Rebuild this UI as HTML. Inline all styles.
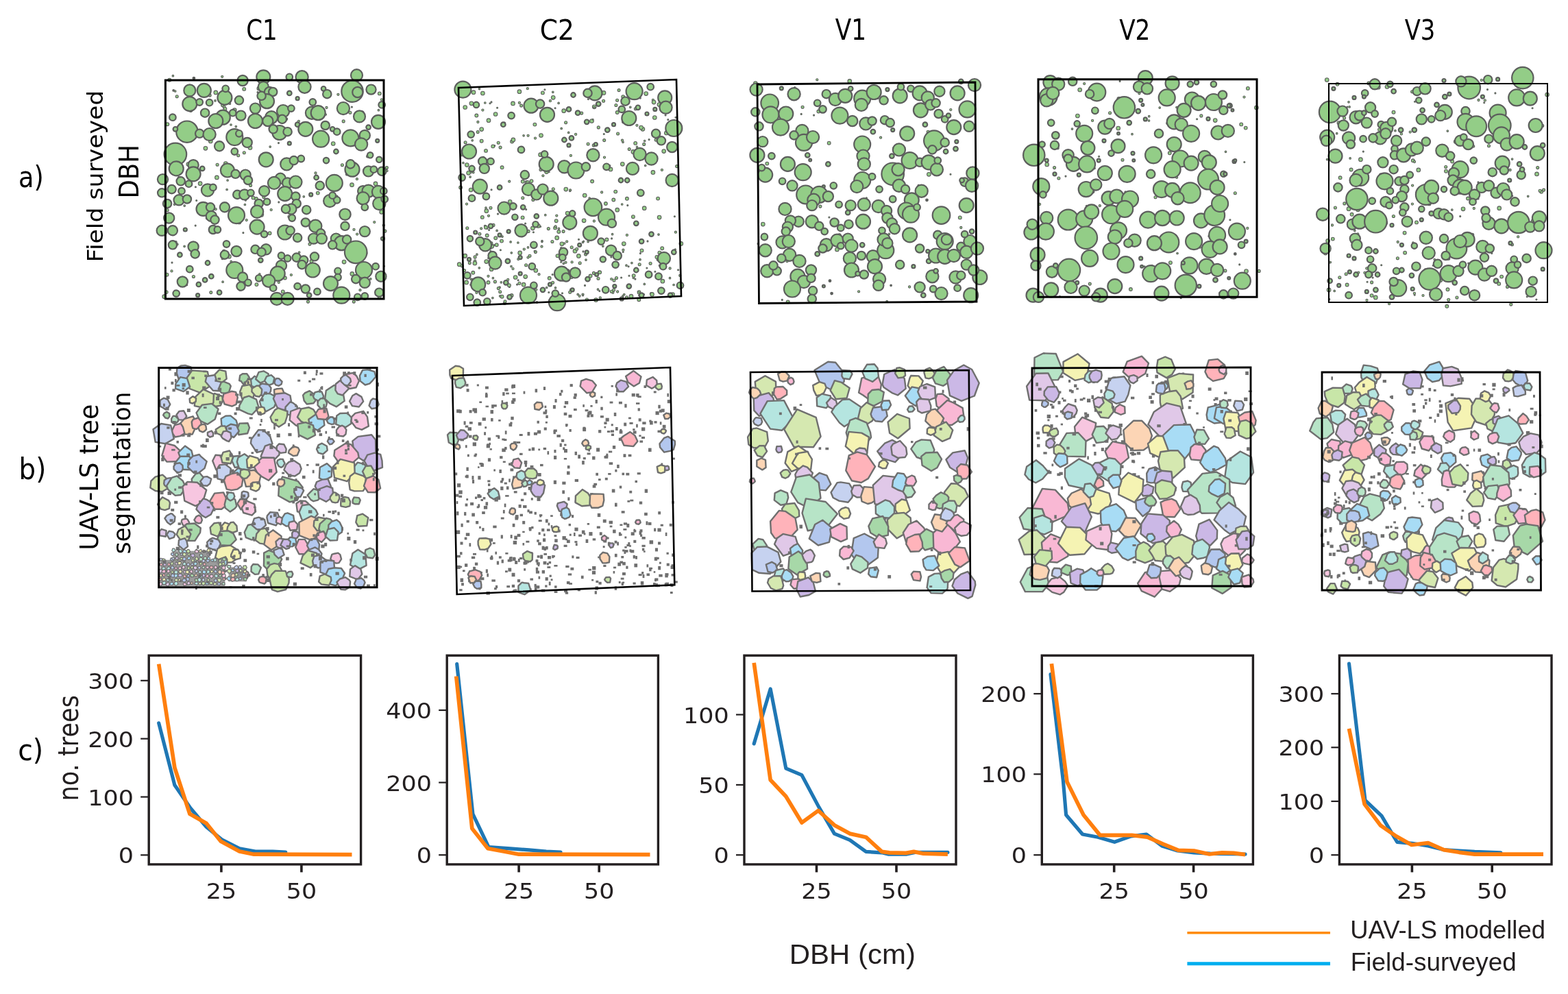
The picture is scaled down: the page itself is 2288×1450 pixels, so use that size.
<!DOCTYPE html>
<html><head><meta charset="utf-8"><title>Figure</title>
<style>html,body{margin:0;padding:0;background:#fff;} svg{display:block;}</style></head>
<body><svg width="2288" height="1450" viewBox="0 0 2288 1450">
<rect width="2288" height="1450" fill="#fff"/>
<g fill="#93cd87" stroke="#5c5e5c" stroke-width="2.2">
<circle cx="342.3" cy="160.7" r="2.8" stroke-width="1.1"/>
<circle cx="251.0" cy="383.1" r="1.0" stroke-width="1.1"/>
<circle cx="356.2" cy="129.9" r="2.4" stroke-width="1.1"/>
<circle cx="306.2" cy="139.1" r="2.0" stroke-width="1.1"/>
<circle cx="258.2" cy="140.7" r="2.0" stroke-width="1.1"/>
<circle cx="254.6" cy="298.2" r="1.3" stroke-width="1.1"/>
<circle cx="444.0" cy="304.0" r="1.0" stroke-width="1.1"/>
<circle cx="426.2" cy="242.2" r="1.3" stroke-width="1.1"/>
<circle cx="250.5" cy="395.4" r="1.6" stroke-width="1.1"/>
<circle cx="373.9" cy="290.0" r="2.4" stroke-width="1.1"/>
<circle cx="337.2" cy="381.4" r="1.3" stroke-width="1.1"/>
<circle cx="269.2" cy="300.1" r="1.3" stroke-width="1.1"/>
<circle cx="358.4" cy="292.3" r="1.0" stroke-width="1.1"/>
<circle cx="422.0" cy="316.0" r="2.0" stroke-width="1.1"/>
<circle cx="460.5" cy="252.5" r="1.6" stroke-width="1.1"/>
<circle cx="389.3" cy="417.0" r="1.6" stroke-width="1.1"/>
<circle cx="334.4" cy="374.2" r="2.8" stroke-width="1.1"/>
<circle cx="493.4" cy="137.8" r="1.6" stroke-width="1.1"/>
<circle cx="409.0" cy="401.0" r="2.8" stroke-width="1.1"/>
<circle cx="383.7" cy="312.6" r="1.0" stroke-width="1.1"/>
<circle cx="274.1" cy="249.3" r="1.6" stroke-width="1.1"/>
<circle cx="285.4" cy="272.8" r="1.0" stroke-width="1.1"/>
<circle cx="553.8" cy="136.4" r="2.4" stroke-width="1.1"/>
<circle cx="424.9" cy="401.1" r="1.6" stroke-width="1.1"/>
<circle cx="347.7" cy="226.8" r="2.0" stroke-width="1.1"/>
<circle cx="427.2" cy="262.0" r="1.0" stroke-width="1.1"/>
<circle cx="548.0" cy="267.9" r="2.8" stroke-width="1.1"/>
<circle cx="256.6" cy="353.2" r="1.6" stroke-width="1.1"/>
<circle cx="449.5" cy="440.1" r="2.0" stroke-width="1.1"/>
<circle cx="329.3" cy="238.6" r="2.8" stroke-width="1.1"/>
<circle cx="350.0" cy="422.7" r="1.6" stroke-width="1.1"/>
<circle cx="290.7" cy="149.5" r="1.0" stroke-width="1.1"/>
<circle cx="307.3" cy="206.0" r="2.8" stroke-width="1.1"/>
<circle cx="317.1" cy="240.3" r="2.0" stroke-width="1.1"/>
<circle cx="261.7" cy="259.6" r="2.4" stroke-width="1.1"/>
<circle cx="327.1" cy="156.0" r="2.0" stroke-width="1.1"/>
<circle cx="521.3" cy="203.0" r="2.0" stroke-width="1.1"/>
<circle cx="561.9" cy="337.1" r="2.0" stroke-width="1.1"/>
<circle cx="552.4" cy="160.7" r="1.3" stroke-width="1.1"/>
<circle cx="285.2" cy="329.1" r="1.0" stroke-width="1.1"/>
<circle cx="395.7" cy="306.1" r="1.6" stroke-width="1.1"/>
<circle cx="328.4" cy="158.9" r="2.4" stroke-width="1.1"/>
<circle cx="357.4" cy="298.5" r="1.3" stroke-width="1.1"/>
<circle cx="463.8" cy="281.6" r="2.4" stroke-width="1.1"/>
<circle cx="452.0" cy="356.1" r="2.0" stroke-width="1.1"/>
<circle cx="533.1" cy="369.4" r="2.8" stroke-width="1.1"/>
<circle cx="499.4" cy="240.8" r="2.0" stroke-width="1.1"/>
<circle cx="365.6" cy="270.4" r="2.0" stroke-width="1.1"/>
<circle cx="255.7" cy="133.0" r="1.3" stroke-width="1.1"/>
<circle cx="381.0" cy="147.1" r="2.4" stroke-width="1.1"/>
<circle cx="252.4" cy="110.7" r="1.3" stroke-width="1.1"/>
<circle cx="412.8" cy="425.4" r="2.4" stroke-width="1.1"/>
<circle cx="243.5" cy="400.7" r="2.4" stroke-width="1.1"/>
<circle cx="359.7" cy="321.1" r="1.6" stroke-width="1.1"/>
<circle cx="434.6" cy="267.9" r="1.0" stroke-width="1.1"/>
<circle cx="516.3" cy="440.1" r="2.0" stroke-width="1.1"/>
<circle cx="394.2" cy="214.1" r="1.3" stroke-width="1.1"/>
<circle cx="268.9" cy="224.3" r="1.6" stroke-width="1.1"/>
<circle cx="393.6" cy="340.2" r="2.4" stroke-width="1.1"/>
<circle cx="242.7" cy="426.1" r="2.4" stroke-width="1.1"/>
<circle cx="354.9" cy="339.6" r="1.0" stroke-width="1.1"/>
<circle cx="486.2" cy="209.5" r="2.8" stroke-width="1.1"/>
<circle cx="521.1" cy="341.6" r="1.6" stroke-width="1.1"/>
<circle cx="406.8" cy="411.9" r="1.6" stroke-width="1.1"/>
<circle cx="490.8" cy="287.3" r="2.4" stroke-width="1.1"/>
<circle cx="344.3" cy="184.6" r="1.3" stroke-width="1.1"/>
<circle cx="502.1" cy="382.1" r="2.8" stroke-width="1.1"/>
<circle cx="501.2" cy="176.9" r="2.0" stroke-width="1.1"/>
<circle cx="352.8" cy="120.2" r="1.0" stroke-width="1.1"/>
<circle cx="496.8" cy="267.3" r="1.3" stroke-width="1.1"/>
<circle cx="464.5" cy="428.0" r="2.0" stroke-width="1.1"/>
<circle cx="502.9" cy="350.5" r="1.6" stroke-width="1.1"/>
<circle cx="551.5" cy="231.6" r="1.3" stroke-width="1.1"/>
<circle cx="268.9" cy="266.6" r="1.6" stroke-width="1.1"/>
<circle cx="302.7" cy="317.7" r="2.4" stroke-width="1.1"/>
<circle cx="513.5" cy="269.7" r="2.8" stroke-width="1.1"/>
<circle cx="349.0" cy="324.0" r="2.8" stroke-width="1.1"/>
<circle cx="274.8" cy="239.5" r="2.8" stroke-width="1.1"/>
<circle cx="483.6" cy="269.2" r="1.3" stroke-width="1.1"/>
<circle cx="378.8" cy="321.6" r="1.0" stroke-width="1.1"/>
<circle cx="500.4" cy="433.0" r="2.0" stroke-width="1.1"/>
<circle cx="388.5" cy="357.2" r="1.0" stroke-width="1.1"/>
<circle cx="475.2" cy="167.0" r="1.3" stroke-width="1.1"/>
<circle cx="244.2" cy="306.6" r="2.0" stroke-width="1.1"/>
<circle cx="502.3" cy="159.1" r="2.4" stroke-width="1.1"/>
<circle cx="559.8" cy="328.7" r="1.6" stroke-width="1.1"/>
<circle cx="286.7" cy="292.5" r="1.0" stroke-width="1.1"/>
<circle cx="239.7" cy="432.7" r="2.8" stroke-width="1.1"/>
<circle cx="269.1" cy="359.3" r="1.3" stroke-width="1.1"/>
<circle cx="378.8" cy="399.8" r="1.3" stroke-width="1.1"/>
<circle cx="244.3" cy="181.2" r="2.4" stroke-width="1.1"/>
<circle cx="314.7" cy="305.2" r="1.6" stroke-width="1.1"/>
<circle cx="415.4" cy="387.4" r="1.0" stroke-width="1.1"/>
<circle cx="536.6" cy="228.0" r="2.0" stroke-width="1.1"/>
<circle cx="454.5" cy="381.0" r="2.4" stroke-width="1.1"/>
<circle cx="374.4" cy="415.1" r="2.4" stroke-width="1.1"/>
<circle cx="278.4" cy="161.0" r="2.4" stroke-width="1.1"/>
<circle cx="241.2" cy="256.6" r="1.3" stroke-width="1.1"/>
<circle cx="436.7" cy="368.1" r="1.3" stroke-width="1.1"/>
<circle cx="292.1" cy="267.7" r="2.8" stroke-width="1.1"/>
<circle cx="274.9" cy="131.1" r="2.8" stroke-width="1.1"/>
<circle cx="406.8" cy="294.9" r="1.0" stroke-width="1.1"/>
<circle cx="527.7" cy="129.5" r="1.3" stroke-width="1.1"/>
<circle cx="326.8" cy="366.8" r="2.4" stroke-width="1.1"/>
<circle cx="384.9" cy="119.9" r="1.0" stroke-width="1.1"/>
<circle cx="381.9" cy="313.8" r="2.4" stroke-width="1.1"/>
<circle cx="435.9" cy="176.8" r="1.6" stroke-width="1.1"/>
<circle cx="384.9" cy="287.5" r="2.0" stroke-width="1.1"/>
<circle cx="403.3" cy="192.8" r="2.4" stroke-width="1.1"/>
<circle cx="525.5" cy="423.2" r="1.6" stroke-width="1.1"/>
<circle cx="540.8" cy="406.8" r="1.3" stroke-width="1.1"/>
<circle cx="513.4" cy="156.1" r="1.0" stroke-width="1.1"/>
<circle cx="365.0" cy="215.4" r="2.8" stroke-width="1.1"/>
<circle cx="314.8" cy="134.9" r="2.8" stroke-width="1.1"/>
<circle cx="335.4" cy="151.2" r="1.3" stroke-width="1.1"/>
<circle cx="546.3" cy="324.1" r="1.6" stroke-width="1.1"/>
<circle cx="282.4" cy="403.5" r="2.0" stroke-width="1.1"/>
<circle cx="307.8" cy="426.6" r="2.0" stroke-width="1.1"/>
<circle cx="528.2" cy="164.6" r="2.8" stroke-width="1.1"/>
<circle cx="510.9" cy="164.2" r="2.0" stroke-width="1.1"/>
<circle cx="564.4" cy="244.6" r="2.0" stroke-width="1.1"/>
<circle cx="299.9" cy="216.3" r="2.8" stroke-width="1.1"/>
<circle cx="356.3" cy="222.7" r="2.0" stroke-width="1.1"/>
<circle cx="381.0" cy="116.6" r="1.6" stroke-width="1.1"/>
<circle cx="406.5" cy="208.6" r="1.0" stroke-width="1.1"/>
<circle cx="272.4" cy="415.4" r="1.3" stroke-width="1.1"/>
<circle cx="557.0" cy="145.4" r="1.6" stroke-width="1.1"/>
<circle cx="325.1" cy="411.2" r="1.3" stroke-width="1.1"/>
<circle cx="324.6" cy="153.6" r="2.0" stroke-width="1.1"/>
<circle cx="516.5" cy="334.9" r="1.6" stroke-width="1.1"/>
<circle cx="369.5" cy="288.6" r="2.4" stroke-width="1.1"/>
<circle cx="424.1" cy="343.0" r="1.0" stroke-width="1.1"/>
<circle cx="327.5" cy="375.9" r="1.3" stroke-width="1.1"/>
<circle cx="376.0" cy="134.6" r="1.0" stroke-width="1.1"/>
<circle cx="445.2" cy="376.6" r="1.0" stroke-width="1.1"/>
<circle cx="436.5" cy="184.4" r="1.6" stroke-width="1.1"/>
<circle cx="520.9" cy="261.2" r="1.6" stroke-width="1.1"/>
<circle cx="564.5" cy="249.2" r="1.6" stroke-width="1.1"/>
<circle cx="441.0" cy="125.0" r="2.8" stroke-width="1.1"/>
<circle cx="314.0" cy="146.9" r="1.3" stroke-width="1.1"/>
<circle cx="321.8" cy="170.7" r="1.6" stroke-width="1.1"/>
<circle cx="443.3" cy="286.8" r="1.3" stroke-width="1.1"/>
<circle cx="331.1" cy="276.5" r="1.3" stroke-width="1.1"/>
<circle cx="324.7" cy="377.2" r="1.6" stroke-width="1.1"/>
<circle cx="247.3" cy="116.7" r="2.4" stroke-width="1.1"/>
<circle cx="417.6" cy="173.5" r="2.0" stroke-width="1.1"/>
<circle cx="316.4" cy="258.9" r="2.8" stroke-width="1.1"/>
<circle cx="506.4" cy="254.0" r="2.0" stroke-width="1.1"/>
<circle cx="415.9" cy="405.5" r="2.4" stroke-width="1.1"/>
<circle cx="337.0" cy="182.0" r="1.3" stroke-width="1.1"/>
<circle cx="348.6" cy="386.7" r="2.8" stroke-width="1.1"/>
<circle cx="476.5" cy="157.0" r="1.6" stroke-width="1.1"/>
<circle cx="560.4" cy="388.3" r="1.0" stroke-width="1.1"/>
<circle cx="258.5" cy="356.4" r="1.6" stroke-width="1.1"/>
<circle cx="377.8" cy="129.0" r="2.8" stroke-width="1.1"/>
<circle cx="513.8" cy="399.4" r="2.8" stroke-width="1.1"/>
<circle cx="556.7" cy="309.3" r="2.8" stroke-width="1.1"/>
<circle cx="332.1" cy="263.0" r="1.3" stroke-width="1.1"/>
<circle cx="324.2" cy="111.8" r="1.6" stroke-width="1.1"/>
<circle cx="553.7" cy="433.3" r="2.4" stroke-width="1.1"/>
<circle cx="282.9" cy="114.1" r="1.3"/>
<circle cx="354.1" cy="117.5" r="7.6"/>
<circle cx="384.3" cy="112.3" r="10.0"/>
<circle cx="422.3" cy="112.3" r="4.8"/>
<circle cx="440.6" cy="112.3" r="9.1"/>
<circle cx="444.5" cy="126.7" r="9.1"/>
<circle cx="520.5" cy="109.7" r="8.5"/>
<circle cx="276.8" cy="131.9" r="8.5"/>
<circle cx="297.8" cy="131.9" r="10.0"/>
<circle cx="327.9" cy="142.4" r="10.5"/>
<circle cx="329.2" cy="129.3" r="4.8"/>
<circle cx="348.9" cy="146.3" r="6.2"/>
<circle cx="384.3" cy="126.7" r="7.6"/>
<circle cx="393.4" cy="134.5" r="7.6"/>
<circle cx="398.2" cy="134.0" r="6.2"/>
<circle cx="422.3" cy="135.9" r="3.3"/>
<circle cx="434.1" cy="143.7" r="2.5"/>
<circle cx="472.1" cy="129.3" r="3.3"/>
<circle cx="477.3" cy="137.2" r="6.2"/>
<circle cx="514.0" cy="133.2" r="15.7"/>
<circle cx="521.8" cy="134.5" r="7.6"/>
<circle cx="541.5" cy="130.6" r="7.1"/>
<circle cx="253.2" cy="131.9" r="0.8"/>
<circle cx="276.8" cy="151.6" r="10.5"/>
<circle cx="291.2" cy="149.0" r="4.8"/>
<circle cx="305.6" cy="149.7" r="4.8"/>
<circle cx="389.5" cy="147.7" r="10.5"/>
<circle cx="381.6" cy="139.8" r="6.2"/>
<circle cx="372.5" cy="158.1" r="7.6"/>
<circle cx="372.5" cy="176.5" r="10.5"/>
<circle cx="351.5" cy="168.6" r="7.1"/>
<circle cx="339.7" cy="164.7" r="4.8"/>
<circle cx="325.3" cy="171.2" r="10.5"/>
<circle cx="314.8" cy="176.5" r="10.5"/>
<circle cx="299.1" cy="164.7" r="6.2"/>
<circle cx="251.9" cy="171.2" r="4.8"/>
<circle cx="396.1" cy="171.2" r="9.1"/>
<circle cx="390.8" cy="176.5" r="7.6"/>
<circle cx="413.1" cy="162.1" r="9.1"/>
<circle cx="424.9" cy="158.1" r="4.8"/>
<circle cx="411.8" cy="173.9" r="6.2"/>
<circle cx="456.3" cy="149.0" r="4.8"/>
<circle cx="455.0" cy="164.7" r="9.1"/>
<circle cx="464.2" cy="164.7" r="10.5"/>
<circle cx="500.9" cy="158.1" r="9.1"/>
<circle cx="524.5" cy="169.9" r="8.5"/>
<circle cx="552.0" cy="177.8" r="10.0"/>
<circle cx="557.2" cy="152.9" r="4.8"/>
<circle cx="434.1" cy="181.7" r="3.3"/>
<circle cx="445.8" cy="188.3" r="10.5"/>
<circle cx="474.7" cy="183.0" r="6.2"/>
<circle cx="485.2" cy="188.3" r="3.3"/>
<circle cx="537.6" cy="185.6" r="3.3"/>
<circle cx="407.9" cy="193.5" r="10.5"/>
<circle cx="419.6" cy="192.2" r="6.2"/>
<circle cx="398.7" cy="188.3" r="6.2"/>
<circle cx="272.9" cy="192.2" r="15.7"/>
<circle cx="255.9" cy="188.3" r="3.3"/>
<circle cx="291.2" cy="194.8" r="6.2"/>
<circle cx="305.6" cy="196.1" r="9.1"/>
<circle cx="342.3" cy="200.1" r="12.0"/>
<circle cx="348.9" cy="194.8" r="4.8"/>
<circle cx="360.7" cy="207.9" r="7.1"/>
<circle cx="320.1" cy="213.2" r="7.1"/>
<circle cx="342.3" cy="221.0" r="4.8"/>
<circle cx="468.1" cy="202.7" r="12.0"/>
<circle cx="491.7" cy="192.2" r="4.8"/>
<circle cx="511.4" cy="201.4" r="12.0"/>
<circle cx="532.3" cy="197.4" r="7.6"/>
<circle cx="527.1" cy="210.5" r="9.1"/>
<circle cx="550.7" cy="205.3" r="2.5"/>
<circle cx="422.3" cy="209.2" r="2.5"/>
<circle cx="255.9" cy="225.0" r="16.3"/>
<circle cx="388.2" cy="232.8" r="10.5"/>
<circle cx="418.3" cy="239.4" r="9.1"/>
<circle cx="428.8" cy="234.1" r="6.2"/>
<circle cx="439.3" cy="231.5" r="4.8"/>
<circle cx="476.0" cy="234.1" r="4.2"/>
<circle cx="490.4" cy="221.0" r="3.3"/>
<circle cx="540.2" cy="226.3" r="4.2"/>
<circle cx="553.3" cy="232.8" r="4.2"/>
<circle cx="514.0" cy="247.2" r="10.5"/>
<circle cx="511.4" cy="239.4" r="6.2"/>
<circle cx="537.6" cy="249.9" r="7.6"/>
<circle cx="545.4" cy="247.2" r="4.8"/>
<circle cx="557.2" cy="249.9" r="6.2"/>
<circle cx="257.2" cy="245.9" r="10.5"/>
<circle cx="282.1" cy="240.7" r="7.6"/>
<circle cx="282.1" cy="253.8" r="10.5"/>
<circle cx="295.2" cy="245.9" r="3.3"/>
<circle cx="331.9" cy="248.5" r="10.0"/>
<circle cx="343.6" cy="253.8" r="6.2"/>
<circle cx="358.1" cy="255.1" r="7.6"/>
<circle cx="362.0" cy="263.0" r="6.2"/>
<circle cx="461.6" cy="259.0" r="3.3"/>
<circle cx="487.8" cy="266.9" r="12.0"/>
<circle cx="466.8" cy="270.8" r="6.2"/>
<circle cx="237.5" cy="261.6" r="7.6"/>
<circle cx="263.7" cy="264.3" r="6.2"/>
<circle cx="275.5" cy="268.2" r="4.8"/>
<circle cx="409.2" cy="260.3" r="7.6"/>
<circle cx="419.6" cy="266.9" r="7.6"/>
<circle cx="431.4" cy="265.6" r="9.1"/>
<circle cx="400.0" cy="266.9" r="9.1"/>
<circle cx="385.6" cy="278.7" r="7.6"/>
<circle cx="415.7" cy="282.6" r="10.5"/>
<circle cx="431.4" cy="286.5" r="6.2"/>
<circle cx="303.0" cy="277.4" r="9.1"/>
<circle cx="310.9" cy="273.4" r="4.8"/>
<circle cx="250.6" cy="276.1" r="6.2"/>
<circle cx="236.2" cy="281.3" r="6.2"/>
<circle cx="265.0" cy="278.7" r="4.8"/>
<circle cx="261.1" cy="291.8" r="7.6"/>
<circle cx="272.9" cy="290.5" r="6.2"/>
<circle cx="244.1" cy="297.0" r="6.2"/>
<circle cx="346.3" cy="283.9" r="6.2"/>
<circle cx="356.8" cy="283.9" r="7.6"/>
<circle cx="365.9" cy="281.3" r="4.8"/>
<circle cx="529.7" cy="278.7" r="7.6"/>
<circle cx="537.6" cy="278.7" r="9.1"/>
<circle cx="552.0" cy="280.0" r="9.1"/>
<circle cx="559.8" cy="278.7" r="4.8"/>
<circle cx="529.7" cy="289.2" r="9.1"/>
<circle cx="553.3" cy="297.0" r="9.1"/>
<circle cx="561.2" cy="290.5" r="4.8"/>
<circle cx="481.2" cy="293.1" r="9.1"/>
<circle cx="491.7" cy="291.8" r="4.8"/>
<circle cx="485.2" cy="285.2" r="4.8"/>
<circle cx="453.7" cy="283.9" r="2.5"/>
<circle cx="377.7" cy="297.0" r="6.2"/>
<circle cx="389.5" cy="294.4" r="4.8"/>
<circle cx="432.7" cy="297.0" r="6.2"/>
<circle cx="424.9" cy="304.9" r="7.6"/>
<circle cx="417.0" cy="304.9" r="6.2"/>
<circle cx="447.2" cy="306.2" r="6.2"/>
<circle cx="532.3" cy="302.3" r="4.8"/>
<circle cx="296.5" cy="304.9" r="10.0"/>
<circle cx="307.0" cy="302.3" r="6.2"/>
<circle cx="327.9" cy="302.3" r="7.1"/>
<circle cx="345.0" cy="314.1" r="12.0"/>
<circle cx="308.3" cy="315.4" r="7.6"/>
<circle cx="313.5" cy="320.6" r="6.2"/>
<circle cx="375.1" cy="308.8" r="9.1"/>
<circle cx="426.2" cy="318.0" r="4.8"/>
<circle cx="246.7" cy="318.0" r="7.6"/>
<circle cx="503.5" cy="312.7" r="8.2"/>
<circle cx="375.1" cy="331.1" r="10.5"/>
<circle cx="310.9" cy="335.0" r="6.2"/>
<circle cx="317.4" cy="335.0" r="4.8"/>
<circle cx="236.2" cy="336.3" r="7.6"/>
<circle cx="251.9" cy="336.3" r="7.1"/>
<circle cx="270.3" cy="335.0" r="2.5"/>
<circle cx="385.6" cy="341.6" r="4.8"/>
<circle cx="415.7" cy="339.0" r="10.5"/>
<circle cx="423.6" cy="336.3" r="6.2"/>
<circle cx="434.1" cy="346.8" r="6.2"/>
<circle cx="445.8" cy="324.5" r="6.2"/>
<circle cx="460.3" cy="329.8" r="9.1"/>
<circle cx="468.1" cy="340.3" r="6.2"/>
<circle cx="457.6" cy="348.1" r="7.6"/>
<circle cx="469.4" cy="348.1" r="7.6"/>
<circle cx="490.4" cy="348.1" r="7.6"/>
<circle cx="498.3" cy="354.7" r="10.5"/>
<circle cx="485.2" cy="357.3" r="6.2"/>
<circle cx="506.1" cy="349.4" r="6.2"/>
<circle cx="532.3" cy="337.6" r="7.6"/>
<circle cx="503.5" cy="329.8" r="6.2"/>
<circle cx="519.2" cy="367.8" r="16.3"/>
<circle cx="558.5" cy="348.1" r="2.5"/>
<circle cx="251.9" cy="357.3" r="6.2"/>
<circle cx="282.1" cy="359.9" r="7.6"/>
<circle cx="284.7" cy="370.4" r="6.2"/>
<circle cx="262.4" cy="371.7" r="3.3"/>
<circle cx="330.5" cy="356.0" r="4.8"/>
<circle cx="345.0" cy="366.5" r="7.6"/>
<circle cx="327.9" cy="371.7" r="6.2"/>
<circle cx="372.5" cy="363.8" r="6.2"/>
<circle cx="388.2" cy="363.8" r="7.6"/>
<circle cx="381.6" cy="367.8" r="6.2"/>
<circle cx="380.3" cy="379.6" r="3.3"/>
<circle cx="303.0" cy="383.5" r="3.3"/>
<circle cx="410.5" cy="373.0" r="4.8"/>
<circle cx="419.6" cy="376.9" r="4.8"/>
<circle cx="432.7" cy="375.6" r="6.2"/>
<circle cx="443.2" cy="379.6" r="6.2"/>
<circle cx="459.0" cy="374.3" r="6.2"/>
<circle cx="440.6" cy="386.1" r="6.2"/>
<circle cx="410.5" cy="387.4" r="7.6"/>
<circle cx="456.3" cy="394.0" r="10.5"/>
<circle cx="342.3" cy="394.0" r="12.0"/>
<circle cx="354.1" cy="404.5" r="7.1"/>
<circle cx="276.8" cy="392.7" r="4.8"/>
<circle cx="531.0" cy="394.0" r="12.0"/>
<circle cx="548.1" cy="388.7" r="4.8"/>
<circle cx="555.9" cy="403.2" r="7.6"/>
<circle cx="519.2" cy="407.1" r="6.2"/>
<circle cx="532.3" cy="412.3" r="7.6"/>
<circle cx="493.0" cy="395.3" r="4.8"/>
<circle cx="493.0" cy="404.5" r="4.8"/>
<circle cx="405.2" cy="399.2" r="10.5"/>
<circle cx="392.1" cy="409.7" r="9.1"/>
<circle cx="377.7" cy="405.8" r="4.8"/>
<circle cx="266.3" cy="411.0" r="7.6"/>
<circle cx="299.1" cy="408.4" r="3.3"/>
<circle cx="289.9" cy="414.9" r="3.3"/>
<circle cx="308.3" cy="403.2" r="3.3"/>
<circle cx="351.5" cy="417.6" r="6.2"/>
<circle cx="362.0" cy="412.3" r="4.8"/>
<circle cx="398.7" cy="420.2" r="4.8"/>
<circle cx="434.1" cy="417.6" r="4.8"/>
<circle cx="445.8" cy="421.5" r="6.2"/>
<circle cx="462.9" cy="425.4" r="4.8"/>
<circle cx="482.5" cy="413.6" r="10.5"/>
<circle cx="498.3" cy="430.7" r="12.0"/>
<circle cx="521.8" cy="433.3" r="4.8"/>
<circle cx="532.3" cy="432.0" r="4.8"/>
<circle cx="553.3" cy="426.7" r="6.2"/>
<circle cx="403.9" cy="435.9" r="9.1"/>
<circle cx="419.6" cy="435.9" r="9.1"/>
<circle cx="257.2" cy="428.1" r="4.8"/>
<circle cx="288.6" cy="430.7" r="2.5"/>
<circle cx="320.1" cy="426.7" r="3.3"/>
<circle cx="451.1" cy="430.7" r="3.3"/>
<circle cx="769.8" cy="129.2" r="1.6" stroke-width="1.1"/>
<circle cx="736.0" cy="179.6" r="1.6" stroke-width="1.1"/>
<circle cx="792.5" cy="273.7" r="2.4" stroke-width="1.1"/>
<circle cx="881.3" cy="195.5" r="1.0" stroke-width="1.1"/>
<circle cx="699.3" cy="390.8" r="1.3" stroke-width="1.1"/>
<circle cx="794.9" cy="130.7" r="1.0" stroke-width="1.1"/>
<circle cx="766.6" cy="326.0" r="1.0" stroke-width="1.1"/>
<circle cx="860.2" cy="289.0" r="1.3" stroke-width="1.1"/>
<circle cx="885.4" cy="349.5" r="2.4" stroke-width="1.1"/>
<circle cx="793.9" cy="224.6" r="2.0" stroke-width="1.1"/>
<circle cx="717.8" cy="359.3" r="2.8" stroke-width="1.1"/>
<circle cx="717.1" cy="392.7" r="2.8" stroke-width="1.1"/>
<circle cx="962.1" cy="317.1" r="2.8" stroke-width="1.1"/>
<circle cx="898.2" cy="279.6" r="2.4" stroke-width="1.1"/>
<circle cx="915.8" cy="299.6" r="1.0" stroke-width="1.1"/>
<circle cx="940.2" cy="303.7" r="2.8" stroke-width="1.1"/>
<circle cx="893.6" cy="341.7" r="1.3" stroke-width="1.1"/>
<circle cx="691.0" cy="134.7" r="2.8" stroke-width="1.1"/>
<circle cx="782.6" cy="152.0" r="2.0" stroke-width="1.1"/>
<circle cx="852.1" cy="321.8" r="2.8" stroke-width="1.1"/>
<circle cx="840.1" cy="195.9" r="1.6" stroke-width="1.1"/>
<circle cx="670.2" cy="385.7" r="2.8" stroke-width="1.1"/>
<circle cx="977.5" cy="405.4" r="1.0" stroke-width="1.1"/>
<circle cx="881.0" cy="135.4" r="2.8" stroke-width="1.1"/>
<circle cx="825.5" cy="382.8" r="1.6" stroke-width="1.1"/>
<circle cx="746.3" cy="368.8" r="1.3" stroke-width="1.1"/>
<circle cx="914.5" cy="433.9" r="2.0" stroke-width="1.1"/>
<circle cx="942.7" cy="136.6" r="2.8" stroke-width="1.1"/>
<circle cx="757.9" cy="133.7" r="2.8" stroke-width="1.1"/>
<circle cx="875.7" cy="139.4" r="1.3" stroke-width="1.1"/>
<circle cx="777.4" cy="332.8" r="2.8" stroke-width="1.1"/>
<circle cx="767.7" cy="305.5" r="1.0" stroke-width="1.1"/>
<circle cx="825.8" cy="276.1" r="2.8" stroke-width="1.1"/>
<circle cx="697.2" cy="192.6" r="2.0" stroke-width="1.1"/>
<circle cx="762.8" cy="288.8" r="2.0" stroke-width="1.1"/>
<circle cx="822.6" cy="369.1" r="2.4" stroke-width="1.1"/>
<circle cx="736.3" cy="442.5" r="2.0" stroke-width="1.1"/>
<circle cx="672.1" cy="273.5" r="2.4" stroke-width="1.1"/>
<circle cx="986.0" cy="257.6" r="1.6" stroke-width="1.1"/>
<circle cx="797.7" cy="419.5" r="1.3" stroke-width="1.1"/>
<circle cx="687.9" cy="150.8" r="2.8" stroke-width="1.1"/>
<circle cx="843.2" cy="429.4" r="1.3" stroke-width="1.1"/>
<circle cx="866.9" cy="322.5" r="1.6" stroke-width="1.1"/>
<circle cx="961.0" cy="342.1" r="1.3" stroke-width="1.1"/>
<circle cx="834.0" cy="404.5" r="2.0" stroke-width="1.1"/>
<circle cx="670.7" cy="122.8" r="2.0" stroke-width="1.1"/>
<circle cx="891.0" cy="246.9" r="2.8" stroke-width="1.1"/>
<circle cx="711.8" cy="233.8" r="1.6" stroke-width="1.1"/>
<circle cx="705.2" cy="229.9" r="1.6" stroke-width="1.1"/>
<circle cx="917.1" cy="388.7" r="1.0" stroke-width="1.1"/>
<circle cx="974.8" cy="174.5" r="1.0" stroke-width="1.1"/>
<circle cx="962.8" cy="206.0" r="1.6" stroke-width="1.1"/>
<circle cx="687.2" cy="250.1" r="2.4" stroke-width="1.1"/>
<circle cx="695.4" cy="426.9" r="1.6" stroke-width="1.1"/>
<circle cx="947.1" cy="203.6" r="1.0" stroke-width="1.1"/>
<circle cx="940.7" cy="205.5" r="1.3" stroke-width="1.1"/>
<circle cx="747.1" cy="206.5" r="2.4" stroke-width="1.1"/>
<circle cx="773.0" cy="373.2" r="2.0" stroke-width="1.1"/>
<circle cx="960.9" cy="377.9" r="2.8" stroke-width="1.1"/>
<circle cx="801.7" cy="405.8" r="2.4" stroke-width="1.1"/>
<circle cx="756.1" cy="408.8" r="1.0" stroke-width="1.1"/>
<circle cx="813.5" cy="373.2" r="2.4" stroke-width="1.1"/>
<circle cx="786.5" cy="400.2" r="1.6" stroke-width="1.1"/>
<circle cx="746.6" cy="431.0" r="2.4" stroke-width="1.1"/>
<circle cx="693.1" cy="380.3" r="1.6" stroke-width="1.1"/>
<circle cx="716.2" cy="355.3" r="2.8" stroke-width="1.1"/>
<circle cx="819.9" cy="355.8" r="2.8" stroke-width="1.1"/>
<circle cx="709.7" cy="381.6" r="2.8" stroke-width="1.1"/>
<circle cx="733.0" cy="345.1" r="1.3" stroke-width="1.1"/>
<circle cx="685.3" cy="383.6" r="2.0" stroke-width="1.1"/>
<circle cx="756.3" cy="378.1" r="1.6" stroke-width="1.1"/>
<circle cx="822.9" cy="377.7" r="1.3" stroke-width="1.1"/>
<circle cx="755.9" cy="354.0" r="1.3" stroke-width="1.1"/>
<circle cx="725.1" cy="336.4" r="1.3" stroke-width="1.1"/>
<circle cx="729.1" cy="419.2" r="1.3" stroke-width="1.1"/>
<circle cx="806.6" cy="412.3" r="2.0" stroke-width="1.1"/>
<circle cx="731.3" cy="411.8" r="1.3" stroke-width="1.1"/>
<circle cx="730.4" cy="364.8" r="1.0" stroke-width="1.1"/>
<circle cx="748.5" cy="392.1" r="1.6" stroke-width="1.1"/>
<circle cx="692.9" cy="383.9" r="2.8" stroke-width="1.1"/>
<circle cx="792.1" cy="423.7" r="1.0" stroke-width="1.1"/>
<circle cx="714.5" cy="354.5" r="2.0" stroke-width="1.1"/>
<circle cx="770.5" cy="375.6" r="1.6" stroke-width="1.1"/>
<circle cx="800.8" cy="426.5" r="1.0" stroke-width="1.1"/>
<circle cx="693.1" cy="374.9" r="2.0" stroke-width="1.1"/>
<circle cx="818.7" cy="382.3" r="1.0" stroke-width="1.1"/>
<circle cx="732.5" cy="432.7" r="2.4" stroke-width="1.1"/>
<circle cx="801.8" cy="438.0" r="1.3" stroke-width="1.1"/>
<circle cx="791.0" cy="351.7" r="1.3" stroke-width="1.1"/>
<circle cx="752.1" cy="404.5" r="2.8" stroke-width="1.1"/>
<circle cx="778.8" cy="423.5" r="2.0" stroke-width="1.1"/>
<circle cx="686.8" cy="415.4" r="1.0" stroke-width="1.1"/>
<circle cx="790.9" cy="352.7" r="1.0" stroke-width="1.1"/>
<circle cx="770.5" cy="360.9" r="1.3" stroke-width="1.1"/>
<circle cx="767.6" cy="386.8" r="2.0" stroke-width="1.1"/>
<circle cx="778.4" cy="338.8" r="1.0" stroke-width="1.1"/>
<circle cx="718.9" cy="434.6" r="1.3" stroke-width="1.1"/>
<circle cx="732.0" cy="351.6" r="2.4" stroke-width="1.1"/>
<circle cx="674.2" cy="387.8" r="2.0" stroke-width="1.1"/>
<circle cx="715.7" cy="362.3" r="1.3" stroke-width="1.1"/>
<circle cx="745.1" cy="352.9" r="1.3" stroke-width="1.1"/>
<circle cx="678.4" cy="373.3" r="2.8" stroke-width="1.1"/>
<circle cx="720.0" cy="328.4" r="2.0" stroke-width="1.1"/>
<circle cx="806.2" cy="400.5" r="1.0" stroke-width="1.1"/>
<circle cx="712.5" cy="402.8" r="1.6" stroke-width="1.1"/>
<circle cx="707.9" cy="329.8" r="1.6" stroke-width="1.1"/>
<circle cx="781.4" cy="367.6" r="2.0" stroke-width="1.1"/>
<circle cx="703.7" cy="417.8" r="2.8" stroke-width="1.1"/>
<circle cx="800.3" cy="333.6" r="2.0" stroke-width="1.1"/>
<circle cx="818.9" cy="361.8" r="1.3" stroke-width="1.1"/>
<circle cx="708.5" cy="351.4" r="1.6" stroke-width="1.1"/>
<circle cx="690.3" cy="397.8" r="2.4" stroke-width="1.1"/>
<circle cx="702.0" cy="351.6" r="2.0" stroke-width="1.1"/>
<circle cx="810.1" cy="332.4" r="2.4" stroke-width="1.1"/>
<circle cx="695.9" cy="371.2" r="1.3" stroke-width="1.1"/>
<circle cx="677.6" cy="394.6" r="2.0" stroke-width="1.1"/>
<circle cx="681.8" cy="332.8" r="2.0" stroke-width="1.1"/>
<circle cx="741.2" cy="407.9" r="1.6" stroke-width="1.1"/>
<circle cx="783.5" cy="440.9" r="1.3" stroke-width="1.1"/>
<circle cx="723.2" cy="347.2" r="2.4" stroke-width="1.1"/>
<circle cx="785.5" cy="329.5" r="2.8" stroke-width="1.1"/>
<circle cx="782.4" cy="422.6" r="1.6" stroke-width="1.1"/>
<circle cx="740.2" cy="338.4" r="1.0" stroke-width="1.1"/>
<circle cx="715.9" cy="366.4" r="1.0" stroke-width="1.1"/>
<circle cx="757.9" cy="413.3" r="2.0" stroke-width="1.1"/>
<circle cx="727.3" cy="420.6" r="2.0" stroke-width="1.1"/>
<circle cx="687.2" cy="407.2" r="1.3" stroke-width="1.1"/>
<circle cx="729.7" cy="431.9" r="1.3" stroke-width="1.1"/>
<circle cx="722.4" cy="410.9" r="2.0" stroke-width="1.1"/>
<circle cx="678.6" cy="373.2" r="2.8" stroke-width="1.1"/>
<circle cx="788.6" cy="330.5" r="1.0" stroke-width="1.1"/>
<circle cx="743.4" cy="418.5" r="1.0" stroke-width="1.1"/>
<circle cx="712.5" cy="412.0" r="2.4" stroke-width="1.1"/>
<circle cx="724.7" cy="357.2" r="2.4" stroke-width="1.1"/>
<circle cx="680.6" cy="411.9" r="2.8" stroke-width="1.1"/>
<circle cx="721.3" cy="357.6" r="1.0" stroke-width="1.1"/>
<circle cx="781.8" cy="394.5" r="2.8" stroke-width="1.1"/>
<circle cx="815.4" cy="333.4" r="1.3" stroke-width="1.1"/>
<circle cx="690.1" cy="408.4" r="2.0" stroke-width="1.1"/>
<circle cx="816.6" cy="370.4" r="1.6" stroke-width="1.1"/>
<circle cx="810.5" cy="419.8" r="1.3" stroke-width="1.1"/>
<circle cx="812.7" cy="346.9" r="2.8" stroke-width="1.1"/>
<circle cx="719.4" cy="405.7" r="1.3" stroke-width="1.1"/>
<circle cx="764.8" cy="363.6" r="1.6" stroke-width="1.1"/>
<circle cx="742.9" cy="416.2" r="2.4" stroke-width="1.1"/>
<circle cx="685.9" cy="348.6" r="1.3" stroke-width="1.1"/>
<circle cx="711.0" cy="333.3" r="1.0" stroke-width="1.1"/>
<circle cx="746.0" cy="388.6" r="1.3" stroke-width="1.1"/>
<circle cx="820.5" cy="427.7" r="1.0" stroke-width="1.1"/>
<circle cx="713.6" cy="335.5" r="1.0" stroke-width="1.1"/>
<circle cx="737.0" cy="439.8" r="2.0" stroke-width="1.1"/>
<circle cx="699.9" cy="341.2" r="2.0" stroke-width="1.1"/>
<circle cx="766.7" cy="403.6" r="2.8" stroke-width="1.1"/>
<circle cx="754.5" cy="415.1" r="1.0" stroke-width="1.1"/>
<circle cx="790.5" cy="359.7" r="1.6" stroke-width="1.1"/>
<circle cx="758.7" cy="368.9" r="2.8" stroke-width="1.1"/>
<circle cx="713.0" cy="376.5" r="1.3" stroke-width="1.1"/>
<circle cx="710.7" cy="343.5" r="2.4" stroke-width="1.1"/>
<circle cx="702.2" cy="333.3" r="1.6" stroke-width="1.1"/>
<circle cx="822.3" cy="384.3" r="1.3" stroke-width="1.1"/>
<circle cx="771.1" cy="337.4" r="2.0" stroke-width="1.1"/>
<circle cx="822.1" cy="337.6" r="2.0" stroke-width="1.1"/>
<circle cx="805.9" cy="352.5" r="2.0" stroke-width="1.1"/>
<circle cx="810.6" cy="330.5" r="1.6" stroke-width="1.1"/>
<circle cx="708.9" cy="331.7" r="2.4" stroke-width="1.1"/>
<circle cx="819.4" cy="393.1" r="1.0" stroke-width="1.1"/>
<circle cx="729.7" cy="425.7" r="2.0" stroke-width="1.1"/>
<circle cx="764.1" cy="415.2" r="2.8" stroke-width="1.1"/>
<circle cx="815.3" cy="338.0" r="2.4" stroke-width="1.1"/>
<circle cx="780.1" cy="366.2" r="1.0" stroke-width="1.1"/>
<circle cx="886.2" cy="364.3" r="1.3" stroke-width="1.1"/>
<circle cx="993.8" cy="355.4" r="2.8" stroke-width="1.1"/>
<circle cx="934.4" cy="369.6" r="1.0" stroke-width="1.1"/>
<circle cx="962.9" cy="387.4" r="1.6" stroke-width="1.1"/>
<circle cx="855.0" cy="379.1" r="1.3" stroke-width="1.1"/>
<circle cx="828.8" cy="394.9" r="2.0" stroke-width="1.1"/>
<circle cx="834.2" cy="360.8" r="2.0" stroke-width="1.1"/>
<circle cx="936.5" cy="365.4" r="2.4" stroke-width="1.1"/>
<circle cx="839.0" cy="366.2" r="2.8" stroke-width="1.1"/>
<circle cx="869.6" cy="437.5" r="2.8" stroke-width="1.1"/>
<circle cx="875.8" cy="434.5" r="1.6" stroke-width="1.1"/>
<circle cx="950.4" cy="428.5" r="2.0" stroke-width="1.1"/>
<circle cx="894.4" cy="426.8" r="1.6" stroke-width="1.1"/>
<circle cx="933.2" cy="385.8" r="2.0" stroke-width="1.1"/>
<circle cx="858.1" cy="352.6" r="1.3" stroke-width="1.1"/>
<circle cx="895.6" cy="423.0" r="2.0" stroke-width="1.1"/>
<circle cx="921.9" cy="383.6" r="1.3" stroke-width="1.1"/>
<circle cx="845.6" cy="356.5" r="1.3" stroke-width="1.1"/>
<circle cx="932.6" cy="430.7" r="1.0" stroke-width="1.1"/>
<circle cx="921.0" cy="432.2" r="2.8" stroke-width="1.1"/>
<circle cx="909.4" cy="364.7" r="1.6" stroke-width="1.1"/>
<circle cx="851.0" cy="366.9" r="1.0" stroke-width="1.1"/>
<circle cx="842.0" cy="394.5" r="1.3" stroke-width="1.1"/>
<circle cx="874.8" cy="424.5" r="1.0" stroke-width="1.1"/>
<circle cx="989.6" cy="393.8" r="1.0" stroke-width="1.1"/>
<circle cx="926.9" cy="407.1" r="1.0" stroke-width="1.1"/>
<circle cx="977.5" cy="405.7" r="1.3" stroke-width="1.1"/>
<circle cx="932.5" cy="426.1" r="2.4" stroke-width="1.1"/>
<circle cx="892.3" cy="425.2" r="2.0" stroke-width="1.1"/>
<circle cx="854.6" cy="370.9" r="2.0" stroke-width="1.1"/>
<circle cx="983.3" cy="365.6" r="1.6" stroke-width="1.1"/>
<circle cx="844.4" cy="373.4" r="2.8" stroke-width="1.1"/>
<circle cx="962.4" cy="368.7" r="2.4" stroke-width="1.1"/>
<circle cx="966.9" cy="410.2" r="2.8" stroke-width="1.1"/>
<circle cx="966.2" cy="362.2" r="2.4" stroke-width="1.1"/>
<circle cx="901.1" cy="425.5" r="1.6" stroke-width="1.1"/>
<circle cx="934.0" cy="378.7" r="1.3" stroke-width="1.1"/>
<circle cx="896.0" cy="409.0" r="2.0" stroke-width="1.1"/>
<circle cx="909.2" cy="367.5" r="1.0" stroke-width="1.1"/>
<circle cx="928.9" cy="394.4" r="1.3" stroke-width="1.1"/>
<circle cx="899.5" cy="405.5" r="2.0" stroke-width="1.1"/>
<circle cx="965.9" cy="422.1" r="2.0" stroke-width="1.1"/>
<circle cx="841.7" cy="363.2" r="2.0" stroke-width="1.1"/>
<circle cx="885.7" cy="421.4" r="2.4" stroke-width="1.1"/>
<circle cx="910.3" cy="355.6" r="2.8" stroke-width="1.1"/>
<circle cx="845.6" cy="431.8" r="1.6" stroke-width="1.1"/>
<circle cx="955.9" cy="396.3" r="1.0" stroke-width="1.1"/>
<circle cx="951.5" cy="429.4" r="2.8" stroke-width="1.1"/>
<circle cx="985.4" cy="363.8" r="1.0" stroke-width="1.1"/>
<circle cx="993.1" cy="415.4" r="1.0" stroke-width="1.1"/>
<circle cx="856.4" cy="437.0" r="2.0" stroke-width="1.1"/>
<circle cx="872.5" cy="422.2" r="1.3" stroke-width="1.1"/>
<circle cx="940.3" cy="414.4" r="1.3" stroke-width="1.1"/>
<circle cx="834.6" cy="382.4" r="1.6" stroke-width="1.1"/>
<circle cx="850.5" cy="429.6" r="1.6" stroke-width="1.1"/>
<circle cx="977.6" cy="391.5" r="1.6" stroke-width="1.1"/>
<circle cx="909.0" cy="431.6" r="1.3" stroke-width="1.1"/>
<circle cx="924.3" cy="405.3" r="1.3" stroke-width="1.1"/>
<circle cx="877.8" cy="355.2" r="1.3" stroke-width="1.1"/>
<circle cx="892.2" cy="407.1" r="1.6" stroke-width="1.1"/>
<circle cx="939.2" cy="429.5" r="1.3" stroke-width="1.1"/>
<circle cx="958.4" cy="374.9" r="2.4" stroke-width="1.1"/>
<circle cx="831.7" cy="426.3" r="2.0" stroke-width="1.1"/>
<circle cx="918.0" cy="402.2" r="1.0" stroke-width="1.1"/>
<circle cx="866.4" cy="398.4" r="2.0" stroke-width="1.1"/>
<circle cx="949.1" cy="384.2" r="2.0" stroke-width="1.1"/>
<circle cx="992.2" cy="402.0" r="1.6" stroke-width="1.1"/>
<circle cx="879.8" cy="359.1" r="1.3" stroke-width="1.1"/>
<circle cx="853.5" cy="416.4" r="1.0" stroke-width="1.1"/>
<circle cx="873.9" cy="396.7" r="1.6" stroke-width="1.1"/>
<circle cx="932.3" cy="437.2" r="2.4" stroke-width="1.1"/>
<circle cx="981.6" cy="429.5" r="2.8" stroke-width="1.1"/>
<circle cx="823.7" cy="355.0" r="1.3" stroke-width="1.1"/>
<circle cx="873.0" cy="406.2" r="2.0" stroke-width="1.1"/>
<circle cx="910.8" cy="429.5" r="1.3" stroke-width="1.1"/>
<circle cx="906.6" cy="405.0" r="1.0" stroke-width="1.1"/>
<circle cx="827.2" cy="352.3" r="1.6" stroke-width="1.1"/>
<circle cx="875.2" cy="397.3" r="2.4" stroke-width="1.1"/>
<circle cx="861.6" cy="402.5" r="2.4" stroke-width="1.1"/>
<circle cx="846.2" cy="383.7" r="2.0" stroke-width="1.1"/>
<circle cx="850.5" cy="353.3" r="1.3" stroke-width="1.1"/>
<circle cx="943.9" cy="391.0" r="1.0" stroke-width="1.1"/>
<circle cx="932.1" cy="427.4" r="1.6" stroke-width="1.1"/>
<circle cx="891.9" cy="374.9" r="1.0" stroke-width="1.1"/>
<circle cx="833.0" cy="423.0" r="1.6" stroke-width="1.1"/>
<circle cx="924.7" cy="402.1" r="2.4" stroke-width="1.1"/>
<circle cx="983.1" cy="415.5" r="1.3" stroke-width="1.1"/>
<circle cx="851.6" cy="352.1" r="1.0" stroke-width="1.1"/>
<circle cx="914.0" cy="387.2" r="1.3" stroke-width="1.1"/>
<circle cx="850.6" cy="430.9" r="1.0" stroke-width="1.1"/>
<circle cx="675.9" cy="237.6" r="1.3" stroke-width="1.1"/>
<circle cx="695.3" cy="168.5" r="2.4" stroke-width="1.1"/>
<circle cx="770.1" cy="256.6" r="2.0" stroke-width="1.1"/>
<circle cx="795.6" cy="163.6" r="1.6" stroke-width="1.1"/>
<circle cx="683.6" cy="252.3" r="2.8" stroke-width="1.1"/>
<circle cx="791.0" cy="269.9" r="1.0" stroke-width="1.1"/>
<circle cx="730.1" cy="215.1" r="2.0" stroke-width="1.1"/>
<circle cx="686.1" cy="258.1" r="1.3" stroke-width="1.1"/>
<circle cx="707.8" cy="150.0" r="1.3" stroke-width="1.1"/>
<circle cx="770.3" cy="153.5" r="2.8" stroke-width="1.1"/>
<circle cx="812.3" cy="314.6" r="1.6" stroke-width="1.1"/>
<circle cx="780.4" cy="181.6" r="2.4" stroke-width="1.1"/>
<circle cx="775.5" cy="264.1" r="2.4" stroke-width="1.1"/>
<circle cx="819.2" cy="187.4" r="1.3" stroke-width="1.1"/>
<circle cx="686.8" cy="229.0" r="1.3" stroke-width="1.1"/>
<circle cx="713.0" cy="175.7" r="2.8" stroke-width="1.1"/>
<circle cx="704.4" cy="160.6" r="1.6" stroke-width="1.1"/>
<circle cx="702.7" cy="205.7" r="2.4" stroke-width="1.1"/>
<circle cx="709.8" cy="307.7" r="2.8" stroke-width="1.1"/>
<circle cx="811.7" cy="322.2" r="2.4" stroke-width="1.1"/>
<circle cx="744.2" cy="294.3" r="2.8" stroke-width="1.1"/>
<circle cx="675.0" cy="134.5" r="2.8" stroke-width="1.1"/>
<circle cx="709.0" cy="303.2" r="1.3" stroke-width="1.1"/>
<circle cx="732.6" cy="244.3" r="2.4" stroke-width="1.1"/>
<circle cx="810.1" cy="157.7" r="1.0" stroke-width="1.1"/>
<circle cx="690.8" cy="251.6" r="1.3" stroke-width="1.1"/>
<circle cx="725.6" cy="157.2" r="1.0" stroke-width="1.1"/>
<circle cx="678.7" cy="156.5" r="2.8" stroke-width="1.1"/>
<circle cx="768.8" cy="266.3" r="2.8" stroke-width="1.1"/>
<circle cx="681.0" cy="297.6" r="1.6" stroke-width="1.1"/>
<circle cx="703.8" cy="316.9" r="2.4" stroke-width="1.1"/>
<circle cx="807.2" cy="142.3" r="2.8" stroke-width="1.1"/>
<circle cx="815.1" cy="150.4" r="1.3" stroke-width="1.1"/>
<circle cx="704.4" cy="136.0" r="2.8" stroke-width="1.1"/>
<circle cx="687.1" cy="277.0" r="2.8" stroke-width="1.1"/>
<circle cx="717.0" cy="148.9" r="1.0" stroke-width="1.1"/>
<circle cx="792.4" cy="256.3" r="1.6" stroke-width="1.1"/>
<circle cx="721.7" cy="212.6" r="1.0" stroke-width="1.1"/>
<circle cx="726.5" cy="312.1" r="1.0" stroke-width="1.1"/>
<circle cx="781.0" cy="201.6" r="1.6" stroke-width="1.1"/>
<circle cx="789.0" cy="247.6" r="2.0" stroke-width="1.1"/>
<circle cx="801.2" cy="250.8" r="1.0" stroke-width="1.1"/>
<circle cx="791.9" cy="135.4" r="2.4" stroke-width="1.1"/>
<circle cx="789.5" cy="197.5" r="2.8" stroke-width="1.1"/>
<circle cx="681.3" cy="240.6" r="2.8" stroke-width="1.1"/>
<circle cx="802.9" cy="147.2" r="1.6" stroke-width="1.1"/>
<circle cx="699.5" cy="129.6" r="1.3" stroke-width="1.1"/>
<circle cx="717.1" cy="276.8" r="1.0" stroke-width="1.1"/>
<circle cx="674.7" cy="225.8" r="2.0" stroke-width="1.1"/>
<circle cx="777.9" cy="291.5" r="2.0" stroke-width="1.1"/>
<circle cx="762.6" cy="317.4" r="2.4" stroke-width="1.1"/>
<circle cx="713.0" cy="314.8" r="1.6" stroke-width="1.1"/>
<circle cx="795.8" cy="313.7" r="1.3" stroke-width="1.1"/>
<circle cx="748.5" cy="150.9" r="2.8" stroke-width="1.1"/>
<circle cx="788.6" cy="225.7" r="2.8" stroke-width="1.1"/>
<circle cx="757.9" cy="149.9" r="1.6" stroke-width="1.1"/>
<circle cx="727.2" cy="208.2" r="2.0" stroke-width="1.1"/>
<circle cx="807.3" cy="275.8" r="2.0" stroke-width="1.1"/>
<circle cx="806.8" cy="134.3" r="1.3" stroke-width="1.1"/>
<circle cx="719.3" cy="213.4" r="2.4" stroke-width="1.1"/>
<circle cx="748.9" cy="203.9" r="2.8" stroke-width="1.1"/>
<circle cx="709.0" cy="219.9" r="2.4" stroke-width="1.1"/>
<circle cx="762.8" cy="264.8" r="2.4" stroke-width="1.1"/>
<circle cx="770.6" cy="197.8" r="1.6" stroke-width="1.1"/>
<circle cx="752.0" cy="299.9" r="2.0" stroke-width="1.1"/>
<circle cx="773.0" cy="275.1" r="1.3" stroke-width="1.1"/>
<circle cx="743.2" cy="264.7" r="1.6" stroke-width="1.1"/>
<circle cx="760.6" cy="154.1" r="2.0" stroke-width="1.1"/>
<circle cx="770.1" cy="266.2" r="2.4" stroke-width="1.1"/>
<circle cx="702.7" cy="188.6" r="2.8" stroke-width="1.1"/>
<circle cx="797.5" cy="250.6" r="2.8" stroke-width="1.1"/>
<circle cx="697.4" cy="178.0" r="1.6" stroke-width="1.1"/>
<circle cx="764.1" cy="197.8" r="1.3" stroke-width="1.1"/>
<circle cx="723.1" cy="166.5" r="2.8" stroke-width="1.1"/>
<circle cx="822.7" cy="161.7" r="2.8" stroke-width="1.1"/>
<circle cx="689.2" cy="204.8" r="1.3" stroke-width="1.1"/>
<circle cx="792.8" cy="273.4" r="2.0" stroke-width="1.1"/>
<circle cx="715.0" cy="150.8" r="1.0" stroke-width="1.1"/>
<circle cx="716.0" cy="303.3" r="2.0" stroke-width="1.1"/>
<circle cx="679.1" cy="207.7" r="2.0" stroke-width="1.1"/>
<circle cx="937.9" cy="188.3" r="2.8" stroke-width="1.1"/>
<circle cx="872.3" cy="131.9" r="1.6" stroke-width="1.1"/>
<circle cx="923.1" cy="177.0" r="2.8" stroke-width="1.1"/>
<circle cx="863.4" cy="229.9" r="2.8" stroke-width="1.1"/>
<circle cx="918.2" cy="217.6" r="2.0" stroke-width="1.1"/>
<circle cx="963.1" cy="208.1" r="2.8" stroke-width="1.1"/>
<circle cx="968.7" cy="220.6" r="2.8" stroke-width="1.1"/>
<circle cx="919.8" cy="156.3" r="1.3" stroke-width="1.1"/>
<circle cx="929.4" cy="182.8" r="1.6" stroke-width="1.1"/>
<circle cx="866.3" cy="211.9" r="2.0" stroke-width="1.1"/>
<circle cx="863.5" cy="176.5" r="2.8" stroke-width="1.1"/>
<circle cx="927.4" cy="158.8" r="2.0" stroke-width="1.1"/>
<circle cx="903.1" cy="131.6" r="2.0" stroke-width="1.1"/>
<circle cx="909.0" cy="207.3" r="1.3" stroke-width="1.1"/>
<circle cx="971.1" cy="168.0" r="1.0" stroke-width="1.1"/>
<circle cx="887.6" cy="187.1" r="1.0" stroke-width="1.1"/>
<circle cx="829.7" cy="193.4" r="1.3" stroke-width="1.1"/>
<circle cx="941.7" cy="241.5" r="1.3" stroke-width="1.1"/>
<circle cx="909.2" cy="141.2" r="2.4" stroke-width="1.1"/>
<circle cx="898.9" cy="153.5" r="2.0" stroke-width="1.1"/>
<circle cx="908.0" cy="204.7" r="1.6" stroke-width="1.1"/>
<circle cx="909.6" cy="177.7" r="2.0" stroke-width="1.1"/>
<circle cx="858.1" cy="210.0" r="2.0" stroke-width="1.1"/>
<circle cx="908.3" cy="239.3" r="2.8" stroke-width="1.1"/>
<circle cx="986.0" cy="171.2" r="1.0" stroke-width="1.1"/>
<circle cx="865.1" cy="174.3" r="1.0" stroke-width="1.1"/>
<circle cx="825.6" cy="178.7" r="2.0" stroke-width="1.1"/>
<circle cx="927.2" cy="208.9" r="2.4" stroke-width="1.1"/>
<circle cx="867.2" cy="155.8" r="2.8" stroke-width="1.1"/>
<circle cx="889.6" cy="241.8" r="1.3" stroke-width="1.1"/>
<circle cx="987.6" cy="242.6" r="2.0" stroke-width="1.1"/>
<circle cx="858.4" cy="144.6" r="1.0" stroke-width="1.1"/>
<circle cx="957.1" cy="204.1" r="2.0" stroke-width="1.1"/>
<circle cx="929.5" cy="214.3" r="1.3" stroke-width="1.1"/>
<circle cx="881.7" cy="204.6" r="2.0" stroke-width="1.1"/>
<circle cx="900.7" cy="164.0" r="2.4" stroke-width="1.1"/>
<circle cx="930.7" cy="221.3" r="2.0" stroke-width="1.1"/>
<circle cx="882.0" cy="229.6" r="1.6" stroke-width="1.1"/>
<circle cx="939.7" cy="210.4" r="2.0" stroke-width="1.1"/>
<circle cx="935.5" cy="186.1" r="2.8" stroke-width="1.1"/>
<circle cx="955.3" cy="171.5" r="2.8" stroke-width="1.1"/>
<circle cx="873.3" cy="185.9" r="2.0" stroke-width="1.1"/>
<circle cx="926.4" cy="139.4" r="1.6" stroke-width="1.1"/>
<circle cx="848.7" cy="165.1" r="2.0" stroke-width="1.1"/>
<circle cx="832.9" cy="226.9" r="1.6" stroke-width="1.1"/>
<circle cx="952.9" cy="145.9" r="1.6" stroke-width="1.1"/>
<circle cx="928.0" cy="131.1" r="1.0" stroke-width="1.1"/>
<circle cx="858.1" cy="137.8" r="1.6" stroke-width="1.1"/>
<circle cx="864.7" cy="141.3" r="1.3" stroke-width="1.1"/>
<circle cx="964.5" cy="151.2" r="2.0" stroke-width="1.1"/>
<circle cx="880.6" cy="147.3" r="2.0" stroke-width="1.1"/>
<circle cx="954.1" cy="149.1" r="2.8" stroke-width="1.1"/>
<circle cx="923.9" cy="221.4" r="2.8" stroke-width="1.1"/>
<circle cx="972.3" cy="194.0" r="2.8" stroke-width="1.1"/>
<circle cx="961.9" cy="152.6" r="2.8" stroke-width="1.1"/>
<circle cx="858.6" cy="138.6" r="2.0" stroke-width="1.1"/>
<circle cx="934.3" cy="143.1" r="1.0" stroke-width="1.1"/>
<circle cx="867.1" cy="156.9" r="1.3" stroke-width="1.1"/>
<circle cx="901.6" cy="195.0" r="2.0" stroke-width="1.1"/>
<circle cx="900.6" cy="146.3" r="2.0" stroke-width="1.1"/>
<circle cx="864.1" cy="264.5" r="2.4" stroke-width="1.1"/>
<circle cx="965.9" cy="247.9" r="1.6" stroke-width="1.1"/>
<circle cx="900.7" cy="306.2" r="2.8" stroke-width="1.1"/>
<circle cx="872.4" cy="296.1" r="2.0" stroke-width="1.1"/>
<circle cx="892.6" cy="347.9" r="1.0" stroke-width="1.1"/>
<circle cx="853.2" cy="285.0" r="2.8" stroke-width="1.1"/>
<circle cx="828.1" cy="311.1" r="2.8" stroke-width="1.1"/>
<circle cx="945.0" cy="351.9" r="1.0" stroke-width="1.1"/>
<circle cx="907.7" cy="298.0" r="1.3" stroke-width="1.1"/>
<circle cx="829.0" cy="322.5" r="2.8" stroke-width="1.1"/>
<circle cx="844.4" cy="257.1" r="2.8" stroke-width="1.1"/>
<circle cx="883.9" cy="297.0" r="2.4" stroke-width="1.1"/>
<circle cx="914.9" cy="342.9" r="1.6" stroke-width="1.1"/>
<circle cx="895.3" cy="291.5" r="2.4" stroke-width="1.1"/>
<circle cx="832.1" cy="277.5" r="1.6" stroke-width="1.1"/>
<circle cx="960.1" cy="289.6" r="2.4" stroke-width="1.1"/>
<circle cx="985.9" cy="338.7" r="1.6" stroke-width="1.1"/>
<circle cx="984.4" cy="315.8" r="1.0" stroke-width="1.1"/>
<circle cx="878.1" cy="280.5" r="1.6" stroke-width="1.1"/>
<circle cx="844.5" cy="349.2" r="1.0" stroke-width="1.1"/>
<circle cx="952.9" cy="251.4" r="2.8" stroke-width="1.1"/>
<circle cx="914.9" cy="289.8" r="2.4" stroke-width="1.1"/>
<circle cx="831.6" cy="278.7" r="1.0" stroke-width="1.1"/>
<circle cx="831.1" cy="333.4" r="2.0" stroke-width="1.1"/>
<circle cx="923.9" cy="316.2" r="2.4" stroke-width="1.1"/>
<circle cx="675.4" cy="130.6" r="12.0"/>
<circle cx="684.5" cy="221.0" r="10.5"/>
<circle cx="700.3" cy="272.1" r="10.5"/>
<circle cx="775.0" cy="154.2" r="10.5"/>
<circle cx="788.1" cy="151.6" r="6.2"/>
<circle cx="798.5" cy="167.3" r="10.5"/>
<circle cx="836.5" cy="138.5" r="3.3"/>
<circle cx="868.0" cy="135.9" r="10.5"/>
<circle cx="857.5" cy="135.9" r="6.2"/>
<circle cx="925.6" cy="133.2" r="12.0"/>
<circle cx="949.2" cy="126.7" r="4.8"/>
<circle cx="970.2" cy="142.4" r="10.0"/>
<circle cx="971.5" cy="156.8" r="9.1"/>
<circle cx="983.3" cy="187.0" r="12.0"/>
<circle cx="912.5" cy="147.7" r="6.2"/>
<circle cx="907.3" cy="159.4" r="4.8"/>
<circle cx="917.8" cy="172.5" r="10.5"/>
<circle cx="957.1" cy="194.8" r="6.2"/>
<circle cx="964.9" cy="205.3" r="6.2"/>
<circle cx="980.7" cy="214.5" r="7.6"/>
<circle cx="933.5" cy="225.0" r="9.1"/>
<circle cx="950.5" cy="231.5" r="9.1"/>
<circle cx="923.0" cy="245.9" r="9.1"/>
<circle cx="980.7" cy="263.0" r="9.1"/>
<circle cx="934.8" cy="281.3" r="4.8"/>
<circle cx="865.4" cy="226.3" r="9.1"/>
<circle cx="823.4" cy="243.3" r="9.1"/>
<circle cx="840.5" cy="248.5" r="12.0"/>
<circle cx="854.9" cy="243.3" r="6.2"/>
<circle cx="797.2" cy="239.4" r="10.5"/>
<circle cx="794.6" cy="225.0" r="4.8"/>
<circle cx="760.5" cy="218.4" r="4.8"/>
<circle cx="765.8" cy="255.1" r="6.2"/>
<circle cx="771.0" cy="276.1" r="9.1"/>
<circle cx="782.8" cy="283.9" r="7.6"/>
<circle cx="792.0" cy="276.1" r="7.6"/>
<circle cx="803.8" cy="289.2" r="10.5"/>
<circle cx="735.6" cy="303.6" r="9.1"/>
<circle cx="748.8" cy="301.0" r="4.8"/>
<circle cx="751.4" cy="316.7" r="4.2"/>
<circle cx="760.5" cy="336.3" r="9.1"/>
<circle cx="831.3" cy="324.5" r="10.0"/>
<circle cx="835.2" cy="311.4" r="4.2"/>
<circle cx="865.4" cy="302.3" r="12.8"/>
<circle cx="885.0" cy="316.7" r="12.0"/>
<circle cx="892.9" cy="325.8" r="6.2"/>
<circle cx="861.4" cy="340.3" r="10.5"/>
<circle cx="877.2" cy="352.1" r="4.8"/>
<circle cx="891.6" cy="365.2" r="7.6"/>
<circle cx="900.7" cy="373.0" r="6.2"/>
<circle cx="898.1" cy="386.1" r="4.8"/>
<circle cx="879.8" cy="378.3" r="4.2"/>
<circle cx="968.9" cy="376.9" r="9.1"/>
<circle cx="967.6" cy="388.7" r="4.8"/>
<circle cx="992.5" cy="416.3" r="4.8"/>
<circle cx="819.5" cy="399.2" r="10.5"/>
<circle cx="839.2" cy="397.9" r="7.6"/>
<circle cx="826.1" cy="404.5" r="6.2"/>
<circle cx="771.0" cy="430.7" r="12.0"/>
<circle cx="813.0" cy="441.2" r="12.0"/>
<circle cx="810.3" cy="428.1" r="4.8"/>
<circle cx="778.9" cy="416.3" r="4.8"/>
<circle cx="792.0" cy="422.8" r="3.3"/>
<circle cx="697.7" cy="414.9" r="10.5"/>
<circle cx="704.2" cy="426.7" r="4.8"/>
<circle cx="681.9" cy="401.8" r="4.8"/>
<circle cx="685.9" cy="433.3" r="4.8"/>
<circle cx="696.3" cy="441.2" r="4.8"/>
<circle cx="710.8" cy="439.8" r="4.8"/>
<circle cx="708.1" cy="357.3" r="9.1"/>
<circle cx="718.6" cy="373.0" r="6.2"/>
<circle cx="722.5" cy="383.5" r="9.1"/>
<circle cx="700.3" cy="352.1" r="6.2"/>
<circle cx="704.2" cy="235.4" r="6.2"/>
<circle cx="716.0" cy="235.4" r="4.8"/>
<circle cx="706.8" cy="245.9" r="7.1"/>
<circle cx="688.5" cy="245.9" r="4.2"/>
<circle cx="687.2" cy="196.1" r="4.8"/>
<circle cx="695.0" cy="152.9" r="4.2"/>
<circle cx="746.1" cy="168.6" r="4.8"/>
<circle cx="734.3" cy="181.7" r="3.3"/>
<circle cx="688.5" cy="289.2" r="4.8"/>
<circle cx="709.4" cy="286.5" r="4.8"/>
<circle cx="685.9" cy="348.1" r="4.2"/>
<circle cx="674.1" cy="259.0" r="4.8"/>
<circle cx="883.7" cy="422.8" r="4.8"/>
<circle cx="946.6" cy="400.5" r="4.8"/>
<circle cx="961.0" cy="403.2" r="4.8"/>
<circle cx="917.8" cy="417.6" r="3.3"/>
<circle cx="928.3" cy="394.0" r="3.3"/>
<circle cx="950.5" cy="341.6" r="3.3"/>
<circle cx="928.3" cy="325.8" r="3.3"/>
<circle cx="936.1" cy="352.1" r="3.3"/>
<circle cx="822.1" cy="367.8" r="6.2"/>
<circle cx="820.8" cy="375.6" r="4.8"/>
<circle cx="778.9" cy="357.3" r="4.8"/>
<circle cx="776.3" cy="388.7" r="4.8"/>
<circle cx="781.5" cy="327.2" r="4.2"/>
<circle cx="782.8" cy="315.4" r="3.3"/>
<circle cx="763.2" cy="302.3" r="3.3"/>
<circle cx="740.9" cy="380.9" r="3.3"/>
<circle cx="729.1" cy="273.4" r="3.3"/>
<circle cx="886.3" cy="189.6" r="3.3"/>
<circle cx="895.5" cy="181.7" r="2.5"/>
<circle cx="906.0" cy="263.0" r="3.3"/>
<circle cx="915.2" cy="263.0" r="3.3"/>
<circle cx="930.9" cy="156.8" r="3.3"/>
<circle cx="944.0" cy="166.0" r="2.5"/>
<circle cx="955.8" cy="159.4" r="2.5"/>
<circle cx="830.0" cy="159.4" r="3.3"/>
<circle cx="843.1" cy="164.7" r="3.3"/>
<circle cx="856.2" cy="177.8" r="3.3"/>
<circle cx="823.4" cy="204.0" r="3.3"/>
<circle cx="833.9" cy="201.4" r="3.3"/>
<circle cx="830.0" cy="211.9" r="2.5"/>
<circle cx="873.2" cy="151.6" r="3.3"/>
<circle cx="869.3" cy="210.5" r="2.5"/>
<circle cx="885.0" cy="243.3" r="4.8"/>
<circle cx="964.9" cy="424.1" r="4.8"/>
<circle cx="978.1" cy="430.7" r="3.3"/>
<circle cx="983.3" cy="367.8" r="3.3"/>
<circle cx="936.1" cy="430.7" r="3.3"/>
<circle cx="907.3" cy="435.9" r="2.5"/>
<circle cx="896.8" cy="417.6" r="2.5"/>
<circle cx="856.2" cy="367.8" r="2.5"/>
<circle cx="845.7" cy="357.3" r="2.5"/>
<circle cx="738.3" cy="412.3" r="3.3"/>
<circle cx="743.5" cy="433.3" r="3.3"/>
<circle cx="729.1" cy="342.9" r="2.5"/>
<circle cx="742.2" cy="337.6" r="2.5"/>
<circle cx="716.0" cy="329.8" r="3.3"/>
<circle cx="693.7" cy="339.0" r="2.5"/>
<circle cx="684.5" cy="378.3" r="2.5"/>
<circle cx="759.2" cy="399.2" r="2.5"/>
<circle cx="759.2" cy="375.6" r="2.5"/>
<circle cx="802.5" cy="414.9" r="2.5"/>
<circle cx="835.2" cy="422.8" r="2.5"/>
<circle cx="857.5" cy="407.1" r="3.3"/>
<circle cx="870.6" cy="400.5" r="2.5"/>
<circle cx="1400.8" cy="317.4" r="2.4" stroke-width="1.1"/>
<circle cx="1148.9" cy="340.1" r="2.8" stroke-width="1.1"/>
<circle cx="1297.4" cy="341.3" r="1.3" stroke-width="1.1"/>
<circle cx="1113.3" cy="327.1" r="2.8" stroke-width="1.1"/>
<circle cx="1351.1" cy="148.0" r="1.3" stroke-width="1.1"/>
<circle cx="1387.0" cy="254.2" r="1.0" stroke-width="1.1"/>
<circle cx="1402.3" cy="332.0" r="1.6" stroke-width="1.1"/>
<circle cx="1387.3" cy="160.1" r="1.6" stroke-width="1.1"/>
<circle cx="1285.1" cy="200.7" r="1.6" stroke-width="1.1"/>
<circle cx="1159.8" cy="127.5" r="1.0" stroke-width="1.1"/>
<circle cx="1242.6" cy="328.7" r="1.0" stroke-width="1.1"/>
<circle cx="1264.4" cy="288.7" r="1.0" stroke-width="1.1"/>
<circle cx="1355.4" cy="254.3" r="2.8" stroke-width="1.1"/>
<circle cx="1403.4" cy="262.4" r="1.0" stroke-width="1.1"/>
<circle cx="1324.8" cy="312.1" r="2.8" stroke-width="1.1"/>
<circle cx="1424.0" cy="271.8" r="2.0" stroke-width="1.1"/>
<circle cx="1280.3" cy="142.5" r="2.0" stroke-width="1.1"/>
<circle cx="1169.2" cy="166.4" r="1.0" stroke-width="1.1"/>
<circle cx="1239.8" cy="118.4" r="2.8" stroke-width="1.1"/>
<circle cx="1141.3" cy="437.4" r="1.0" stroke-width="1.1"/>
<circle cx="1171.1" cy="156.3" r="2.0" stroke-width="1.1"/>
<circle cx="1106.3" cy="355.6" r="1.3" stroke-width="1.1"/>
<circle cx="1249.4" cy="362.7" r="1.0" stroke-width="1.1"/>
<circle cx="1221.4" cy="364.0" r="2.8" stroke-width="1.1"/>
<circle cx="1383.1" cy="356.8" r="1.0" stroke-width="1.1"/>
<circle cx="1196.9" cy="301.1" r="2.0" stroke-width="1.1"/>
<circle cx="1253.1" cy="425.3" r="1.6" stroke-width="1.1"/>
<circle cx="1400.8" cy="131.3" r="1.0" stroke-width="1.1"/>
<circle cx="1102.4" cy="121.5" r="2.8" stroke-width="1.1"/>
<circle cx="1327.1" cy="320.2" r="2.0" stroke-width="1.1"/>
<circle cx="1203.2" cy="358.2" r="1.3" stroke-width="1.1"/>
<circle cx="1417.1" cy="391.5" r="2.4" stroke-width="1.1"/>
<circle cx="1119.3" cy="238.6" r="2.4" stroke-width="1.1"/>
<circle cx="1340.3" cy="270.7" r="1.3" stroke-width="1.1"/>
<circle cx="1148.5" cy="381.2" r="1.6" stroke-width="1.1"/>
<circle cx="1414.4" cy="168.3" r="2.0" stroke-width="1.1"/>
<circle cx="1258.2" cy="373.9" r="2.0" stroke-width="1.1"/>
<circle cx="1412.8" cy="374.8" r="2.4" stroke-width="1.1"/>
<circle cx="1209.7" cy="208.7" r="2.4" stroke-width="1.1"/>
<circle cx="1422.2" cy="347.7" r="2.4" stroke-width="1.1"/>
<circle cx="1209.9" cy="317.0" r="1.0" stroke-width="1.1"/>
<circle cx="1374.8" cy="314.1" r="1.6" stroke-width="1.1"/>
<circle cx="1294.2" cy="439.6" r="1.3" stroke-width="1.1"/>
<circle cx="1224.8" cy="343.2" r="2.4" stroke-width="1.1"/>
<circle cx="1354.2" cy="192.2" r="2.0" stroke-width="1.1"/>
<circle cx="1192.3" cy="116.3" r="1.6" stroke-width="1.1"/>
<circle cx="1187.6" cy="168.1" r="1.0" stroke-width="1.1"/>
<circle cx="1194.4" cy="162.5" r="2.4" stroke-width="1.1"/>
<circle cx="1149.7" cy="440.4" r="2.4" stroke-width="1.1"/>
<circle cx="1327.1" cy="418.5" r="1.6" stroke-width="1.1"/>
<circle cx="1103.6" cy="130.6" r="9.1"/>
<circle cx="1140.3" cy="128.8" r="2.5"/>
<circle cx="1158.6" cy="137.2" r="9.1"/>
<circle cx="1123.2" cy="150.3" r="12.8"/>
<circle cx="1124.5" cy="167.3" r="12.0"/>
<circle cx="1146.8" cy="166.0" r="10.5"/>
<circle cx="1139.0" cy="185.6" r="12.0"/>
<circle cx="1102.3" cy="163.4" r="6.2"/>
<circle cx="1107.5" cy="184.3" r="6.2"/>
<circle cx="1112.8" cy="206.6" r="7.6"/>
<circle cx="1104.9" cy="226.3" r="10.5"/>
<circle cx="1116.7" cy="255.1" r="10.5"/>
<circle cx="1111.4" cy="244.6" r="4.8"/>
<circle cx="1125.9" cy="227.6" r="4.8"/>
<circle cx="1149.4" cy="239.4" r="10.5"/>
<circle cx="1171.7" cy="251.2" r="12.0"/>
<circle cx="1141.6" cy="264.3" r="4.8"/>
<circle cx="1156.0" cy="270.8" r="7.6"/>
<circle cx="1170.4" cy="190.9" r="9.1"/>
<circle cx="1173.0" cy="207.9" r="12.0"/>
<circle cx="1186.1" cy="200.1" r="9.1"/>
<circle cx="1158.6" cy="197.4" r="6.2"/>
<circle cx="1178.3" cy="226.3" r="3.3"/>
<circle cx="1182.2" cy="233.6" r="1.9"/>
<circle cx="1192.7" cy="150.3" r="4.8"/>
<circle cx="1200.5" cy="159.4" r="5.3"/>
<circle cx="1205.8" cy="137.2" r="6.2"/>
<circle cx="1218.9" cy="145.0" r="9.1"/>
<circle cx="1233.3" cy="139.8" r="10.0"/>
<circle cx="1225.4" cy="168.6" r="12.0"/>
<circle cx="1243.8" cy="176.5" r="7.6"/>
<circle cx="1241.2" cy="129.3" r="3.3"/>
<circle cx="1258.2" cy="143.7" r="12.0"/>
<circle cx="1256.9" cy="152.9" r="9.1"/>
<circle cx="1275.2" cy="134.5" r="10.5"/>
<circle cx="1263.4" cy="180.4" r="9.1"/>
<circle cx="1272.6" cy="176.5" r="6.2"/>
<circle cx="1289.6" cy="146.3" r="6.2"/>
<circle cx="1294.9" cy="130.6" r="2.5"/>
<circle cx="1291.0" cy="175.2" r="6.2"/>
<circle cx="1298.8" cy="179.1" r="6.2"/>
<circle cx="1302.7" cy="189.6" r="2.5"/>
<circle cx="1273.9" cy="192.2" r="3.3"/>
<circle cx="1258.2" cy="210.5" r="12.0"/>
<circle cx="1259.5" cy="227.6" r="9.1"/>
<circle cx="1260.8" cy="239.4" r="9.1"/>
<circle cx="1258.2" cy="263.0" r="12.0"/>
<circle cx="1250.3" cy="272.1" r="9.1"/>
<circle cx="1272.6" cy="257.7" r="4.8"/>
<circle cx="1208.4" cy="239.4" r="3.3"/>
<circle cx="1216.3" cy="270.8" r="4.8"/>
<circle cx="1201.9" cy="272.1" r="1.9"/>
<circle cx="1313.2" cy="139.8" r="10.5"/>
<circle cx="1323.7" cy="194.8" r="10.5"/>
<circle cx="1329.0" cy="129.3" r="4.8"/>
<circle cx="1314.5" cy="126.7" r="4.8"/>
<circle cx="1342.1" cy="135.9" r="10.5"/>
<circle cx="1353.8" cy="142.4" r="9.1"/>
<circle cx="1343.4" cy="160.8" r="10.5"/>
<circle cx="1357.8" cy="152.9" r="7.6"/>
<circle cx="1365.6" cy="150.3" r="6.2"/>
<circle cx="1370.9" cy="133.2" r="7.6"/>
<circle cx="1369.6" cy="166.0" r="6.2"/>
<circle cx="1397.1" cy="135.9" r="10.5"/>
<circle cx="1411.5" cy="159.4" r="12.0"/>
<circle cx="1422.0" cy="124.1" r="9.1"/>
<circle cx="1402.3" cy="118.8" r="3.3"/>
<circle cx="1414.1" cy="184.3" r="7.6"/>
<circle cx="1391.8" cy="185.6" r="10.5"/>
<circle cx="1378.7" cy="173.9" r="4.8"/>
<circle cx="1384.0" cy="168.6" r="3.3"/>
<circle cx="1395.8" cy="206.6" r="2.5"/>
<circle cx="1394.5" cy="217.1" r="3.3"/>
<circle cx="1363.0" cy="205.3" r="14.9"/>
<circle cx="1378.7" cy="207.9" r="6.2"/>
<circle cx="1349.9" cy="181.7" r="3.3"/>
<circle cx="1360.4" cy="218.4" r="6.2"/>
<circle cx="1380.1" cy="221.0" r="3.3"/>
<circle cx="1311.9" cy="218.4" r="9.1"/>
<circle cx="1301.4" cy="227.6" r="3.3"/>
<circle cx="1327.6" cy="234.1" r="12.0"/>
<circle cx="1342.1" cy="236.8" r="6.2"/>
<circle cx="1355.2" cy="236.8" r="10.5"/>
<circle cx="1366.9" cy="247.2" r="9.1"/>
<circle cx="1368.3" cy="234.1" r="4.8"/>
<circle cx="1302.7" cy="253.8" r="16.3"/>
<circle cx="1310.6" cy="247.2" r="9.1"/>
<circle cx="1311.9" cy="270.8" r="9.1"/>
<circle cx="1321.1" cy="276.1" r="6.2"/>
<circle cx="1344.7" cy="278.7" r="9.1"/>
<circle cx="1330.3" cy="291.8" r="10.5"/>
<circle cx="1322.4" cy="307.5" r="12.0"/>
<circle cx="1329.0" cy="312.7" r="12.0"/>
<circle cx="1338.1" cy="302.3" r="4.8"/>
<circle cx="1302.7" cy="290.5" r="4.8"/>
<circle cx="1283.1" cy="276.1" r="4.8"/>
<circle cx="1352.5" cy="291.8" r="1.3"/>
<circle cx="1373.5" cy="314.1" r="12.8"/>
<circle cx="1410.2" cy="299.6" r="10.5"/>
<circle cx="1419.4" cy="252.5" r="9.1"/>
<circle cx="1407.6" cy="265.6" r="6.2"/>
<circle cx="1418.1" cy="270.8" r="9.1"/>
<circle cx="1403.6" cy="263.0" r="3.3"/>
<circle cx="1175.6" cy="283.9" r="13.4"/>
<circle cx="1195.3" cy="283.9" r="12.0"/>
<circle cx="1187.4" cy="291.8" r="9.1"/>
<circle cx="1208.4" cy="286.5" r="7.6"/>
<circle cx="1184.8" cy="299.6" r="7.6"/>
<circle cx="1145.5" cy="304.9" r="9.1"/>
<circle cx="1224.1" cy="298.3" r="4.8"/>
<circle cx="1241.2" cy="299.6" r="7.6"/>
<circle cx="1260.8" cy="298.3" r="9.1"/>
<circle cx="1281.8" cy="301.0" r="9.1"/>
<circle cx="1293.6" cy="307.5" r="7.6"/>
<circle cx="1294.9" cy="318.0" r="7.6"/>
<circle cx="1301.4" cy="325.8" r="7.6"/>
<circle cx="1305.4" cy="333.7" r="7.6"/>
<circle cx="1287.0" cy="336.3" r="4.8"/>
<circle cx="1237.2" cy="310.1" r="3.3"/>
<circle cx="1259.5" cy="323.2" r="10.5"/>
<circle cx="1238.5" cy="327.2" r="6.2"/>
<circle cx="1217.6" cy="324.5" r="6.2"/>
<circle cx="1226.8" cy="332.4" r="4.8"/>
<circle cx="1184.8" cy="323.2" r="9.1"/>
<circle cx="1195.3" cy="329.8" r="6.2"/>
<circle cx="1203.2" cy="337.6" r="4.8"/>
<circle cx="1165.2" cy="323.2" r="7.6"/>
<circle cx="1153.4" cy="321.9" r="7.6"/>
<circle cx="1149.4" cy="331.1" r="7.6"/>
<circle cx="1146.8" cy="337.6" r="6.2"/>
<circle cx="1115.4" cy="345.5" r="4.8"/>
<circle cx="1116.7" cy="365.2" r="9.1"/>
<circle cx="1141.6" cy="353.4" r="9.1"/>
<circle cx="1150.8" cy="352.1" r="9.1"/>
<circle cx="1152.1" cy="371.7" r="9.1"/>
<circle cx="1140.3" cy="376.9" r="6.2"/>
<circle cx="1205.8" cy="357.3" r="9.1"/>
<circle cx="1200.5" cy="362.5" r="6.2"/>
<circle cx="1221.5" cy="350.7" r="9.1"/>
<circle cx="1237.2" cy="348.1" r="7.6"/>
<circle cx="1242.5" cy="358.6" r="9.1"/>
<circle cx="1226.8" cy="358.6" r="4.8"/>
<circle cx="1258.2" cy="357.3" r="3.3"/>
<circle cx="1192.7" cy="370.4" r="3.3"/>
<circle cx="1239.9" cy="376.9" r="9.1"/>
<circle cx="1256.9" cy="373.0" r="6.2"/>
<circle cx="1273.9" cy="374.3" r="9.1"/>
<circle cx="1292.3" cy="365.2" r="12.0"/>
<circle cx="1289.6" cy="349.4" r="9.1"/>
<circle cx="1294.9" cy="354.7" r="7.6"/>
<circle cx="1276.5" cy="388.7" r="10.5"/>
<circle cx="1242.5" cy="394.0" r="10.5"/>
<circle cx="1260.8" cy="400.5" r="6.2"/>
<circle cx="1251.6" cy="399.2" r="3.3"/>
<circle cx="1283.1" cy="407.1" r="9.1"/>
<circle cx="1281.8" cy="416.3" r="7.6"/>
<circle cx="1313.2" cy="386.1" r="6.2"/>
<circle cx="1332.9" cy="388.7" r="2.5"/>
<circle cx="1327.6" cy="342.9" r="10.5"/>
<circle cx="1342.1" cy="362.5" r="6.2"/>
<circle cx="1355.2" cy="380.9" r="3.3"/>
<circle cx="1353.8" cy="366.5" r="2.5"/>
<circle cx="1368.3" cy="342.9" r="6.2"/>
<circle cx="1378.7" cy="352.1" r="12.0"/>
<circle cx="1381.4" cy="349.4" r="7.6"/>
<circle cx="1365.6" cy="373.0" r="10.5"/>
<circle cx="1378.7" cy="374.3" r="10.5"/>
<circle cx="1391.8" cy="373.0" r="9.1"/>
<circle cx="1402.3" cy="359.9" r="6.2"/>
<circle cx="1415.4" cy="352.1" r="9.1"/>
<circle cx="1410.2" cy="367.8" r="9.1"/>
<circle cx="1425.9" cy="362.5" r="9.1"/>
<circle cx="1407.6" cy="341.6" r="4.8"/>
<circle cx="1418.1" cy="337.6" r="3.3"/>
<circle cx="1410.2" cy="386.1" r="7.6"/>
<circle cx="1394.5" cy="404.5" r="9.1"/>
<circle cx="1402.3" cy="401.8" r="6.2"/>
<circle cx="1429.8" cy="404.5" r="10.5"/>
<circle cx="1420.7" cy="394.0" r="7.6"/>
<circle cx="1360.4" cy="403.2" r="9.1"/>
<circle cx="1342.1" cy="418.9" r="7.6"/>
<circle cx="1373.5" cy="428.1" r="9.1"/>
<circle cx="1361.7" cy="421.5" r="4.8"/>
<circle cx="1397.1" cy="420.2" r="4.8"/>
<circle cx="1416.7" cy="430.7" r="10.5"/>
<circle cx="1347.3" cy="430.7" r="3.3"/>
<circle cx="1365.6" cy="395.3" r="3.3"/>
<circle cx="1119.3" cy="395.3" r="9.1"/>
<circle cx="1133.7" cy="395.3" r="6.2"/>
<circle cx="1128.5" cy="387.4" r="6.2"/>
<circle cx="1166.5" cy="380.9" r="9.1"/>
<circle cx="1163.9" cy="403.2" r="10.5"/>
<circle cx="1173.0" cy="411.0" r="9.1"/>
<circle cx="1183.5" cy="394.0" r="7.6"/>
<circle cx="1183.5" cy="405.8" r="6.2"/>
<circle cx="1156.0" cy="421.5" r="12.0"/>
<circle cx="1186.1" cy="424.1" r="6.2"/>
<circle cx="1184.8" cy="435.9" r="6.2"/>
<circle cx="1201.9" cy="417.6" r="1.9"/>
<circle cx="1211.0" cy="409.7" r="1.3"/>
<circle cx="1213.6" cy="428.1" r="1.3"/>
<circle cx="1300.1" cy="416.3" r="0.8"/>
<circle cx="1686.0" cy="287.7" r="2.0" stroke-width="1.1"/>
<circle cx="1773.2" cy="175.6" r="2.8" stroke-width="1.1"/>
<circle cx="1817.7" cy="186.6" r="2.4" stroke-width="1.1"/>
<circle cx="1527.7" cy="240.0" r="2.8" stroke-width="1.1"/>
<circle cx="1577.2" cy="193.5" r="1.0" stroke-width="1.1"/>
<circle cx="1771.3" cy="261.2" r="1.0" stroke-width="1.1"/>
<circle cx="1686.5" cy="226.6" r="1.0" stroke-width="1.1"/>
<circle cx="1585.9" cy="300.8" r="1.6" stroke-width="1.1"/>
<circle cx="1802.3" cy="281.7" r="2.0" stroke-width="1.1"/>
<circle cx="1676.5" cy="176.0" r="1.3" stroke-width="1.1"/>
<circle cx="1572.4" cy="169.0" r="2.8" stroke-width="1.1"/>
<circle cx="1604.8" cy="300.2" r="1.6" stroke-width="1.1"/>
<circle cx="1642.2" cy="280.2" r="1.3" stroke-width="1.1"/>
<circle cx="1590.3" cy="414.1" r="2.0" stroke-width="1.1"/>
<circle cx="1632.7" cy="144.4" r="2.8" stroke-width="1.1"/>
<circle cx="1662.4" cy="136.3" r="1.6" stroke-width="1.1"/>
<circle cx="1706.8" cy="223.3" r="2.4" stroke-width="1.1"/>
<circle cx="1710.0" cy="140.4" r="1.3" stroke-width="1.1"/>
<circle cx="1837.2" cy="395.4" r="2.0" stroke-width="1.1"/>
<circle cx="1703.3" cy="179.9" r="1.6" stroke-width="1.1"/>
<circle cx="1649.9" cy="422.0" r="2.4" stroke-width="1.1"/>
<circle cx="1780.3" cy="427.6" r="1.6" stroke-width="1.1"/>
<circle cx="1788.5" cy="221.3" r="1.3" stroke-width="1.1"/>
<circle cx="1634.1" cy="118.4" r="1.0" stroke-width="1.1"/>
<circle cx="1693.5" cy="396.9" r="2.0" stroke-width="1.1"/>
<circle cx="1670.1" cy="388.7" r="1.0" stroke-width="1.1"/>
<circle cx="1794.9" cy="320.7" r="1.0" stroke-width="1.1"/>
<circle cx="1743.0" cy="139.1" r="1.6" stroke-width="1.1"/>
<circle cx="1695.9" cy="321.0" r="2.8" stroke-width="1.1"/>
<circle cx="1676.7" cy="169.7" r="1.3" stroke-width="1.1"/>
<circle cx="1631.7" cy="187.0" r="2.8" stroke-width="1.1"/>
<circle cx="1582.2" cy="122.1" r="1.6" stroke-width="1.1"/>
<circle cx="1820.9" cy="128.9" r="2.4" stroke-width="1.1"/>
<circle cx="1808.7" cy="385.9" r="1.0" stroke-width="1.1"/>
<circle cx="1594.2" cy="278.9" r="2.8" stroke-width="1.1"/>
<circle cx="1723.2" cy="434.8" r="1.0" stroke-width="1.1"/>
<circle cx="1542.1" cy="214.3" r="1.0" stroke-width="1.1"/>
<circle cx="1820.3" cy="332.9" r="1.6" stroke-width="1.1"/>
<circle cx="1704.3" cy="255.1" r="2.8" stroke-width="1.1"/>
<circle cx="1543.6" cy="216.3" r="1.6" stroke-width="1.1"/>
<circle cx="1638.0" cy="233.2" r="2.0" stroke-width="1.1"/>
<circle cx="1564.5" cy="188.1" r="1.3" stroke-width="1.1"/>
<circle cx="1811.9" cy="404.0" r="2.0" stroke-width="1.1"/>
<circle cx="1746.6" cy="173.8" r="1.0" stroke-width="1.1"/>
<circle cx="1560.7" cy="384.4" r="1.0" stroke-width="1.1"/>
<circle cx="1818.5" cy="395.6" r="2.8" stroke-width="1.1"/>
<circle cx="1555.0" cy="257.1" r="1.0" stroke-width="1.1"/>
<circle cx="1815.8" cy="236.5" r="1.0" stroke-width="1.1"/>
<circle cx="1717.1" cy="258.8" r="1.6" stroke-width="1.1"/>
<circle cx="1615.6" cy="186.6" r="1.0" stroke-width="1.1"/>
<circle cx="1717.0" cy="156.5" r="1.3" stroke-width="1.1"/>
<circle cx="1752.8" cy="168.9" r="2.0" stroke-width="1.1"/>
<circle cx="1692.2" cy="157.1" r="1.3" stroke-width="1.1"/>
<circle cx="1597.0" cy="245.4" r="1.3" stroke-width="1.1"/>
<circle cx="1517.1" cy="297.9" r="1.6" stroke-width="1.1"/>
<circle cx="1619.6" cy="164.8" r="2.0" stroke-width="1.1"/>
<circle cx="1544.9" cy="260.0" r="2.0" stroke-width="1.1"/>
<circle cx="1546.5" cy="432.6" r="1.0" stroke-width="1.1"/>
<circle cx="1718.0" cy="369.5" r="1.3" stroke-width="1.1"/>
<circle cx="1694.4" cy="385.2" r="1.0" stroke-width="1.1"/>
<circle cx="1594.1" cy="175.9" r="1.6" stroke-width="1.1"/>
<circle cx="1652.0" cy="195.7" r="1.3" stroke-width="1.1"/>
<circle cx="1815.5" cy="141.6" r="1.6" stroke-width="1.1"/>
<circle cx="1646.5" cy="162.9" r="2.8" stroke-width="1.1"/>
<circle cx="1833.3" cy="157.0" r="2.8" stroke-width="1.1"/>
<circle cx="1513.9" cy="375.9" r="1.6" stroke-width="1.1"/>
<circle cx="1678.1" cy="255.7" r="2.4" stroke-width="1.1"/>
<circle cx="1603.6" cy="228.3" r="1.0" stroke-width="1.1"/>
<circle cx="1811.2" cy="181.4" r="2.4" stroke-width="1.1"/>
<circle cx="1568.6" cy="387.9" r="2.4" stroke-width="1.1"/>
<circle cx="1764.2" cy="344.4" r="1.3" stroke-width="1.1"/>
<circle cx="1707.9" cy="383.2" r="2.4" stroke-width="1.1"/>
<circle cx="1751.1" cy="360.8" r="1.3" stroke-width="1.1"/>
<circle cx="1577.0" cy="311.6" r="2.8" stroke-width="1.1"/>
<circle cx="1717.1" cy="172.8" r="1.6" stroke-width="1.1"/>
<circle cx="1575.7" cy="131.0" r="2.8" stroke-width="1.1"/>
<circle cx="1681.0" cy="387.2" r="1.0" stroke-width="1.1"/>
<circle cx="1680.6" cy="224.2" r="1.6" stroke-width="1.1"/>
<circle cx="1787.9" cy="394.9" r="2.0" stroke-width="1.1"/>
<circle cx="1538.6" cy="244.6" r="2.0" stroke-width="1.1"/>
<circle cx="1532.4" cy="120.1" r="10.0"/>
<circle cx="1544.2" cy="122.8" r="9.1"/>
<circle cx="1529.8" cy="141.1" r="12.8"/>
<circle cx="1527.2" cy="146.3" r="9.1"/>
<circle cx="1536.3" cy="135.9" r="9.1"/>
<circle cx="1565.2" cy="118.8" r="6.2"/>
<circle cx="1600.5" cy="134.5" r="12.8"/>
<circle cx="1590.1" cy="137.2" r="6.2"/>
<circle cx="1640.4" cy="156.8" r="15.7"/>
<circle cx="1597.9" cy="161.3" r="4.8"/>
<circle cx="1671.3" cy="113.6" r="10.5"/>
<circle cx="1662.1" cy="126.7" r="8.2"/>
<circle cx="1673.9" cy="129.3" r="8.2"/>
<circle cx="1702.7" cy="142.4" r="12.0"/>
<circle cx="1710.6" cy="121.4" r="10.0"/>
<circle cx="1736.8" cy="122.8" r="4.2"/>
<circle cx="1746.0" cy="120.1" r="3.3"/>
<circle cx="1770.9" cy="122.8" r="4.2"/>
<circle cx="1770.9" cy="149.0" r="12.0"/>
<circle cx="1784.0" cy="138.5" r="6.2"/>
<circle cx="1785.3" cy="160.8" r="6.2"/>
<circle cx="1794.5" cy="154.2" r="3.3"/>
<circle cx="1739.4" cy="145.0" r="10.5"/>
<circle cx="1748.6" cy="150.3" r="10.5"/>
<circle cx="1727.6" cy="160.8" r="10.0"/>
<circle cx="1713.2" cy="177.8" r="10.5"/>
<circle cx="1723.7" cy="181.7" r="9.1"/>
<circle cx="1738.1" cy="194.8" r="12.0"/>
<circle cx="1777.4" cy="193.5" r="10.0"/>
<circle cx="1791.8" cy="190.9" r="9.1"/>
<circle cx="1763.0" cy="173.3" r="2.5"/>
<circle cx="1533.7" cy="179.1" r="4.8"/>
<circle cx="1571.7" cy="180.4" r="4.2"/>
<circle cx="1582.2" cy="194.8" r="12.0"/>
<circle cx="1587.4" cy="215.8" r="10.0"/>
<circle cx="1612.3" cy="185.6" r="10.0"/>
<circle cx="1618.9" cy="180.4" r="7.6"/>
<circle cx="1540.3" cy="197.4" r="5.3"/>
<circle cx="1539.0" cy="211.9" r="6.2"/>
<circle cx="1508.8" cy="226.3" r="15.7"/>
<circle cx="1520.6" cy="210.5" r="4.2"/>
<circle cx="1558.6" cy="226.3" r="8.2"/>
<circle cx="1566.5" cy="239.4" r="10.5"/>
<circle cx="1558.6" cy="231.5" r="6.2"/>
<circle cx="1586.1" cy="239.4" r="12.0"/>
<circle cx="1631.5" cy="213.2" r="10.0"/>
<circle cx="1621.5" cy="223.6" r="4.2"/>
<circle cx="1612.3" cy="252.5" r="10.5"/>
<circle cx="1644.6" cy="253.8" r="12.0"/>
<circle cx="1679.2" cy="253.8" r="6.2"/>
<circle cx="1683.1" cy="226.3" r="12.0"/>
<circle cx="1691.0" cy="194.8" r="6.2"/>
<circle cx="1713.2" cy="210.5" r="10.5"/>
<circle cx="1722.4" cy="231.5" r="12.0"/>
<circle cx="1710.6" cy="247.2" r="12.0"/>
<circle cx="1738.1" cy="238.1" r="10.5"/>
<circle cx="1757.8" cy="228.9" r="9.1"/>
<circle cx="1764.3" cy="236.8" r="10.5"/>
<circle cx="1763.0" cy="261.6" r="14.9"/>
<circle cx="1776.1" cy="273.4" r="10.5"/>
<circle cx="1736.8" cy="281.3" r="14.9"/>
<circle cx="1694.9" cy="276.1" r="12.0"/>
<circle cx="1710.6" cy="277.4" r="10.5"/>
<circle cx="1718.5" cy="289.2" r="9.1"/>
<circle cx="1785.3" cy="253.8" r="4.2"/>
<circle cx="1801.0" cy="235.4" r="2.5"/>
<circle cx="1519.3" cy="272.1" r="12.0"/>
<circle cx="1521.9" cy="283.9" r="4.8"/>
<circle cx="1584.8" cy="276.1" r="11.1"/>
<circle cx="1599.2" cy="269.5" r="8.2"/>
<circle cx="1617.6" cy="289.2" r="10.0"/>
<circle cx="1629.4" cy="286.5" r="10.0"/>
<circle cx="1649.0" cy="290.5" r="12.0"/>
<circle cx="1621.5" cy="312.7" r="13.4"/>
<circle cx="1641.2" cy="304.9" r="12.0"/>
<circle cx="1632.0" cy="336.3" r="12.0"/>
<circle cx="1626.8" cy="345.5" r="10.0"/>
<circle cx="1655.6" cy="350.7" r="9.1"/>
<circle cx="1646.4" cy="354.7" r="6.2"/>
<circle cx="1675.2" cy="320.6" r="12.0"/>
<circle cx="1696.2" cy="318.0" r="11.1"/>
<circle cx="1717.2" cy="318.0" r="10.5"/>
<circle cx="1752.5" cy="321.9" r="10.5"/>
<circle cx="1772.2" cy="314.1" r="14.9"/>
<circle cx="1780.1" cy="297.0" r="12.0"/>
<circle cx="1804.9" cy="337.6" r="12.0"/>
<circle cx="1776.1" cy="342.9" r="12.0"/>
<circle cx="1765.6" cy="363.8" r="12.0"/>
<circle cx="1780.1" cy="359.9" r="10.5"/>
<circle cx="1742.1" cy="352.1" r="12.0"/>
<circle cx="1705.4" cy="353.4" r="14.9"/>
<circle cx="1684.4" cy="354.7" r="10.5"/>
<circle cx="1527.2" cy="318.0" r="9.1"/>
<circle cx="1525.9" cy="337.6" r="12.0"/>
<circle cx="1504.9" cy="339.0" r="10.5"/>
<circle cx="1506.2" cy="327.2" r="7.6"/>
<circle cx="1558.6" cy="320.6" r="14.9"/>
<circle cx="1582.2" cy="319.3" r="12.0"/>
<circle cx="1592.7" cy="308.8" r="10.5"/>
<circle cx="1584.8" cy="346.8" r="16.3"/>
<circle cx="1590.1" cy="376.9" r="12.0"/>
<circle cx="1621.5" cy="366.5" r="12.0"/>
<circle cx="1642.5" cy="386.1" r="12.0"/>
<circle cx="1811.5" cy="357.3" r="4.8"/>
<circle cx="1514.1" cy="371.7" r="10.5"/>
<circle cx="1511.4" cy="387.4" r="7.1"/>
<circle cx="1535.0" cy="396.6" r="8.2"/>
<circle cx="1559.9" cy="394.0" r="16.3"/>
<circle cx="1562.5" cy="418.9" r="9.1"/>
<circle cx="1533.7" cy="422.8" r="10.5"/>
<circle cx="1507.5" cy="430.7" r="10.0"/>
<circle cx="1515.4" cy="433.3" r="7.6"/>
<circle cx="1582.2" cy="424.1" r="7.6"/>
<circle cx="1605.8" cy="430.7" r="10.0"/>
<circle cx="1599.2" cy="433.3" r="6.2"/>
<circle cx="1626.8" cy="417.6" r="10.5"/>
<circle cx="1679.2" cy="399.2" r="12.0"/>
<circle cx="1696.2" cy="395.3" r="12.0"/>
<circle cx="1694.9" cy="428.1" r="10.5"/>
<circle cx="1730.3" cy="416.3" r="15.7"/>
<circle cx="1735.5" cy="387.4" r="12.0"/>
<circle cx="1760.4" cy="388.7" r="11.1"/>
<circle cx="1776.1" cy="394.0" r="9.1"/>
<circle cx="1812.8" cy="409.7" r="12.0"/>
<circle cx="1785.3" cy="429.4" r="6.2"/>
<circle cx="1799.7" cy="428.1" r="7.6"/>
<circle cx="1773.5" cy="408.4" r="3.3"/>
<circle cx="1540.3" cy="387.4" r="3.3"/>
<circle cx="1571.7" cy="412.3" r="2.5"/>
<circle cx="1647.7" cy="179.1" r="3.3"/>
<circle cx="1664.7" cy="146.3" r="2.5"/>
<circle cx="1667.4" cy="152.9" r="1.9"/>
<circle cx="1660.8" cy="162.1" r="3.3"/>
<circle cx="1671.3" cy="173.9" r="2.5"/>
<circle cx="1611.0" cy="205.3" r="2.5"/>
<circle cx="1632.0" cy="194.8" r="1.9"/>
<circle cx="1653.0" cy="223.6" r="2.5"/>
<circle cx="1654.3" cy="234.1" r="1.9"/>
<circle cx="1527.2" cy="234.1" r="2.5"/>
<circle cx="1539.0" cy="253.8" r="2.5"/>
<circle cx="1574.3" cy="255.1" r="2.5"/>
<circle cx="1603.2" cy="234.1" r="2.5"/>
<circle cx="1793.2" cy="154.2" r="2.5"/>
<circle cx="1798.4" cy="160.8" r="1.9"/>
<circle cx="1802.3" cy="234.1" r="1.9"/>
<circle cx="1787.9" cy="253.8" r="2.5"/>
<circle cx="1818.1" cy="352.1" r="2.5"/>
<circle cx="1802.3" cy="370.4" r="1.3"/>
<circle cx="1664.7" cy="376.9" r="2.5"/>
<circle cx="1666.1" cy="388.7" r="1.9"/>
<circle cx="1793.2" cy="405.8" r="1.9"/>
<circle cx="1726.3" cy="383.5" r="2.5"/>
<circle cx="1749.9" cy="417.6" r="2.5"/>
<circle cx="1976.8" cy="336.4" r="1.3" stroke-width="1.1"/>
<circle cx="1994.3" cy="391.5" r="1.6" stroke-width="1.1"/>
<circle cx="1944.8" cy="348.6" r="2.4" stroke-width="1.1"/>
<circle cx="2130.0" cy="117.2" r="2.4" stroke-width="1.1"/>
<circle cx="2241.9" cy="437.0" r="1.0" stroke-width="1.1"/>
<circle cx="1972.7" cy="352.7" r="1.6" stroke-width="1.1"/>
<circle cx="2191.1" cy="403.6" r="2.4" stroke-width="1.1"/>
<circle cx="2181.9" cy="135.9" r="1.0" stroke-width="1.1"/>
<circle cx="2249.1" cy="279.8" r="2.4" stroke-width="1.1"/>
<circle cx="1941.1" cy="382.5" r="1.3" stroke-width="1.1"/>
<circle cx="1939.5" cy="436.6" r="1.3" stroke-width="1.1"/>
<circle cx="2138.0" cy="171.3" r="1.6" stroke-width="1.1"/>
<circle cx="2015.7" cy="386.7" r="1.0" stroke-width="1.1"/>
<circle cx="1939.1" cy="422.9" r="2.8" stroke-width="1.1"/>
<circle cx="1997.3" cy="121.5" r="2.4" stroke-width="1.1"/>
<circle cx="2143.9" cy="269.5" r="1.3" stroke-width="1.1"/>
<circle cx="2165.7" cy="149.7" r="1.0" stroke-width="1.1"/>
<circle cx="2170.5" cy="130.6" r="1.0" stroke-width="1.1"/>
<circle cx="2086.8" cy="310.0" r="1.6" stroke-width="1.1"/>
<circle cx="1969.1" cy="155.9" r="1.3" stroke-width="1.1"/>
<circle cx="2112.3" cy="191.1" r="1.3" stroke-width="1.1"/>
<circle cx="1981.5" cy="305.7" r="2.8" stroke-width="1.1"/>
<circle cx="2064.2" cy="430.2" r="1.0" stroke-width="1.1"/>
<circle cx="2243.7" cy="244.6" r="2.0" stroke-width="1.1"/>
<circle cx="2130.7" cy="315.6" r="1.0" stroke-width="1.1"/>
<circle cx="2063.9" cy="427.9" r="1.6" stroke-width="1.1"/>
<circle cx="2044.9" cy="195.4" r="1.6" stroke-width="1.1"/>
<circle cx="2170.0" cy="395.3" r="2.4" stroke-width="1.1"/>
<circle cx="2199.5" cy="418.4" r="2.0" stroke-width="1.1"/>
<circle cx="2213.8" cy="133.4" r="2.4" stroke-width="1.1"/>
<circle cx="1981.3" cy="341.3" r="1.6" stroke-width="1.1"/>
<circle cx="2015.3" cy="255.7" r="2.8" stroke-width="1.1"/>
<circle cx="1936.5" cy="151.8" r="1.3" stroke-width="1.1"/>
<circle cx="1955.6" cy="259.3" r="2.4" stroke-width="1.1"/>
<circle cx="2154.6" cy="190.4" r="2.0" stroke-width="1.1"/>
<circle cx="2254.3" cy="373.3" r="2.0" stroke-width="1.1"/>
<circle cx="2142.7" cy="384.1" r="1.0" stroke-width="1.1"/>
<circle cx="1944.0" cy="328.5" r="1.6" stroke-width="1.1"/>
<circle cx="2237.2" cy="322.5" r="2.8" stroke-width="1.1"/>
<circle cx="2112.5" cy="422.3" r="2.4" stroke-width="1.1"/>
<circle cx="1966.0" cy="156.0" r="1.0" stroke-width="1.1"/>
<circle cx="2076.5" cy="431.1" r="1.6" stroke-width="1.1"/>
<circle cx="1970.1" cy="230.9" r="1.3" stroke-width="1.1"/>
<circle cx="1972.6" cy="312.8" r="2.4" stroke-width="1.1"/>
<circle cx="2231.7" cy="143.6" r="2.4" stroke-width="1.1"/>
<circle cx="2109.7" cy="164.9" r="1.0" stroke-width="1.1"/>
<circle cx="2102.4" cy="409.3" r="2.0" stroke-width="1.1"/>
<circle cx="2124.2" cy="206.6" r="2.8" stroke-width="1.1"/>
<circle cx="1961.8" cy="296.9" r="2.0" stroke-width="1.1"/>
<circle cx="2135.0" cy="304.8" r="2.8" stroke-width="1.1"/>
<circle cx="2060.9" cy="297.6" r="1.6" stroke-width="1.1"/>
<circle cx="2085.5" cy="297.4" r="2.4" stroke-width="1.1"/>
<circle cx="2091.2" cy="387.3" r="1.0" stroke-width="1.1"/>
<circle cx="2013.0" cy="189.1" r="2.4" stroke-width="1.1"/>
<circle cx="2113.7" cy="437.3" r="2.0" stroke-width="1.1"/>
<circle cx="1936.6" cy="232.6" r="1.3" stroke-width="1.1"/>
<circle cx="2040.1" cy="223.6" r="1.6" stroke-width="1.1"/>
<circle cx="2027.1" cy="443.2" r="1.6" stroke-width="1.1"/>
<circle cx="1951.5" cy="122.8" r="2.4" stroke-width="1.1"/>
<circle cx="1954.8" cy="404.7" r="2.0" stroke-width="1.1"/>
<circle cx="2150.8" cy="287.1" r="2.0" stroke-width="1.1"/>
<circle cx="2050.1" cy="368.7" r="2.4" stroke-width="1.1"/>
<circle cx="2007.3" cy="433.9" r="2.8" stroke-width="1.1"/>
<circle cx="2242.5" cy="253.9" r="2.8" stroke-width="1.1"/>
<circle cx="2049.6" cy="339.7" r="2.4" stroke-width="1.1"/>
<circle cx="2135.2" cy="207.4" r="2.4" stroke-width="1.1"/>
<circle cx="1964.2" cy="399.7" r="2.0" stroke-width="1.1"/>
<circle cx="2021.8" cy="324.9" r="2.8" stroke-width="1.1"/>
<circle cx="2236.1" cy="157.8" r="1.0" stroke-width="1.1"/>
<circle cx="1934.1" cy="369.6" r="2.4" stroke-width="1.1"/>
<circle cx="1971.6" cy="247.5" r="2.4" stroke-width="1.1"/>
<circle cx="1982.3" cy="397.6" r="1.6" stroke-width="1.1"/>
<circle cx="2222.2" cy="317.1" r="2.0" stroke-width="1.1"/>
<circle cx="2215.2" cy="345.4" r="1.6" stroke-width="1.1"/>
<circle cx="2172.5" cy="212.8" r="2.0" stroke-width="1.1"/>
<circle cx="2107.2" cy="313.2" r="2.8" stroke-width="1.1"/>
<circle cx="2039.4" cy="376.7" r="2.0" stroke-width="1.1"/>
<circle cx="2058.9" cy="215.2" r="2.4" stroke-width="1.1"/>
<circle cx="2033.5" cy="163.7" r="2.4" stroke-width="1.1"/>
<circle cx="2057.7" cy="192.6" r="1.6" stroke-width="1.1"/>
<circle cx="2040.1" cy="395.4" r="1.3" stroke-width="1.1"/>
<circle cx="2250.7" cy="183.4" r="2.0" stroke-width="1.1"/>
<circle cx="2228.3" cy="432.8" r="1.0" stroke-width="1.1"/>
<circle cx="1948.4" cy="303.0" r="2.0" stroke-width="1.1"/>
<circle cx="2032.1" cy="293.6" r="1.6" stroke-width="1.1"/>
<circle cx="2111.3" cy="446.8" r="2.4" stroke-width="1.1"/>
<circle cx="2206.5" cy="356.8" r="2.0" stroke-width="1.1"/>
<circle cx="2061.8" cy="234.3" r="2.4" stroke-width="1.1"/>
<circle cx="2157.0" cy="265.9" r="1.0" stroke-width="1.1"/>
<circle cx="2157.0" cy="289.9" r="1.0" stroke-width="1.1"/>
<circle cx="2068.5" cy="281.8" r="2.8" stroke-width="1.1"/>
<circle cx="2118.8" cy="306.1" r="1.3" stroke-width="1.1"/>
<circle cx="2252.6" cy="277.1" r="2.0" stroke-width="1.1"/>
<circle cx="2187.2" cy="413.9" r="2.4" stroke-width="1.1"/>
<circle cx="2046.5" cy="291.5" r="1.0" stroke-width="1.1"/>
<circle cx="1989.3" cy="221.1" r="1.0" stroke-width="1.1"/>
<circle cx="2206.7" cy="285.7" r="1.0" stroke-width="1.1"/>
<circle cx="2150.2" cy="213.5" r="1.6" stroke-width="1.1"/>
<circle cx="2204.8" cy="444.1" r="2.0" stroke-width="1.1"/>
<circle cx="2142.0" cy="289.5" r="2.4" stroke-width="1.1"/>
<circle cx="2001.6" cy="411.9" r="2.0" stroke-width="1.1"/>
<circle cx="1993.1" cy="324.7" r="2.4" stroke-width="1.1"/>
<circle cx="1968.0" cy="304.7" r="2.8" stroke-width="1.1"/>
<circle cx="2143.8" cy="129.7" r="2.0" stroke-width="1.1"/>
<circle cx="1936.2" cy="116.5" r="2.8" stroke-width="1.1"/>
<circle cx="2161.8" cy="116.9" r="1.6" stroke-width="1.1"/>
<circle cx="2064.5" cy="148.3" r="1.0" stroke-width="1.1"/>
<circle cx="2154.3" cy="180.9" r="2.0" stroke-width="1.1"/>
<circle cx="2187.7" cy="303.7" r="2.8" stroke-width="1.1"/>
<circle cx="2229.7" cy="286.3" r="1.3" stroke-width="1.1"/>
<circle cx="2123.2" cy="252.0" r="1.0" stroke-width="1.1"/>
<circle cx="1980.8" cy="287.6" r="2.4" stroke-width="1.1"/>
<circle cx="1968.0" cy="148.8" r="1.3" stroke-width="1.1"/>
<circle cx="2247.1" cy="278.3" r="2.0" stroke-width="1.1"/>
<circle cx="2136.0" cy="383.2" r="1.0" stroke-width="1.1"/>
<circle cx="2148.3" cy="342.7" r="2.4" stroke-width="1.1"/>
<circle cx="2039.7" cy="353.0" r="1.6" stroke-width="1.1"/>
<circle cx="2024.0" cy="126.5" r="2.8" stroke-width="1.1"/>
<circle cx="1965.6" cy="415.5" r="2.4" stroke-width="1.1"/>
<circle cx="1953.5" cy="179.2" r="2.4" stroke-width="1.1"/>
<circle cx="2060.6" cy="133.8" r="2.0" stroke-width="1.1"/>
<circle cx="2125.9" cy="434.0" r="2.0" stroke-width="1.1"/>
<circle cx="1950.7" cy="194.7" r="1.3" stroke-width="1.1"/>
<circle cx="1947.2" cy="424.4" r="1.3" stroke-width="1.1"/>
<circle cx="2037.1" cy="413.8" r="2.0" stroke-width="1.1"/>
<circle cx="2033.4" cy="315.5" r="2.0" stroke-width="1.1"/>
<circle cx="2257.6" cy="138.0" r="2.8" stroke-width="1.1"/>
<circle cx="2061.9" cy="354.0" r="1.3" stroke-width="1.1"/>
<circle cx="2069.8" cy="247.9" r="2.8" stroke-width="1.1"/>
<circle cx="2093.3" cy="378.6" r="1.3" stroke-width="1.1"/>
<circle cx="1961.6" cy="172.0" r="2.0" stroke-width="1.1"/>
<circle cx="1994.5" cy="437.9" r="1.6" stroke-width="1.1"/>
<circle cx="2064.0" cy="236.0" r="1.6" stroke-width="1.1"/>
<circle cx="2109.7" cy="243.5" r="2.0" stroke-width="1.1"/>
<circle cx="2148.7" cy="434.5" r="2.0" stroke-width="1.1"/>
<circle cx="2206.6" cy="232.1" r="1.3" stroke-width="1.1"/>
<circle cx="2061.1" cy="270.6" r="1.6" stroke-width="1.1"/>
<circle cx="2011.3" cy="127.2" r="2.8" stroke-width="1.1"/>
<circle cx="1941.0" cy="382.6" r="1.3" stroke-width="1.1"/>
<circle cx="2166.8" cy="146.4" r="1.6" stroke-width="1.1"/>
<circle cx="2113.4" cy="376.9" r="2.4" stroke-width="1.1"/>
<circle cx="2079.7" cy="393.1" r="1.3" stroke-width="1.1"/>
<circle cx="1985.4" cy="232.7" r="2.8" stroke-width="1.1"/>
<circle cx="2067.0" cy="324.4" r="2.4" stroke-width="1.1"/>
<circle cx="2001.6" cy="431.1" r="2.4" stroke-width="1.1"/>
<circle cx="2000.4" cy="400.4" r="2.8" stroke-width="1.1"/>
<circle cx="1976.1" cy="350.0" r="1.6" stroke-width="1.1"/>
<circle cx="2130.3" cy="261.7" r="1.6" stroke-width="1.1"/>
<circle cx="2110.0" cy="249.7" r="2.4" stroke-width="1.1"/>
<circle cx="2003.1" cy="405.0" r="1.0" stroke-width="1.1"/>
<circle cx="2157.5" cy="146.0" r="1.6" stroke-width="1.1"/>
<circle cx="2176.8" cy="369.4" r="1.0" stroke-width="1.1"/>
<circle cx="2150.8" cy="304.0" r="1.6" stroke-width="1.1"/>
<circle cx="1937.6" cy="351.4" r="2.8" stroke-width="1.1"/>
<circle cx="1991.4" cy="397.9" r="1.6" stroke-width="1.1"/>
<circle cx="1995.1" cy="411.3" r="1.0" stroke-width="1.1"/>
<circle cx="2119.1" cy="235.5" r="2.4" stroke-width="1.1"/>
<circle cx="2184.2" cy="179.6" r="2.8" stroke-width="1.1"/>
<circle cx="2035.9" cy="190.7" r="1.3" stroke-width="1.1"/>
<circle cx="2203.6" cy="248.0" r="1.6" stroke-width="1.1"/>
<circle cx="2221.8" cy="113.6" r="15.7"/>
<circle cx="2143.7" cy="128.0" r="16.3"/>
<circle cx="2131.9" cy="118.8" r="7.6"/>
<circle cx="2171.2" cy="116.2" r="6.2"/>
<circle cx="2185.6" cy="115.7" r="2.5"/>
<circle cx="2107.0" cy="117.5" r="2.5"/>
<circle cx="2006.1" cy="122.8" r="7.6"/>
<circle cx="2028.4" cy="122.8" r="4.2"/>
<circle cx="2033.6" cy="133.2" r="3.3"/>
<circle cx="2067.7" cy="133.2" r="6.2"/>
<circle cx="2079.5" cy="129.3" r="8.2"/>
<circle cx="2070.3" cy="146.3" r="4.2"/>
<circle cx="1991.7" cy="135.9" r="4.8"/>
<circle cx="1999.6" cy="156.8" r="7.6"/>
<circle cx="2006.1" cy="166.0" r="4.8"/>
<circle cx="1990.4" cy="141.1" r="2.5"/>
<circle cx="1945.9" cy="129.3" r="2.5"/>
<circle cx="1976.0" cy="142.4" r="2.5"/>
<circle cx="1940.6" cy="163.4" r="15.7"/>
<circle cx="1959.0" cy="162.1" r="7.6"/>
<circle cx="1960.3" cy="183.0" r="7.6"/>
<circle cx="1936.7" cy="200.1" r="10.5"/>
<circle cx="1935.4" cy="205.3" r="7.6"/>
<circle cx="1948.5" cy="227.6" r="10.0"/>
<circle cx="1968.1" cy="201.4" r="9.1"/>
<circle cx="1970.8" cy="210.5" r="6.2"/>
<circle cx="1978.6" cy="171.2" r="9.1"/>
<circle cx="1983.9" cy="168.6" r="7.1"/>
<circle cx="1994.3" cy="179.1" r="7.6"/>
<circle cx="1990.4" cy="164.7" r="3.3"/>
<circle cx="2015.3" cy="181.7" r="4.8"/>
<circle cx="2023.2" cy="187.0" r="9.1"/>
<circle cx="2031.0" cy="177.8" r="6.2"/>
<circle cx="2014.0" cy="201.4" r="9.1"/>
<circle cx="2003.5" cy="201.4" r="6.2"/>
<circle cx="1989.1" cy="202.7" r="4.8"/>
<circle cx="2021.9" cy="194.8" r="7.6"/>
<circle cx="2037.6" cy="205.3" r="7.6"/>
<circle cx="2044.1" cy="189.6" r="3.3"/>
<circle cx="2035.0" cy="217.1" r="4.8"/>
<circle cx="2035.0" cy="226.3" r="6.2"/>
<circle cx="2048.1" cy="226.3" r="10.0"/>
<circle cx="2059.9" cy="218.4" r="9.1"/>
<circle cx="2067.7" cy="215.8" r="9.1"/>
<circle cx="2080.8" cy="206.6" r="6.2"/>
<circle cx="2063.8" cy="189.6" r="3.3"/>
<circle cx="2074.3" cy="173.9" r="7.6"/>
<circle cx="2088.7" cy="173.9" r="4.8"/>
<circle cx="2075.6" cy="160.8" r="3.3"/>
<circle cx="2108.3" cy="163.4" r="10.5"/>
<circle cx="2101.8" cy="168.6" r="7.6"/>
<circle cx="2096.5" cy="152.9" r="3.3"/>
<circle cx="2108.3" cy="141.1" r="3.3"/>
<circle cx="2114.9" cy="137.2" r="2.5"/>
<circle cx="2138.5" cy="162.1" r="6.2"/>
<circle cx="2138.5" cy="177.8" r="12.0"/>
<circle cx="2154.2" cy="184.3" r="14.9"/>
<circle cx="2163.4" cy="141.1" r="2.5"/>
<circle cx="2185.6" cy="164.7" r="12.0"/>
<circle cx="2188.3" cy="183.0" r="16.3"/>
<circle cx="2190.9" cy="197.4" r="12.0"/>
<circle cx="2172.5" cy="202.7" r="6.2"/>
<circle cx="2198.7" cy="210.5" r="9.1"/>
<circle cx="2213.2" cy="206.6" r="10.5"/>
<circle cx="2224.9" cy="214.5" r="3.3"/>
<circle cx="2240.7" cy="183.0" r="10.0"/>
<circle cx="2213.2" cy="142.4" r="12.0"/>
<circle cx="2232.8" cy="143.7" r="10.0"/>
<circle cx="2243.3" cy="223.6" r="10.5"/>
<circle cx="2251.2" cy="211.9" r="3.3"/>
<circle cx="2130.6" cy="205.3" r="7.6"/>
<circle cx="2142.4" cy="210.5" r="7.6"/>
<circle cx="2135.8" cy="200.1" r="4.8"/>
<circle cx="2104.4" cy="219.7" r="9.1"/>
<circle cx="2116.2" cy="227.6" r="6.2"/>
<circle cx="2150.3" cy="234.1" r="4.8"/>
<circle cx="2192.2" cy="238.1" r="10.5"/>
<circle cx="2194.8" cy="248.5" r="6.2"/>
<circle cx="2177.8" cy="251.2" r="6.2"/>
<circle cx="2217.1" cy="239.4" r="3.3"/>
<circle cx="2219.7" cy="255.1" r="6.2"/>
<circle cx="2221.0" cy="247.2" r="3.3"/>
<circle cx="2202.7" cy="263.0" r="2.5"/>
<circle cx="2130.6" cy="247.2" r="12.0"/>
<circle cx="2121.4" cy="252.5" r="7.6"/>
<circle cx="2120.1" cy="263.0" r="7.6"/>
<circle cx="2130.6" cy="272.1" r="10.5"/>
<circle cx="2137.2" cy="273.4" r="10.5"/>
<circle cx="2122.7" cy="278.7" r="6.2"/>
<circle cx="2151.6" cy="283.9" r="7.6"/>
<circle cx="2162.1" cy="273.4" r="7.6"/>
<circle cx="2172.5" cy="270.8" r="7.6"/>
<circle cx="2183.0" cy="281.3" r="7.6"/>
<circle cx="2193.5" cy="276.1" r="9.1"/>
<circle cx="2198.7" cy="283.9" r="7.6"/>
<circle cx="2210.5" cy="294.4" r="6.2"/>
<circle cx="2149.0" cy="294.4" r="4.8"/>
<circle cx="2080.8" cy="283.9" r="14.9"/>
<circle cx="2088.7" cy="273.4" r="10.5"/>
<circle cx="2091.3" cy="289.2" r="7.6"/>
<circle cx="2107.0" cy="276.1" r="4.2"/>
<circle cx="2017.9" cy="236.8" r="7.6"/>
<circle cx="2033.6" cy="247.2" r="6.2"/>
<circle cx="2057.2" cy="255.1" r="4.8"/>
<circle cx="2020.5" cy="264.3" r="12.0"/>
<circle cx="2041.5" cy="264.3" r="6.2"/>
<circle cx="2049.4" cy="263.0" r="6.2"/>
<circle cx="2049.4" cy="276.1" r="6.2"/>
<circle cx="2045.4" cy="286.5" r="7.6"/>
<circle cx="2036.3" cy="291.8" r="4.8"/>
<circle cx="2028.4" cy="278.7" r="4.8"/>
<circle cx="1985.2" cy="259.0" r="12.0"/>
<circle cx="1978.6" cy="263.0" r="9.1"/>
<circle cx="1994.3" cy="247.2" r="6.2"/>
<circle cx="1952.4" cy="273.4" r="6.2"/>
<circle cx="1979.9" cy="290.5" r="15.7"/>
<circle cx="2002.2" cy="293.1" r="4.8"/>
<circle cx="2021.9" cy="294.4" r="7.6"/>
<circle cx="2027.1" cy="299.6" r="4.8"/>
<circle cx="2049.4" cy="302.3" r="6.2"/>
<circle cx="2046.8" cy="310.1" r="4.8"/>
<circle cx="2074.3" cy="304.9" r="4.2"/>
<circle cx="2099.2" cy="311.4" r="7.6"/>
<circle cx="2107.0" cy="312.7" r="7.6"/>
<circle cx="2113.6" cy="316.7" r="6.2"/>
<circle cx="2088.7" cy="311.4" r="3.3"/>
<circle cx="1930.1" cy="312.7" r="9.1"/>
<circle cx="1956.3" cy="319.3" r="6.2"/>
<circle cx="1973.4" cy="327.2" r="7.6"/>
<circle cx="1983.9" cy="323.2" r="10.5"/>
<circle cx="2007.4" cy="323.2" r="16.3"/>
<circle cx="2031.0" cy="328.5" r="2.5"/>
<circle cx="2053.3" cy="323.2" r="7.6"/>
<circle cx="2074.3" cy="320.6" r="2.5"/>
<circle cx="2167.3" cy="307.5" r="6.2"/>
<circle cx="2172.5" cy="325.8" r="9.1"/>
<circle cx="2168.6" cy="318.0" r="6.2"/>
<circle cx="2190.9" cy="329.8" r="10.5"/>
<circle cx="2215.8" cy="324.5" r="15.7"/>
<circle cx="2232.8" cy="331.1" r="7.6"/>
<circle cx="2245.9" cy="318.0" r="10.0"/>
<circle cx="2245.9" cy="329.8" r="7.6"/>
<circle cx="2080.8" cy="346.8" r="9.1"/>
<circle cx="2107.0" cy="348.1" r="6.2"/>
<circle cx="2125.4" cy="362.5" r="14.9"/>
<circle cx="2141.1" cy="349.4" r="10.5"/>
<circle cx="2130.6" cy="352.1" r="9.1"/>
<circle cx="2163.4" cy="359.9" r="9.1"/>
<circle cx="2173.8" cy="362.5" r="6.2"/>
<circle cx="2166.0" cy="375.6" r="6.2"/>
<circle cx="2252.5" cy="365.2" r="12.0"/>
<circle cx="2204.0" cy="354.7" r="2.5"/>
<circle cx="2227.6" cy="376.9" r="6.2"/>
<circle cx="2209.2" cy="378.3" r="4.8"/>
<circle cx="2206.6" cy="391.4" r="9.1"/>
<circle cx="2209.2" cy="408.4" r="12.0"/>
<circle cx="2214.5" cy="386.1" r="4.8"/>
<circle cx="2236.7" cy="409.7" r="6.2"/>
<circle cx="2234.1" cy="425.4" r="7.6"/>
<circle cx="2251.2" cy="392.7" r="2.5"/>
<circle cx="2084.7" cy="369.1" r="9.1"/>
<circle cx="2109.6" cy="373.0" r="6.2"/>
<circle cx="2097.9" cy="384.8" r="6.2"/>
<circle cx="2066.4" cy="388.7" r="6.2"/>
<circle cx="2063.8" cy="358.6" r="4.2"/>
<circle cx="2045.4" cy="357.3" r="2.5"/>
<circle cx="1977.3" cy="348.1" r="7.6"/>
<circle cx="1979.9" cy="357.3" r="7.6"/>
<circle cx="1997.0" cy="365.2" r="4.8"/>
<circle cx="2007.4" cy="366.5" r="3.3"/>
<circle cx="1934.1" cy="362.5" r="7.6"/>
<circle cx="1968.1" cy="373.0" r="2.5"/>
<circle cx="1976.0" cy="376.9" r="2.5"/>
<circle cx="1999.6" cy="378.3" r="4.8"/>
<circle cx="2002.2" cy="391.4" r="6.2"/>
<circle cx="1997.0" cy="400.5" r="4.8"/>
<circle cx="2010.1" cy="400.5" r="3.3"/>
<circle cx="1969.4" cy="396.6" r="2.5"/>
<circle cx="1978.6" cy="400.5" r="3.3"/>
<circle cx="1940.6" cy="409.7" r="3.3"/>
<circle cx="1953.7" cy="416.3" r="2.5"/>
<circle cx="1968.1" cy="430.7" r="4.8"/>
<circle cx="1994.3" cy="425.4" r="2.5"/>
<circle cx="2007.4" cy="422.8" r="3.3"/>
<circle cx="2040.2" cy="420.2" r="12.0"/>
<circle cx="2033.6" cy="411.0" r="6.2"/>
<circle cx="2031.0" cy="433.3" r="3.3"/>
<circle cx="2037.6" cy="395.3" r="4.8"/>
<circle cx="2045.4" cy="394.0" r="3.3"/>
<circle cx="2059.9" cy="401.8" r="3.3"/>
<circle cx="2061.2" cy="421.5" r="2.5"/>
<circle cx="2086.1" cy="407.1" r="15.7"/>
<circle cx="2095.2" cy="429.4" r="9.1"/>
<circle cx="2113.6" cy="399.2" r="12.0"/>
<circle cx="2128.0" cy="395.3" r="7.6"/>
<circle cx="2134.5" cy="386.1" r="4.8"/>
<circle cx="2152.9" cy="390.1" r="10.5"/>
<circle cx="2166.0" cy="400.5" r="9.1"/>
<circle cx="2176.5" cy="395.3" r="7.6"/>
<circle cx="2183.0" cy="409.7" r="3.3"/>
<circle cx="2137.2" cy="424.1" r="6.2"/>
<circle cx="2151.6" cy="430.7" r="7.6"/>
<circle cx="2122.7" cy="412.3" r="3.3"/>
</g>
<g stroke="#6f6f6f" stroke-width="2.4" stroke-linejoin="round">
<polygon points="257.8,544.3 258.4,537.1 263.9,533.5 270.1,532.9 278.5,535.4 279.9,544.3 276.9,550.2 268.2,555.0 260.7,553.2" fill="#b3c7ee"/>
<polygon points="307.2,562.7 292.0,572.8 276.7,567.0 271.2,553.2 280.3,540.4 302.8,542.1" fill="#c8e6a8"/>
<polygon points="263.1,550.1 273.1,552.2 277.1,564.3 267.8,571.1 256.1,566.8 256.3,559.9" fill="#a8dcf5"/>
<polygon points="299.7,556.7 301.5,549.0 318.4,546.3 324.5,552.5 319.4,570.2 310.9,569.7" fill="#c6d2f0"/>
<polygon points="330.7,552.6 324.3,557.6 316.2,555.8 313.4,546.3 320.1,539.4 329.3,541.7" fill="#c8e6a8"/>
<polygon points="336.8,563.1 333.6,573.7 328.2,573.6 323.1,573.1 318.8,567.8 322.9,557.8 326.4,556.7 334.5,559.8" fill="#a7d8a8"/>
<polygon points="326.4,574.5 337.8,570.8 344.1,571.9 346.8,579.8 344.6,590.0 338.5,592.7 327.6,589.5 324.8,581.8" fill="#ffb3ba"/>
<polygon points="324.9,584.6 321.9,591.5 314.7,593.0 307.1,588.6 304.5,584.1 309.9,577.0 313.0,573.9 319.5,576.4 324.5,578.0" fill="#c8e6a8"/>
<polygon points="311.4,587.7 302.7,596.0 283.8,592.1 284.9,579.2 296.6,567.8 311.9,575.0" fill="#d5e8b0"/>
<polygon points="286.1,581.0 285.7,585.9 280.8,588.6 277.1,587.1 276.6,581.7 281.3,578.1" fill="#f5f3b3"/>
<polygon points="309.0,588.9 318.6,596.7 313.8,611.4 302.7,618.9 291.3,613.5 286.5,602.1 294.9,590.7" fill="#b7e4c7"/>
<polygon points="272.3,607.1 269.0,612.6 260.4,612.4 257.5,605.0 261.4,599.9 268.1,599.3" fill="#e0c8e8"/>
<polygon points="260.9,619.7 268.9,611.2 281.6,607.3 287.9,618.3 280.7,633.6 269.1,633.6" fill="#fcd5b5"/>
<polygon points="281.8,611.8 289.2,609.5 292.9,614.0 293.7,617.9 293.2,621.4 286.6,626.1 281.4,624.7 280.3,620.8 279.7,615.4" fill="#ffb3ba"/>
<polygon points="291.1,628.3 289.3,623.8 291.6,620.6 295.4,618.9 298.8,619.0 300.5,621.6 301.1,626.4 298.3,629.2 295.8,630.4" fill="#fcd5b5"/>
<polygon points="263.8,617.8 266.9,622.8 269.4,632.3 263.0,636.1 255.4,637.5 250.2,629.8 254.9,620.1" fill="#f9b8d4"/>
<polygon points="255.1,618.3 250.3,615.7 250.1,610.8 252.5,606.9 255.9,606.9 260.5,611.5 259.6,615.0" fill="#b7e4c7"/>
<polygon points="226.7,644.9 223.5,626.3 235.1,618.0 249.2,620.4 253.8,640.1 241.3,647.3" fill="#c6d2f0"/>
<polygon points="248.3,589.8 246.1,593.7 241.4,597.3 238.5,595.2 233.8,592.6 233.5,586.2 234.2,583.5 239.2,580.6 244.7,582.8" fill="#c6d2f0"/>
<polygon points="238.1,605.6 239.6,602.7 243.3,600.8 247.3,603.2 247.4,607.6 245.1,610.6 241.2,609.5" fill="#a7d8a8"/>
<polygon points="329.6,629.7 323.3,619.7 322.6,610.7 329.2,606.8 336.4,606.4 344.6,613.1 346.6,619.7 337.9,628.0" fill="#a8dcf5"/>
<polygon points="346.3,625.2 349.6,617.6 361.5,617.3 364.0,623.9 361.1,632.3 348.3,634.2" fill="#a7d8a8"/>
<polygon points="345.5,633.1 341.1,638.1 332.3,633.2 331.0,630.4 330.3,622.6 336.7,618.8 345.1,620.5 348.8,628.9" fill="#b3c7ee"/>
<polygon points="322.4,621.6 328.3,621.5 330.9,628.0 327.4,634.7 323.1,635.2 316.3,632.0 314.7,626.6" fill="#d5e8b0"/>
<polygon points="336.6,631.3 337.5,638.7 334.1,644.0 331.1,643.1 324.8,639.4 322.6,636.3 326.0,629.4 330.9,628.6" fill="#e0c8e8"/>
<polygon points="311.0,636.0 306.4,637.7 302.9,635.0 302.9,630.8 308.7,628.5 311.0,631.7" fill="#e0c8e8"/>
<polygon points="362.3,557.0 355.3,560.7 351.7,556.0 349.1,555.1 350.2,547.8 354.4,545.1 360.2,545.3 363.2,549.5 365.2,554.9" fill="#a7d8a8"/>
<polygon points="355.9,562.9 356.7,559.2 361.5,554.0 369.5,551.9 374.2,555.9 374.3,562.5 371.7,568.3 363.8,571.7 360.3,571.0" fill="#f5f3b3"/>
<polygon points="364.4,561.1 372.0,572.2 368.8,581.7 361.0,585.4 353.3,581.9 350.1,571.5 353.5,563.0" fill="#d5e8b0"/>
<polygon points="372.1,565.4 366.9,562.7 366.0,554.1 371.5,548.7 379.8,553.1 380.5,561.9" fill="#b5e5e0"/>
<polygon points="377.5,542.9 384.7,541.3 391.7,545.3 391.1,554.0 379.6,558.5 373.1,553.0" fill="#b7e4c7"/>
<polygon points="389.1,549.1 395.8,547.2 400.5,551.4 398.4,559.7 391.3,562.3 386.0,555.6" fill="#b5e5e0"/>
<polygon points="384.6,578.1 378.4,574.9 375.3,570.0 379.1,561.7 382.3,559.5 391.8,561.0 395.5,565.7 395.0,570.7 391.0,577.7" fill="#b3c7ee"/>
<polygon points="381.5,575.1 378.4,578.8 373.0,577.8 367.4,571.4 367.7,566.7 374.3,562.7 377.7,562.8 382.2,568.1" fill="#d5e8b0"/>
<polygon points="349.3,591.6 355.8,580.0 363.3,577.7 374.0,582.7 377.6,594.4 367.8,604.8 361.9,603.4 349.1,597.3" fill="#b7e4c7"/>
<polygon points="388.3,600.2 380.8,592.4 378.9,585.7 386.0,573.9 394.1,574.3 403.3,579.1 403.7,585.1 400.1,593.7" fill="#b5e5e0"/>
<polygon points="414.8,575.1 409.4,580.7 404.1,580.2 400.5,576.5 400.0,568.5 403.5,567.3 411.6,566.6 413.9,571.8" fill="#fcd5b5"/>
<polygon points="404.4,594.1 398.9,581.3 401.9,574.8 415.4,573.2 423.5,577.0 425.0,585.9 420.4,595.3 410.4,599.5" fill="#cbb8e6"/>
<polygon points="406.9,552.1 411.6,556.7 410.6,560.5 406.8,562.8 402.5,561.6 400.4,558.7 401.4,554.0 403.7,551.9" fill="#b3c7ee"/>
<polygon points="416.6,598.9 416.5,593.9 423.5,586.2 427.8,587.9 433.6,592.7 434.1,599.8 430.4,605.1 420.3,605.0" fill="#c6d2f0"/>
<polygon points="440.7,623.9 432.1,620.7 422.6,612.9 424.1,600.0 436.8,595.2 444.3,599.1 446.9,613.9" fill="#f7c6e0"/>
<polygon points="450.3,594.2 457.3,597.3 463.0,606.5 459.3,612.6 448.3,619.4 439.3,614.6 433.9,608.4 439.5,596.4" fill="#c8e6a8"/>
<polygon points="461.4,603.9 471.9,608.0 473.4,620.4 463.3,627.8 451.9,621.4 450.3,611.8" fill="#a8dcf5"/>
<polygon points="436.0,634.3 434.3,618.6 446.0,616.1 456.9,620.3 460.1,634.8 448.7,640.6" fill="#a7d8a8"/>
<polygon points="401.2,597.9 406.0,595.3 419.5,600.0 418.9,607.5 415.8,617.1 406.9,622.8 396.8,615.4 394.5,608.7" fill="#c8e6a8"/>
<polygon points="377.7,594.4 381.9,593.7 385.3,594.6 387.0,599.9 386.1,602.9 381.0,604.6 377.2,604.5 374.8,597.8" fill="#f5f3b3"/>
<polygon points="451.7,570.2 461.6,577.3 460.1,585.0 457.4,588.3 447.7,589.5 443.7,584.4 442.1,576.5 444.7,573.4" fill="#a7d8a8"/>
<polygon points="456.9,578.0 459.4,572.4 466.8,570.5 469.4,571.5 472.3,578.3 468.5,584.2 465.6,585.3 458.6,581.8" fill="#b5e5e0"/>
<polygon points="463.5,590.9 463.9,585.3 467.8,581.4 473.4,581.2 477.1,587.7 475.8,593.0 468.8,596.9" fill="#b7e4c7"/>
<polygon points="464.7,596.9 476.4,595.8 479.5,607.5 475.4,612.0 463.8,611.0 460.6,603.1" fill="#ffb3ba"/>
<polygon points="499.4,565.7 502.7,584.9 491.0,593.3 481.4,588.7 474.2,581.8 475.8,569.7 487.4,561.9" fill="#b7e4c7"/>
<polygon points="489.4,569.2 489.8,560.2 496.0,555.2 501.7,555.8 510.2,561.1 508.4,567.7 499.8,576.5 492.7,574.4" fill="#e0c8e8"/>
<polygon points="520.3,548.5 524.0,555.6 519.6,565.2 510.3,567.0 503.9,562.2 501.2,554.4 504.0,546.2 507.7,545.2 515.4,544.0" fill="#f7c6e0"/>
<polygon points="539.3,559.6 532.8,561.5 525.7,555.9 524.9,548.1 529.1,539.9 536.5,539.1 546.4,542.2 548.4,549.5 543.5,555.3" fill="#a8dcf5"/>
<polygon points="519.6,574.1 527.5,578.9 530.2,585.6 523.8,593.5 514.0,592.1 510.1,585.4 514.3,577.3" fill="#e0c8e8"/>
<polygon points="507.2,562.7 502.7,561.5 497.7,556.7 497.1,552.2 501.2,548.0 504.8,546.9 511.1,552.2 512.1,556.6" fill="#c6d2f0"/>
<polygon points="542.4,596.3 538.6,591.7 541.0,584.4 544.1,581.5 550.3,582.9 552.7,590.0 549.5,595.0" fill="#c6d2f0"/>
<polygon points="512.3,618.1 504.7,623.1 498.0,622.0 490.2,618.9 491.3,606.4 496.2,603.0 507.1,602.6 513.2,609.5" fill="#b5e5e0"/>
<polygon points="537.9,621.6 527.9,626.9 519.2,623.8 512.4,615.1 513.1,608.1 518.3,602.9 530.2,599.8 536.0,608.1 537.1,616.4" fill="#f7c6e0"/>
<polygon points="505.4,626.9 504.5,633.4 501.0,636.5 494.2,635.7 490.9,631.5 491.0,627.3 494.5,622.7 499.3,620.7 502.0,622.3" fill="#f7c6e0"/>
<polygon points="487.6,618.4 483.8,619.0 478.7,617.1 476.6,613.0 482.0,608.3 485.8,608.5 487.7,612.1" fill="#a8dcf5"/>
<polygon points="374.7,660.1 365.9,646.7 366.7,640.8 377.2,627.1 384.4,627.4 394.2,636.7 397.5,647.3 383.2,657.7" fill="#c6d2f0"/>
<polygon points="397.3,673.7 390.5,675.8 380.6,665.8 386.8,650.7 393.8,648.1 407.5,657.4 407.5,663.4" fill="#e0c8e8"/>
<polygon points="382.6,667.5 399.9,667.7 403.8,688.7 391.9,700.8 376.8,692.4 369.5,678.5" fill="#f9b8d4"/>
<polygon points="409.4,660.9 403.7,656.3 403.8,651.3 407.1,647.5 414.4,648.2 417.7,655.0 417.1,659.9" fill="#e0c8e8"/>
<polygon points="427.9,665.1 420.9,660.8 421.8,657.0 428.3,651.0 435.0,653.2 436.9,656.7 433.7,664.2" fill="#fcd5b5"/>
<polygon points="429.1,671.9 437.4,677.5 439.7,683.8 437.2,689.9 430.3,694.5 422.0,693.5 414.4,685.4 417.5,677.9 421.6,673.9" fill="#e0c8e8"/>
<polygon points="410.2,681.9 406.7,680.2 404.2,674.9 404.9,671.7 408.9,669.6 412.9,669.9 413.6,672.1 415.6,675.8 413.0,680.4" fill="#b5e5e0"/>
<polygon points="477.7,656.8 471.3,662.5 464.6,660.7 462.0,655.3 464.7,649.1 469.8,646.7 476.9,650.7" fill="#b5e5e0"/>
<polygon points="481.1,648.4 477.8,643.9 479.4,640.5 484.9,640.2 487.7,643.9 484.5,647.5" fill="#b3c7ee"/>
<polygon points="548.5,661.2 530.2,672.1 517.0,663.3 514.3,643.4 522.5,636.9 542.2,634.3 548.0,641.5" fill="#cbb8e6"/>
<polygon points="522.3,660.3 523.6,667.1 508.3,680.6 497.6,679.4 487.4,665.0 488.3,656.8 504.7,646.5 512.3,648.4" fill="#f9b8d4"/>
<polygon points="544.1,687.2 537.0,682.2 531.5,672.4 536.1,663.6 546.4,660.6 555.2,662.8 557.5,672.0 558.0,681.9" fill="#cbb8e6"/>
<polygon points="515.0,683.1 521.9,674.6 531.1,676.9 538.5,684.6 529.0,695.7 520.0,696.9" fill="#b5e5e0"/>
<polygon points="547.4,689.9 541.3,697.1 534.0,698.3 529.0,687.8 533.6,680.0 541.4,679.4" fill="#c8e6a8"/>
<polygon points="506.5,702.2 488.0,696.8 485.7,681.2 496.7,669.9 517.1,675.2 517.7,690.5" fill="#f5f3b3"/>
<polygon points="509.2,703.8 510.8,694.8 517.4,689.8 530.2,694.4 533.8,697.4 532.8,711.8 529.8,716.1 517.1,716.4 510.7,714.4" fill="#f5f3b3"/>
<polygon points="544.4,694.3 552.4,699.8 555.1,712.2 547.4,718.3 536.9,718.0 531.0,708.8 534.8,697.9" fill="#ffb3ba"/>
<polygon points="477.1,676.1 484.1,682.6 483.8,695.1 473.1,701.1 465.8,697.3 466.8,681.7" fill="#a8dcf5"/>
<polygon points="478.5,698.7 482.6,708.7 483.2,711.6 477.7,718.9 467.3,721.1 463.0,715.1 459.7,709.3 462.1,703.0 470.2,699.6" fill="#cbb8e6"/>
<polygon points="452.1,718.6 457.7,713.2 465.9,715.8 469.4,720.6 468.7,724.8 463.6,729.6 457.3,731.2 453.4,728.9 448.6,722.3" fill="#b7e4c7"/>
<polygon points="476.0,731.9 465.1,726.3 464.0,714.0 477.0,709.1 485.2,712.0 486.6,724.2" fill="#cbb8e6"/>
<polygon points="486.9,718.1 489.3,718.6 494.8,722.2 495.4,726.9 492.8,732.7 489.5,733.4 484.6,732.3 481.6,727.9 481.8,724.7" fill="#d5e8b0"/>
<polygon points="510.4,738.2 504.6,739.9 497.4,738.3 497.2,735.1 497.7,727.5 502.9,724.9 508.5,726.2 511.2,731.8" fill="#c8e6a8"/>
<polygon points="523.7,726.1 525.8,729.6 523.8,735.2 518.3,735.3 514.7,733.8 514.6,729.2 516.6,725.4" fill="#a7d8a8"/>
<polygon points="422.8,732.4 406.3,723.2 407.1,707.5 412.1,695.4 434.6,701.8 441.8,711.1 433.8,729.7" fill="#a7d8a8"/>
<polygon points="440.3,712.0 443.2,715.6 438.5,724.8 432.8,724.9 429.0,717.6 432.1,710.1" fill="#c6d2f0"/>
<polygon points="410.4,699.0 414.7,700.1 415.3,705.2 413.0,708.5 409.2,710.0 404.9,707.8 404.5,703.1 407.1,699.3" fill="#fcd5b5"/>
<polygon points="262.4,673.0 243.3,673.6 236.3,664.6 241.8,646.6 254.7,650.0 265.2,659.6" fill="#f9b8d4"/>
<polygon points="272.8,674.7 264.0,670.2 260.3,660.1 270.0,650.5 279.4,657.2 282.3,668.3" fill="#a8dcf5"/>
<polygon points="263.1,665.7 276.1,665.7 284.4,675.8 277.7,685.3 261.3,684.8 254.4,676.5" fill="#a8dcf5"/>
<polygon points="282.6,689.7 274.2,681.7 275.5,671.4 281.4,665.3 290.8,663.0 293.2,665.9 301.7,673.1 298.5,683.1 289.0,690.5" fill="#b3c7ee"/>
<polygon points="258.9,689.8 253.6,684.3 253.5,680.2 256.3,676.3 262.3,675.2 266.4,678.8 266.9,684.1 264.7,687.9" fill="#b3c7ee"/>
<polygon points="296.3,708.0 290.3,708.4 287.0,708.3 280.1,704.1 279.7,698.7 285.3,691.4 291.3,689.8 295.8,695.2 299.7,698.5" fill="#b7e4c7"/>
<polygon points="302.1,695.1 308.3,698.5 306.4,705.3 302.5,708.7 296.3,708.3 292.2,702.3 297.6,695.6" fill="#c6d2f0"/>
<polygon points="219.3,711.5 220.4,701.7 226.6,695.6 237.2,692.7 241.7,696.7 244.0,702.3 244.3,712.7 236.6,717.3 226.6,716.0" fill="#d5e8b0"/>
<polygon points="252.8,708.6 248.2,710.6 245.9,712.8 240.1,707.9 239.2,705.6 239.8,700.4 243.6,697.9 249.0,697.1 252.2,701.1" fill="#b3c7ee"/>
<polygon points="263.7,722.0 255.7,722.9 245.2,714.2 243.1,708.6 250.6,696.8 258.2,694.4 266.8,701.5 269.2,706.7 269.9,713.2" fill="#b7e4c7"/>
<polygon points="287.7,703.8 301.2,714.8 295.9,732.6 285.2,738.1 269.3,730.7 266.3,709.9 273.5,702.9" fill="#f7c6e0"/>
<polygon points="312.3,741.1 307.8,750.4 300.0,755.0 294.3,751.6 286.4,742.9 288.1,737.8 296.7,727.3 302.0,728.9 312.9,735.9" fill="#cbb8e6"/>
<polygon points="246.1,730.1 248.0,733.5 246.9,741.9 240.5,744.1 234.8,742.7 230.0,735.8 233.1,729.8 237.0,725.2" fill="#d5e8b0"/>
<polygon points="314.5,663.8 326.8,664.7 331.8,676.6 327.6,684.1 315.4,685.4 310.2,672.2" fill="#f7c6e0"/>
<polygon points="325.6,659.9 334.9,657.5 340.4,666.6 336.7,676.3 324.4,674.8 322.6,667.0" fill="#d5e8b0"/>
<polygon points="335.6,693.6 325.9,700.5 317.5,698.3 316.4,685.2 320.3,678.4 328.7,677.4 336.8,683.4" fill="#c6d2f0"/>
<polygon points="357.7,673.3 354.0,680.3 342.7,682.0 338.4,672.2 340.6,665.8 350.3,664.7" fill="#b5e5e0"/>
<polygon points="345.8,673.6 347.5,667.5 356.7,662.3 368.9,670.9 366.9,682.5 357.3,686.8 348.8,682.8" fill="#b5e5e0"/>
<polygon points="361.0,682.1 360.0,670.5 364.5,664.8 376.4,668.4 378.7,674.4 369.8,682.1" fill="#f5f3b3"/>
<polygon points="361.2,686.8 371.1,685.7 380.5,694.0 377.1,707.7 370.8,709.1 359.0,709.9 354.8,693.9" fill="#fcd5b5"/>
<polygon points="365.6,713.7 366.5,705.5 369.0,703.7 378.2,703.1 379.8,709.2 377.7,714.0 373.7,716.6" fill="#f5f3b3"/>
<polygon points="343.2,699.9 340.0,690.0 347.1,683.2 356.7,685.5 357.3,696.9 348.6,704.5" fill="#a8dcf5"/>
<polygon points="351.1,686.1 355.7,684.5 362.3,685.7 364.4,689.7 364.3,692.8 360.0,697.4 355.7,698.2 350.0,694.5 350.7,689.8" fill="#c8e6a8"/>
<polygon points="354.4,698.9 352.8,709.1 346.5,713.6 337.6,715.1 330.7,713.6 326.9,700.8 329.5,694.8 337.3,691.4 346.8,689.4" fill="#ffb3ba"/>
<polygon points="326.1,718.4 333.8,734.8 323.2,742.7 313.2,742.7 306.2,731.2 313.1,719.6" fill="#ffb3ba"/>
<polygon points="342.7,741.8 335.8,746.6 328.8,741.1 327.7,736.1 329.6,727.9 338.4,725.7 343.2,728.8 345.3,738.6" fill="#b7e4c7"/>
<polygon points="359.8,741.8 351.5,743.3 346.3,734.6 350.4,728.1 359.9,729.0 361.7,737.5" fill="#ffb3ba"/>
<polygon points="359.7,730.7 371.3,735.3 373.1,746.2 367.6,751.7 355.2,748.0 352.7,740.9" fill="#f7c6e0"/>
<polygon points="362.3,719.1 362.7,723.9 359.8,727.7 356.8,728.3 352.1,726.1 352.4,723.4 352.9,718.3 355.2,716.6 360.1,717.6" fill="#c6d2f0"/>
<polygon points="332.5,728.1 330.8,723.6 331.9,720.8 333.4,718.4 338.2,718.8 340.8,719.5 342.4,724.4 340.3,728.2 336.2,730.4" fill="#b5e5e0"/>
<polygon points="244.2,762.0 240.4,756.2 243.2,752.2 248.9,749.2 251.0,749.4 255.5,753.9 254.7,760.5 252.7,762.3 248.6,765.3" fill="#c6d2f0"/>
<polygon points="274.5,766.4 269.6,768.2 266.6,765.4 264.7,760.6 265.7,757.9 271.2,756.5 273.7,757.8 276.1,761.8" fill="#f7c6e0"/>
<polygon points="290.0,763.5 285.7,762.0 283.4,758.4 286.3,753.6 290.3,751.6 293.5,754.1 294.9,758.7 293.2,762.9" fill="#f9b8d4"/>
<polygon points="274.1,788.7 265.9,779.6 265.3,770.1 272.6,764.2 283.8,763.5 292.8,770.2 292.1,776.8 284.4,788.9" fill="#a7d8a8"/>
<polygon points="267.1,793.1 257.7,779.8 260.4,772.4 270.1,767.3 278.4,779.0 275.2,787.6" fill="#d5e8b0"/>
<polygon points="260.4,795.3 261.0,787.9 269.7,785.2 272.5,789.4 274.0,797.1 267.8,801.9" fill="#c6d2f0"/>
<polygon points="253.8,783.9 247.1,786.1 243.3,779.9 246.7,774.6 252.3,775.9 255.6,779.0" fill="#c6d2f0"/>
<polygon points="242.7,774.1 242.1,780.3 241.7,782.8 235.2,781.6 233.0,781.4 232.8,775.0 235.7,771.8 240.4,773.3" fill="#e0c8e8"/>
<polygon points="324.6,772.4 322.5,777.9 317.1,782.5 307.9,778.8 306.6,769.5 312.6,763.2 319.3,762.4" fill="#c8e6a8"/>
<polygon points="337.5,779.3 327.4,780.7 322.4,777.4 322.0,768.8 327.9,762.1 335.7,764.8 340.1,771.8" fill="#f5f3b3"/>
<polygon points="336.4,762.3 340.6,761.6 345.4,767.1 346.1,774.7 339.6,777.0 331.2,773.9 332.1,768.7" fill="#d5e8b0"/>
<polygon points="321.4,795.3 316.3,788.5 321.4,775.0 332.7,774.3 340.6,778.4 344.7,787.1 335.8,796.0" fill="#a7d8a8"/>
<polygon points="321.8,793.0 319.4,798.6 316.1,803.6 311.6,801.8 303.4,798.5 302.1,791.0 306.1,786.8 310.4,784.6 318.9,787.7" fill="#c6d2f0"/>
<polygon points="322.2,797.4 336.1,795.6 346.1,801.7 347.0,813.8 338.4,820.3 325.9,821.1 314.1,813.3 317.2,800.7" fill="#f5f3b3"/>
<polygon points="350.8,808.0 350.8,814.3 343.7,816.3 337.1,812.1 337.3,809.0 340.6,801.7 347.4,801.8" fill="#f5f3b3"/>
<polygon points="326.0,826.9 317.2,820.9 319.2,816.0 329.1,812.3 331.4,816.1 331.3,823.6" fill="#a8dcf5"/>
<polygon points="366.3,787.2 358.8,784.2 356.7,776.5 361.8,766.0 368.0,764.6 375.8,768.9 377.9,779.1 373.8,787.4" fill="#b7e4c7"/>
<polygon points="367.6,766.2 370.9,756.4 377.5,754.7 386.0,757.9 388.0,766.1 381.1,772.1 374.4,772.0" fill="#c6d2f0"/>
<polygon points="379.9,772.2 387.1,770.6 392.0,777.6 395.4,783.1 391.9,788.6 386.8,793.9 379.1,792.6 372.8,788.0 374.3,778.7" fill="#d5e8b0"/>
<polygon points="385.4,794.4 388.0,780.7 398.5,773.3 410.6,782.3 410.3,793.2 395.9,802.3" fill="#fcd5b5"/>
<polygon points="407.6,785.4 414.7,786.6 417.5,790.4 415.4,797.4 408.0,799.6 403.7,797.5 402.4,790.1" fill="#e0c8e8"/>
<polygon points="407.0,753.7 407.1,759.5 402.9,766.5 399.1,765.3 391.1,763.0 389.4,754.9 389.9,752.3 394.3,747.1 404.9,747.9" fill="#c6d2f0"/>
<polygon points="403.6,755.5 407.8,753.7 412.2,756.1 414.4,760.8 409.7,765.1 402.9,762.0" fill="#f7c6e0"/>
<polygon points="417.5,767.5 410.7,763.0 412.0,755.1 415.7,749.4 419.7,748.3 428.1,751.8 429.2,759.4 428.7,763.6 422.5,767.1" fill="#a8dcf5"/>
<polygon points="420.9,767.4 422.1,761.8 429.6,760.0 434.2,764.6 433.3,772.6 423.6,773.7" fill="#f7c6e0"/>
<polygon points="426.3,783.9 426.2,777.5 428.3,774.6 434.2,775.6 437.1,779.7 433.7,784.5 429.9,786.7" fill="#cbb8e6"/>
<polygon points="427.0,797.1 421.7,797.5 417.2,790.4 423.4,783.6 431.1,785.1 432.7,792.5" fill="#a8dcf5"/>
<polygon points="423.9,790.1 422.1,799.6 417.7,800.9 409.3,795.3 413.3,786.8 420.0,786.6" fill="#cbb8e6"/>
<polygon points="438.1,730.5 445.7,731.0 449.7,734.3 448.6,741.9 441.4,747.7 433.9,746.4 432.4,734.4" fill="#f7c6e0"/>
<polygon points="460.7,743.8 463.7,749.9 453.7,761.6 442.6,762.2 439.5,755.4 436.5,747.2 440.9,737.2 451.2,735.7" fill="#b5e5e0"/>
<polygon points="436.8,781.1 436.3,762.0 454.2,752.8 467.3,758.5 465.6,782.1 453.1,787.7" fill="#fcd5b5"/>
<polygon points="463.0,774.4 457.7,767.5 458.4,759.8 464.3,754.5 474.8,756.5 477.5,764.3 474.3,770.6" fill="#d5e8b0"/>
<polygon points="476.6,778.9 469.2,778.4 465.3,771.8 466.8,764.2 476.2,755.8 481.9,757.3 489.4,764.0 488.8,772.5 486.2,777.2" fill="#a7d8a8"/>
<polygon points="479.4,765.9 483.5,761.2 491.1,758.3 495.7,761.9 499.7,770.3 498.9,776.3 488.8,783.0 484.0,782.8 479.0,775.6" fill="#a8dcf5"/>
<polygon points="475.0,782.7 478.3,772.1 487.7,770.0 493.7,776.1 492.0,788.1 481.7,788.5" fill="#b5e5e0"/>
<polygon points="464.4,787.8 460.6,783.2 463.2,777.9 472.1,774.9 474.5,779.1 475.1,784.5 469.2,791.0" fill="#f9b8d4"/>
<polygon points="431.2,798.2 435.8,786.9 444.8,786.9 452.0,798.8 445.2,808.2 436.4,808.3" fill="#f9b8d4"/>
<polygon points="451.5,788.8 454.5,786.2 462.2,786.4 466.1,794.2 465.2,802.3 455.7,805.9 452.2,803.8 448.0,795.8" fill="#b3c7ee"/>
<polygon points="464.9,801.6 469.5,807.4 468.1,814.2 461.9,819.2 452.5,815.9 451.3,810.8 451.0,802.0 459.8,798.4" fill="#c6d2f0"/>
<polygon points="438.4,821.1 441.7,810.7 449.2,802.9 462.3,807.0 462.2,821.2 452.9,828.2" fill="#c8e6a8"/>
<polygon points="464.0,828.6 457.1,823.7 456.1,818.2 458.4,811.6 466.2,809.9 474.9,816.5 473.1,823.7 467.8,827.8" fill="#c6d2f0"/>
<polygon points="486.7,820.5 482.2,815.4 484.3,808.9 487.7,807.7 493.3,806.6 496.4,809.1 498.1,815.6 494.5,821.1 491.0,821.6" fill="#f7c6e0"/>
<polygon points="467.3,834.7 467.5,819.5 478.2,817.3 487.2,818.2 488.3,832.1 480.5,839.8" fill="#b3c7ee"/>
<polygon points="503.1,836.3 498.9,846.0 489.9,854.3 481.3,852.2 475.3,838.3 479.2,830.0 488.0,828.3 498.0,829.0" fill="#a8dcf5"/>
<polygon points="503.6,860.4 497.5,859.9 493.5,853.5 491.5,849.2 496.0,844.5 503.8,842.1 509.9,846.2 511.1,848.6 510.3,856.3" fill="#e0c8e8"/>
<polygon points="473.8,837.5 482.8,841.8 483.4,846.7 480.2,853.7 469.1,852.4 465.1,848.7 466.7,840.3" fill="#d5e8b0"/>
<polygon points="533.3,808.7 534.6,824.9 522.4,831.1 511.0,824.0 514.4,807.3 522.4,801.8" fill="#b5e5e0"/>
<polygon points="528.3,837.4 522.0,845.5 510.3,840.8 511.0,830.4 518.0,825.1 526.4,830.2" fill="#e0c8e8"/>
<polygon points="530.4,855.0 526.3,858.7 520.6,856.9 517.0,851.4 518.7,847.7 519.8,844.8 527.4,843.3 531.0,846.3 532.6,849.7" fill="#b3c7ee"/>
<polygon points="543.9,814.2 536.2,813.3 532.5,806.6 533.4,802.2 539.9,799.5 545.1,801.5 547.2,809.8" fill="#b7e4c7"/>
<polygon points="535.3,767.0 522.8,767.8 519.3,761.8 521.3,752.1 528.9,749.6 537.3,755.2" fill="#c8e6a8"/>
<polygon points="384.9,825.3 385.1,817.7 385.1,806.6 392.5,802.8 406.6,808.4 411.3,815.8 408.2,821.5 400.2,828.4 390.0,830.3" fill="#a7d8a8"/>
<polygon points="412.0,801.2 414.7,809.3 406.3,814.5 400.5,808.8 399.3,802.9 407.6,799.6" fill="#c6d2f0"/>
<polygon points="406.4,823.2 412.0,833.7 409.8,839.7 400.0,845.2 393.4,844.3 390.4,839.5 389.2,830.2 394.1,823.9 400.2,821.9" fill="#c8e6a8"/>
<polygon points="385.9,851.5 380.5,850.2 378.5,849.2 377.1,845.7 379.0,841.9 383.0,840.8 385.5,841.2 388.6,844.2 387.8,849.8" fill="#ffb3ba"/>
<polygon points="401.8,832.6 416.5,832.9 421.8,844.4 421.5,850.2 417.1,860.0 405.1,863.1 396.8,860.1 393.3,844.3 396.6,837.9" fill="#c8e6a8"/>
<polygon points="419.0,841.0 418.0,836.9 420.9,834.3 421.9,833.9 425.8,833.8 427.4,837.3 426.2,840.6 425.3,841.9 422.3,842.0" fill="#b7e4c7"/>
<polygon points="376.3,823.4 380.9,828.1 377.2,837.4 371.9,837.9 366.5,833.8 366.7,826.6 369.4,823.0" fill="#b7e4c7"/>
<polygon points="352.2,840.3 351.8,836.2 356.2,832.2 360.3,833.7 362.4,835.2 362.4,839.8 360.7,843.4 354.6,842.1" fill="#ffb3ba"/>
<polygon points="348.6,834.2 351.5,837.6 352.2,841.3 349.0,844.9 347.1,845.5 343.1,844.1 341.5,842.4 341.5,837.1 344.7,835.4" fill="#b5e5e0"/>
<rect x="234.1" y="816.8" width="94.3" height="38.0" fill="#8a8a8a" stroke="none" opacity="0.85"/>
<polygon points="236.1,817.7 233.6,818.3 233.0,815.1 234.8,814.2 237.2,815.4" fill="#c6d2f0" stroke-width="1.2"/>
<polygon points="241.3,818.4 237.9,820.0 236.6,816.8 237.7,814.9 240.9,815.9" fill="#c8e6a8" stroke-width="1.2"/>
<polygon points="249.0,814.0 253.6,813.2 254.7,815.6 252.8,818.9 248.4,816.9" fill="#b3c7ee" stroke-width="1.2"/>
<polygon points="257.4,818.9 254.7,816.6 256.0,814.9 258.6,814.9 259.4,817.0" fill="#d5e8b0" stroke-width="1.2"/>
<polygon points="264.8,816.0 263.7,818.3 261.1,817.8 260.8,815.0 263.7,814.2" fill="#fcd5b5" stroke-width="1.2"/>
<polygon points="268.4,819.2 266.0,817.8 266.7,815.0 269.8,815.0 270.9,817.3" fill="#e0c8e8" stroke-width="1.2"/>
<polygon points="282.8,819.6 280.1,819.4 278.7,816.1 281.4,814.4 283.4,816.1" fill="#d5e8b0" stroke-width="1.2"/>
<polygon points="286.5,819.4 283.7,817.7 283.8,814.9 287.2,813.8 288.6,816.2" fill="#b7e4c7" stroke-width="1.2"/>
<polygon points="294.1,816.2 292.1,819.4 289.8,819.2 288.8,816.2 291.2,814.6" fill="#f9b8d4" stroke-width="1.2"/>
<polygon points="296.6,820.6 294.4,818.5 295.7,815.7 299.2,816.0 298.9,819.9" fill="#c6d2f0" stroke-width="1.2"/>
<polygon points="305.8,818.5 303.2,820.8 300.6,817.9 302.4,814.8 305.7,815.3" fill="#b3c7ee" stroke-width="1.2"/>
<polygon points="308.1,818.5 307.7,816.6 310.3,815.3 311.7,816.9 310.5,819.4" fill="#a8dcf5" stroke-width="1.2"/>
<polygon points="314.7,819.4 311.9,819.2 312.0,814.9 314.2,813.9 316.2,817.3" fill="#b5e5e0" stroke-width="1.2"/>
<polygon points="319.5,819.8 319.3,817.4 321.9,815.2 323.2,816.9 322.0,820.0" fill="#c8e6a8" stroke-width="1.2"/>
<polygon points="324.2,816.4 325.4,813.5 328.5,813.6 330.0,816.7 327.8,818.4" fill="#a7d8a8" stroke-width="1.2"/>
<polygon points="235.8,825.5 233.3,824.8 233.6,821.8 235.6,821.4 237.3,823.6" fill="#ffb3ba" stroke-width="1.2"/>
<polygon points="239.2,825.7 238.2,823.5 239.8,821.3 242.5,822.7 242.2,825.5" fill="#cbb8e6" stroke-width="1.2"/>
<polygon points="246.9,825.5 244.9,825.0 244.9,821.8 247.0,821.0 248.8,824.0" fill="#ffb3ba" stroke-width="1.2"/>
<polygon points="249.3,820.6 251.3,819.5 253.2,821.9 252.1,824.0 248.9,823.8" fill="#c8e6a8" stroke-width="1.2"/>
<polygon points="259.5,822.9 257.8,824.3 255.4,823.4 255.8,820.8 258.8,820.6" fill="#e0c8e8" stroke-width="1.2"/>
<polygon points="264.8,821.4 262.3,824.2 259.5,823.1 259.8,819.5 263.7,819.2" fill="#f5f3b3" stroke-width="1.2"/>
<polygon points="270.6,819.9 271.7,823.8 268.8,825.2 266.2,823.6 267.6,820.7" fill="#b5e5e0" stroke-width="1.2"/>
<polygon points="274.6,820.9 277.1,822.4 276.2,824.9 272.7,825.4 272.6,822.4" fill="#c6d2f0" stroke-width="1.2"/>
<polygon points="279.6,821.2 282.1,821.8 282.3,824.4 279.9,825.4 278.5,823.5" fill="#c6d2f0" stroke-width="1.2"/>
<polygon points="282.5,823.4 283.8,819.8 286.9,820.5 287.9,822.6 285.3,825.1" fill="#a8dcf5" stroke-width="1.2"/>
<polygon points="295.1,821.8 293.9,824.2 292.2,824.0 290.4,822.2 292.6,820.1" fill="#c8e6a8" stroke-width="1.2"/>
<polygon points="298.6,820.7 300.6,822.3 299.7,824.7 297.0,824.9 296.4,822.2" fill="#ffb3ba" stroke-width="1.2"/>
<polygon points="323.8,821.8 323.8,824.1 320.7,826.1 318.7,824.2 320.3,820.5" fill="#c8e6a8" stroke-width="1.2"/>
<polygon points="326.0,820.2 328.3,821.8 327.4,824.1 324.2,824.0 323.5,821.9" fill="#c8e6a8" stroke-width="1.2"/>
<polygon points="241.4,828.2 241.0,831.8 237.6,832.0 236.2,829.3 237.7,826.5" fill="#b5e5e0" stroke-width="1.2"/>
<polygon points="243.0,830.2 245.3,826.5 248.4,827.6 248.1,830.6 245.0,831.7" fill="#b5e5e0" stroke-width="1.2"/>
<polygon points="249.6,826.0 253.0,825.7 254.2,828.4 253.1,830.1 249.5,830.0" fill="#b3c7ee" stroke-width="1.2"/>
<polygon points="256.8,826.8 258.6,828.1 258.4,830.2 255.2,830.5 254.6,828.4" fill="#f9b8d4" stroke-width="1.2"/>
<polygon points="260.2,828.7 261.8,826.6 265.0,827.3 264.3,830.8 261.4,831.2" fill="#f7c6e0" stroke-width="1.2"/>
<polygon points="269.2,825.0 270.1,828.5 268.2,830.4 265.3,828.9 266.5,825.4" fill="#f7c6e0" stroke-width="1.2"/>
<polygon points="275.7,831.0 273.3,830.1 273.7,826.9 276.5,826.9 277.4,828.8" fill="#c8e6a8" stroke-width="1.2"/>
<polygon points="281.7,829.2 279.8,829.8 277.9,827.6 280.4,825.3 282.0,826.6" fill="#d5e8b0" stroke-width="1.2"/>
<polygon points="287.8,828.2 286.1,831.5 282.5,829.7 282.3,826.4 286.5,825.6" fill="#e0c8e8" stroke-width="1.2"/>
<polygon points="293.3,828.8 291.0,830.5 289.4,829.7 288.6,827.2 291.8,825.7" fill="#c6d2f0" stroke-width="1.2"/>
<polygon points="298.0,829.7 295.3,829.7 294.9,827.2 297.0,825.6 299.1,827.0" fill="#b7e4c7" stroke-width="1.2"/>
<polygon points="304.1,825.8 305.5,827.7 302.4,830.3 300.8,828.4 300.7,825.7" fill="#f7c6e0" stroke-width="1.2"/>
<polygon points="310.7,825.8 310.8,829.1 307.8,830.1 305.8,828.2 306.9,825.4" fill="#ffb3ba" stroke-width="1.2"/>
<polygon points="314.7,824.8 317.5,827.5 315.0,830.4 313.0,829.4 312.5,826.2" fill="#f7c6e0" stroke-width="1.2"/>
<polygon points="317.0,828.9 319.3,826.1 322.0,828.3 321.8,830.2 318.2,831.3" fill="#b7e4c7" stroke-width="1.2"/>
<polygon points="323.3,829.1 324.6,825.9 328.6,826.0 328.9,830.0 326.3,830.9" fill="#f7c6e0" stroke-width="1.2"/>
<polygon points="236.8,831.2 236.8,834.3 232.9,836.3 231.3,833.6 232.9,830.4" fill="#e0c8e8" stroke-width="1.2"/>
<polygon points="239.8,830.5 241.9,832.5 241.3,835.8 236.8,835.5 236.1,833.1" fill="#f9b8d4" stroke-width="1.2"/>
<polygon points="246.6,835.5 243.2,834.8 244.1,831.5 246.7,830.7 248.2,833.6" fill="#f7c6e0" stroke-width="1.2"/>
<polygon points="252.7,832.3 253.3,834.9 252.0,836.8 249.3,835.4 250.1,833.0" fill="#c8e6a8" stroke-width="1.2"/>
<polygon points="259.7,835.6 256.9,838.3 254.0,835.5 255.1,832.5 258.7,831.9" fill="#b5e5e0" stroke-width="1.2"/>
<polygon points="261.6,831.7 263.9,831.4 265.9,833.8 264.1,836.4 260.7,835.0" fill="#f5f3b3" stroke-width="1.2"/>
<polygon points="272.0,835.2 269.7,836.5 267.8,835.6 268.1,832.2 270.7,832.4" fill="#e0c8e8" stroke-width="1.2"/>
<polygon points="271.5,832.1 274.4,831.9 276.3,834.3 274.6,837.1 270.6,835.7" fill="#f5f3b3" stroke-width="1.2"/>
<polygon points="279.9,831.1 281.4,834.3 280.4,836.4 277.1,835.1 277.3,832.3" fill="#f7c6e0" stroke-width="1.2"/>
<polygon points="284.4,834.3 285.2,831.5 288.1,831.2 289.0,833.5 286.8,835.4" fill="#c6d2f0" stroke-width="1.2"/>
<polygon points="293.6,836.4 290.6,836.4 289.0,834.2 291.5,832.0 294.2,833.8" fill="#b5e5e0" stroke-width="1.2"/>
<polygon points="298.7,837.6 295.4,836.4 295.6,832.5 298.1,831.5 301.3,834.0" fill="#a8dcf5" stroke-width="1.2"/>
<polygon points="305.5,831.8 306.3,835.1 303.5,836.9 301.5,835.7 302.1,831.4" fill="#b5e5e0" stroke-width="1.2"/>
<polygon points="309.9,835.5 307.5,835.4 307.0,833.1 309.1,831.3 311.4,833.8" fill="#f5f3b3" stroke-width="1.2"/>
<polygon points="313.8,835.8 312.0,833.0 313.2,831.4 316.3,831.9 316.6,835.3" fill="#b3c7ee" stroke-width="1.2"/>
<polygon points="317.9,834.8 319.1,831.7 322.9,832.2 323.5,835.7 319.8,837.6" fill="#fcd5b5" stroke-width="1.2"/>
<polygon points="323.9,837.6 322.9,834.0 326.1,832.4 328.7,834.2 327.3,837.3" fill="#ffb3ba" stroke-width="1.2"/>
<polygon points="234.3,837.2 236.6,838.6 236.0,841.7 234.2,841.8 232.4,839.1" fill="#f5f3b3" stroke-width="1.2"/>
<polygon points="236.9,838.9 238.4,837.0 240.2,837.3 241.0,839.9 238.9,841.2" fill="#ffb3ba" stroke-width="1.2"/>
<polygon points="246.0,837.1 247.5,839.0 246.4,841.4 243.6,840.3 243.7,837.7" fill="#a7d8a8" stroke-width="1.2"/>
<polygon points="253.2,842.4 249.3,841.4 250.4,837.6 252.6,836.8 255.8,840.1" fill="#b3c7ee" stroke-width="1.2"/>
<polygon points="254.5,837.8 258.5,837.0 259.5,840.6 256.9,842.5 254.4,841.7" fill="#a8dcf5" stroke-width="1.2"/>
<polygon points="266.1,838.2 265.2,841.0 261.2,841.7 259.7,839.2 262.2,836.5" fill="#cbb8e6" stroke-width="1.2"/>
<polygon points="271.7,840.7 270.5,842.9 267.6,842.1 267.3,839.4 270.1,838.3" fill="#ffb3ba" stroke-width="1.2"/>
<polygon points="273.5,838.5 275.8,838.2 277.3,839.9 275.2,842.2 272.8,841.0" fill="#b3c7ee" stroke-width="1.2"/>
<polygon points="280.3,837.0 282.7,838.8 282.7,841.5 278.7,841.6 277.2,838.8" fill="#a7d8a8" stroke-width="1.2"/>
<polygon points="285.2,841.3 283.8,839.5 285.3,837.2 287.8,837.7 287.8,840.2" fill="#fcd5b5" stroke-width="1.2"/>
<polygon points="293.2,843.9 289.6,842.1 290.6,838.2 294.0,838.4 295.7,841.4" fill="#a8dcf5" stroke-width="1.2"/>
<polygon points="295.4,838.1 297.6,836.7 299.6,839.2 298.1,841.9 295.6,841.4" fill="#cbb8e6" stroke-width="1.2"/>
<polygon points="305.2,840.4 302.7,842.8 300.0,841.6 301.1,838.8 303.1,837.7" fill="#f9b8d4" stroke-width="1.2"/>
<polygon points="306.8,838.2 310.4,838.4 311.3,840.8 308.8,843.8 305.9,841.6" fill="#f7c6e0" stroke-width="1.2"/>
<polygon points="312.9,841.0 313.6,837.9 316.5,837.6 318.6,840.5 315.7,843.1" fill="#b5e5e0" stroke-width="1.2"/>
<polygon points="319.1,840.0 320.7,837.6 323.1,838.6 323.1,841.4 320.4,841.6" fill="#a7d8a8" stroke-width="1.2"/>
<polygon points="329.1,838.2 329.3,841.4 325.8,842.9 323.4,840.2 326.1,837.3" fill="#f7c6e0" stroke-width="1.2"/>
<polygon points="232.9,847.6 231.0,845.2 233.0,843.1 235.4,843.5 235.3,846.5" fill="#ffb3ba" stroke-width="1.2"/>
<polygon points="237.0,844.5 239.8,842.8 242.0,844.6 240.7,847.6 237.1,847.2" fill="#f5f3b3" stroke-width="1.2"/>
<polygon points="246.2,848.2 243.6,848.1 242.9,844.9 244.7,844.0 247.3,845.6" fill="#b5e5e0" stroke-width="1.2"/>
<polygon points="255.8,844.2 259.0,844.0 260.1,847.1 257.5,848.8 254.2,846.7" fill="#d5e8b0" stroke-width="1.2"/>
<polygon points="260.8,844.4 263.7,844.5 263.9,846.9 261.6,848.0 259.7,846.9" fill="#f5f3b3" stroke-width="1.2"/>
<polygon points="271.9,845.8 270.7,848.8 267.1,848.8 265.7,846.3 268.4,843.5" fill="#b3c7ee" stroke-width="1.2"/>
<polygon points="273.1,847.5 271.3,844.1 273.5,842.1 276.6,843.8 275.7,847.0" fill="#b3c7ee" stroke-width="1.2"/>
<polygon points="284.3,844.7 287.4,843.8 289.3,846.3 287.3,849.1 284.8,848.2" fill="#a7d8a8" stroke-width="1.2"/>
<polygon points="289.5,848.4 288.1,844.7 291.0,842.5 293.7,844.7 292.8,848.5" fill="#b5e5e0" stroke-width="1.2"/>
<polygon points="295.7,843.4 298.3,843.9 298.8,846.7 296.9,848.7 294.4,846.5" fill="#c6d2f0" stroke-width="1.2"/>
<polygon points="304.9,848.1 302.6,847.7 302.0,845.3 303.9,843.6 306.1,845.9" fill="#c8e6a8" stroke-width="1.2"/>
<polygon points="317.7,846.2 315.5,849.1 313.3,849.1 312.2,846.1 314.7,844.2" fill="#b3c7ee" stroke-width="1.2"/>
<polygon points="319.1,843.6 323.0,844.6 321.7,848.5 318.8,849.5 316.8,845.0" fill="#d5e8b0" stroke-width="1.2"/>
<polygon points="329.3,844.7 327.9,846.5 325.4,846.1 325.0,843.7 327.0,842.6" fill="#ffb3ba" stroke-width="1.2"/>
<polygon points="234.4,848.9 236.8,851.2 235.6,854.5 232.2,854.2 231.3,851.2" fill="#f7c6e0" stroke-width="1.2"/>
<polygon points="242.4,849.3 241.2,852.3 237.6,852.6 236.7,849.3 239.8,847.4" fill="#b5e5e0" stroke-width="1.2"/>
<polygon points="245.4,849.1 247.2,851.0 246.4,854.7 242.7,854.3 241.7,852.1" fill="#e0c8e8" stroke-width="1.2"/>
<polygon points="253.1,851.5 251.7,853.7 248.2,853.4 247.9,850.5 251.9,848.9" fill="#a8dcf5" stroke-width="1.2"/>
<polygon points="253.7,851.3 256.2,847.9 259.3,849.3 259.7,852.4 256.4,854.7" fill="#b5e5e0" stroke-width="1.2"/>
<polygon points="267.1,851.7 268.8,849.8 272.0,851.4 272.2,853.7 268.3,854.6" fill="#f7c6e0" stroke-width="1.2"/>
<polygon points="274.1,853.3 272.8,851.3 274.5,847.9 277.1,849.0 277.7,852.1" fill="#e0c8e8" stroke-width="1.2"/>
<polygon points="278.5,849.1 280.4,848.8 281.8,851.0 279.5,852.5 277.9,851.2" fill="#fcd5b5" stroke-width="1.2"/>
<polygon points="288.0,853.6 284.1,852.3 284.4,849.6 288.1,848.8 289.2,851.2" fill="#b5e5e0" stroke-width="1.2"/>
<polygon points="289.6,851.5 291.1,849.0 293.4,849.7 293.5,852.6 291.2,853.6" fill="#d5e8b0" stroke-width="1.2"/>
<polygon points="294.9,848.8 298.9,849.0 299.6,851.3 296.9,854.1 294.2,852.3" fill="#c8e6a8" stroke-width="1.2"/>
<polygon points="301.7,847.8 304.4,849.6 304.7,852.1 301.3,853.5 299.7,850.8" fill="#a8dcf5" stroke-width="1.2"/>
<polygon points="306.3,848.8 309.6,848.2 310.7,851.4 308.3,853.0 305.2,851.1" fill="#c8e6a8" stroke-width="1.2"/>
<polygon points="316.1,851.0 315.1,853.5 312.3,853.9 311.1,851.5 313.2,849.5" fill="#d5e8b0" stroke-width="1.2"/>
<polygon points="319.9,849.5 322.0,851.4 320.4,853.8 317.7,853.5 317.8,850.0" fill="#b3c7ee" stroke-width="1.2"/>
<polygon points="323.5,851.7 325.6,849.5 327.8,849.8 328.1,852.9 325.4,853.5" fill="#b7e4c7" stroke-width="1.2"/>
<rect x="252.4" y="803.7" width="52.4" height="13.1" fill="#8a8a8a" stroke="none" opacity="0.85"/>
<polygon points="254.3,800.2 256.3,803.1 253.2,805.4 250.8,803.6 251.8,800.2" fill="#b5e5e0" stroke-width="1.2"/>
<polygon points="260.6,803.6 262.5,800.9 265.9,802.7 265.7,805.8 262.8,807.0" fill="#b5e5e0" stroke-width="1.2"/>
<polygon points="271.8,806.5 267.8,807.3 266.7,805.0 267.9,802.2 271.6,802.9" fill="#a8dcf5" stroke-width="1.2"/>
<polygon points="275.9,801.7 277.6,804.8 274.9,807.3 271.6,804.7 273.7,801.6" fill="#c8e6a8" stroke-width="1.2"/>
<polygon points="289.2,806.5 284.8,806.6 284.5,803.3 286.5,801.2 289.7,803.8" fill="#f7c6e0" stroke-width="1.2"/>
<polygon points="290.3,802.9 293.3,801.2 294.8,803.9 293.1,805.7 290.1,805.1" fill="#f5f3b3" stroke-width="1.2"/>
<polygon points="299.6,805.3 297.1,806.3 295.3,805.0 296.6,802.3 299.4,802.8" fill="#fcd5b5" stroke-width="1.2"/>
<polygon points="306.9,804.1 303.8,805.5 301.7,803.5 303.3,800.3 306.6,801.2" fill="#f5f3b3" stroke-width="1.2"/>
<polygon points="252.8,806.2 253.9,809.1 251.9,810.9 249.4,809.1 249.9,806.8" fill="#b3c7ee" stroke-width="1.2"/>
<polygon points="257.9,811.7 255.6,809.8 256.5,807.0 258.3,806.6 260.4,809.3" fill="#b7e4c7" stroke-width="1.2"/>
<polygon points="263.8,810.2 262.8,808.3 265.0,806.6 266.5,807.7 265.7,810.3" fill="#c6d2f0" stroke-width="1.2"/>
<polygon points="267.7,811.3 266.1,807.9 268.9,805.8 271.5,807.5 271.4,810.7" fill="#d5e8b0" stroke-width="1.2"/>
<polygon points="277.9,808.8 275.4,810.8 273.8,809.1 274.6,806.8 276.9,806.9" fill="#c8e6a8" stroke-width="1.2"/>
<polygon points="278.5,808.5 282.8,807.6 284.3,811.1 281.6,813.3 278.8,811.4" fill="#cbb8e6" stroke-width="1.2"/>
<polygon points="291.5,808.4 294.5,807.8 296.3,810.6 293.7,812.9 291.3,811.1" fill="#b5e5e0" stroke-width="1.2"/>
<polygon points="307.2,807.9 305.7,811.3 303.0,810.9 302.0,807.4 305.1,806.7" fill="#e0c8e8" stroke-width="1.2"/>
<polygon points="252.4,816.9 250.4,814.6 252.5,812.8 254.5,813.4 254.3,816.0" fill="#c6d2f0" stroke-width="1.2"/>
<polygon points="255.7,814.2 257.9,812.1 260.3,813.6 259.6,815.8 257.6,816.6" fill="#e0c8e8" stroke-width="1.2"/>
<polygon points="267.0,815.3 265.3,817.1 262.5,815.3 263.1,813.5 266.3,813.4" fill="#c8e6a8" stroke-width="1.2"/>
<polygon points="269.7,812.8 271.9,815.3 269.8,817.9 266.8,817.3 266.5,813.9" fill="#b3c7ee" stroke-width="1.2"/>
<polygon points="273.7,815.9 273.2,813.2 276.8,812.0 278.5,814.2 276.1,816.6" fill="#a8dcf5" stroke-width="1.2"/>
<polygon points="288.2,812.5 289.6,816.4 286.8,817.7 284.7,815.8 285.3,812.9" fill="#d5e8b0" stroke-width="1.2"/>
<polygon points="295.5,816.9 293.1,818.9 289.9,815.7 292.4,812.9 295.5,814.0" fill="#b7e4c7" stroke-width="1.2"/>
<polygon points="302.1,813.8 300.0,817.1 297.2,815.9 297.2,812.7 299.8,811.6" fill="#b7e4c7" stroke-width="1.2"/>
<polygon points="302.5,813.9 303.7,812.5 306.4,813.5 306.5,816.1 303.7,816.4" fill="#a8dcf5" stroke-width="1.2"/>
<rect x="333.6" y="827.3" width="26.2" height="21.0" fill="#8a8a8a" stroke="none" opacity="0.85"/>
<polygon points="335.8,829.0 332.7,828.3 331.2,826.5 333.2,824.3 336.9,825.2" fill="#b7e4c7" stroke-width="1.2"/>
<polygon points="347.8,828.8 344.9,830.5 341.4,828.8 343.0,825.9 346.0,824.8" fill="#c6d2f0" stroke-width="1.2"/>
<polygon points="350.7,830.1 348.3,829.2 348.4,825.4 351.0,824.9 352.8,827.4" fill="#c6d2f0" stroke-width="1.2"/>
<polygon points="358.7,824.9 360.3,827.9 359.0,830.3 354.7,829.7 355.0,825.4" fill="#c8e6a8" stroke-width="1.2"/>
<polygon points="334.2,829.9 337.6,832.2 336.5,835.9 332.8,835.8 331.2,831.8" fill="#d5e8b0" stroke-width="1.2"/>
<polygon points="337.5,830.8 339.6,829.7 342.1,831.7 340.6,834.1 338.1,833.6" fill="#a8dcf5" stroke-width="1.2"/>
<polygon points="348.4,831.2 348.0,834.6 345.4,835.0 343.7,833.3 345.1,830.2" fill="#cbb8e6" stroke-width="1.2"/>
<polygon points="350.9,829.8 353.2,831.7 352.7,834.1 349.9,834.3 349.1,831.5" fill="#d5e8b0" stroke-width="1.2"/>
<polygon points="360.0,833.3 357.8,835.7 355.2,834.8 355.5,832.3 358.6,831.4" fill="#f5f3b3" stroke-width="1.2"/>
<polygon points="337.1,840.7 337.9,837.8 341.4,836.4 343.1,840.1 339.8,842.8" fill="#fcd5b5" stroke-width="1.2"/>
<polygon points="342.6,838.9 344.2,835.9 346.7,836.2 347.2,839.7 344.0,840.6" fill="#c8e6a8" stroke-width="1.2"/>
<polygon points="356.1,840.1 353.6,838.3 355.0,835.7 357.4,836.1 358.1,838.7" fill="#a8dcf5" stroke-width="1.2"/>
<polygon points="331.0,843.9 333.0,841.2 336.2,841.8 336.4,846.1 333.5,847.2" fill="#a8dcf5" stroke-width="1.2"/>
<polygon points="342.8,846.6 338.6,848.2 336.6,845.3 338.2,842.6 342.1,842.4" fill="#ffb3ba" stroke-width="1.2"/>
<polygon points="343.5,844.2 346.9,842.4 348.9,845.2 347.3,847.5 344.2,847.6" fill="#b5e5e0" stroke-width="1.2"/>
<polygon points="348.7,845.6 348.5,843.4 351.0,841.7 352.9,843.7 351.8,846.1" fill="#b3c7ee" stroke-width="1.2"/>
<polygon points="359.0,847.5 356.2,846.9 355.4,843.7 358.2,842.1 360.4,844.5" fill="#a7d8a8" stroke-width="1.2"/>
<rect x="447.1" y="677.0" width="3.4" height="2.7" fill="#6f6f6f" stroke="none"/>
<rect x="483.6" y="621.5" width="5.4" height="3.0" fill="#6f6f6f" stroke="none"/>
<rect x="382.3" y="837.1" width="3.6" height="4.2" fill="#6f6f6f" stroke="none"/>
<rect x="391.9" y="633.1" width="3.3" height="4.0" fill="#6f6f6f" stroke="none"/>
<rect x="255.0" y="552.9" width="2.7" height="4.9" fill="#6f6f6f" stroke="none"/>
<rect x="428.2" y="712.0" width="5.4" height="4.0" fill="#6f6f6f" stroke="none"/>
<rect x="296.9" y="648.8" width="4.9" height="4.2" fill="#6f6f6f" stroke="none"/>
<rect x="282.5" y="686.5" width="5.0" height="4.5" fill="#6f6f6f" stroke="none"/>
<rect x="317.6" y="550.9" width="4.5" height="3.4" fill="#6f6f6f" stroke="none"/>
<rect x="458.3" y="719.3" width="2.7" height="3.2" fill="#6f6f6f" stroke="none"/>
<rect x="305.3" y="803.3" width="4.4" height="4.8" fill="#6f6f6f" stroke="none"/>
<rect x="500.5" y="692.6" width="3.7" height="3.2" fill="#6f6f6f" stroke="none"/>
<rect x="344.1" y="593.9" width="4.7" height="5.0" fill="#6f6f6f" stroke="none"/>
<rect x="296.5" y="540.6" width="5.1" height="2.6" fill="#6f6f6f" stroke="none"/>
<rect x="343.1" y="574.4" width="5.3" height="2.9" fill="#6f6f6f" stroke="none"/>
<rect x="271.3" y="570.3" width="4.4" height="5.3" fill="#6f6f6f" stroke="none"/>
<rect x="353.5" y="801.5" width="5.2" height="3.0" fill="#6f6f6f" stroke="none"/>
<rect x="442.2" y="723.9" width="5.4" height="2.7" fill="#6f6f6f" stroke="none"/>
<rect x="549.9" y="558.2" width="3.1" height="5.4" fill="#6f6f6f" stroke="none"/>
<rect x="420.0" y="691.4" width="5.3" height="5.0" fill="#6f6f6f" stroke="none"/>
<rect x="531.5" y="545.7" width="3.3" height="4.3" fill="#6f6f6f" stroke="none"/>
<rect x="375.7" y="632.7" width="3.6" height="4.0" fill="#6f6f6f" stroke="none"/>
<rect x="506.4" y="600.5" width="2.6" height="4.8" fill="#6f6f6f" stroke="none"/>
<rect x="319.7" y="584.8" width="2.9" height="4.6" fill="#6f6f6f" stroke="none"/>
<rect x="462.6" y="651.8" width="3.8" height="2.5" fill="#6f6f6f" stroke="none"/>
<rect x="518.9" y="613.5" width="4.1" height="3.3" fill="#6f6f6f" stroke="none"/>
<rect x="530.9" y="839.7" width="5.3" height="3.8" fill="#6f6f6f" stroke="none"/>
<rect x="264.2" y="775.6" width="3.1" height="4.7" fill="#6f6f6f" stroke="none"/>
<rect x="336.9" y="684.6" width="4.7" height="5.2" fill="#6f6f6f" stroke="none"/>
<rect x="316.8" y="574.3" width="4.1" height="4.7" fill="#6f6f6f" stroke="none"/>
<rect x="334.6" y="661.4" width="4.8" height="5.3" fill="#6f6f6f" stroke="none"/>
<rect x="411.2" y="688.6" width="3.9" height="2.9" fill="#6f6f6f" stroke="none"/>
<rect x="381.0" y="581.1" width="3.6" height="4.3" fill="#6f6f6f" stroke="none"/>
<rect x="250.2" y="654.9" width="5.4" height="2.7" fill="#6f6f6f" stroke="none"/>
<rect x="426.8" y="648.4" width="2.8" height="5.1" fill="#6f6f6f" stroke="none"/>
<rect x="465.6" y="631.9" width="4.5" height="4.2" fill="#6f6f6f" stroke="none"/>
<rect x="440.9" y="693.8" width="4.7" height="4.5" fill="#6f6f6f" stroke="none"/>
<rect x="382.5" y="626.1" width="5.1" height="4.4" fill="#6f6f6f" stroke="none"/>
<rect x="319.2" y="777.7" width="5.5" height="4.5" fill="#6f6f6f" stroke="none"/>
<rect x="290.2" y="730.0" width="2.5" height="5.0" fill="#6f6f6f" stroke="none"/>
<rect x="275.5" y="771.3" width="5.2" height="3.2" fill="#6f6f6f" stroke="none"/>
<rect x="322.4" y="768.3" width="3.3" height="4.8" fill="#6f6f6f" stroke="none"/>
<rect x="388.0" y="768.8" width="4.7" height="5.0" fill="#6f6f6f" stroke="none"/>
<rect x="339.5" y="820.1" width="4.0" height="2.8" fill="#6f6f6f" stroke="none"/>
<rect x="478.5" y="745.2" width="4.5" height="3.0" fill="#6f6f6f" stroke="none"/>
<rect x="537.7" y="537.7" width="3.8" height="2.9" fill="#6f6f6f" stroke="none"/>
<rect x="340.5" y="809.4" width="3.1" height="3.8" fill="#6f6f6f" stroke="none"/>
<rect x="510.3" y="814.9" width="3.5" height="4.2" fill="#6f6f6f" stroke="none"/>
<rect x="247.6" y="757.2" width="4.9" height="4.0" fill="#6f6f6f" stroke="none"/>
<rect x="237.3" y="817.1" width="5.2" height="4.8" fill="#6f6f6f" stroke="none"/>
<rect x="315.4" y="752.8" width="4.9" height="3.7" fill="#6f6f6f" stroke="none"/>
<rect x="420.4" y="631.8" width="5.1" height="4.4" fill="#6f6f6f" stroke="none"/>
<rect x="474.5" y="628.8" width="2.6" height="3.9" fill="#6f6f6f" stroke="none"/>
<rect x="401.0" y="611.2" width="4.9" height="3.1" fill="#6f6f6f" stroke="none"/>
<rect x="306.4" y="787.3" width="4.8" height="4.0" fill="#6f6f6f" stroke="none"/>
<rect x="270.0" y="704.9" width="3.5" height="3.2" fill="#6f6f6f" stroke="none"/>
<rect x="254.3" y="712.6" width="2.8" height="3.2" fill="#6f6f6f" stroke="none"/>
<rect x="254.1" y="730.7" width="5.3" height="4.1" fill="#6f6f6f" stroke="none"/>
<rect x="263.1" y="744.4" width="4.1" height="4.9" fill="#6f6f6f" stroke="none"/>
<rect x="426.6" y="791.8" width="3.8" height="4.8" fill="#6f6f6f" stroke="none"/>
<rect x="254.4" y="543.0" width="4.7" height="5.5" fill="#6f6f6f" stroke="none"/>
<rect x="289.3" y="837.6" width="4.5" height="4.8" fill="#6f6f6f" stroke="none"/>
<rect x="460.4" y="779.3" width="2.9" height="4.9" fill="#6f6f6f" stroke="none"/>
<rect x="359.9" y="837.0" width="5.4" height="4.2" fill="#6f6f6f" stroke="none"/>
<rect x="462.0" y="776.7" width="3.8" height="5.2" fill="#6f6f6f" stroke="none"/>
<rect x="300.0" y="794.5" width="3.5" height="4.0" fill="#6f6f6f" stroke="none"/>
<rect x="535.1" y="852.5" width="4.7" height="4.2" fill="#6f6f6f" stroke="none"/>
<rect x="251.5" y="567.2" width="4.3" height="4.1" fill="#6f6f6f" stroke="none"/>
<rect x="294.7" y="574.0" width="2.9" height="5.3" fill="#6f6f6f" stroke="none"/>
<rect x="459.7" y="755.1" width="4.9" height="4.9" fill="#6f6f6f" stroke="none"/>
<rect x="504.2" y="644.1" width="5.2" height="4.3" fill="#6f6f6f" stroke="none"/>
<rect x="430.5" y="698.2" width="3.1" height="3.5" fill="#6f6f6f" stroke="none"/>
<rect x="543.1" y="689.9" width="3.8" height="2.6" fill="#6f6f6f" stroke="none"/>
<rect x="430.3" y="589.6" width="2.8" height="4.2" fill="#6f6f6f" stroke="none"/>
<rect x="420.1" y="617.2" width="2.9" height="4.9" fill="#6f6f6f" stroke="none"/>
<rect x="478.7" y="636.8" width="3.0" height="4.0" fill="#6f6f6f" stroke="none"/>
<rect x="378.9" y="601.1" width="2.9" height="5.2" fill="#6f6f6f" stroke="none"/>
<rect x="353.4" y="721.4" width="4.8" height="4.2" fill="#6f6f6f" stroke="none"/>
<rect x="473.1" y="791.8" width="4.1" height="5.1" fill="#6f6f6f" stroke="none"/>
<rect x="491.2" y="672.1" width="3.3" height="5.1" fill="#6f6f6f" stroke="none"/>
<rect x="423.3" y="668.2" width="4.9" height="5.5" fill="#6f6f6f" stroke="none"/>
<rect x="249.3" y="742.0" width="4.9" height="3.9" fill="#6f6f6f" stroke="none"/>
<rect x="450.3" y="554.8" width="3.5" height="3.0" fill="#6f6f6f" stroke="none"/>
<rect x="348.0" y="776.1" width="4.5" height="5.1" fill="#6f6f6f" stroke="none"/>
<rect x="394.0" y="751.7" width="2.8" height="3.9" fill="#6f6f6f" stroke="none"/>
<rect x="353.1" y="800.2" width="4.9" height="5.4" fill="#6f6f6f" stroke="none"/>
<rect x="465.4" y="810.8" width="3.1" height="3.3" fill="#6f6f6f" stroke="none"/>
<rect x="462.8" y="626.7" width="5.2" height="4.0" fill="#6f6f6f" stroke="none"/>
<rect x="363.8" y="608.5" width="4.9" height="3.0" fill="#6f6f6f" stroke="none"/>
<rect x="389.1" y="843.6" width="4.3" height="5.5" fill="#6f6f6f" stroke="none"/>
<rect x="329.5" y="667.0" width="5.2" height="4.8" fill="#6f6f6f" stroke="none"/>
<rect x="273.3" y="673.9" width="4.6" height="4.0" fill="#6f6f6f" stroke="none"/>
<rect x="298.3" y="546.5" width="3.5" height="3.5" fill="#6f6f6f" stroke="none"/>
<rect x="235.2" y="667.7" width="4.3" height="5.2" fill="#6f6f6f" stroke="none"/>
<rect x="264.1" y="772.3" width="3.5" height="4.2" fill="#6f6f6f" stroke="none"/>
<rect x="497.0" y="720.6" width="4.2" height="4.5" fill="#6f6f6f" stroke="none"/>
<rect x="457.6" y="823.1" width="4.8" height="5.4" fill="#6f6f6f" stroke="none"/>
<rect x="240.9" y="831.5" width="2.8" height="3.0" fill="#6f6f6f" stroke="none"/>
<rect x="372.9" y="593.1" width="3.0" height="5.3" fill="#6f6f6f" stroke="none"/>
<rect x="489.5" y="834.4" width="5.3" height="4.4" fill="#6f6f6f" stroke="none"/>
<rect x="543.8" y="697.1" width="2.9" height="4.4" fill="#6f6f6f" stroke="none"/>
<rect x="452.3" y="615.1" width="3.3" height="2.6" fill="#6f6f6f" stroke="none"/>
<rect x="374.6" y="806.6" width="3.6" height="2.6" fill="#6f6f6f" stroke="none"/>
<rect x="347.9" y="658.3" width="3.2" height="4.9" fill="#6f6f6f" stroke="none"/>
<rect x="500.2" y="542.2" width="4.9" height="5.1" fill="#6f6f6f" stroke="none"/>
<rect x="497.8" y="769.0" width="3.2" height="5.0" fill="#6f6f6f" stroke="none"/>
<rect x="355.4" y="815.4" width="4.8" height="4.4" fill="#6f6f6f" stroke="none"/>
<rect x="488.2" y="744.4" width="2.9" height="3.3" fill="#6f6f6f" stroke="none"/>
<rect x="390.6" y="777.3" width="2.7" height="5.2" fill="#6f6f6f" stroke="none"/>
<rect x="466.5" y="543.3" width="4.9" height="3.3" fill="#6f6f6f" stroke="none"/>
<rect x="251.4" y="614.0" width="5.4" height="4.4" fill="#6f6f6f" stroke="none"/>
<rect x="467.8" y="818.7" width="4.1" height="3.1" fill="#6f6f6f" stroke="none"/>
<rect x="417.1" y="812.6" width="4.6" height="4.8" fill="#6f6f6f" stroke="none"/>
<rect x="268.9" y="751.4" width="3.0" height="4.3" fill="#6f6f6f" stroke="none"/>
<rect x="506.9" y="652.6" width="3.0" height="4.4" fill="#6f6f6f" stroke="none"/>
<rect x="322.0" y="699.2" width="4.6" height="5.4" fill="#6f6f6f" stroke="none"/>
<rect x="398.9" y="749.0" width="4.8" height="4.9" fill="#6f6f6f" stroke="none"/>
<rect x="452.0" y="573.8" width="4.2" height="3.7" fill="#6f6f6f" stroke="none"/>
<rect x="499.0" y="727.4" width="4.9" height="5.4" fill="#6f6f6f" stroke="none"/>
<rect x="393.4" y="649.9" width="5.1" height="5.2" fill="#6f6f6f" stroke="none"/>
<rect x="471.5" y="597.3" width="4.1" height="5.2" fill="#6f6f6f" stroke="none"/>
<rect x="506.4" y="782.9" width="5.0" height="5.5" fill="#6f6f6f" stroke="none"/>
<rect x="257.5" y="642.9" width="3.4" height="3.7" fill="#6f6f6f" stroke="none"/>
<rect x="243.3" y="622.2" width="4.3" height="3.5" fill="#6f6f6f" stroke="none"/>
<rect x="279.4" y="549.6" width="4.5" height="3.6" fill="#6f6f6f" stroke="none"/>
<rect x="370.1" y="738.7" width="3.5" height="2.7" fill="#6f6f6f" stroke="none"/>
<rect x="486.9" y="609.0" width="3.2" height="4.1" fill="#6f6f6f" stroke="none"/>
<rect x="471.4" y="589.4" width="2.6" height="5.0" fill="#6f6f6f" stroke="none"/>
<rect x="233.6" y="716.0" width="4.9" height="5.2" fill="#6f6f6f" stroke="none"/>
<rect x="238.0" y="588.7" width="2.9" height="4.6" fill="#6f6f6f" stroke="none"/>
<rect x="366.5" y="659.3" width="3.6" height="2.9" fill="#6f6f6f" stroke="none"/>
<rect x="549.8" y="654.3" width="3.1" height="3.3" fill="#6f6f6f" stroke="none"/>
<rect x="301.4" y="848.2" width="2.7" height="2.9" fill="#6f6f6f" stroke="none"/>
<rect x="265.0" y="633.7" width="4.6" height="3.1" fill="#6f6f6f" stroke="none"/>
<rect x="378.7" y="618.1" width="2.7" height="3.0" fill="#6f6f6f" stroke="none"/>
<rect x="429.0" y="725.1" width="4.7" height="5.1" fill="#6f6f6f" stroke="none"/>
<rect x="503.1" y="659.6" width="4.0" height="3.3" fill="#6f6f6f" stroke="none"/>
<rect x="474.2" y="815.6" width="3.1" height="4.4" fill="#6f6f6f" stroke="none"/>
<rect x="358.4" y="740.0" width="4.5" height="4.1" fill="#6f6f6f" stroke="none"/>
<rect x="535.2" y="600.0" width="3.0" height="3.5" fill="#6f6f6f" stroke="none"/>
<rect x="260.1" y="709.4" width="5.1" height="3.4" fill="#6f6f6f" stroke="none"/>
<rect x="301.8" y="738.8" width="4.4" height="2.7" fill="#6f6f6f" stroke="none"/>
<rect x="489.2" y="720.1" width="3.5" height="3.5" fill="#6f6f6f" stroke="none"/>
<rect x="345.2" y="690.6" width="4.1" height="3.1" fill="#6f6f6f" stroke="none"/>
<rect x="347.5" y="584.3" width="4.6" height="3.9" fill="#6f6f6f" stroke="none"/>
<rect x="451.8" y="835.9" width="3.7" height="4.9" fill="#6f6f6f" stroke="none"/>
<rect x="527.3" y="600.1" width="4.5" height="4.0" fill="#6f6f6f" stroke="none"/>
<rect x="426.3" y="730.5" width="3.8" height="3.9" fill="#6f6f6f" stroke="none"/>
<rect x="460.5" y="544.3" width="2.6" height="3.4" fill="#6f6f6f" stroke="none"/>
<rect x="515.9" y="788.0" width="4.3" height="5.2" fill="#6f6f6f" stroke="none"/>
<rect x="354.7" y="730.2" width="5.4" height="5.2" fill="#6f6f6f" stroke="none"/>
<rect x="470.0" y="664.3" width="3.3" height="5.3" fill="#6f6f6f" stroke="none"/>
<rect x="503.1" y="655.2" width="3.7" height="3.7" fill="#6f6f6f" stroke="none"/>
<rect x="294.9" y="647.6" width="2.8" height="5.4" fill="#6f6f6f" stroke="none"/>
<rect x="241.5" y="593.6" width="5.1" height="4.9" fill="#6f6f6f" stroke="none"/>
<rect x="244.5" y="716.9" width="5.5" height="5.2" fill="#6f6f6f" stroke="none"/>
<rect x="265.6" y="558.9" width="5.1" height="5.3" fill="#6f6f6f" stroke="none"/>
<rect x="369.6" y="786.0" width="2.7" height="3.7" fill="#6f6f6f" stroke="none"/>
<rect x="399.1" y="616.9" width="4.5" height="4.7" fill="#6f6f6f" stroke="none"/>
<rect x="295.2" y="563.5" width="5.3" height="4.3" fill="#6f6f6f" stroke="none"/>
<rect x="326.1" y="831.5" width="4.9" height="3.1" fill="#6f6f6f" stroke="none"/>
<rect x="360.8" y="551.1" width="3.5" height="4.0" fill="#6f6f6f" stroke="none"/>
<rect x="465.4" y="567.5" width="2.8" height="5.3" fill="#6f6f6f" stroke="none"/>
<rect x="259.6" y="762.3" width="4.5" height="3.6" fill="#6f6f6f" stroke="none"/>
<rect x="545.1" y="776.6" width="2.9" height="4.3" fill="#6f6f6f" stroke="none"/>
<rect x="427.8" y="849.6" width="5.2" height="4.9" fill="#6f6f6f" stroke="none"/>
<rect x="478.2" y="686.4" width="4.1" height="2.5" fill="#6f6f6f" stroke="none"/>
<rect x="529.1" y="811.2" width="4.0" height="5.3" fill="#6f6f6f" stroke="none"/>
<rect x="471.0" y="749.8" width="2.6" height="3.7" fill="#6f6f6f" stroke="none"/>
<rect x="273.1" y="634.9" width="5.0" height="2.5" fill="#6f6f6f" stroke="none"/>
<rect x="438.7" y="827.3" width="5.0" height="3.6" fill="#6f6f6f" stroke="none"/>
<rect x="353.2" y="852.9" width="4.5" height="3.8" fill="#6f6f6f" stroke="none"/>
<rect x="274.0" y="675.9" width="2.6" height="3.1" fill="#6f6f6f" stroke="none"/>
<rect x="508.5" y="561.0" width="4.1" height="2.5" fill="#6f6f6f" stroke="none"/>
<rect x="453.9" y="807.4" width="5.0" height="4.8" fill="#6f6f6f" stroke="none"/>
<rect x="547.7" y="812.3" width="5.0" height="5.4" fill="#6f6f6f" stroke="none"/>
<rect x="297.0" y="593.3" width="4.6" height="2.7" fill="#6f6f6f" stroke="none"/>
<rect x="539.0" y="756.9" width="5.4" height="3.3" fill="#6f6f6f" stroke="none"/>
<rect x="313.4" y="553.3" width="2.9" height="3.6" fill="#6f6f6f" stroke="none"/>
<rect x="369.3" y="726.4" width="5.3" height="3.1" fill="#6f6f6f" stroke="none"/>
<rect x="317.9" y="565.8" width="5.3" height="4.1" fill="#6f6f6f" stroke="none"/>
<rect x="546.5" y="616.3" width="5.3" height="4.0" fill="#6f6f6f" stroke="none"/>
<rect x="528.1" y="673.7" width="3.2" height="4.7" fill="#6f6f6f" stroke="none"/>
<rect x="262.1" y="846.2" width="3.3" height="2.9" fill="#6f6f6f" stroke="none"/>
<rect x="364.9" y="677.1" width="3.8" height="3.9" fill="#6f6f6f" stroke="none"/>
<rect x="368.1" y="783.1" width="3.2" height="4.1" fill="#6f6f6f" stroke="none"/>
<rect x="399.1" y="621.9" width="2.7" height="4.7" fill="#6f6f6f" stroke="none"/>
<rect x="310.2" y="743.2" width="4.2" height="2.5" fill="#6f6f6f" stroke="none"/>
<rect x="291.3" y="704.8" width="3.5" height="5.4" fill="#6f6f6f" stroke="none"/>
<rect x="306.8" y="732.0" width="4.5" height="3.7" fill="#6f6f6f" stroke="none"/>
<rect x="317.5" y="680.5" width="4.6" height="3.4" fill="#6f6f6f" stroke="none"/>
<rect x="370.9" y="742.6" width="2.5" height="5.2" fill="#6f6f6f" stroke="none"/>
<rect x="492.3" y="746.6" width="3.4" height="4.9" fill="#6f6f6f" stroke="none"/>
<rect x="438.1" y="731.1" width="4.2" height="4.5" fill="#6f6f6f" stroke="none"/>
<rect x="449.9" y="744.2" width="5.5" height="4.6" fill="#6f6f6f" stroke="none"/>
<rect x="334.5" y="855.2" width="3.9" height="2.9" fill="#6f6f6f" stroke="none"/>
<rect x="460.8" y="539.4" width="3.0" height="4.8" fill="#6f6f6f" stroke="none"/>
<rect x="455.8" y="685.6" width="2.8" height="4.7" fill="#6f6f6f" stroke="none"/>
<rect x="505.9" y="642.6" width="3.1" height="3.2" fill="#6f6f6f" stroke="none"/>
<rect x="545.0" y="852.2" width="2.7" height="3.3" fill="#6f6f6f" stroke="none"/>
<rect x="256.7" y="797.7" width="5.5" height="5.4" fill="#6f6f6f" stroke="none"/>
<rect x="528.5" y="772.3" width="2.9" height="2.8" fill="#6f6f6f" stroke="none"/>
<rect x="240.0" y="564.2" width="2.6" height="3.5" fill="#6f6f6f" stroke="none"/>
<rect x="379.7" y="755.2" width="5.1" height="3.9" fill="#6f6f6f" stroke="none"/>
<rect x="515.3" y="542.1" width="4.0" height="4.8" fill="#6f6f6f" stroke="none"/>
<rect x="344.6" y="584.7" width="3.5" height="3.7" fill="#6f6f6f" stroke="none"/>
<rect x="392.0" y="684.2" width="5.2" height="5.2" fill="#6f6f6f" stroke="none"/>
<rect x="341.6" y="601.5" width="4.0" height="3.8" fill="#6f6f6f" stroke="none"/>
<rect x="519.6" y="771.4" width="5.0" height="3.0" fill="#6f6f6f" stroke="none"/>
<rect x="367.8" y="803.1" width="4.5" height="4.4" fill="#6f6f6f" stroke="none"/>
<rect x="303.8" y="807.1" width="3.9" height="3.3" fill="#6f6f6f" stroke="none"/>
<rect x="397.2" y="703.5" width="4.2" height="4.7" fill="#6f6f6f" stroke="none"/>
<rect x="517.1" y="611.4" width="4.3" height="2.6" fill="#6f6f6f" stroke="none"/>
<rect x="300.0" y="639.5" width="4.7" height="5.5" fill="#6f6f6f" stroke="none"/>
<rect x="305.9" y="792.1" width="3.5" height="2.5" fill="#6f6f6f" stroke="none"/>
<rect x="312.5" y="628.7" width="3.8" height="5.0" fill="#6f6f6f" stroke="none"/>
<rect x="406.1" y="742.5" width="2.7" height="3.0" fill="#6f6f6f" stroke="none"/>
<rect x="380.2" y="611.1" width="2.6" height="4.9" fill="#6f6f6f" stroke="none"/>
<rect x="348.0" y="804.7" width="4.9" height="3.7" fill="#6f6f6f" stroke="none"/>
<rect x="289.1" y="818.5" width="3.7" height="2.5" fill="#6f6f6f" stroke="none"/>
<rect x="388.6" y="810.1" width="5.3" height="4.3" fill="#6f6f6f" stroke="none"/>
<rect x="387.4" y="840.2" width="5.1" height="3.0" fill="#6f6f6f" stroke="none"/>
<rect x="315.1" y="578.8" width="4.9" height="5.2" fill="#6f6f6f" stroke="none"/>
<rect x="463.8" y="713.5" width="3.9" height="2.6" fill="#6f6f6f" stroke="none"/>
<rect x="462.7" y="807.1" width="4.1" height="3.0" fill="#6f6f6f" stroke="none"/>
<rect x="467.1" y="564.6" width="2.9" height="2.8" fill="#6f6f6f" stroke="none"/>
<rect x="369.5" y="762.6" width="3.7" height="3.4" fill="#6f6f6f" stroke="none"/>
<rect x="320.7" y="664.5" width="3.5" height="2.9" fill="#6f6f6f" stroke="none"/>
<rect x="403.6" y="632.5" width="5.1" height="5.5" fill="#6f6f6f" stroke="none"/>
<rect x="287.2" y="795.5" width="3.1" height="5.2" fill="#6f6f6f" stroke="none"/>
<rect x="389.4" y="819.1" width="4.1" height="4.4" fill="#6f6f6f" stroke="none"/>
<rect x="368.3" y="761.5" width="3.6" height="4.7" fill="#6f6f6f" stroke="none"/>
<rect x="389.6" y="629.0" width="4.0" height="3.8" fill="#6f6f6f" stroke="none"/>
<rect x="486.7" y="680.6" width="4.5" height="4.5" fill="#6f6f6f" stroke="none"/>
<rect x="411.2" y="581.0" width="2.7" height="3.2" fill="#6f6f6f" stroke="none"/>
<rect x="273.6" y="539.8" width="5.2" height="4.1" fill="#6f6f6f" stroke="none"/>
<rect x="506.4" y="776.8" width="2.7" height="2.8" fill="#6f6f6f" stroke="none"/>
<rect x="349.3" y="572.3" width="4.3" height="5.3" fill="#6f6f6f" stroke="none"/>
<rect x="490.3" y="632.6" width="4.9" height="4.0" fill="#6f6f6f" stroke="none"/>
<rect x="272.9" y="596.0" width="4.9" height="5.1" fill="#6f6f6f" stroke="none"/>
<rect x="265.6" y="565.3" width="3.5" height="3.0" fill="#6f6f6f" stroke="none"/>
<rect x="468.5" y="563.3" width="2.8" height="5.3" fill="#6f6f6f" stroke="none"/>
<rect x="271.5" y="781.5" width="4.3" height="3.0" fill="#6f6f6f" stroke="none"/>
<rect x="502.8" y="591.4" width="4.6" height="4.5" fill="#6f6f6f" stroke="none"/>
<rect x="257.3" y="687.6" width="3.2" height="2.8" fill="#6f6f6f" stroke="none"/>
<rect x="484.4" y="744.8" width="3.9" height="5.2" fill="#6f6f6f" stroke="none"/>
<rect x="350.0" y="784.5" width="3.7" height="3.5" fill="#6f6f6f" stroke="none"/>
<rect x="486.6" y="698.5" width="5.2" height="4.0" fill="#6f6f6f" stroke="none"/>
<rect x="248.8" y="844.5" width="3.2" height="3.4" fill="#6f6f6f" stroke="none"/>
<rect x="332.9" y="623.4" width="5.2" height="3.4" fill="#6f6f6f" stroke="none"/>
<rect x="330.0" y="716.7" width="3.6" height="3.4" fill="#6f6f6f" stroke="none"/>
<rect x="456.4" y="779.3" width="3.4" height="3.8" fill="#6f6f6f" stroke="none"/>
<rect x="406.1" y="820.9" width="5.1" height="5.2" fill="#6f6f6f" stroke="none"/>
<rect x="249.4" y="556.7" width="4.0" height="4.4" fill="#6f6f6f" stroke="none"/>
<rect x="257.2" y="561.0" width="5.1" height="2.7" fill="#6f6f6f" stroke="none"/>
<rect x="362.9" y="637.3" width="4.3" height="2.9" fill="#6f6f6f" stroke="none"/>
<rect x="374.4" y="702.8" width="3.6" height="3.6" fill="#6f6f6f" stroke="none"/>
<rect x="423.6" y="722.9" width="3.7" height="4.5" fill="#6f6f6f" stroke="none"/>
<rect x="274.6" y="631.5" width="4.2" height="3.5" fill="#6f6f6f" stroke="none"/>
<rect x="296.0" y="803.3" width="5.2" height="2.9" fill="#6f6f6f" stroke="none"/>
<rect x="245.9" y="537.4" width="4.1" height="3.1" fill="#6f6f6f" stroke="none"/>
<rect x="242.6" y="577.4" width="4.9" height="4.8" fill="#6f6f6f" stroke="none"/>
<rect x="320.1" y="761.5" width="3.0" height="5.2" fill="#6f6f6f" stroke="none"/>
<rect x="452.1" y="785.6" width="4.2" height="3.5" fill="#6f6f6f" stroke="none"/>
<rect x="231.7" y="649.9" width="3.5" height="2.7" fill="#6f6f6f" stroke="none"/>
<rect x="285.3" y="671.5" width="2.8" height="4.1" fill="#6f6f6f" stroke="none"/>
<rect x="498.8" y="641.2" width="3.6" height="3.7" fill="#6f6f6f" stroke="none"/>
<rect x="455.8" y="625.7" width="4.6" height="5.1" fill="#6f6f6f" stroke="none"/>
<rect x="371.6" y="655.0" width="4.8" height="3.9" fill="#6f6f6f" stroke="none"/>
<rect x="417.7" y="795.3" width="4.5" height="3.0" fill="#6f6f6f" stroke="none"/>
<rect x="434.7" y="634.2" width="2.6" height="3.9" fill="#6f6f6f" stroke="none"/>
<rect x="292.4" y="648.8" width="2.9" height="3.7" fill="#6f6f6f" stroke="none"/>
<rect x="355.6" y="556.5" width="3.5" height="5.4" fill="#6f6f6f" stroke="none"/>
<rect x="546.3" y="606.0" width="3.7" height="3.6" fill="#6f6f6f" stroke="none"/>
<rect x="549.8" y="634.6" width="5.5" height="3.7" fill="#6f6f6f" stroke="none"/>
<rect x="259.6" y="691.3" width="5.4" height="4.2" fill="#6f6f6f" stroke="none"/>
<rect x="245.2" y="839.9" width="3.8" height="5.5" fill="#6f6f6f" stroke="none"/>
<rect x="507.0" y="542.1" width="3.9" height="4.3" fill="#6f6f6f" stroke="none"/>
<rect x="468.3" y="794.4" width="5.3" height="5.0" fill="#6f6f6f" stroke="none"/>
<rect x="317.8" y="601.4" width="4.5" height="3.7" fill="#6f6f6f" stroke="none"/>
<rect x="338.8" y="810.9" width="3.7" height="5.1" fill="#6f6f6f" stroke="none"/>
<rect x="309.6" y="800.5" width="5.3" height="2.6" fill="#6f6f6f" stroke="none"/>
<rect x="449.3" y="620.6" width="3.8" height="4.1" fill="#6f6f6f" stroke="none"/>
<rect x="464.9" y="812.4" width="4.9" height="5.1" fill="#6f6f6f" stroke="none"/>
<rect x="460.5" y="676.3" width="5.4" height="3.5" fill="#6f6f6f" stroke="none"/>
<rect x="462.2" y="584.3" width="2.6" height="3.1" fill="#6f6f6f" stroke="none"/>
<rect x="377.4" y="600.2" width="3.4" height="3.5" fill="#6f6f6f" stroke="none"/>
<rect x="442.9" y="541.5" width="4.0" height="4.4" fill="#6f6f6f" stroke="none"/>
<rect x="455.1" y="551.6" width="5.1" height="3.0" fill="#6f6f6f" stroke="none"/>
<rect x="316.5" y="826.9" width="3.8" height="3.2" fill="#6f6f6f" stroke="none"/>
<rect x="272.2" y="661.5" width="4.9" height="4.0" fill="#6f6f6f" stroke="none"/>
<rect x="364.8" y="705.1" width="4.6" height="5.3" fill="#6f6f6f" stroke="none"/>
<rect x="327.9" y="842.3" width="2.8" height="3.4" fill="#6f6f6f" stroke="none"/>
<rect x="311.3" y="692.2" width="5.1" height="5.1" fill="#6f6f6f" stroke="none"/>
<rect x="236.2" y="664.2" width="3.6" height="4.7" fill="#6f6f6f" stroke="none"/>
<rect x="285.0" y="855.1" width="2.8" height="5.0" fill="#6f6f6f" stroke="none"/>
<rect x="360.3" y="555.9" width="3.6" height="4.5" fill="#6f6f6f" stroke="none"/>
<rect x="506.5" y="647.6" width="3.7" height="4.4" fill="#6f6f6f" stroke="none"/>
<rect x="385.3" y="571.3" width="4.5" height="4.4" fill="#6f6f6f" stroke="none"/>
<rect x="434.2" y="553.7" width="4.0" height="3.0" fill="#6f6f6f" stroke="none"/>
<rect x="837.6" y="574.0" width="4.2" height="4.5" fill="#6f6f6f" stroke="none"/>
<rect x="727.2" y="612.0" width="3.5" height="2.7" fill="#6f6f6f" stroke="none"/>
<rect x="825.0" y="618.2" width="3.7" height="3.3" fill="#6f6f6f" stroke="none"/>
<rect x="822.6" y="591.8" width="3.2" height="3.3" fill="#6f6f6f" stroke="none"/>
<rect x="825.1" y="619.0" width="2.9" height="3.5" fill="#6f6f6f" stroke="none"/>
<rect x="946.8" y="560.0" width="4.4" height="4.4" fill="#6f6f6f" stroke="none"/>
<rect x="954.5" y="614.2" width="4.1" height="3.3" fill="#6f6f6f" stroke="none"/>
<rect x="747.0" y="572.6" width="4.9" height="2.5" fill="#6f6f6f" stroke="none"/>
<rect x="830.5" y="626.0" width="3.3" height="3.9" fill="#6f6f6f" stroke="none"/>
<rect x="738.2" y="572.6" width="4.6" height="2.7" fill="#6f6f6f" stroke="none"/>
<rect x="746.2" y="562.2" width="3.3" height="4.4" fill="#6f6f6f" stroke="none"/>
<rect x="708.2" y="572.8" width="3.0" height="5.2" fill="#6f6f6f" stroke="none"/>
<rect x="691.6" y="598.1" width="4.5" height="4.5" fill="#6f6f6f" stroke="none"/>
<rect x="837.0" y="595.9" width="4.7" height="3.3" fill="#6f6f6f" stroke="none"/>
<rect x="891.7" y="618.3" width="3.1" height="3.1" fill="#6f6f6f" stroke="none"/>
<rect x="964.8" y="596.4" width="4.9" height="4.9" fill="#6f6f6f" stroke="none"/>
<rect x="679.5" y="559.9" width="4.0" height="3.9" fill="#6f6f6f" stroke="none"/>
<rect x="858.6" y="599.4" width="4.9" height="5.0" fill="#6f6f6f" stroke="none"/>
<rect x="904.4" y="625.9" width="2.9" height="5.1" fill="#6f6f6f" stroke="none"/>
<rect x="973.4" y="573.8" width="2.6" height="4.9" fill="#6f6f6f" stroke="none"/>
<rect x="699.3" y="585.4" width="3.8" height="2.6" fill="#6f6f6f" stroke="none"/>
<rect x="875.9" y="606.2" width="5.0" height="3.3" fill="#6f6f6f" stroke="none"/>
<rect x="868.6" y="583.1" width="3.3" height="5.4" fill="#6f6f6f" stroke="none"/>
<rect x="829.5" y="604.9" width="5.0" height="4.4" fill="#6f6f6f" stroke="none"/>
<rect x="836.6" y="578.3" width="4.2" height="3.6" fill="#6f6f6f" stroke="none"/>
<rect x="881.4" y="615.4" width="4.2" height="3.6" fill="#6f6f6f" stroke="none"/>
<rect x="891.6" y="562.0" width="3.3" height="2.6" fill="#6f6f6f" stroke="none"/>
<rect x="676.6" y="614.4" width="3.0" height="5.3" fill="#6f6f6f" stroke="none"/>
<rect x="682.6" y="623.2" width="5.4" height="5.0" fill="#6f6f6f" stroke="none"/>
<rect x="917.0" y="608.6" width="3.9" height="2.7" fill="#6f6f6f" stroke="none"/>
<rect x="973.8" y="583.2" width="4.8" height="5.0" fill="#6f6f6f" stroke="none"/>
<rect x="939.5" y="562.2" width="3.7" height="3.8" fill="#6f6f6f" stroke="none"/>
<rect x="736.2" y="566.4" width="5.3" height="4.2" fill="#6f6f6f" stroke="none"/>
<rect x="959.5" y="627.6" width="5.3" height="3.4" fill="#6f6f6f" stroke="none"/>
<rect x="792.5" y="600.4" width="5.3" height="3.9" fill="#6f6f6f" stroke="none"/>
<rect x="936.4" y="624.9" width="4.1" height="3.3" fill="#6f6f6f" stroke="none"/>
<rect x="857.2" y="600.9" width="4.2" height="4.4" fill="#6f6f6f" stroke="none"/>
<rect x="684.6" y="598.1" width="4.0" height="4.3" fill="#6f6f6f" stroke="none"/>
<rect x="947.3" y="612.6" width="3.3" height="3.3" fill="#6f6f6f" stroke="none"/>
<rect x="873.1" y="627.1" width="4.2" height="4.4" fill="#6f6f6f" stroke="none"/>
<rect x="783.5" y="613.8" width="3.4" height="3.9" fill="#6f6f6f" stroke="none"/>
<rect x="953.8" y="570.4" width="3.9" height="3.0" fill="#6f6f6f" stroke="none"/>
<rect x="703.6" y="609.2" width="5.3" height="4.6" fill="#6f6f6f" stroke="none"/>
<rect x="928.0" y="587.2" width="5.4" height="2.7" fill="#6f6f6f" stroke="none"/>
<rect x="731.9" y="588.3" width="5.3" height="4.6" fill="#6f6f6f" stroke="none"/>
<rect x="931.7" y="610.3" width="4.0" height="4.4" fill="#6f6f6f" stroke="none"/>
<rect x="948.1" y="614.1" width="4.6" height="5.4" fill="#6f6f6f" stroke="none"/>
<rect x="695.8" y="560.5" width="3.1" height="2.9" fill="#6f6f6f" stroke="none"/>
<rect x="966.8" y="619.8" width="4.7" height="4.8" fill="#6f6f6f" stroke="none"/>
<rect x="899.1" y="567.1" width="4.0" height="5.2" fill="#6f6f6f" stroke="none"/>
<rect x="719.9" y="590.2" width="4.9" height="3.3" fill="#6f6f6f" stroke="none"/>
<rect x="716.1" y="609.9" width="3.5" height="4.8" fill="#6f6f6f" stroke="none"/>
<rect x="822.7" y="601.8" width="4.6" height="4.2" fill="#6f6f6f" stroke="none"/>
<rect x="794.5" y="591.7" width="2.8" height="3.6" fill="#6f6f6f" stroke="none"/>
<rect x="898.0" y="623.0" width="3.7" height="5.0" fill="#6f6f6f" stroke="none"/>
<rect x="746.1" y="584.1" width="4.5" height="5.0" fill="#6f6f6f" stroke="none"/>
<rect x="717.1" y="590.2" width="3.7" height="5.3" fill="#6f6f6f" stroke="none"/>
<rect x="850.5" y="622.7" width="3.9" height="5.4" fill="#6f6f6f" stroke="none"/>
<rect x="861.7" y="604.2" width="4.1" height="4.2" fill="#6f6f6f" stroke="none"/>
<rect x="928.1" y="574.1" width="4.5" height="4.7" fill="#6f6f6f" stroke="none"/>
<rect x="856.4" y="604.8" width="4.0" height="4.0" fill="#6f6f6f" stroke="none"/>
<rect x="930.2" y="577.4" width="5.5" height="2.7" fill="#6f6f6f" stroke="none"/>
<rect x="806.9" y="591.0" width="4.0" height="5.3" fill="#6f6f6f" stroke="none"/>
<rect x="795.2" y="597.3" width="3.1" height="5.1" fill="#6f6f6f" stroke="none"/>
<rect x="831.6" y="560.1" width="4.2" height="4.1" fill="#6f6f6f" stroke="none"/>
<rect x="807.5" y="627.8" width="3.4" height="5.4" fill="#6f6f6f" stroke="none"/>
<rect x="780.6" y="567.3" width="3.5" height="5.1" fill="#6f6f6f" stroke="none"/>
<rect x="707.9" y="574.7" width="3.8" height="5.2" fill="#6f6f6f" stroke="none"/>
<rect x="911.3" y="589.3" width="3.3" height="5.3" fill="#6f6f6f" stroke="none"/>
<rect x="744.3" y="615.5" width="3.2" height="3.1" fill="#6f6f6f" stroke="none"/>
<rect x="889.6" y="585.6" width="4.8" height="2.9" fill="#6f6f6f" stroke="none"/>
<rect x="923.2" y="625.2" width="3.4" height="2.9" fill="#6f6f6f" stroke="none"/>
<rect x="902.9" y="585.8" width="5.0" height="3.6" fill="#6f6f6f" stroke="none"/>
<rect x="689.4" y="595.5" width="2.7" height="4.8" fill="#6f6f6f" stroke="none"/>
<rect x="918.5" y="616.0" width="5.1" height="2.9" fill="#6f6f6f" stroke="none"/>
<rect x="861.4" y="591.0" width="3.2" height="2.7" fill="#6f6f6f" stroke="none"/>
<rect x="792.9" y="564.2" width="3.2" height="4.8" fill="#6f6f6f" stroke="none"/>
<rect x="816.0" y="573.0" width="3.5" height="4.3" fill="#6f6f6f" stroke="none"/>
<rect x="746.6" y="560.8" width="5.4" height="5.3" fill="#6f6f6f" stroke="none"/>
<rect x="763.6" y="570.6" width="2.7" height="4.1" fill="#6f6f6f" stroke="none"/>
<rect x="891.0" y="627.4" width="5.0" height="3.4" fill="#6f6f6f" stroke="none"/>
<rect x="853.6" y="597.2" width="4.8" height="3.0" fill="#6f6f6f" stroke="none"/>
<rect x="795.8" y="614.9" width="3.1" height="2.7" fill="#6f6f6f" stroke="none"/>
<rect x="960.3" y="590.7" width="3.4" height="5.1" fill="#6f6f6f" stroke="none"/>
<rect x="961.9" y="597.5" width="4.1" height="4.3" fill="#6f6f6f" stroke="none"/>
<rect x="678.7" y="620.6" width="4.6" height="3.1" fill="#6f6f6f" stroke="none"/>
<rect x="898.3" y="573.3" width="2.7" height="4.3" fill="#6f6f6f" stroke="none"/>
<rect x="715.5" y="598.1" width="4.5" height="5.4" fill="#6f6f6f" stroke="none"/>
<rect x="876.3" y="577.7" width="3.1" height="3.3" fill="#6f6f6f" stroke="none"/>
<rect x="936.0" y="623.4" width="5.3" height="5.1" fill="#6f6f6f" stroke="none"/>
<rect x="921.7" y="573.9" width="5.1" height="4.6" fill="#6f6f6f" stroke="none"/>
<rect x="796.3" y="605.7" width="3.5" height="4.3" fill="#6f6f6f" stroke="none"/>
<rect x="733.2" y="572.1" width="3.4" height="5.2" fill="#6f6f6f" stroke="none"/>
<rect x="745.3" y="607.8" width="4.4" height="4.7" fill="#6f6f6f" stroke="none"/>
<rect x="666.1" y="597.2" width="5.5" height="5.0" fill="#6f6f6f" stroke="none"/>
<rect x="669.8" y="597.8" width="4.0" height="4.8" fill="#6f6f6f" stroke="none"/>
<rect x="883.6" y="609.7" width="5.1" height="5.1" fill="#6f6f6f" stroke="none"/>
<rect x="956.5" y="600.0" width="5.2" height="5.2" fill="#6f6f6f" stroke="none"/>
<rect x="731.6" y="583.9" width="2.6" height="4.7" fill="#6f6f6f" stroke="none"/>
<rect x="793.7" y="623.5" width="4.1" height="4.1" fill="#6f6f6f" stroke="none"/>
<rect x="876.3" y="593.7" width="3.5" height="4.6" fill="#6f6f6f" stroke="none"/>
<rect x="973.4" y="602.5" width="4.4" height="4.4" fill="#6f6f6f" stroke="none"/>
<rect x="680.6" y="567.1" width="3.9" height="4.5" fill="#6f6f6f" stroke="none"/>
<rect x="930.6" y="595.3" width="3.3" height="4.2" fill="#6f6f6f" stroke="none"/>
<rect x="708.0" y="563.6" width="4.9" height="3.9" fill="#6f6f6f" stroke="none"/>
<rect x="823.9" y="585.1" width="5.3" height="4.7" fill="#6f6f6f" stroke="none"/>
<rect x="784.0" y="627.6" width="5.2" height="4.9" fill="#6f6f6f" stroke="none"/>
<rect x="850.3" y="590.0" width="2.6" height="3.9" fill="#6f6f6f" stroke="none"/>
<rect x="684.9" y="615.1" width="4.8" height="3.5" fill="#6f6f6f" stroke="none"/>
<rect x="742.5" y="617.5" width="4.7" height="4.7" fill="#6f6f6f" stroke="none"/>
<rect x="691.2" y="595.4" width="4.8" height="3.4" fill="#6f6f6f" stroke="none"/>
<rect x="807.8" y="626.5" width="5.0" height="3.7" fill="#6f6f6f" stroke="none"/>
<rect x="895.8" y="601.9" width="3.5" height="5.2" fill="#6f6f6f" stroke="none"/>
<rect x="809.5" y="582.1" width="3.1" height="5.1" fill="#6f6f6f" stroke="none"/>
<rect x="707.3" y="622.2" width="2.8" height="3.0" fill="#6f6f6f" stroke="none"/>
<rect x="737.6" y="586.2" width="3.4" height="4.6" fill="#6f6f6f" stroke="none"/>
<rect x="818.2" y="568.8" width="3.2" height="3.9" fill="#6f6f6f" stroke="none"/>
<rect x="708.5" y="591.7" width="4.5" height="2.5" fill="#6f6f6f" stroke="none"/>
<rect x="697.7" y="616.0" width="4.8" height="4.8" fill="#6f6f6f" stroke="none"/>
<rect x="747.5" y="580.8" width="4.9" height="4.9" fill="#6f6f6f" stroke="none"/>
<rect x="749.0" y="643.7" width="4.7" height="5.4" fill="#6f6f6f" stroke="none"/>
<rect x="679.0" y="649.2" width="2.6" height="4.1" fill="#6f6f6f" stroke="none"/>
<rect x="697.1" y="680.3" width="2.5" height="2.6" fill="#6f6f6f" stroke="none"/>
<rect x="732.1" y="697.3" width="3.2" height="3.2" fill="#6f6f6f" stroke="none"/>
<rect x="764.1" y="718.2" width="4.1" height="4.1" fill="#6f6f6f" stroke="none"/>
<rect x="699.4" y="722.5" width="3.3" height="3.6" fill="#6f6f6f" stroke="none"/>
<rect x="738.9" y="709.4" width="3.6" height="4.8" fill="#6f6f6f" stroke="none"/>
<rect x="770.7" y="710.0" width="3.4" height="4.8" fill="#6f6f6f" stroke="none"/>
<rect x="713.5" y="645.8" width="2.5" height="3.4" fill="#6f6f6f" stroke="none"/>
<rect x="665.0" y="720.6" width="4.4" height="4.1" fill="#6f6f6f" stroke="none"/>
<rect x="781.0" y="714.6" width="3.8" height="3.0" fill="#6f6f6f" stroke="none"/>
<rect x="667.0" y="705.2" width="5.2" height="5.5" fill="#6f6f6f" stroke="none"/>
<rect x="785.3" y="654.5" width="2.8" height="2.7" fill="#6f6f6f" stroke="none"/>
<rect x="711.3" y="700.4" width="4.1" height="3.0" fill="#6f6f6f" stroke="none"/>
<rect x="697.3" y="735.3" width="2.9" height="5.0" fill="#6f6f6f" stroke="none"/>
<rect x="709.7" y="648.3" width="5.3" height="5.1" fill="#6f6f6f" stroke="none"/>
<rect x="779.6" y="746.8" width="3.3" height="3.9" fill="#6f6f6f" stroke="none"/>
<rect x="704.7" y="725.1" width="3.7" height="3.4" fill="#6f6f6f" stroke="none"/>
<rect x="665.8" y="731.1" width="2.5" height="4.0" fill="#6f6f6f" stroke="none"/>
<rect x="708.5" y="732.3" width="3.6" height="5.1" fill="#6f6f6f" stroke="none"/>
<rect x="778.9" y="630.7" width="5.1" height="4.1" fill="#6f6f6f" stroke="none"/>
<rect x="714.6" y="654.1" width="3.3" height="2.5" fill="#6f6f6f" stroke="none"/>
<rect x="677.1" y="746.9" width="3.2" height="5.2" fill="#6f6f6f" stroke="none"/>
<rect x="731.7" y="697.5" width="2.9" height="4.5" fill="#6f6f6f" stroke="none"/>
<rect x="733.8" y="672.5" width="4.0" height="2.5" fill="#6f6f6f" stroke="none"/>
<rect x="744.1" y="746.1" width="3.0" height="2.9" fill="#6f6f6f" stroke="none"/>
<rect x="712.1" y="713.0" width="4.7" height="5.3" fill="#6f6f6f" stroke="none"/>
<rect x="693.0" y="724.5" width="3.0" height="3.4" fill="#6f6f6f" stroke="none"/>
<rect x="730.0" y="700.9" width="3.8" height="3.6" fill="#6f6f6f" stroke="none"/>
<rect x="692.6" y="661.5" width="3.5" height="2.9" fill="#6f6f6f" stroke="none"/>
<rect x="711.7" y="638.3" width="4.4" height="4.4" fill="#6f6f6f" stroke="none"/>
<rect x="719.8" y="724.5" width="5.0" height="4.8" fill="#6f6f6f" stroke="none"/>
<rect x="765.8" y="675.8" width="3.1" height="5.3" fill="#6f6f6f" stroke="none"/>
<rect x="759.9" y="727.7" width="4.4" height="3.4" fill="#6f6f6f" stroke="none"/>
<rect x="666.1" y="746.1" width="3.3" height="5.5" fill="#6f6f6f" stroke="none"/>
<rect x="720.3" y="684.5" width="2.7" height="3.0" fill="#6f6f6f" stroke="none"/>
<rect x="758.6" y="749.7" width="4.4" height="3.5" fill="#6f6f6f" stroke="none"/>
<rect x="701.1" y="675.9" width="4.8" height="5.0" fill="#6f6f6f" stroke="none"/>
<rect x="678.6" y="693.6" width="4.8" height="3.2" fill="#6f6f6f" stroke="none"/>
<rect x="736.8" y="628.3" width="2.7" height="5.2" fill="#6f6f6f" stroke="none"/>
<rect x="769.5" y="630.1" width="3.8" height="5.4" fill="#6f6f6f" stroke="none"/>
<rect x="705.9" y="737.9" width="5.3" height="4.8" fill="#6f6f6f" stroke="none"/>
<rect x="732.3" y="654.2" width="5.5" height="5.0" fill="#6f6f6f" stroke="none"/>
<rect x="680.3" y="727.1" width="2.8" height="3.0" fill="#6f6f6f" stroke="none"/>
<rect x="787.3" y="751.1" width="2.7" height="3.4" fill="#6f6f6f" stroke="none"/>
<rect x="686.1" y="732.9" width="5.0" height="4.3" fill="#6f6f6f" stroke="none"/>
<rect x="706.1" y="630.2" width="2.9" height="4.6" fill="#6f6f6f" stroke="none"/>
<rect x="689.7" y="645.3" width="5.3" height="5.4" fill="#6f6f6f" stroke="none"/>
<rect x="766.3" y="693.8" width="4.7" height="3.4" fill="#6f6f6f" stroke="none"/>
<rect x="775.8" y="652.6" width="4.3" height="4.8" fill="#6f6f6f" stroke="none"/>
<rect x="681.9" y="662.7" width="2.9" height="3.6" fill="#6f6f6f" stroke="none"/>
<rect x="745.1" y="674.2" width="5.1" height="5.4" fill="#6f6f6f" stroke="none"/>
<rect x="769.8" y="684.1" width="2.8" height="4.8" fill="#6f6f6f" stroke="none"/>
<rect x="730.2" y="709.7" width="4.3" height="5.4" fill="#6f6f6f" stroke="none"/>
<rect x="772.1" y="745.5" width="4.8" height="3.8" fill="#6f6f6f" stroke="none"/>
<rect x="758.0" y="660.8" width="4.6" height="3.1" fill="#6f6f6f" stroke="none"/>
<rect x="790.6" y="703.2" width="4.2" height="3.1" fill="#6f6f6f" stroke="none"/>
<rect x="695.7" y="738.3" width="3.5" height="3.0" fill="#6f6f6f" stroke="none"/>
<rect x="689.0" y="699.8" width="3.1" height="5.4" fill="#6f6f6f" stroke="none"/>
<rect x="742.1" y="675.3" width="3.5" height="3.7" fill="#6f6f6f" stroke="none"/>
<rect x="771.2" y="654.5" width="3.4" height="3.2" fill="#6f6f6f" stroke="none"/>
<rect x="769.5" y="743.3" width="3.1" height="4.0" fill="#6f6f6f" stroke="none"/>
<rect x="737.2" y="722.1" width="5.4" height="2.6" fill="#6f6f6f" stroke="none"/>
<rect x="701.5" y="728.0" width="3.5" height="3.0" fill="#6f6f6f" stroke="none"/>
<rect x="773.4" y="686.9" width="3.0" height="3.5" fill="#6f6f6f" stroke="none"/>
<rect x="710.3" y="647.2" width="4.2" height="2.5" fill="#6f6f6f" stroke="none"/>
<rect x="680.6" y="758.8" width="4.2" height="3.6" fill="#6f6f6f" stroke="none"/>
<rect x="773.6" y="678.9" width="4.8" height="3.5" fill="#6f6f6f" stroke="none"/>
<rect x="789.3" y="707.7" width="3.4" height="4.6" fill="#6f6f6f" stroke="none"/>
<rect x="748.1" y="694.4" width="5.2" height="5.4" fill="#6f6f6f" stroke="none"/>
<rect x="785.7" y="758.2" width="5.0" height="2.9" fill="#6f6f6f" stroke="none"/>
<rect x="664.2" y="689.4" width="3.0" height="3.9" fill="#6f6f6f" stroke="none"/>
<rect x="786.9" y="750.2" width="4.4" height="2.9" fill="#6f6f6f" stroke="none"/>
<rect x="671.4" y="640.7" width="5.5" height="2.7" fill="#6f6f6f" stroke="none"/>
<rect x="696.4" y="720.9" width="4.5" height="5.5" fill="#6f6f6f" stroke="none"/>
<rect x="756.6" y="736.0" width="4.1" height="4.8" fill="#6f6f6f" stroke="none"/>
<rect x="723.5" y="634.7" width="4.9" height="2.7" fill="#6f6f6f" stroke="none"/>
<rect x="680.4" y="681.6" width="3.4" height="5.3" fill="#6f6f6f" stroke="none"/>
<rect x="720.9" y="720.7" width="3.6" height="2.9" fill="#6f6f6f" stroke="none"/>
<rect x="703.2" y="746.1" width="4.6" height="3.9" fill="#6f6f6f" stroke="none"/>
<rect x="736.1" y="651.9" width="3.5" height="4.2" fill="#6f6f6f" stroke="none"/>
<rect x="753.8" y="644.0" width="5.4" height="2.9" fill="#6f6f6f" stroke="none"/>
<rect x="688.5" y="694.1" width="2.9" height="5.5" fill="#6f6f6f" stroke="none"/>
<rect x="711.9" y="668.3" width="4.2" height="5.0" fill="#6f6f6f" stroke="none"/>
<rect x="735.7" y="703.6" width="4.2" height="2.9" fill="#6f6f6f" stroke="none"/>
<rect x="679.9" y="692.6" width="3.7" height="4.8" fill="#6f6f6f" stroke="none"/>
<rect x="697.3" y="694.2" width="4.2" height="5.4" fill="#6f6f6f" stroke="none"/>
<rect x="725.0" y="724.3" width="5.2" height="4.8" fill="#6f6f6f" stroke="none"/>
<rect x="742.2" y="698.4" width="2.6" height="5.0" fill="#6f6f6f" stroke="none"/>
<rect x="770.4" y="686.3" width="3.4" height="5.0" fill="#6f6f6f" stroke="none"/>
<rect x="764.7" y="671.9" width="4.6" height="5.2" fill="#6f6f6f" stroke="none"/>
<rect x="774.3" y="708.4" width="3.0" height="3.1" fill="#6f6f6f" stroke="none"/>
<rect x="774.8" y="726.2" width="3.0" height="3.5" fill="#6f6f6f" stroke="none"/>
<rect x="726.2" y="635.2" width="3.1" height="4.8" fill="#6f6f6f" stroke="none"/>
<rect x="744.5" y="683.4" width="4.8" height="4.0" fill="#6f6f6f" stroke="none"/>
<rect x="678.6" y="734.5" width="3.8" height="4.1" fill="#6f6f6f" stroke="none"/>
<rect x="721.5" y="729.0" width="5.3" height="2.6" fill="#6f6f6f" stroke="none"/>
<rect x="748.9" y="698.8" width="4.5" height="5.1" fill="#6f6f6f" stroke="none"/>
<rect x="688.3" y="748.5" width="4.6" height="4.9" fill="#6f6f6f" stroke="none"/>
<rect x="783.5" y="725.6" width="5.0" height="5.3" fill="#6f6f6f" stroke="none"/>
<rect x="751.4" y="753.5" width="4.7" height="5.0" fill="#6f6f6f" stroke="none"/>
<rect x="728.4" y="684.9" width="3.5" height="5.2" fill="#6f6f6f" stroke="none"/>
<rect x="733.9" y="743.9" width="2.8" height="5.0" fill="#6f6f6f" stroke="none"/>
<rect x="749.8" y="716.2" width="4.8" height="3.2" fill="#6f6f6f" stroke="none"/>
<rect x="751.9" y="751.1" width="4.7" height="5.4" fill="#6f6f6f" stroke="none"/>
<rect x="712.0" y="705.3" width="3.3" height="3.8" fill="#6f6f6f" stroke="none"/>
<rect x="691.4" y="663.4" width="3.9" height="3.0" fill="#6f6f6f" stroke="none"/>
<rect x="757.7" y="633.0" width="5.0" height="3.0" fill="#6f6f6f" stroke="none"/>
<rect x="763.1" y="737.0" width="5.4" height="4.1" fill="#6f6f6f" stroke="none"/>
<rect x="699.4" y="675.0" width="5.1" height="2.8" fill="#6f6f6f" stroke="none"/>
<rect x="683.9" y="634.7" width="4.6" height="4.0" fill="#6f6f6f" stroke="none"/>
<rect x="788.0" y="676.9" width="4.6" height="3.3" fill="#6f6f6f" stroke="none"/>
<rect x="784.5" y="690.0" width="5.2" height="4.9" fill="#6f6f6f" stroke="none"/>
<rect x="734.9" y="640.2" width="4.5" height="2.9" fill="#6f6f6f" stroke="none"/>
<rect x="735.7" y="734.6" width="2.7" height="5.2" fill="#6f6f6f" stroke="none"/>
<rect x="729.1" y="665.2" width="4.4" height="3.9" fill="#6f6f6f" stroke="none"/>
<rect x="669.2" y="715.3" width="5.5" height="5.4" fill="#6f6f6f" stroke="none"/>
<rect x="732.3" y="639.6" width="4.4" height="2.8" fill="#6f6f6f" stroke="none"/>
<rect x="669.2" y="722.7" width="4.9" height="3.2" fill="#6f6f6f" stroke="none"/>
<rect x="730.8" y="754.6" width="4.8" height="2.9" fill="#6f6f6f" stroke="none"/>
<rect x="881.5" y="665.0" width="2.9" height="3.7" fill="#6f6f6f" stroke="none"/>
<rect x="792.7" y="652.9" width="4.4" height="3.3" fill="#6f6f6f" stroke="none"/>
<rect x="843.2" y="663.4" width="3.8" height="5.5" fill="#6f6f6f" stroke="none"/>
<rect x="937.3" y="615.3" width="5.3" height="3.8" fill="#6f6f6f" stroke="none"/>
<rect x="864.1" y="665.6" width="4.4" height="5.0" fill="#6f6f6f" stroke="none"/>
<rect x="888.7" y="674.3" width="5.5" height="3.6" fill="#6f6f6f" stroke="none"/>
<rect x="881.5" y="621.8" width="2.7" height="2.7" fill="#6f6f6f" stroke="none"/>
<rect x="884.4" y="661.7" width="2.9" height="4.6" fill="#6f6f6f" stroke="none"/>
<rect x="822.8" y="668.0" width="4.3" height="2.5" fill="#6f6f6f" stroke="none"/>
<rect x="980.7" y="653.9" width="2.9" height="2.6" fill="#6f6f6f" stroke="none"/>
<rect x="888.0" y="657.6" width="5.2" height="2.8" fill="#6f6f6f" stroke="none"/>
<rect x="972.7" y="636.2" width="4.1" height="3.7" fill="#6f6f6f" stroke="none"/>
<rect x="946.0" y="653.6" width="4.6" height="5.4" fill="#6f6f6f" stroke="none"/>
<rect x="920.8" y="637.1" width="4.2" height="3.3" fill="#6f6f6f" stroke="none"/>
<rect x="903.7" y="627.8" width="4.7" height="4.8" fill="#6f6f6f" stroke="none"/>
<rect x="900.1" y="677.8" width="3.6" height="5.1" fill="#6f6f6f" stroke="none"/>
<rect x="823.1" y="647.6" width="3.4" height="2.9" fill="#6f6f6f" stroke="none"/>
<rect x="885.9" y="628.2" width="4.5" height="2.8" fill="#6f6f6f" stroke="none"/>
<rect x="819.0" y="640.7" width="4.2" height="4.2" fill="#6f6f6f" stroke="none"/>
<rect x="827.8" y="679.1" width="3.7" height="4.4" fill="#6f6f6f" stroke="none"/>
<rect x="933.4" y="642.5" width="4.7" height="3.2" fill="#6f6f6f" stroke="none"/>
<rect x="849.1" y="672.1" width="3.7" height="5.5" fill="#6f6f6f" stroke="none"/>
<rect x="893.9" y="650.0" width="4.3" height="4.8" fill="#6f6f6f" stroke="none"/>
<rect x="910.2" y="616.6" width="4.0" height="4.9" fill="#6f6f6f" stroke="none"/>
<rect x="928.1" y="618.7" width="2.7" height="4.9" fill="#6f6f6f" stroke="none"/>
<rect x="856.6" y="660.4" width="5.0" height="3.0" fill="#6f6f6f" stroke="none"/>
<rect x="812.4" y="634.1" width="5.5" height="3.8" fill="#6f6f6f" stroke="none"/>
<rect x="850.3" y="623.9" width="4.8" height="5.3" fill="#6f6f6f" stroke="none"/>
<rect x="798.5" y="658.1" width="2.6" height="5.0" fill="#6f6f6f" stroke="none"/>
<rect x="821.2" y="652.4" width="3.1" height="4.0" fill="#6f6f6f" stroke="none"/>
<rect x="923.8" y="628.5" width="4.8" height="4.2" fill="#6f6f6f" stroke="none"/>
<rect x="823.0" y="655.0" width="4.9" height="5.3" fill="#6f6f6f" stroke="none"/>
<rect x="808.0" y="664.7" width="4.2" height="5.4" fill="#6f6f6f" stroke="none"/>
<rect x="916.7" y="662.7" width="4.7" height="3.5" fill="#6f6f6f" stroke="none"/>
<rect x="858.4" y="655.0" width="2.6" height="3.6" fill="#6f6f6f" stroke="none"/>
<rect x="808.4" y="656.0" width="3.1" height="4.5" fill="#6f6f6f" stroke="none"/>
<rect x="838.6" y="658.8" width="3.4" height="5.1" fill="#6f6f6f" stroke="none"/>
<rect x="932.3" y="634.4" width="3.3" height="2.6" fill="#6f6f6f" stroke="none"/>
<rect x="902.8" y="638.6" width="3.4" height="4.4" fill="#6f6f6f" stroke="none"/>
<rect x="870.1" y="653.4" width="5.0" height="5.4" fill="#6f6f6f" stroke="none"/>
<rect x="980.8" y="667.6" width="4.1" height="2.9" fill="#6f6f6f" stroke="none"/>
<rect x="883.4" y="664.1" width="3.9" height="4.7" fill="#6f6f6f" stroke="none"/>
<rect x="964.4" y="675.5" width="2.8" height="3.9" fill="#6f6f6f" stroke="none"/>
<rect x="962.8" y="615.2" width="2.6" height="4.3" fill="#6f6f6f" stroke="none"/>
<rect x="891.9" y="632.5" width="4.1" height="3.5" fill="#6f6f6f" stroke="none"/>
<rect x="936.0" y="636.9" width="5.0" height="3.2" fill="#6f6f6f" stroke="none"/>
<rect x="816.6" y="646.6" width="3.2" height="5.2" fill="#6f6f6f" stroke="none"/>
<rect x="850.8" y="667.1" width="4.0" height="3.2" fill="#6f6f6f" stroke="none"/>
<rect x="909.5" y="662.3" width="3.9" height="4.6" fill="#6f6f6f" stroke="none"/>
<rect x="920.0" y="641.5" width="4.3" height="4.3" fill="#6f6f6f" stroke="none"/>
<rect x="803.1" y="751.3" width="3.7" height="2.6" fill="#6f6f6f" stroke="none"/>
<rect x="861.0" y="719.1" width="4.5" height="2.9" fill="#6f6f6f" stroke="none"/>
<rect x="838.7" y="698.9" width="5.3" height="4.0" fill="#6f6f6f" stroke="none"/>
<rect x="926.5" y="700.8" width="3.5" height="3.3" fill="#6f6f6f" stroke="none"/>
<rect x="915.4" y="729.9" width="3.8" height="2.8" fill="#6f6f6f" stroke="none"/>
<rect x="903.8" y="708.6" width="3.5" height="3.9" fill="#6f6f6f" stroke="none"/>
<rect x="897.3" y="684.8" width="3.1" height="3.7" fill="#6f6f6f" stroke="none"/>
<rect x="820.3" y="715.3" width="3.7" height="5.0" fill="#6f6f6f" stroke="none"/>
<rect x="828.3" y="725.4" width="3.1" height="4.9" fill="#6f6f6f" stroke="none"/>
<rect x="940.7" y="713.5" width="4.4" height="5.4" fill="#6f6f6f" stroke="none"/>
<rect x="869.3" y="689.8" width="3.7" height="4.0" fill="#6f6f6f" stroke="none"/>
<rect x="838.6" y="730.0" width="5.3" height="2.8" fill="#6f6f6f" stroke="none"/>
<rect x="882.8" y="696.8" width="4.0" height="3.6" fill="#6f6f6f" stroke="none"/>
<rect x="817.2" y="748.4" width="4.0" height="4.4" fill="#6f6f6f" stroke="none"/>
<rect x="873.0" y="698.2" width="3.7" height="2.9" fill="#6f6f6f" stroke="none"/>
<rect x="919.3" y="728.7" width="5.0" height="2.7" fill="#6f6f6f" stroke="none"/>
<rect x="897.0" y="733.6" width="3.6" height="5.4" fill="#6f6f6f" stroke="none"/>
<rect x="879.8" y="757.7" width="4.9" height="4.8" fill="#6f6f6f" stroke="none"/>
<rect x="867.0" y="733.1" width="3.2" height="4.6" fill="#6f6f6f" stroke="none"/>
<rect x="918.3" y="715.8" width="3.9" height="3.7" fill="#6f6f6f" stroke="none"/>
<rect x="795.9" y="757.4" width="3.8" height="5.1" fill="#6f6f6f" stroke="none"/>
<rect x="864.7" y="707.4" width="4.7" height="4.2" fill="#6f6f6f" stroke="none"/>
<rect x="871.8" y="748.8" width="4.5" height="5.3" fill="#6f6f6f" stroke="none"/>
<rect x="820.2" y="731.5" width="4.3" height="3.2" fill="#6f6f6f" stroke="none"/>
<rect x="932.8" y="731.5" width="4.4" height="4.1" fill="#6f6f6f" stroke="none"/>
<rect x="887.2" y="690.0" width="4.4" height="2.8" fill="#6f6f6f" stroke="none"/>
<rect x="960.2" y="746.1" width="3.9" height="4.3" fill="#6f6f6f" stroke="none"/>
<rect x="906.7" y="745.2" width="4.9" height="3.5" fill="#6f6f6f" stroke="none"/>
<rect x="913.4" y="689.8" width="4.9" height="3.7" fill="#6f6f6f" stroke="none"/>
<rect x="929.7" y="689.2" width="5.1" height="3.1" fill="#6f6f6f" stroke="none"/>
<rect x="807.8" y="700.7" width="4.2" height="5.5" fill="#6f6f6f" stroke="none"/>
<rect x="866.3" y="704.8" width="4.8" height="3.3" fill="#6f6f6f" stroke="none"/>
<rect x="827.0" y="687.5" width="4.5" height="5.0" fill="#6f6f6f" stroke="none"/>
<rect x="823.7" y="752.6" width="3.7" height="4.8" fill="#6f6f6f" stroke="none"/>
<rect x="907.5" y="689.6" width="3.6" height="3.6" fill="#6f6f6f" stroke="none"/>
<rect x="834.0" y="751.1" width="3.2" height="4.2" fill="#6f6f6f" stroke="none"/>
<rect x="940.1" y="747.8" width="4.7" height="4.3" fill="#6f6f6f" stroke="none"/>
<rect x="820.3" y="702.6" width="5.2" height="4.2" fill="#6f6f6f" stroke="none"/>
<rect x="980.4" y="730.9" width="3.4" height="3.8" fill="#6f6f6f" stroke="none"/>
<rect x="892.8" y="713.5" width="4.6" height="5.0" fill="#6f6f6f" stroke="none"/>
<rect x="678.0" y="822.2" width="4.3" height="4.7" fill="#6f6f6f" stroke="none"/>
<rect x="701.0" y="784.6" width="5.2" height="3.4" fill="#6f6f6f" stroke="none"/>
<rect x="947.1" y="827.8" width="3.5" height="5.5" fill="#6f6f6f" stroke="none"/>
<rect x="961.9" y="819.7" width="2.9" height="3.0" fill="#6f6f6f" stroke="none"/>
<rect x="699.1" y="767.7" width="2.7" height="3.3" fill="#6f6f6f" stroke="none"/>
<rect x="724.8" y="818.5" width="3.3" height="5.2" fill="#6f6f6f" stroke="none"/>
<rect x="741.4" y="828.5" width="4.8" height="5.2" fill="#6f6f6f" stroke="none"/>
<rect x="970.8" y="776.8" width="2.6" height="5.1" fill="#6f6f6f" stroke="none"/>
<rect x="916.3" y="791.0" width="3.0" height="4.5" fill="#6f6f6f" stroke="none"/>
<rect x="773.7" y="805.1" width="3.5" height="3.4" fill="#6f6f6f" stroke="none"/>
<rect x="795.6" y="842.1" width="4.2" height="4.8" fill="#6f6f6f" stroke="none"/>
<rect x="825.2" y="824.9" width="5.3" height="3.2" fill="#6f6f6f" stroke="none"/>
<rect x="822.6" y="794.7" width="5.0" height="3.2" fill="#6f6f6f" stroke="none"/>
<rect x="913.3" y="825.6" width="3.2" height="4.2" fill="#6f6f6f" stroke="none"/>
<rect x="947.6" y="788.2" width="5.5" height="5.4" fill="#6f6f6f" stroke="none"/>
<rect x="683.1" y="844.5" width="3.1" height="4.8" fill="#6f6f6f" stroke="none"/>
<rect x="842.8" y="859.7" width="4.1" height="2.6" fill="#6f6f6f" stroke="none"/>
<rect x="864.1" y="826.0" width="5.3" height="5.4" fill="#6f6f6f" stroke="none"/>
<rect x="785.5" y="840.6" width="2.7" height="4.1" fill="#6f6f6f" stroke="none"/>
<rect x="790.2" y="770.9" width="4.1" height="4.4" fill="#6f6f6f" stroke="none"/>
<rect x="978.4" y="851.0" width="4.0" height="5.0" fill="#6f6f6f" stroke="none"/>
<rect x="830.8" y="778.7" width="2.9" height="3.0" fill="#6f6f6f" stroke="none"/>
<rect x="839.8" y="792.3" width="2.9" height="3.9" fill="#6f6f6f" stroke="none"/>
<rect x="923.7" y="809.9" width="3.2" height="4.8" fill="#6f6f6f" stroke="none"/>
<rect x="679.8" y="777.4" width="5.5" height="4.5" fill="#6f6f6f" stroke="none"/>
<rect x="673.1" y="850.2" width="3.8" height="4.2" fill="#6f6f6f" stroke="none"/>
<rect x="737.0" y="832.3" width="3.8" height="2.8" fill="#6f6f6f" stroke="none"/>
<rect x="838.4" y="769.6" width="5.2" height="5.1" fill="#6f6f6f" stroke="none"/>
<rect x="746.8" y="852.8" width="4.3" height="4.2" fill="#6f6f6f" stroke="none"/>
<rect x="936.5" y="783.0" width="5.3" height="3.6" fill="#6f6f6f" stroke="none"/>
<rect x="684.4" y="831.9" width="3.1" height="3.6" fill="#6f6f6f" stroke="none"/>
<rect x="784.6" y="821.4" width="2.7" height="4.8" fill="#6f6f6f" stroke="none"/>
<rect x="758.0" y="813.0" width="4.4" height="3.1" fill="#6f6f6f" stroke="none"/>
<rect x="764.2" y="829.1" width="2.9" height="3.5" fill="#6f6f6f" stroke="none"/>
<rect x="957.0" y="812.8" width="4.7" height="3.1" fill="#6f6f6f" stroke="none"/>
<rect x="766.0" y="807.1" width="4.1" height="3.1" fill="#6f6f6f" stroke="none"/>
<rect x="731.6" y="816.3" width="3.3" height="5.1" fill="#6f6f6f" stroke="none"/>
<rect x="936.1" y="834.0" width="3.2" height="3.7" fill="#6f6f6f" stroke="none"/>
<rect x="895.0" y="826.6" width="4.1" height="2.7" fill="#6f6f6f" stroke="none"/>
<rect x="851.7" y="777.4" width="2.7" height="3.0" fill="#6f6f6f" stroke="none"/>
<rect x="789.8" y="859.5" width="5.5" height="4.2" fill="#6f6f6f" stroke="none"/>
<rect x="971.1" y="849.7" width="4.9" height="5.0" fill="#6f6f6f" stroke="none"/>
<rect x="828.8" y="836.4" width="5.4" height="3.1" fill="#6f6f6f" stroke="none"/>
<rect x="715.3" y="812.3" width="3.9" height="4.4" fill="#6f6f6f" stroke="none"/>
<rect x="953.7" y="833.1" width="2.6" height="2.7" fill="#6f6f6f" stroke="none"/>
<rect x="671.1" y="805.2" width="3.4" height="4.1" fill="#6f6f6f" stroke="none"/>
<rect x="886.9" y="790.6" width="3.6" height="5.3" fill="#6f6f6f" stroke="none"/>
<rect x="906.7" y="849.4" width="3.2" height="4.7" fill="#6f6f6f" stroke="none"/>
<rect x="721.1" y="857.1" width="3.7" height="3.2" fill="#6f6f6f" stroke="none"/>
<rect x="671.6" y="843.5" width="4.5" height="5.5" fill="#6f6f6f" stroke="none"/>
<rect x="763.5" y="819.3" width="4.3" height="4.4" fill="#6f6f6f" stroke="none"/>
<rect x="909.4" y="771.0" width="5.0" height="2.7" fill="#6f6f6f" stroke="none"/>
<rect x="754.6" y="778.8" width="4.8" height="4.3" fill="#6f6f6f" stroke="none"/>
<rect x="803.6" y="844.3" width="2.9" height="2.8" fill="#6f6f6f" stroke="none"/>
<rect x="859.4" y="776.1" width="5.1" height="5.4" fill="#6f6f6f" stroke="none"/>
<rect x="889.7" y="766.6" width="3.7" height="2.7" fill="#6f6f6f" stroke="none"/>
<rect x="900.2" y="790.6" width="2.8" height="5.0" fill="#6f6f6f" stroke="none"/>
<rect x="918.1" y="795.2" width="2.8" height="2.6" fill="#6f6f6f" stroke="none"/>
<rect x="771.9" y="769.1" width="3.2" height="4.0" fill="#6f6f6f" stroke="none"/>
<rect x="911.4" y="782.5" width="2.9" height="2.9" fill="#6f6f6f" stroke="none"/>
<rect x="901.3" y="820.6" width="4.8" height="5.1" fill="#6f6f6f" stroke="none"/>
<rect x="742.6" y="813.9" width="3.5" height="3.8" fill="#6f6f6f" stroke="none"/>
<rect x="969.7" y="850.4" width="4.7" height="5.0" fill="#6f6f6f" stroke="none"/>
<rect x="906.3" y="811.0" width="3.9" height="3.3" fill="#6f6f6f" stroke="none"/>
<rect x="807.2" y="774.0" width="5.4" height="3.1" fill="#6f6f6f" stroke="none"/>
<rect x="902.8" y="847.9" width="2.8" height="3.1" fill="#6f6f6f" stroke="none"/>
<rect x="942.5" y="760.4" width="2.9" height="5.4" fill="#6f6f6f" stroke="none"/>
<rect x="697.9" y="838.2" width="4.0" height="5.4" fill="#6f6f6f" stroke="none"/>
<rect x="883.8" y="783.5" width="4.8" height="3.0" fill="#6f6f6f" stroke="none"/>
<rect x="799.0" y="811.0" width="5.1" height="4.5" fill="#6f6f6f" stroke="none"/>
<rect x="894.6" y="833.0" width="2.6" height="3.6" fill="#6f6f6f" stroke="none"/>
<rect x="925.4" y="822.2" width="4.7" height="5.2" fill="#6f6f6f" stroke="none"/>
<rect x="744.7" y="780.1" width="2.9" height="5.1" fill="#6f6f6f" stroke="none"/>
<rect x="826.9" y="848.0" width="4.6" height="4.1" fill="#6f6f6f" stroke="none"/>
<rect x="691.6" y="833.9" width="5.4" height="4.4" fill="#6f6f6f" stroke="none"/>
<rect x="754.9" y="845.1" width="4.2" height="4.3" fill="#6f6f6f" stroke="none"/>
<rect x="795.2" y="853.4" width="3.3" height="3.3" fill="#6f6f6f" stroke="none"/>
<rect x="748.2" y="812.7" width="3.6" height="5.4" fill="#6f6f6f" stroke="none"/>
<rect x="908.0" y="848.6" width="3.1" height="2.5" fill="#6f6f6f" stroke="none"/>
<rect x="868.5" y="855.3" width="4.4" height="5.3" fill="#6f6f6f" stroke="none"/>
<rect x="692.9" y="820.6" width="4.4" height="4.2" fill="#6f6f6f" stroke="none"/>
<rect x="908.0" y="835.0" width="4.9" height="4.2" fill="#6f6f6f" stroke="none"/>
<rect x="749.0" y="859.8" width="3.6" height="2.7" fill="#6f6f6f" stroke="none"/>
<rect x="874.8" y="776.3" width="3.9" height="4.5" fill="#6f6f6f" stroke="none"/>
<rect x="722.9" y="853.9" width="3.3" height="4.2" fill="#6f6f6f" stroke="none"/>
<rect x="698.1" y="855.9" width="3.5" height="4.5" fill="#6f6f6f" stroke="none"/>
<rect x="972.5" y="805.7" width="3.3" height="3.1" fill="#6f6f6f" stroke="none"/>
<rect x="953.0" y="850.0" width="3.7" height="3.8" fill="#6f6f6f" stroke="none"/>
<rect x="793.4" y="798.2" width="3.7" height="4.9" fill="#6f6f6f" stroke="none"/>
<rect x="864.7" y="785.3" width="4.5" height="3.2" fill="#6f6f6f" stroke="none"/>
<rect x="781.9" y="832.6" width="5.1" height="4.0" fill="#6f6f6f" stroke="none"/>
<rect x="959.4" y="770.5" width="5.3" height="5.1" fill="#6f6f6f" stroke="none"/>
<rect x="670.2" y="859.2" width="4.4" height="3.0" fill="#6f6f6f" stroke="none"/>
<rect x="671.5" y="790.4" width="4.0" height="4.2" fill="#6f6f6f" stroke="none"/>
<rect x="914.3" y="763.9" width="4.0" height="5.5" fill="#6f6f6f" stroke="none"/>
<rect x="924.5" y="773.1" width="3.8" height="3.4" fill="#6f6f6f" stroke="none"/>
<rect x="970.4" y="836.1" width="5.1" height="3.7" fill="#6f6f6f" stroke="none"/>
<rect x="879.9" y="814.0" width="4.2" height="3.1" fill="#6f6f6f" stroke="none"/>
<rect x="807.1" y="796.7" width="4.9" height="3.4" fill="#6f6f6f" stroke="none"/>
<rect x="963.7" y="764.7" width="4.2" height="3.0" fill="#6f6f6f" stroke="none"/>
<rect x="717.4" y="845.3" width="5.5" height="3.3" fill="#6f6f6f" stroke="none"/>
<rect x="666.0" y="775.3" width="2.8" height="3.2" fill="#6f6f6f" stroke="none"/>
<rect x="911.5" y="802.1" width="5.0" height="3.7" fill="#6f6f6f" stroke="none"/>
<rect x="863.9" y="832.7" width="5.2" height="5.2" fill="#6f6f6f" stroke="none"/>
<rect x="782.1" y="854.2" width="5.2" height="4.4" fill="#6f6f6f" stroke="none"/>
<rect x="880.3" y="823.9" width="4.2" height="3.1" fill="#6f6f6f" stroke="none"/>
<rect x="894.1" y="772.6" width="4.5" height="5.1" fill="#6f6f6f" stroke="none"/>
<rect x="977.2" y="851.2" width="3.6" height="2.8" fill="#6f6f6f" stroke="none"/>
<rect x="954.8" y="812.7" width="4.4" height="5.2" fill="#6f6f6f" stroke="none"/>
<rect x="847.9" y="839.7" width="3.7" height="4.5" fill="#6f6f6f" stroke="none"/>
<rect x="785.1" y="791.1" width="4.6" height="4.2" fill="#6f6f6f" stroke="none"/>
<rect x="748.2" y="813.2" width="4.4" height="4.7" fill="#6f6f6f" stroke="none"/>
<rect x="669.8" y="825.6" width="4.3" height="2.7" fill="#6f6f6f" stroke="none"/>
<rect x="782.8" y="820.1" width="4.9" height="3.8" fill="#6f6f6f" stroke="none"/>
<rect x="800.8" y="848.5" width="2.8" height="5.4" fill="#6f6f6f" stroke="none"/>
<rect x="904.4" y="764.5" width="4.0" height="2.5" fill="#6f6f6f" stroke="none"/>
<rect x="727.9" y="811.3" width="3.9" height="3.4" fill="#6f6f6f" stroke="none"/>
<rect x="803.8" y="766.1" width="2.5" height="4.0" fill="#6f6f6f" stroke="none"/>
<rect x="854.6" y="786.6" width="3.7" height="5.4" fill="#6f6f6f" stroke="none"/>
<rect x="666.6" y="809.8" width="5.3" height="3.5" fill="#6f6f6f" stroke="none"/>
<rect x="933.6" y="772.2" width="3.9" height="4.3" fill="#6f6f6f" stroke="none"/>
<rect x="809.0" y="854.3" width="3.6" height="3.5" fill="#6f6f6f" stroke="none"/>
<rect x="781.9" y="816.2" width="3.0" height="3.2" fill="#6f6f6f" stroke="none"/>
<rect x="739.3" y="854.1" width="4.8" height="3.1" fill="#6f6f6f" stroke="none"/>
<rect x="896.9" y="807.8" width="3.7" height="4.8" fill="#6f6f6f" stroke="none"/>
<rect x="938.9" y="803.3" width="2.8" height="2.5" fill="#6f6f6f" stroke="none"/>
<rect x="949.2" y="827.9" width="2.9" height="2.5" fill="#6f6f6f" stroke="none"/>
<rect x="762.2" y="774.7" width="3.5" height="2.5" fill="#6f6f6f" stroke="none"/>
<rect x="751.1" y="818.0" width="4.1" height="4.9" fill="#6f6f6f" stroke="none"/>
<rect x="896.7" y="855.4" width="3.5" height="5.4" fill="#6f6f6f" stroke="none"/>
<rect x="779.6" y="851.9" width="3.2" height="4.9" fill="#6f6f6f" stroke="none"/>
<rect x="934.8" y="848.0" width="4.5" height="5.5" fill="#6f6f6f" stroke="none"/>
<rect x="806.9" y="810.1" width="3.0" height="2.7" fill="#6f6f6f" stroke="none"/>
<rect x="829.6" y="763.9" width="3.4" height="3.4" fill="#6f6f6f" stroke="none"/>
<rect x="927.1" y="811.0" width="2.9" height="4.7" fill="#6f6f6f" stroke="none"/>
<rect x="863.1" y="844.9" width="3.1" height="2.6" fill="#6f6f6f" stroke="none"/>
<rect x="693.0" y="837.9" width="5.4" height="2.8" fill="#6f6f6f" stroke="none"/>
<rect x="672.5" y="763.7" width="3.2" height="5.0" fill="#6f6f6f" stroke="none"/>
<rect x="902.9" y="776.4" width="3.1" height="5.1" fill="#6f6f6f" stroke="none"/>
<rect x="775.1" y="767.9" width="3.4" height="3.4" fill="#6f6f6f" stroke="none"/>
<rect x="932.6" y="774.7" width="3.6" height="5.4" fill="#6f6f6f" stroke="none"/>
<rect x="719.3" y="766.6" width="5.3" height="3.7" fill="#6f6f6f" stroke="none"/>
<rect x="675.0" y="831.3" width="3.6" height="2.9" fill="#6f6f6f" stroke="none"/>
<rect x="773.5" y="843.5" width="4.5" height="3.2" fill="#6f6f6f" stroke="none"/>
<rect x="708.8" y="830.4" width="3.1" height="5.4" fill="#6f6f6f" stroke="none"/>
<rect x="904.4" y="818.5" width="4.6" height="3.5" fill="#6f6f6f" stroke="none"/>
<rect x="790.6" y="796.6" width="4.0" height="5.4" fill="#6f6f6f" stroke="none"/>
<rect x="716.1" y="810.3" width="3.0" height="4.8" fill="#6f6f6f" stroke="none"/>
<rect x="960.0" y="790.4" width="4.0" height="4.1" fill="#6f6f6f" stroke="none"/>
<rect x="943.5" y="836.4" width="4.5" height="3.7" fill="#6f6f6f" stroke="none"/>
<rect x="911.3" y="797.0" width="3.4" height="2.7" fill="#6f6f6f" stroke="none"/>
<rect x="914.4" y="793.8" width="4.7" height="3.2" fill="#6f6f6f" stroke="none"/>
<rect x="823.1" y="859.2" width="4.9" height="5.0" fill="#6f6f6f" stroke="none"/>
<rect x="937.6" y="838.0" width="2.8" height="5.1" fill="#6f6f6f" stroke="none"/>
<rect x="955.4" y="843.4" width="5.0" height="4.0" fill="#6f6f6f" stroke="none"/>
<rect x="740.7" y="816.0" width="5.4" height="3.6" fill="#6f6f6f" stroke="none"/>
<rect x="764.4" y="818.9" width="5.2" height="4.4" fill="#6f6f6f" stroke="none"/>
<rect x="909.9" y="762.3" width="5.2" height="3.4" fill="#6f6f6f" stroke="none"/>
<rect x="905.7" y="842.7" width="4.8" height="2.9" fill="#6f6f6f" stroke="none"/>
<rect x="928.1" y="759.7" width="5.1" height="2.9" fill="#6f6f6f" stroke="none"/>
<rect x="918.4" y="801.3" width="3.0" height="4.0" fill="#6f6f6f" stroke="none"/>
<rect x="955.9" y="799.4" width="4.1" height="5.0" fill="#6f6f6f" stroke="none"/>
<rect x="980.2" y="807.5" width="3.9" height="4.4" fill="#6f6f6f" stroke="none"/>
<rect x="793.4" y="807.0" width="4.6" height="2.8" fill="#6f6f6f" stroke="none"/>
<rect x="737.3" y="806.0" width="4.2" height="2.6" fill="#6f6f6f" stroke="none"/>
<rect x="830.1" y="850.2" width="4.9" height="2.6" fill="#6f6f6f" stroke="none"/>
<rect x="747.8" y="860.9" width="5.3" height="3.2" fill="#6f6f6f" stroke="none"/>
<rect x="781.8" y="827.8" width="3.4" height="5.1" fill="#6f6f6f" stroke="none"/>
<rect x="808.4" y="824.0" width="5.1" height="2.6" fill="#6f6f6f" stroke="none"/>
<rect x="809.2" y="786.3" width="4.5" height="4.8" fill="#6f6f6f" stroke="none"/>
<rect x="856.7" y="763.0" width="3.4" height="2.7" fill="#6f6f6f" stroke="none"/>
<rect x="667.1" y="824.8" width="4.7" height="5.2" fill="#6f6f6f" stroke="none"/>
<rect x="709.5" y="862.9" width="5.4" height="4.8" fill="#6f6f6f" stroke="none"/>
<rect x="919.9" y="802.1" width="5.4" height="4.3" fill="#6f6f6f" stroke="none"/>
<rect x="750.3" y="781.6" width="4.6" height="5.5" fill="#6f6f6f" stroke="none"/>
<rect x="896.6" y="788.7" width="3.8" height="3.9" fill="#6f6f6f" stroke="none"/>
<rect x="690.1" y="826.8" width="3.9" height="4.2" fill="#6f6f6f" stroke="none"/>
<rect x="977.9" y="863.0" width="3.8" height="3.1" fill="#6f6f6f" stroke="none"/>
<rect x="747.7" y="763.8" width="3.7" height="4.9" fill="#6f6f6f" stroke="none"/>
<rect x="808.7" y="862.2" width="4.7" height="2.8" fill="#6f6f6f" stroke="none"/>
<rect x="795.9" y="796.9" width="3.8" height="4.7" fill="#6f6f6f" stroke="none"/>
<rect x="792.6" y="818.8" width="4.8" height="4.7" fill="#6f6f6f" stroke="none"/>
<rect x="684.5" y="792.2" width="2.7" height="5.1" fill="#6f6f6f" stroke="none"/>
<rect x="762.2" y="759.9" width="4.0" height="4.7" fill="#6f6f6f" stroke="none"/>
<rect x="709.9" y="800.7" width="2.6" height="4.7" fill="#6f6f6f" stroke="none"/>
<rect x="783.2" y="787.2" width="3.6" height="3.6" fill="#6f6f6f" stroke="none"/>
<rect x="945.7" y="761.8" width="4.8" height="4.3" fill="#6f6f6f" stroke="none"/>
<rect x="748.7" y="788.8" width="5.4" height="5.4" fill="#6f6f6f" stroke="none"/>
<rect x="910.4" y="802.6" width="3.0" height="5.3" fill="#6f6f6f" stroke="none"/>
<rect x="888.6" y="759.7" width="5.4" height="4.6" fill="#6f6f6f" stroke="none"/>
<rect x="903.1" y="778.5" width="4.5" height="3.0" fill="#6f6f6f" stroke="none"/>
<rect x="873.5" y="848.8" width="4.2" height="3.9" fill="#6f6f6f" stroke="none"/>
<rect x="824.8" y="863.6" width="4.3" height="3.1" fill="#6f6f6f" stroke="none"/>
<rect x="960.2" y="825.9" width="3.9" height="5.4" fill="#6f6f6f" stroke="none"/>
<rect x="886.8" y="842.2" width="3.7" height="5.4" fill="#6f6f6f" stroke="none"/>
<rect x="880.4" y="786.2" width="4.8" height="5.3" fill="#6f6f6f" stroke="none"/>
<rect x="793.0" y="778.4" width="2.7" height="3.7" fill="#6f6f6f" stroke="none"/>
<rect x="713.8" y="785.4" width="5.3" height="4.7" fill="#6f6f6f" stroke="none"/>
<rect x="770.5" y="858.2" width="5.1" height="4.1" fill="#6f6f6f" stroke="none"/>
<rect x="870.8" y="767.5" width="5.0" height="3.4" fill="#6f6f6f" stroke="none"/>
<rect x="766.7" y="816.0" width="5.3" height="5.4" fill="#6f6f6f" stroke="none"/>
<rect x="956.0" y="851.0" width="3.9" height="5.1" fill="#6f6f6f" stroke="none"/>
<rect x="677.7" y="783.6" width="3.7" height="3.8" fill="#6f6f6f" stroke="none"/>
<rect x="924.5" y="771.7" width="2.6" height="2.7" fill="#6f6f6f" stroke="none"/>
<rect x="744.8" y="816.1" width="2.9" height="2.9" fill="#6f6f6f" stroke="none"/>
<rect x="970.3" y="839.1" width="4.5" height="3.3" fill="#6f6f6f" stroke="none"/>
<rect x="908.1" y="819.8" width="4.7" height="4.7" fill="#6f6f6f" stroke="none"/>
<rect x="710.3" y="836.5" width="2.7" height="5.0" fill="#6f6f6f" stroke="none"/>
<rect x="979.6" y="837.1" width="4.3" height="3.4" fill="#6f6f6f" stroke="none"/>
<rect x="792.0" y="785.3" width="4.2" height="5.0" fill="#6f6f6f" stroke="none"/>
<rect x="848.9" y="773.6" width="4.5" height="5.1" fill="#6f6f6f" stroke="none"/>
<rect x="687.9" y="811.6" width="5.3" height="3.6" fill="#6f6f6f" stroke="none"/>
<rect x="722.4" y="804.7" width="2.6" height="4.0" fill="#6f6f6f" stroke="none"/>
<rect x="869.4" y="846.8" width="3.9" height="3.3" fill="#6f6f6f" stroke="none"/>
<rect x="955.0" y="844.3" width="2.8" height="3.9" fill="#6f6f6f" stroke="none"/>
<rect x="805.2" y="809.8" width="3.1" height="4.4" fill="#6f6f6f" stroke="none"/>
<rect x="701.1" y="842.2" width="5.3" height="4.0" fill="#6f6f6f" stroke="none"/>
<rect x="834.3" y="810.4" width="3.1" height="3.9" fill="#6f6f6f" stroke="none"/>
<rect x="730.7" y="780.4" width="3.2" height="5.2" fill="#6f6f6f" stroke="none"/>
<rect x="703.3" y="770.1" width="3.2" height="4.7" fill="#6f6f6f" stroke="none"/>
<rect x="867.7" y="862.1" width="3.2" height="4.6" fill="#6f6f6f" stroke="none"/>
<rect x="756.2" y="856.8" width="2.5" height="5.1" fill="#6f6f6f" stroke="none"/>
<rect x="872.2" y="811.6" width="4.4" height="2.7" fill="#6f6f6f" stroke="none"/>
<rect x="700.7" y="833.9" width="3.2" height="2.7" fill="#6f6f6f" stroke="none"/>
<rect x="800.6" y="818.9" width="3.5" height="3.4" fill="#6f6f6f" stroke="none"/>
<rect x="972.7" y="821.6" width="4.1" height="4.0" fill="#6f6f6f" stroke="none"/>
<rect x="799.6" y="762.6" width="2.7" height="3.9" fill="#6f6f6f" stroke="none"/>
<rect x="767.4" y="788.8" width="5.0" height="2.8" fill="#6f6f6f" stroke="none"/>
<rect x="746.6" y="835.7" width="4.9" height="5.4" fill="#6f6f6f" stroke="none"/>
<rect x="844.1" y="779.6" width="4.9" height="3.2" fill="#6f6f6f" stroke="none"/>
<rect x="779.9" y="857.0" width="3.6" height="4.5" fill="#6f6f6f" stroke="none"/>
<rect x="814.2" y="772.5" width="3.5" height="4.0" fill="#6f6f6f" stroke="none"/>
<rect x="783.7" y="810.2" width="3.9" height="3.5" fill="#6f6f6f" stroke="none"/>
<rect x="797.9" y="771.4" width="4.7" height="3.5" fill="#6f6f6f" stroke="none"/>
<rect x="826.9" y="787.5" width="4.8" height="4.6" fill="#6f6f6f" stroke="none"/>
<rect x="879.7" y="796.1" width="2.9" height="3.1" fill="#6f6f6f" stroke="none"/>
<rect x="976.8" y="763.8" width="4.1" height="4.0" fill="#6f6f6f" stroke="none"/>
<rect x="755.9" y="814.9" width="2.8" height="4.9" fill="#6f6f6f" stroke="none"/>
<rect x="694.1" y="760.0" width="4.1" height="4.4" fill="#6f6f6f" stroke="none"/>
<rect x="978.6" y="825.1" width="5.4" height="4.9" fill="#6f6f6f" stroke="none"/>
<rect x="808.5" y="780.2" width="3.8" height="2.8" fill="#6f6f6f" stroke="none"/>
<rect x="718.9" y="791.1" width="3.9" height="2.6" fill="#6f6f6f" stroke="none"/>
<rect x="908.1" y="801.5" width="3.5" height="3.0" fill="#6f6f6f" stroke="none"/>
<rect x="781.6" y="816.5" width="3.9" height="3.9" fill="#6f6f6f" stroke="none"/>
<rect x="788.1" y="809.5" width="3.9" height="5.5" fill="#6f6f6f" stroke="none"/>
<rect x="832.4" y="827.8" width="4.9" height="4.0" fill="#6f6f6f" stroke="none"/>
<rect x="858.4" y="829.8" width="4.5" height="2.6" fill="#6f6f6f" stroke="none"/>
<rect x="943.5" y="823.2" width="2.7" height="4.3" fill="#6f6f6f" stroke="none"/>
<rect x="892.6" y="792.6" width="4.2" height="2.8" fill="#6f6f6f" stroke="none"/>
<rect x="936.9" y="799.6" width="3.4" height="3.9" fill="#6f6f6f" stroke="none"/>
<rect x="785.6" y="776.3" width="3.1" height="3.8" fill="#6f6f6f" stroke="none"/>
<rect x="743.1" y="812.3" width="4.0" height="4.6" fill="#6f6f6f" stroke="none"/>
<rect x="920.7" y="776.3" width="5.1" height="4.8" fill="#6f6f6f" stroke="none"/>
<rect x="798.4" y="826.1" width="4.9" height="2.8" fill="#6f6f6f" stroke="none"/>
<rect x="837.0" y="776.9" width="2.6" height="5.2" fill="#6f6f6f" stroke="none"/>
<rect x="954.1" y="770.5" width="3.1" height="4.7" fill="#6f6f6f" stroke="none"/>
<rect x="924.3" y="787.8" width="4.0" height="4.1" fill="#6f6f6f" stroke="none"/>
<rect x="820.5" y="782.1" width="5.3" height="5.4" fill="#6f6f6f" stroke="none"/>
<rect x="751.2" y="859.5" width="3.2" height="3.2" fill="#6f6f6f" stroke="none"/>
<rect x="824.8" y="785.5" width="3.2" height="2.7" fill="#6f6f6f" stroke="none"/>
<rect x="961.3" y="837.7" width="5.4" height="3.9" fill="#6f6f6f" stroke="none"/>
<rect x="931.6" y="837.1" width="5.0" height="3.0" fill="#6f6f6f" stroke="none"/>
<rect x="798.0" y="820.9" width="2.8" height="3.5" fill="#6f6f6f" stroke="none"/>
<rect x="771.7" y="769.3" width="3.7" height="4.1" fill="#6f6f6f" stroke="none"/>
<rect x="840.6" y="811.9" width="4.9" height="3.2" fill="#6f6f6f" stroke="none"/>
<rect x="923.5" y="849.5" width="4.2" height="3.1" fill="#6f6f6f" stroke="none"/>
<rect x="983.7" y="847.4" width="5.1" height="3.1" fill="#6f6f6f" stroke="none"/>
<rect x="772.0" y="771.2" width="3.4" height="3.4" fill="#6f6f6f" stroke="none"/>
<rect x="714.8" y="812.7" width="4.6" height="3.2" fill="#6f6f6f" stroke="none"/>
<rect x="838.4" y="789.1" width="4.0" height="2.8" fill="#6f6f6f" stroke="none"/>
<rect x="958.0" y="852.6" width="5.0" height="3.6" fill="#6f6f6f" stroke="none"/>
<rect x="790.7" y="831.8" width="4.3" height="4.8" fill="#6f6f6f" stroke="none"/>
<rect x="762.5" y="792.0" width="2.6" height="3.6" fill="#6f6f6f" stroke="none"/>
<rect x="666.0" y="773.5" width="5.2" height="5.5" fill="#6f6f6f" stroke="none"/>
<rect x="690.0" y="806.9" width="5.0" height="2.8" fill="#6f6f6f" stroke="none"/>
<rect x="979.6" y="823.2" width="4.4" height="3.7" fill="#6f6f6f" stroke="none"/>
<rect x="936.5" y="794.8" width="5.2" height="3.1" fill="#6f6f6f" stroke="none"/>
<rect x="934.0" y="779.4" width="3.2" height="3.5" fill="#6f6f6f" stroke="none"/>
<rect x="801.6" y="838.6" width="3.2" height="3.2" fill="#6f6f6f" stroke="none"/>
<rect x="744.7" y="812.0" width="2.9" height="3.8" fill="#6f6f6f" stroke="none"/>
<polygon points="656.2,539.5 664.7,533.7 670.6,534.5 676.0,537.7 675.9,546.9 675.6,554.0 667.9,555.0 658.2,551.8 656.4,547.0" fill="#f5f3b3"/>
<polygon points="665.9,564.8 664.1,559.4 664.2,555.1 669.5,551.8 676.7,551.2 679.3,558.0 678.3,562.0 671.9,566.2" fill="#b7e4c7"/>
<polygon points="856.3,573.3 846.6,563.5 848.1,555.6 855.2,552.8 864.5,555.7 869.9,562.0 863.7,572.3" fill="#f9b8d4"/>
<polygon points="860.8,576.0 862.0,572.9 865.1,571.4 868.3,573.5 868.1,577.4 864.5,579.3 862.3,578.2" fill="#fcd5b5"/>
<polygon points="917.1,563.9 909.6,571.3 903.3,571.3 898.5,563.5 900.3,558.4 905.8,554.7 913.9,556.9" fill="#cbb8e6"/>
<polygon points="924.3,540.9 935.5,549.4 933.0,558.7 924.9,563.5 916.3,557.5 913.1,548.9" fill="#f9b8d4"/>
<polygon points="958.9,562.2 951.1,566.8 943.1,562.1 943.8,554.1 952.6,550.0 958.2,554.8" fill="#f7c6e0"/>
<polygon points="964.6,559.6 965.9,563.6 965.3,567.1 960.7,568.5 957.2,566.0 956.3,562.9 959.5,560.1" fill="#c8e6a8"/>
<polygon points="780.4,596.8 779.8,590.1 783.6,586.7 790.4,587.4 792.0,593.4 786.7,598.0" fill="#fcd5b5"/>
<polygon points="731.7,590.5 732.9,588.4 737.1,588.2 738.8,589.2 740.4,591.5 739.7,594.5 737.8,596.3 734.6,596.4 732.4,594.4" fill="#c8e6a8"/>
<polygon points="666.8,647.8 661.8,649.1 654.8,645.5 653.0,634.4 656.4,630.8 666.5,631.3 670.8,637.5" fill="#b7e4c7"/>
<polygon points="668.4,640.8 665.9,634.8 672.1,627.2 677.1,627.7 683.2,633.7 681.2,638.7 675.2,641.3" fill="#cbb8e6"/>
<polygon points="663.7,650.9 666.8,647.5 670.5,649.3 671.3,652.7 669.2,655.5 664.7,653.4" fill="#fcd5b5"/>
<polygon points="746.5,647.2 750.8,646.4 754.1,649.6 753.9,651.6 752.1,654.9 749.0,656.7 745.2,654.0 744.6,649.5" fill="#fcd5b5"/>
<polygon points="695.4,635.1 697.5,637.5 696.3,641.8 692.9,641.5 690.2,639.6 691.1,635.6" fill="#c8e6a8"/>
<polygon points="924.4,651.1 910.5,649.7 905.9,639.5 909.9,636.0 919.5,630.1 926.3,635.1 930.4,643.8" fill="#ffb3ba"/>
<polygon points="977.8,657.9 969.2,659.7 963.1,652.4 962.5,647.3 969.2,638.8 974.4,636.8 984.8,643.2 985.0,648.2 982.8,656.0" fill="#b3c7ee"/>
<polygon points="964.1,628.7 965.9,626.1 969.2,625.7 970.2,626.4 972.1,628.3 970.9,630.9 968.9,632.7 966.2,631.8 965.0,631.0" fill="#f5f3b3"/>
<polygon points="978.3,607.9 974.9,610.8 970.4,611.0 968.3,605.5 972.5,602.6 976.9,603.9" fill="#fcd5b5"/>
<polygon points="851.8,650.6 849.2,646.9 850.5,643.9 854.2,641.2 857.6,642.8 859.1,646.4 858.4,648.8 855.2,650.2" fill="#fcd5b5"/>
<polygon points="856.0,650.3 858.5,649.5 861.9,651.0 862.0,654.1 858.1,656.2 855.0,655.4 854.7,653.4" fill="#c8e6a8"/>
<polygon points="750.9,682.4 746.8,678.2 749.3,670.3 756.5,668.7 761.2,675.0 758.6,683.0" fill="#f9b8d4"/>
<polygon points="749.1,697.9 753.2,694.7 760.5,696.1 763.2,706.8 760.5,710.5 748.8,713.0 747.0,706.7" fill="#fcd5b5"/>
<polygon points="768.3,695.3 762.4,701.3 756.2,699.3 753.4,695.5 754.4,689.8 760.6,686.4 768.1,689.8" fill="#b5e5e0"/>
<polygon points="777.6,698.4 770.8,697.6 767.1,695.6 765.6,689.0 770.3,683.2 778.8,683.5 782.7,686.9 784.0,691.1 782.3,697.0" fill="#c8e6a8"/>
<polygon points="789.0,725.0 781.0,724.4 777.6,721.1 774.5,715.8 775.9,707.0 780.3,703.5 791.9,705.0 795.2,707.8 793.0,719.2" fill="#cbb8e6"/>
<polygon points="784.1,706.5 783.6,704.1 785.2,700.8 788.3,699.6 792.9,701.5 793.7,704.5 791.9,706.8 787.7,708.0" fill="#f5f3b3"/>
<polygon points="762.8,708.1 761.2,704.8 762.9,703.1 766.3,700.2 768.5,701.9 770.4,703.6 770.9,705.8 767.9,709.3 764.1,710.1" fill="#b7e4c7"/>
<polygon points="776.4,702.5 776.3,704.4 775.0,706.6 771.9,707.3 770.2,707.3 769.1,703.4 769.8,702.4 772.9,700.1 774.0,700.9" fill="#a8dcf5"/>
<polygon points="718.0,713.9 721.4,712.1 726.9,717.0 728.7,724.1 720.3,728.3 715.0,725.0 711.6,719.9" fill="#b5e5e0"/>
<polygon points="839.6,733.1 839.9,723.3 849.8,714.1 858.1,719.6 864.6,730.4 860.2,737.2 849.0,738.3" fill="#d5e8b0"/>
<polygon points="875.9,720.6 880.6,720.9 881.3,729.7 879.4,737.8 872.7,740.8 863.4,740.7 860.5,735.3 861.1,721.9 863.9,720.4" fill="#fcd5b5"/>
<polygon points="821.9,747.7 815.9,745.3 812.8,737.9 813.9,734.2 822.9,731.8 827.7,735.3 826.4,741.2" fill="#cbb8e6"/>
<polygon points="830.2,742.9 832.7,751.4 830.4,754.6 824.2,757.0 820.0,754.5 818.9,746.2 820.1,742.9 826.8,740.1" fill="#a8dcf5"/>
<polygon points="969.9,688.6 964.4,690.3 960.0,689.0 958.7,680.8 964.2,678.3 970.5,679.8" fill="#f5f3b3"/>
<polygon points="976.4,684.5 974.7,685.8 971.2,686.3 970.2,684.0 970.2,680.6 973.8,679.6 975.6,680.5" fill="#cbb8e6"/>
<polygon points="708.7,785.0 714.2,786.3 716.5,793.8 712.2,800.0 707.0,801.8 700.2,801.6 697.7,794.6 697.6,789.3 699.4,785.4" fill="#f5f3b3"/>
<polygon points="776.7,816.6 773.9,819.2 766.2,818.0 763.8,815.1 762.9,808.3 769.2,803.9 777.0,807.1" fill="#c8e6a8"/>
<polygon points="692.6,849.5 687.9,847.1 682.8,837.9 685.2,833.4 693.6,831.2 701.1,834.0 703.3,839.2 699.5,845.7" fill="#ffb3ba"/>
<polygon points="702.3,852.5 702.3,857.5 696.3,858.9 692.7,856.7 690.2,851.9 694.2,847.6 701.4,847.8" fill="#b3c7ee"/>
<polygon points="691.6,850.0 686.3,850.5 683.4,842.9 686.6,840.3 692.7,841.0 695.1,845.9" fill="#fcd5b5"/>
<polygon points="764.6,850.2 771.2,850.9 774.4,860.6 772.3,862.3 765.5,867.2 759.6,865.1 756.5,863.9 756.4,854.7 761.6,849.6" fill="#b5e5e0"/>
<polygon points="744.3,743.6 746.6,741.1 750.4,741.8 751.9,743.7 751.8,747.9 748.8,750.7 745.3,749.6 743.3,747.8" fill="#fcd5b5"/>
<polygon points="888.9,820.4 884.5,821.3 879.4,821.4 875.5,815.4 875.3,810.0 879.6,805.8 886.2,807.1 889.4,812.2" fill="#fcd5b5"/>
<polygon points="889.6,792.4 894.3,792.4 895.3,795.1 894.3,798.1 891.2,799.2 888.7,795.9" fill="#cbb8e6"/>
<polygon points="815.2,769.2 815.1,771.6 814.9,775.3 812.0,776.0 808.6,775.6 806.4,774.4 805.7,770.7 808.6,768.5 812.4,767.8" fill="#f5f3b3"/>
<polygon points="813.9,797.2 813.6,800.2 809.5,802.1 807.2,800.6 807.6,797.9 808.9,794.7 813.1,795.6" fill="#cbb8e6"/>
<polygon points="878.2,787.4 877.9,784.1 879.4,782.6 882.0,780.9 885.4,783.6 884.7,786.0 884.1,788.6 881.0,789.0" fill="#f9b8d4"/>
<polygon points="927.1,761.9 928.7,758.8 932.8,758.4 933.9,759.6 934.7,762.3 932.2,764.7 928.5,764.1" fill="#f9b8d4"/>
<polygon points="891.1,843.9 890.1,849.5 886.2,849.8 883.3,847.3 882.1,845.3 884.2,842.2 889.6,841.9" fill="#c8e6a8"/>
<polygon points="1208.2,527.7 1219.2,528.8 1232.3,544.9 1231.6,556.9 1216.3,570.3 1197.2,560.7 1188.5,540.1" fill="#b3c7ee"/>
<polygon points="1228.3,548.4 1229.0,539.9 1240.5,540.8 1243.6,545.4 1239.7,553.2 1230.3,552.0" fill="#b5e5e0"/>
<polygon points="1218.0,555.1 1227.3,557.6 1239.7,566.0 1235.6,580.8 1219.8,582.3 1211.6,569.5" fill="#c8e6a8"/>
<polygon points="1198.5,576.0 1191.2,577.1 1187.3,569.1 1186.2,562.1 1195.8,557.1 1203.5,559.6 1205.7,565.4 1202.4,572.8" fill="#f5f3b3"/>
<polygon points="1192.2,592.3 1191.7,580.0 1199.1,574.6 1211.9,577.3 1212.1,587.9 1205.5,595.2" fill="#b5e5e0"/>
<polygon points="1206.0,587.6 1212.6,580.1 1220.1,584.7 1221.4,590.5 1216.7,597.5 1208.6,593.1" fill="#e0c8e8"/>
<polygon points="1213.3,600.9 1218.1,593.1 1229.2,583.1 1239.1,582.2 1256.3,593.7 1254.5,609.8 1246.7,612.7 1232.0,622.3 1224.9,616.6" fill="#b5e5e0"/>
<polygon points="1281.2,547.9 1285.9,560.9 1284.2,572.7 1271.3,585.1 1259.4,576.5 1253.1,572.7 1257.4,551.6 1269.1,548.4" fill="#f9b8d4"/>
<polygon points="1282.0,549.6 1273.3,556.8 1262.3,552.1 1258.3,542.6 1265.0,531.8 1275.9,531.3 1280.6,536.9" fill="#b5e5e0"/>
<polygon points="1289.8,572.1 1287.4,585.5 1274.9,592.1 1266.2,589.2 1266.8,574.9 1272.4,569.0 1282.3,568.0" fill="#a7d8a8"/>
<polygon points="1264.6,587.2 1275.1,592.3 1280.5,600.4 1272.8,613.9 1264.1,619.5 1251.9,610.8 1255.5,595.7" fill="#d5e8b0"/>
<polygon points="1277.4,614.3 1272.1,608.5 1270.6,603.8 1273.9,594.7 1285.9,593.2 1292.9,597.6 1294.8,606.9 1287.2,615.2" fill="#b3c7ee"/>
<polygon points="1285.5,590.9 1288.4,584.7 1297.6,584.3 1300.1,590.6 1296.1,597.5 1287.3,598.2" fill="#a8dcf5"/>
<polygon points="1290.2,546.0 1305.5,539.0 1312.9,544.7 1319.8,552.2 1321.7,566.8 1310.0,576.5 1301.5,573.1 1289.5,565.1 1287.6,560.7" fill="#cbb8e6"/>
<polygon points="1321.1,547.7 1317.6,550.5 1310.5,551.4 1306.1,544.7 1308.3,537.0 1313.0,536.3 1320.2,539.1" fill="#c8e6a8"/>
<polygon points="1346.8,555.6 1342.9,565.9 1337.1,569.9 1328.7,568.2 1324.6,562.6 1327.4,551.7 1329.2,548.0 1340.4,548.4" fill="#f5f3b3"/>
<polygon points="1360.5,539.7 1364.3,545.4 1360.3,550.6 1355.4,552.4 1350.5,551.3 1348.3,543.0 1350.9,538.8 1356.7,536.6" fill="#d5e8b0"/>
<polygon points="1384.1,557.7 1376.2,562.9 1365.0,559.4 1360.9,550.9 1366.8,539.6 1377.4,534.9 1386.9,546.5" fill="#a7d8a8"/>
<polygon points="1421.9,577.5 1403.0,584.8 1386.0,577.2 1382.0,554.6 1392.1,540.4 1406.3,532.5 1418.2,539.0 1428.7,558.8" fill="#cbb8e6"/>
<polygon points="1330.6,564.4 1344.1,567.0 1347.9,577.4 1336.2,592.3 1327.3,586.5 1320.8,577.2" fill="#a8dcf5"/>
<polygon points="1364.8,580.1 1355.8,583.7 1348.3,586.3 1342.3,578.8 1339.2,571.5 1342.3,564.0 1352.3,560.0 1364.2,564.3 1364.7,573.0" fill="#e0c8e8"/>
<polygon points="1345.0,602.5 1339.4,599.4 1337.2,586.4 1341.1,581.8 1355.1,582.8 1358.4,592.1 1358.0,599.2" fill="#e0c8e8"/>
<polygon points="1366.7,592.4 1365.3,581.6 1367.7,574.9 1375.2,574.5 1384.5,581.6 1385.1,588.7 1377.2,597.1 1369.6,594.6" fill="#f9b8d4"/>
<polygon points="1367.3,598.0 1382.4,583.9 1391.6,587.7 1404.7,595.1 1406.5,608.1 1389.0,620.0 1379.5,619.8 1371.6,607.3" fill="#f9b8d4"/>
<polygon points="1352.3,604.5 1358.9,597.9 1364.8,596.6 1373.8,606.0 1377.1,610.3 1371.5,621.7 1367.8,624.7 1358.7,622.4 1350.3,614.2" fill="#fcd5b5"/>
<polygon points="1404.7,605.7 1407.4,608.1 1407.7,611.5 1405.1,615.1 1400.2,615.7 1397.9,613.3 1398.3,610.0 1401.6,606.5" fill="#b5e5e0"/>
<polygon points="1380.5,615.5 1390.3,627.4 1386.2,639.1 1375.1,643.9 1362.5,634.9 1366.3,622.4" fill="#d5e8b0"/>
<polygon points="1363.9,624.6 1365.3,630.8 1362.1,633.2 1358.1,634.8 1352.7,632.3 1353.0,625.8 1355.7,623.5" fill="#f5f3b3"/>
<polygon points="1309.1,603.8 1327.0,610.5 1327.6,625.0 1310.2,639.5 1298.1,631.8 1295.6,615.7" fill="#d5e8b0"/>
<polygon points="1237.2,639.5 1234.7,631.1 1240.2,613.2 1248.7,609.9 1264.6,616.7 1270.0,630.6 1271.1,638.1 1261.9,649.6 1250.7,649.9" fill="#b7e4c7"/>
<polygon points="1251.8,667.0 1233.8,651.1 1238.5,629.9 1257.3,631.6 1268.0,637.6 1265.0,662.7" fill="#f5f3b3"/>
<polygon points="1249.3,656.2 1254.2,653.5 1262.2,654.5 1265.2,659.4 1264.4,667.9 1254.4,671.4 1251.1,670.6 1246.6,661.9" fill="#e0c8e8"/>
<polygon points="1256.7,704.0 1242.9,701.2 1234.3,686.3 1238.7,664.4 1250.8,659.3 1264.7,663.1 1277.1,680.6 1266.8,698.1" fill="#ffb3ba"/>
<polygon points="1291.0,646.7 1301.9,641.9 1316.7,649.7 1314.7,665.1 1306.2,674.2 1287.5,668.6 1280.2,658.3" fill="#cbb8e6"/>
<polygon points="1303.1,647.6 1313.3,643.0 1322.1,652.8 1323.4,662.5 1320.7,667.0 1309.9,667.9 1301.8,663.4 1300.3,652.0" fill="#e0c8e8"/>
<polygon points="1292.0,671.4 1295.9,675.8 1292.8,683.0 1287.9,683.4 1282.0,680.4 1283.1,674.7 1287.7,671.2" fill="#f5f3b3"/>
<polygon points="1359.5,666.9 1348.0,670.5 1337.7,667.0 1329.3,654.9 1336.4,644.9 1344.5,641.4 1357.7,642.3 1363.4,656.3" fill="#b7e4c7"/>
<polygon points="1374.1,669.8 1367.5,682.2 1359.0,687.0 1345.6,678.7 1344.2,665.9 1351.0,660.5 1367.8,659.8" fill="#a7d8a8"/>
<polygon points="1408.3,682.3 1396.6,688.4 1386.3,682.1 1380.4,670.4 1390.3,660.4 1407.7,657.2 1412.2,667.7" fill="#cbb8e6"/>
<polygon points="1418.0,688.3 1410.5,698.2 1401.2,698.8 1397.5,693.8 1396.2,682.5 1401.9,677.0 1411.7,678.5" fill="#ffb3ba"/>
<polygon points="1391.8,694.7 1395.8,693.0 1402.1,695.0 1404.0,699.5 1401.9,702.9 1397.3,705.3 1392.4,701.1" fill="#a7d8a8"/>
<polygon points="1103.6,574.6 1101.7,556.9 1116.5,548.2 1132.0,556.6 1132.4,572.0 1118.1,585.6" fill="#d5e8b0"/>
<polygon points="1148.2,575.7 1139.3,581.6 1133.7,582.7 1129.0,575.2 1129.9,566.4 1132.8,564.4 1142.6,564.0 1148.2,569.7" fill="#ffb3ba"/>
<polygon points="1148.7,555.3 1142.6,556.7 1137.7,554.8 1135.1,545.4 1140.6,542.2 1146.1,542.4 1151.7,548.5" fill="#fcd5b5"/>
<polygon points="1150.0,558.4 1149.2,555.2 1150.8,552.1 1154.1,550.8 1156.8,552.0 1157.9,554.2 1158.6,556.8 1157.3,559.7 1153.3,561.2" fill="#f9b8d4"/>
<polygon points="1130.3,594.1 1125.1,599.6 1113.2,605.2 1107.6,606.8 1100.3,598.9 1099.7,580.8 1106.2,577.3 1121.7,573.1 1128.5,580.8" fill="#cbb8e6"/>
<polygon points="1144.0,584.1 1158.0,610.8 1140.9,627.8 1124.0,625.6 1109.4,603.3 1119.7,585.1" fill="#b5e5e0"/>
<polygon points="1098.2,565.0 1105.0,566.6 1108.5,570.0 1110.3,574.6 1104.6,580.1 1099.8,581.7 1096.6,578.5 1093.0,572.6 1094.3,568.5" fill="#fcd5b5"/>
<polygon points="1101.5,610.4 1103.4,609.1 1110.6,610.0 1112.2,615.3 1110.5,619.0 1106.2,621.2 1101.1,618.7 1099.0,614.7" fill="#c6d2f0"/>
<polygon points="1186.9,652.2 1158.2,651.7 1144.2,626.4 1163.2,597.1 1190.7,608.8 1197.6,636.9" fill="#d5e8b0"/>
<polygon points="1120.8,643.3 1115.9,652.3 1099.9,653.4 1092.3,648.4 1091.1,637.6 1098.4,625.4 1104.3,624.5 1119.2,630.1" fill="#d5e8b0"/>
<polygon points="1108.4,650.1 1115.0,650.2 1119.1,658.4 1112.7,667.0 1105.2,664.6 1100.6,656.6" fill="#c8e6a8"/>
<polygon points="1117.6,682.0 1112.4,685.4 1104.3,680.4 1104.3,671.7 1110.8,668.5 1117.0,670.9" fill="#fcd5b5"/>
<polygon points="1133.5,658.5 1132.4,655.8 1133.5,651.1 1137.8,651.0 1139.9,650.9 1141.4,656.5 1139.9,659.4 1135.7,660.4" fill="#cbb8e6"/>
<polygon points="1149.3,659.1 1165.1,650.5 1178.8,660.1 1174.8,679.6 1154.9,687.8 1145.6,675.5" fill="#f5f3b3"/>
<polygon points="1163.5,682.8 1156.0,675.8 1161.2,666.7 1164.4,661.1 1178.6,658.8 1180.5,662.8 1184.9,669.8 1183.2,684.7 1175.3,685.8" fill="#f5f3b3"/>
<polygon points="1178.0,681.6 1186.0,690.1 1181.9,699.5 1175.4,704.7 1164.7,706.2 1162.0,702.0 1160.3,692.0 1163.5,686.2 1171.7,679.3" fill="#e0c8e8"/>
<polygon points="1187.8,696.3 1195.8,689.8 1206.5,693.6 1212.4,706.3 1204.8,715.4 1192.5,714.4 1184.3,704.0" fill="#b3c7ee"/>
<polygon points="1164.2,733.1 1154.3,717.7 1161.9,696.1 1181.4,692.5 1194.7,704.0 1197.5,726.7 1179.7,740.8" fill="#b7e4c7"/>
<polygon points="1150.3,695.5 1145.9,697.7 1141.3,695.9 1138.7,689.9 1142.8,686.0 1146.6,685.2 1149.7,685.6 1153.4,690.8" fill="#c8e6a8"/>
<polygon points="1147.3,735.5 1139.2,736.8 1129.8,729.6 1130.6,719.4 1139.2,715.1 1148.9,719.1 1150.2,725.8" fill="#b7e4c7"/>
<polygon points="1145.7,735.5 1159.5,734.0 1165.8,744.6 1166.3,753.0 1155.9,758.3 1144.3,753.2 1140.9,742.4" fill="#c8e6a8"/>
<polygon points="1175.9,727.4 1204.7,732.0 1221.9,749.7 1207.5,768.3 1178.6,774.2 1170.5,748.5" fill="#b7e4c7"/>
<polygon points="1146.3,745.9 1160.5,755.7 1163.7,772.6 1150.5,786.7 1130.6,785.1 1125.1,777.2 1124.1,760.5 1136.7,744.9" fill="#ffb3ba"/>
<polygon points="1189.2,765.0 1200.3,758.7 1213.9,770.0 1210.0,790.9 1193.9,795.5 1180.8,785.8" fill="#b3c7ee"/>
<polygon points="1227.0,790.1 1213.0,783.1 1211.2,771.9 1225.9,763.9 1235.5,768.4 1236.0,786.1" fill="#f9b8d4"/>
<polygon points="1238.2,741.7 1241.1,749.2 1238.6,755.3 1231.3,756.9 1225.3,752.3 1224.0,746.2 1228.0,742.1 1234.1,740.0" fill="#f5f3b3"/>
<polygon points="1237.5,732.7 1224.4,730.6 1215.6,726.0 1212.5,718.3 1221.6,704.1 1226.7,703.4 1239.2,705.4 1245.4,715.5 1243.4,725.7" fill="#c6d2f0"/>
<polygon points="1250.3,725.5 1243.7,721.6 1242.2,716.6 1245.9,708.2 1255.1,707.8 1260.4,713.3 1259.8,721.5 1256.5,725.2" fill="#e0c8e8"/>
<polygon points="1260.7,710.1 1270.2,710.9 1279.5,712.4 1280.2,721.4 1279.7,728.3 1272.3,733.3 1266.2,735.0 1257.5,731.4 1256.3,723.7" fill="#fcd5b5"/>
<polygon points="1288.5,693.9 1318.3,697.2 1322.5,732.0 1307.3,742.0 1276.5,735.2 1273.8,707.9" fill="#e0c8e8"/>
<polygon points="1309.9,714.5 1301.9,710.1 1303.1,700.8 1309.7,689.9 1318.9,691.3 1325.3,700.8 1324.8,706.5 1317.5,717.1" fill="#a8dcf5"/>
<polygon points="1326.1,709.9 1321.0,705.1 1323.2,697.0 1330.6,693.5 1334.6,695.3 1337.1,702.4 1333.4,708.4" fill="#f9b8d4"/>
<polygon points="1330.3,724.7 1323.5,726.0 1317.7,717.3 1320.8,708.2 1330.0,708.5 1335.4,718.1" fill="#b7e4c7"/>
<polygon points="1306.6,735.2 1315.9,728.3 1322.9,730.0 1327.9,744.4 1320.9,749.9 1310.3,750.6 1306.4,743.7" fill="#f5f3b3"/>
<polygon points="1305.1,739.3 1304.9,754.2 1297.3,755.7 1285.8,754.8 1277.9,749.3 1277.7,737.4 1292.0,729.3 1298.3,731.4" fill="#b5e5e0"/>
<polygon points="1319.2,747.9 1328.7,755.5 1329.8,769.7 1316.9,780.6 1308.8,785.3 1295.9,772.3 1294.8,758.4 1304.1,749.3" fill="#d5e8b0"/>
<polygon points="1288.3,753.0 1296.2,768.0 1295.9,780.7 1281.3,784.0 1270.3,777.3 1267.4,767.6 1273.2,756.3" fill="#a7d8a8"/>
<polygon points="1337.5,759.7 1348.3,770.1 1351.5,778.7 1347.8,788.1 1334.6,792.0 1322.1,790.8 1317.8,777.2 1325.8,765.0" fill="#f7c6e0"/>
<polygon points="1349.7,802.5 1341.5,792.7 1342.6,779.4 1351.6,771.6 1366.6,779.0 1371.4,789.5 1363.5,798.5" fill="#a7d8a8"/>
<polygon points="1400.9,790.3 1386.4,808.5 1375.8,810.7 1362.3,799.8 1361.6,777.5 1367.8,771.7 1383.0,764.6 1394.4,777.8" fill="#f9b8d4"/>
<polygon points="1364.0,750.2 1381.8,752.6 1383.9,764.0 1374.8,775.6 1363.3,771.9 1359.0,761.7" fill="#fcd5b5"/>
<polygon points="1397.2,750.8 1406.3,757.6 1405.5,769.7 1392.3,773.9 1380.6,763.7 1385.5,753.7" fill="#f9b8d4"/>
<polygon points="1393.2,770.2 1401.4,762.1 1406.4,760.7 1416.9,766.0 1415.7,775.3 1410.8,780.6 1402.9,781.8 1395.1,778.4" fill="#f7c6e0"/>
<polygon points="1396.5,705.7 1407.7,713.6 1412.8,724.1 1406.4,730.5 1400.3,738.3 1384.3,735.5 1379.0,727.0 1378.1,717.7 1387.9,705.3" fill="#d5e8b0"/>
<polygon points="1365.9,722.8 1372.8,718.2 1381.5,722.0 1384.3,725.4 1383.4,733.4 1378.7,740.1 1371.2,741.9 1366.3,740.3 1361.5,727.8" fill="#a7d8a8"/>
<polygon points="1385.9,750.5 1377.8,748.9 1375.0,742.6 1375.9,735.2 1384.5,730.5 1392.7,730.6 1396.3,737.6 1394.7,746.9" fill="#b7e4c7"/>
<polygon points="1387.2,744.3 1390.9,747.2 1392.5,752.1 1386.8,759.0 1381.1,759.8 1372.4,756.7 1373.3,749.8 1376.2,744.7 1379.0,741.0" fill="#c6d2f0"/>
<polygon points="1363.3,732.5 1367.4,736.0 1364.9,743.5 1360.9,744.1 1355.4,742.2 1355.5,735.8 1359.7,731.2" fill="#f7c6e0"/>
<polygon points="1322.2,793.7 1323.7,785.0 1334.7,780.0 1341.3,779.3 1345.7,790.6 1346.3,799.0 1341.2,804.2 1328.8,804.8" fill="#ffb3ba"/>
<polygon points="1245.7,785.2 1261.2,778.5 1282.2,789.8 1280.9,813.5 1264.2,825.8 1251.3,820.3 1242.1,808.7" fill="#b3c7ee"/>
<polygon points="1282.4,779.5 1292.0,785.5 1294.0,792.7 1290.4,799.9 1277.9,798.4 1274.7,790.3 1277.6,786.2" fill="#f7c6e0"/>
<polygon points="1231.1,797.1 1241.9,797.9 1245.7,803.5 1239.6,813.8 1230.8,816.0 1225.1,810.7 1225.8,802.2" fill="#f9b8d4"/>
<polygon points="1266.0,828.4 1255.4,835.7 1243.8,830.2 1241.3,822.6 1249.3,809.6 1257.4,812.3 1266.6,820.4" fill="#b7e4c7"/>
<polygon points="1267.2,837.4 1268.6,828.8 1279.2,827.2 1281.8,832.3 1279.2,842.3 1270.6,841.2" fill="#a8dcf5"/>
<polygon points="1390.1,837.7 1374.4,838.3 1365.5,823.6 1369.2,807.6 1383.3,804.9 1395.7,809.1 1401.3,825.6" fill="#f5f3b3"/>
<polygon points="1393.2,798.0 1407.9,799.4 1414.8,817.9 1401.2,827.4 1393.3,823.4 1384.2,806.9" fill="#ffb3ba"/>
<polygon points="1368.0,820.4 1370.4,825.3 1361.8,832.1 1351.5,831.4 1348.0,825.8 1346.6,816.3 1353.2,811.9 1364.0,810.7" fill="#a8dcf5"/>
<polygon points="1352.6,857.1 1354.9,841.6 1363.6,836.9 1370.8,836.4 1383.2,848.8 1382.7,858.8 1375.0,865.6 1358.5,865.1" fill="#b5e5e0"/>
<polygon points="1386.2,830.1 1391.5,835.6 1390.5,843.6 1384.9,848.7 1377.8,849.2 1373.8,843.5 1372.3,836.0 1378.1,832.4" fill="#a7d8a8"/>
<polygon points="1392.9,845.5 1402.2,837.6 1412.1,833.8 1422.7,847.9 1423.3,853.4 1418.7,869.8 1412.4,872.9 1397.3,865.5 1389.5,854.7" fill="#cbb8e6"/>
<polygon points="1329.7,837.7 1333.1,833.6 1342.4,834.3 1344.1,841.4 1342.5,847.4 1333.0,846.1" fill="#ffb3ba"/>
<polygon points="1098.2,793.9 1106.7,785.9 1113.3,787.2 1119.2,796.1 1109.8,805.7 1101.2,803.8" fill="#b7e4c7"/>
<polygon points="1105.0,798.0 1119.0,797.4 1135.5,805.6 1139.4,819.4 1124.0,837.0 1107.7,835.8 1097.3,830.8 1096.6,806.6" fill="#c6d2f0"/>
<polygon points="1126.2,819.8 1132.0,823.1 1134.4,831.6 1127.3,835.5 1120.5,834.0 1117.8,823.5" fill="#b3c7ee"/>
<polygon points="1160.6,782.9 1164.3,794.9 1153.6,807.1 1142.8,810.8 1130.1,793.7 1133.9,785.1 1142.6,778.9" fill="#e0c8e8"/>
<polygon points="1170.0,809.5 1162.1,813.7 1154.7,810.1 1153.0,800.1 1158.7,795.5 1164.2,793.1 1171.3,803.1" fill="#a8dcf5"/>
<polygon points="1150.3,829.8 1151.7,812.5 1165.0,804.2 1177.1,813.6 1178.1,829.7 1163.0,838.6" fill="#a7d8a8"/>
<polygon points="1172.7,815.5 1170.4,809.1 1176.4,803.8 1182.6,801.7 1185.3,803.8 1188.9,810.4 1186.2,818.1 1184.2,819.9 1176.3,821.2" fill="#e0c8e8"/>
<polygon points="1132.0,832.0 1143.0,829.4 1147.1,836.1 1143.0,847.2 1136.7,847.3 1129.4,841.0" fill="#b5e5e0"/>
<polygon points="1146.9,848.2 1141.3,844.6 1140.7,840.1 1144.4,832.1 1147.9,831.1 1154.3,835.3 1157.4,840.8 1156.3,845.0 1150.9,848.1" fill="#a8dcf5"/>
<polygon points="1141.0,844.8 1143.2,854.2 1141.4,859.0 1132.3,861.4 1124.8,858.0 1120.0,850.0 1121.6,844.6 1128.1,840.4 1138.8,840.1" fill="#d5e8b0"/>
<polygon points="1155.3,845.4 1164.7,844.4 1168.5,847.4 1167.9,857.2 1158.6,859.0 1153.5,853.2" fill="#f9b8d4"/>
<polygon points="1180.4,868.0 1167.7,870.5 1162.3,859.7 1164.3,848.2 1179.5,842.3 1186.5,848.8 1190.0,862.5" fill="#cbb8e6"/>
<polygon points="1167.5,846.0 1164.4,843.6 1164.4,836.8 1166.5,834.3 1174.2,835.0 1175.2,840.3 1174.6,844.2" fill="#f5f3b3"/>
<polygon points="1182.2,840.2 1190.6,835.9 1196.4,836.4 1197.5,848.1 1191.8,849.9 1184.8,848.3" fill="#fcd5b5"/>
<polygon points="1203.3,840.7 1201.6,838.8 1202.6,834.8 1206.3,833.1 1208.8,833.6 1210.9,837.6 1211.1,840.3 1206.5,842.2" fill="#a7d8a8"/>
<polygon points="1099.9,697.8 1101.1,700.2 1101.8,702.3 1098.8,705.2 1096.1,705.1 1093.9,702.6 1094.4,699.8 1096.0,697.9" fill="#f9b8d4"/>
<polygon points="1326.2,601.0 1324.1,597.3 1326.8,592.7 1331.3,592.2 1334.6,596.9 1331.5,600.4" fill="#b5e5e0"/>
<rect x="1360.1" y="730.2" width="3.4" height="4.5" fill="#6f6f6f" stroke="none"/>
<rect x="1149.9" y="804.3" width="4.8" height="3.1" fill="#6f6f6f" stroke="none"/>
<rect x="1274.9" y="828.9" width="4.1" height="3.7" fill="#6f6f6f" stroke="none"/>
<rect x="1166.5" y="765.5" width="4.5" height="5.4" fill="#6f6f6f" stroke="none"/>
<rect x="1295.3" y="838.9" width="4.8" height="4.8" fill="#6f6f6f" stroke="none"/>
<rect x="1410.7" y="623.1" width="2.6" height="5.5" fill="#6f6f6f" stroke="none"/>
<rect x="1374.6" y="568.7" width="2.9" height="4.6" fill="#6f6f6f" stroke="none"/>
<rect x="1356.2" y="854.2" width="4.0" height="2.8" fill="#6f6f6f" stroke="none"/>
<rect x="1329.0" y="643.1" width="3.5" height="3.1" fill="#6f6f6f" stroke="none"/>
<rect x="1236.6" y="794.9" width="3.4" height="5.2" fill="#6f6f6f" stroke="none"/>
<rect x="1282.4" y="659.9" width="5.2" height="3.6" fill="#6f6f6f" stroke="none"/>
<rect x="1238.1" y="667.2" width="3.0" height="3.1" fill="#6f6f6f" stroke="none"/>
<rect x="1370.8" y="624.0" width="3.9" height="3.8" fill="#6f6f6f" stroke="none"/>
<rect x="1347.0" y="563.5" width="5.5" height="4.1" fill="#6f6f6f" stroke="none"/>
<rect x="1194.6" y="652.3" width="3.6" height="3.7" fill="#6f6f6f" stroke="none"/>
<rect x="1136.9" y="601.5" width="3.9" height="3.7" fill="#6f6f6f" stroke="none"/>
<rect x="1166.7" y="589.2" width="3.6" height="2.9" fill="#6f6f6f" stroke="none"/>
<rect x="1235.4" y="826.2" width="3.8" height="4.5" fill="#6f6f6f" stroke="none"/>
<rect x="1357.8" y="800.9" width="3.6" height="3.2" fill="#6f6f6f" stroke="none"/>
<rect x="1161.6" y="642.5" width="3.0" height="4.3" fill="#6f6f6f" stroke="none"/>
<rect x="1157.6" y="593.1" width="4.6" height="5.4" fill="#6f6f6f" stroke="none"/>
<rect x="1160.1" y="660.7" width="5.2" height="3.2" fill="#6f6f6f" stroke="none"/>
<rect x="1137.3" y="823.1" width="5.2" height="4.3" fill="#6f6f6f" stroke="none"/>
<rect x="1365.1" y="694.7" width="4.1" height="3.6" fill="#6f6f6f" stroke="none"/>
<rect x="1204.4" y="652.8" width="4.8" height="3.5" fill="#6f6f6f" stroke="none"/>
<rect x="1126.0" y="571.1" width="3.1" height="4.6" fill="#6f6f6f" stroke="none"/>
<rect x="1367.9" y="804.6" width="5.4" height="5.4" fill="#6f6f6f" stroke="none"/>
<rect x="1289.3" y="755.4" width="4.1" height="2.6" fill="#6f6f6f" stroke="none"/>
<rect x="1391.1" y="584.4" width="4.0" height="3.8" fill="#6f6f6f" stroke="none"/>
<rect x="1222.5" y="850.1" width="3.7" height="3.6" fill="#6f6f6f" stroke="none"/>
<rect x="1585.1" y="603.7" width="4.0" height="4.8" fill="#6f6f6f" stroke="none"/>
<rect x="1582.1" y="601.5" width="4.2" height="3.8" fill="#6f6f6f" stroke="none"/>
<rect x="1665.2" y="616.2" width="2.8" height="5.4" fill="#6f6f6f" stroke="none"/>
<rect x="1511.6" y="629.5" width="5.4" height="4.5" fill="#6f6f6f" stroke="none"/>
<rect x="1549.2" y="580.0" width="2.7" height="2.7" fill="#6f6f6f" stroke="none"/>
<rect x="1543.5" y="584.9" width="4.0" height="4.9" fill="#6f6f6f" stroke="none"/>
<rect x="1731.1" y="560.4" width="5.3" height="2.9" fill="#6f6f6f" stroke="none"/>
<rect x="1534.2" y="591.6" width="4.2" height="4.5" fill="#6f6f6f" stroke="none"/>
<rect x="1650.0" y="578.7" width="5.3" height="3.6" fill="#6f6f6f" stroke="none"/>
<rect x="1680.6" y="556.1" width="3.4" height="4.2" fill="#6f6f6f" stroke="none"/>
<rect x="1511.7" y="552.8" width="4.4" height="3.6" fill="#6f6f6f" stroke="none"/>
<rect x="1815.1" y="579.8" width="5.3" height="5.3" fill="#6f6f6f" stroke="none"/>
<rect x="1676.3" y="577.4" width="4.6" height="4.6" fill="#6f6f6f" stroke="none"/>
<rect x="1707.9" y="572.5" width="4.2" height="3.8" fill="#6f6f6f" stroke="none"/>
<rect x="1672.5" y="544.9" width="3.0" height="5.1" fill="#6f6f6f" stroke="none"/>
<rect x="1509.1" y="571.3" width="5.1" height="5.2" fill="#6f6f6f" stroke="none"/>
<rect x="1823.3" y="587.1" width="4.8" height="3.9" fill="#6f6f6f" stroke="none"/>
<rect x="1733.7" y="592.4" width="3.9" height="4.2" fill="#6f6f6f" stroke="none"/>
<rect x="1616.7" y="552.9" width="4.1" height="3.8" fill="#6f6f6f" stroke="none"/>
<rect x="1593.7" y="540.4" width="2.6" height="5.4" fill="#6f6f6f" stroke="none"/>
<rect x="1699.7" y="603.4" width="5.3" height="4.8" fill="#6f6f6f" stroke="none"/>
<rect x="1586.0" y="581.6" width="5.3" height="5.4" fill="#6f6f6f" stroke="none"/>
<rect x="1678.6" y="583.8" width="5.0" height="5.0" fill="#6f6f6f" stroke="none"/>
<rect x="1539.8" y="574.6" width="2.8" height="4.7" fill="#6f6f6f" stroke="none"/>
<rect x="1616.6" y="619.0" width="5.3" height="5.1" fill="#6f6f6f" stroke="none"/>
<rect x="1509.7" y="596.9" width="3.6" height="3.8" fill="#6f6f6f" stroke="none"/>
<rect x="1738.5" y="575.6" width="4.1" height="5.0" fill="#6f6f6f" stroke="none"/>
<rect x="1559.0" y="553.9" width="3.2" height="4.1" fill="#6f6f6f" stroke="none"/>
<rect x="1806.6" y="628.8" width="3.6" height="4.3" fill="#6f6f6f" stroke="none"/>
<rect x="1624.9" y="596.2" width="2.6" height="5.0" fill="#6f6f6f" stroke="none"/>
<rect x="1532.4" y="619.0" width="4.2" height="5.3" fill="#6f6f6f" stroke="none"/>
<rect x="1567.9" y="581.9" width="2.8" height="5.1" fill="#6f6f6f" stroke="none"/>
<rect x="1786.1" y="571.5" width="4.3" height="3.6" fill="#6f6f6f" stroke="none"/>
<rect x="1605.4" y="568.3" width="3.1" height="5.0" fill="#6f6f6f" stroke="none"/>
<rect x="1779.1" y="583.9" width="4.6" height="4.8" fill="#6f6f6f" stroke="none"/>
<rect x="1701.5" y="555.5" width="3.0" height="4.5" fill="#6f6f6f" stroke="none"/>
<rect x="1575.7" y="581.4" width="4.9" height="3.2" fill="#6f6f6f" stroke="none"/>
<rect x="1780.3" y="628.4" width="5.0" height="2.7" fill="#6f6f6f" stroke="none"/>
<rect x="1543.2" y="570.4" width="5.2" height="3.4" fill="#6f6f6f" stroke="none"/>
<rect x="1576.3" y="544.2" width="4.2" height="3.8" fill="#6f6f6f" stroke="none"/>
<rect x="1762.7" y="565.4" width="4.9" height="4.5" fill="#6f6f6f" stroke="none"/>
<rect x="1724.7" y="543.5" width="3.4" height="3.8" fill="#6f6f6f" stroke="none"/>
<rect x="1612.5" y="563.4" width="4.6" height="4.5" fill="#6f6f6f" stroke="none"/>
<rect x="1600.3" y="580.8" width="5.1" height="3.9" fill="#6f6f6f" stroke="none"/>
<rect x="1583.2" y="611.8" width="3.1" height="4.4" fill="#6f6f6f" stroke="none"/>
<rect x="1623.5" y="549.4" width="4.7" height="4.9" fill="#6f6f6f" stroke="none"/>
<rect x="1559.9" y="568.0" width="4.1" height="3.6" fill="#6f6f6f" stroke="none"/>
<rect x="1680.0" y="573.2" width="4.9" height="3.2" fill="#6f6f6f" stroke="none"/>
<rect x="1745.3" y="601.5" width="3.5" height="3.0" fill="#6f6f6f" stroke="none"/>
<rect x="1566.2" y="605.7" width="3.0" height="4.0" fill="#6f6f6f" stroke="none"/>
<rect x="1787.4" y="539.5" width="2.6" height="5.2" fill="#6f6f6f" stroke="none"/>
<rect x="1698.9" y="554.8" width="4.7" height="4.1" fill="#6f6f6f" stroke="none"/>
<rect x="1582.5" y="605.5" width="4.2" height="4.4" fill="#6f6f6f" stroke="none"/>
<rect x="1596.9" y="595.4" width="4.2" height="5.4" fill="#6f6f6f" stroke="none"/>
<rect x="1771.6" y="588.0" width="4.1" height="3.9" fill="#6f6f6f" stroke="none"/>
<rect x="1577.8" y="541.5" width="4.6" height="2.8" fill="#6f6f6f" stroke="none"/>
<rect x="1613.0" y="573.8" width="2.9" height="5.1" fill="#6f6f6f" stroke="none"/>
<rect x="1546.4" y="547.7" width="5.3" height="3.6" fill="#6f6f6f" stroke="none"/>
<rect x="1587.5" y="546.1" width="5.4" height="5.5" fill="#6f6f6f" stroke="none"/>
<rect x="1540.0" y="605.7" width="3.9" height="3.0" fill="#6f6f6f" stroke="none"/>
<rect x="1724.1" y="576.5" width="2.9" height="5.2" fill="#6f6f6f" stroke="none"/>
<rect x="1580.0" y="579.8" width="3.6" height="2.9" fill="#6f6f6f" stroke="none"/>
<rect x="1570.2" y="565.7" width="3.7" height="2.9" fill="#6f6f6f" stroke="none"/>
<rect x="1546.9" y="598.6" width="4.7" height="3.6" fill="#6f6f6f" stroke="none"/>
<rect x="1721.2" y="551.0" width="5.2" height="2.7" fill="#6f6f6f" stroke="none"/>
<rect x="1528.4" y="611.4" width="3.1" height="2.9" fill="#6f6f6f" stroke="none"/>
<rect x="1567.1" y="560.6" width="4.3" height="4.4" fill="#6f6f6f" stroke="none"/>
<rect x="1662.4" y="626.8" width="5.4" height="4.6" fill="#6f6f6f" stroke="none"/>
<rect x="1592.5" y="576.5" width="3.6" height="5.5" fill="#6f6f6f" stroke="none"/>
<rect x="1582.3" y="630.3" width="3.4" height="3.4" fill="#6f6f6f" stroke="none"/>
<rect x="1766.7" y="545.0" width="4.3" height="5.0" fill="#6f6f6f" stroke="none"/>
<rect x="1817.2" y="541.8" width="4.7" height="5.2" fill="#6f6f6f" stroke="none"/>
<rect x="1822.6" y="605.7" width="3.6" height="3.1" fill="#6f6f6f" stroke="none"/>
<rect x="1562.7" y="569.1" width="4.0" height="4.4" fill="#6f6f6f" stroke="none"/>
<rect x="1527.7" y="604.8" width="5.3" height="5.3" fill="#6f6f6f" stroke="none"/>
<rect x="1570.7" y="546.9" width="2.7" height="3.8" fill="#6f6f6f" stroke="none"/>
<rect x="1653.1" y="612.9" width="4.2" height="5.4" fill="#6f6f6f" stroke="none"/>
<rect x="1685.4" y="546.7" width="4.6" height="5.0" fill="#6f6f6f" stroke="none"/>
<rect x="1594.0" y="555.9" width="3.9" height="3.2" fill="#6f6f6f" stroke="none"/>
<rect x="1794.5" y="598.6" width="3.5" height="4.1" fill="#6f6f6f" stroke="none"/>
<rect x="1821.6" y="569.5" width="5.1" height="2.5" fill="#6f6f6f" stroke="none"/>
<rect x="1806.5" y="608.9" width="4.4" height="4.9" fill="#6f6f6f" stroke="none"/>
<rect x="1632.6" y="617.9" width="5.3" height="5.0" fill="#6f6f6f" stroke="none"/>
<rect x="1547.7" y="617.7" width="3.3" height="2.7" fill="#6f6f6f" stroke="none"/>
<rect x="1755.0" y="622.2" width="3.0" height="2.5" fill="#6f6f6f" stroke="none"/>
<rect x="1734.9" y="583.5" width="4.1" height="2.5" fill="#6f6f6f" stroke="none"/>
<rect x="1554.4" y="540.1" width="4.1" height="5.3" fill="#6f6f6f" stroke="none"/>
<rect x="1532.0" y="588.9" width="4.0" height="2.9" fill="#6f6f6f" stroke="none"/>
<rect x="1606.5" y="590.1" width="3.6" height="3.9" fill="#6f6f6f" stroke="none"/>
<rect x="1611.7" y="554.5" width="5.4" height="4.0" fill="#6f6f6f" stroke="none"/>
<rect x="1555.6" y="689.7" width="4.5" height="3.7" fill="#6f6f6f" stroke="none"/>
<rect x="1598.1" y="692.8" width="2.8" height="4.2" fill="#6f6f6f" stroke="none"/>
<rect x="1606.8" y="653.2" width="4.1" height="4.9" fill="#6f6f6f" stroke="none"/>
<rect x="1580.3" y="644.9" width="4.2" height="2.8" fill="#6f6f6f" stroke="none"/>
<rect x="1631.6" y="673.7" width="3.6" height="5.4" fill="#6f6f6f" stroke="none"/>
<rect x="1526.9" y="685.6" width="5.2" height="3.4" fill="#6f6f6f" stroke="none"/>
<rect x="1653.8" y="650.4" width="4.9" height="4.7" fill="#6f6f6f" stroke="none"/>
<rect x="1651.9" y="634.3" width="3.3" height="3.1" fill="#6f6f6f" stroke="none"/>
<rect x="1594.5" y="647.8" width="3.9" height="3.6" fill="#6f6f6f" stroke="none"/>
<rect x="1610.4" y="632.3" width="4.2" height="4.9" fill="#6f6f6f" stroke="none"/>
<rect x="1620.6" y="694.1" width="2.9" height="3.9" fill="#6f6f6f" stroke="none"/>
<rect x="1559.2" y="686.2" width="5.4" height="3.9" fill="#6f6f6f" stroke="none"/>
<rect x="1634.4" y="670.2" width="4.0" height="2.8" fill="#6f6f6f" stroke="none"/>
<rect x="1600.9" y="633.2" width="3.5" height="4.8" fill="#6f6f6f" stroke="none"/>
<rect x="1545.4" y="688.6" width="5.4" height="4.3" fill="#6f6f6f" stroke="none"/>
<rect x="1534.5" y="676.5" width="2.7" height="3.7" fill="#6f6f6f" stroke="none"/>
<rect x="1658.8" y="659.1" width="5.4" height="4.3" fill="#6f6f6f" stroke="none"/>
<rect x="1512.9" y="694.9" width="2.7" height="2.8" fill="#6f6f6f" stroke="none"/>
<rect x="1650.7" y="659.2" width="4.3" height="5.4" fill="#6f6f6f" stroke="none"/>
<rect x="1599.9" y="674.5" width="4.5" height="4.6" fill="#6f6f6f" stroke="none"/>
<rect x="1612.7" y="652.8" width="5.2" height="4.3" fill="#6f6f6f" stroke="none"/>
<rect x="1586.3" y="665.4" width="2.6" height="5.0" fill="#6f6f6f" stroke="none"/>
<rect x="1626.2" y="642.5" width="3.7" height="4.0" fill="#6f6f6f" stroke="none"/>
<rect x="1609.3" y="691.4" width="4.0" height="3.5" fill="#6f6f6f" stroke="none"/>
<rect x="1632.5" y="632.6" width="5.1" height="2.7" fill="#6f6f6f" stroke="none"/>
<rect x="1615.4" y="677.6" width="3.4" height="5.4" fill="#6f6f6f" stroke="none"/>
<rect x="1527.4" y="631.7" width="4.2" height="4.9" fill="#6f6f6f" stroke="none"/>
<rect x="1582.8" y="684.7" width="3.2" height="4.5" fill="#6f6f6f" stroke="none"/>
<rect x="1629.2" y="657.4" width="4.4" height="3.9" fill="#6f6f6f" stroke="none"/>
<rect x="1652.8" y="672.0" width="3.4" height="3.5" fill="#6f6f6f" stroke="none"/>
<rect x="1529.1" y="687.1" width="5.3" height="4.2" fill="#6f6f6f" stroke="none"/>
<rect x="1573.4" y="695.1" width="5.3" height="4.9" fill="#6f6f6f" stroke="none"/>
<rect x="1651.1" y="670.7" width="4.6" height="4.2" fill="#6f6f6f" stroke="none"/>
<rect x="1588.6" y="688.2" width="4.6" height="5.0" fill="#6f6f6f" stroke="none"/>
<rect x="1640.7" y="639.0" width="4.4" height="3.0" fill="#6f6f6f" stroke="none"/>
<rect x="1648.6" y="659.7" width="4.2" height="2.8" fill="#6f6f6f" stroke="none"/>
<rect x="1612.2" y="641.5" width="5.2" height="4.4" fill="#6f6f6f" stroke="none"/>
<rect x="1659.5" y="693.4" width="3.8" height="4.6" fill="#6f6f6f" stroke="none"/>
<rect x="1634.9" y="678.5" width="4.6" height="4.4" fill="#6f6f6f" stroke="none"/>
<rect x="1652.4" y="660.9" width="5.4" height="3.2" fill="#6f6f6f" stroke="none"/>
<rect x="1517.2" y="694.1" width="4.8" height="5.1" fill="#6f6f6f" stroke="none"/>
<rect x="1522.4" y="659.2" width="5.3" height="3.4" fill="#6f6f6f" stroke="none"/>
<rect x="1535.0" y="638.3" width="4.7" height="3.5" fill="#6f6f6f" stroke="none"/>
<rect x="1630.9" y="674.4" width="3.7" height="4.0" fill="#6f6f6f" stroke="none"/>
<rect x="1596.3" y="659.0" width="3.3" height="5.4" fill="#6f6f6f" stroke="none"/>
<rect x="1513.0" y="647.8" width="4.5" height="4.6" fill="#6f6f6f" stroke="none"/>
<rect x="1635.8" y="642.2" width="4.2" height="5.1" fill="#6f6f6f" stroke="none"/>
<rect x="1532.1" y="645.0" width="4.0" height="4.3" fill="#6f6f6f" stroke="none"/>
<rect x="1622.2" y="670.9" width="2.8" height="3.4" fill="#6f6f6f" stroke="none"/>
<rect x="1533.4" y="638.4" width="3.2" height="2.7" fill="#6f6f6f" stroke="none"/>
<polygon points="1509.5,521.8 1522.6,515.3 1540.8,516.0 1551.3,542.1 1543.9,554.1 1521.9,554.4 1509.1,546.6" fill="#b7e4c7"/>
<polygon points="1498.1,563.5 1511.5,544.7 1529.5,544.4 1540.9,567.0 1525.1,584.3 1502.1,583.6" fill="#e0c8e8"/>
<polygon points="1523.8,571.0 1528.8,564.4 1541.3,564.2 1545.8,573.4 1543.7,579.8 1537.8,586.9 1529.5,583.8 1523.6,576.4" fill="#cbb8e6"/>
<polygon points="1568.5,554.8 1551.4,544.1 1551.5,527.9 1572.7,516.3 1589.6,530.5 1585.5,551.2" fill="#f5f3b3"/>
<polygon points="1582.7,551.8 1583.7,546.8 1588.8,541.0 1593.7,541.6 1596.7,546.9 1597.0,550.2 1593.6,556.5 1588.4,558.3 1582.5,554.6" fill="#b5e5e0"/>
<polygon points="1607.7,547.3 1606.8,552.6 1601.3,557.5 1593.1,557.1 1589.8,551.4 1589.6,547.2 1593.4,541.7 1599.2,539.6 1606.9,542.2" fill="#cbb8e6"/>
<polygon points="1644.7,527.4 1666.0,519.6 1676.0,529.8 1671.2,545.0 1653.3,555.9 1638.7,542.5" fill="#f9b8d4"/>
<polygon points="1646.9,553.4 1648.4,548.6 1654.3,547.1 1659.4,549.5 1659.7,555.2 1653.9,559.2 1649.6,557.3" fill="#e0c8e8"/>
<polygon points="1714.8,538.3 1710.4,545.9 1702.2,551.1 1688.5,543.4 1687.7,536.8 1689.5,525.1 1700.2,520.5 1709.2,524.4" fill="#c8e6a8"/>
<polygon points="1720.7,544.9 1741.1,546.5 1740.6,572.4 1725.4,582.2 1706.8,570.0 1703.5,551.6" fill="#d5e8b0"/>
<polygon points="1726.0,595.6 1711.9,603.5 1703.9,603.5 1694.8,596.4 1692.8,587.0 1692.8,576.0 1705.7,571.2 1716.3,569.8 1722.7,578.0" fill="#d5e8b0"/>
<polygon points="1693.0,566.9 1692.3,564.9 1693.1,559.4 1694.4,557.7 1699.3,557.6 1702.1,558.9 1704.7,562.9 1702.5,567.1 1698.5,569.6" fill="#a8dcf5"/>
<polygon points="1690.3,573.4 1686.8,571.2 1687.8,562.4 1690.7,559.2 1698.7,559.6 1700.0,563.5 1700.4,568.2 1697.8,574.4" fill="#b3c7ee"/>
<polygon points="1738.3,555.2 1741.4,559.6 1741.4,563.9 1737.2,567.0 1731.3,567.7 1730.5,564.2 1728.5,559.3 1733.2,556.3" fill="#fcd5b5"/>
<polygon points="1762.3,550.1 1758.4,542.3 1763.8,525.4 1776.9,523.9 1787.0,532.3 1789.8,545.0 1785.6,552.2 1770.0,555.9" fill="#ffb3ba"/>
<polygon points="1789.0,542.7 1786.1,546.2 1779.9,543.1 1778.4,539.4 1781.0,534.4 1784.8,532.6 1789.5,537.4" fill="#f7c6e0"/>
<polygon points="1641.7,585.6 1628.8,588.8 1614.3,580.8 1613.3,571.7 1618.7,554.3 1622.7,551.2 1640.5,549.3 1649.4,562.2 1646.3,575.8" fill="#c6d2f0"/>
<polygon points="1612.1,581.3 1611.4,574.1 1615.1,568.1 1623.7,570.6 1626.6,575.1 1625.1,580.1 1616.4,584.3" fill="#b5e5e0"/>
<polygon points="1626.5,601.2 1627.7,594.6 1634.0,590.0 1641.2,593.4 1641.6,602.7 1635.5,605.0" fill="#f9b8d4"/>
<polygon points="1597.1,594.0 1601.5,582.6 1608.9,579.3 1622.6,588.6 1624.9,600.5 1617.4,609.9 1606.2,608.7" fill="#c8e6a8"/>
<polygon points="1597.0,592.4 1595.4,583.6 1602.0,579.5 1608.3,580.6 1610.7,587.5 1603.9,594.6" fill="#e0c8e8"/>
<polygon points="1550.5,598.9 1554.5,593.5 1558.9,589.1 1569.0,592.5 1571.7,598.6 1570.3,603.3 1566.1,608.6 1558.2,607.6 1552.6,604.8" fill="#e0c8e8"/>
<polygon points="1564.7,602.3 1563.5,609.8 1557.2,611.5 1553.4,608.2 1554.3,602.4 1558.0,600.5" fill="#b3c7ee"/>
<polygon points="1785.0,611.6 1783.5,616.3 1771.8,617.5 1761.8,612.2 1760.6,605.0 1762.7,594.4 1772.5,591.8 1780.4,589.6 1785.1,598.8" fill="#a8dcf5"/>
<polygon points="1774.9,594.4 1786.7,592.6 1796.7,600.7 1795.1,610.1 1785.2,618.2 1771.9,610.3" fill="#a8dcf5"/>
<polygon points="1810.4,629.3 1788.8,628.1 1785.4,610.9 1788.8,600.8 1806.3,602.1 1814.9,619.2" fill="#f5f3b3"/>
<polygon points="1832.6,613.1 1831.6,619.6 1823.2,626.9 1811.2,623.7 1806.9,607.7 1816.1,601.8 1827.2,600.0" fill="#ffb3ba"/>
<polygon points="1806.8,622.4 1810.2,614.6 1817.9,612.8 1826.8,617.3 1832.4,629.5 1823.1,639.0 1818.6,639.9 1807.7,634.9" fill="#c8e6a8"/>
<polygon points="1802.7,635.0 1795.9,639.0 1789.6,638.6 1786.6,633.0 1789.6,623.4 1797.0,623.1 1800.8,625.7" fill="#d5e8b0"/>
<polygon points="1805.0,599.5 1800.2,592.1 1802.3,584.6 1811.9,585.3 1815.1,590.3 1812.8,597.6" fill="#c6d2f0"/>
<polygon points="1791.8,591.1 1788.7,595.4 1781.8,594.5 1780.3,591.5 1780.2,586.8 1785.0,583.1 1790.5,585.1" fill="#b7e4c7"/>
<polygon points="1730.7,617.3 1726.8,629.5 1712.5,642.7 1693.1,637.6 1675.3,619.2 1683.7,601.1 1702.3,588.2 1722.2,592.8" fill="#e0c8e8"/>
<polygon points="1527.1,585.3 1529.7,587.5 1529.3,590.9 1525.6,593.8 1523.4,593.9 1520.2,591.6 1520.3,588.7 1521.7,584.4 1525.0,584.1" fill="#b3c7ee"/>
<polygon points="1521.5,626.5 1521.8,623.1 1524.5,620.4 1529.2,620.6 1533.9,623.5 1532.4,630.1 1529.9,631.2 1522.4,631.2" fill="#f5f3b3"/>
<polygon points="1544.1,629.3 1543.9,633.2 1539.3,636.7 1535.9,636.7 1533.4,635.6 1530.8,630.7 1532.3,628.1 1537.0,625.5 1541.7,624.8" fill="#c8e6a8"/>
<polygon points="1596.5,637.1 1580.1,646.1 1569.7,637.0 1568.0,622.4 1579.1,608.7 1599.2,617.2" fill="#f7c6e0"/>
<polygon points="1611.1,644.6 1599.9,646.1 1593.7,634.0 1598.8,622.5 1610.5,621.8 1618.8,630.3 1616.6,641.2" fill="#b7e4c7"/>
<polygon points="1618.8,622.7 1624.1,620.4 1635.5,624.4 1635.3,633.2 1630.2,639.8 1622.1,641.7 1613.4,632.2" fill="#e0c8e8"/>
<polygon points="1680.9,635.7 1675.5,651.6 1668.7,656.5 1652.8,657.1 1641.2,646.0 1639.3,627.5 1654.1,613.6 1666.0,613.7 1677.2,625.1" fill="#fcd5b5"/>
<polygon points="1708.0,651.8 1702.1,667.8 1689.9,666.4 1678.3,661.1 1675.0,647.2 1688.1,635.7 1705.1,636.8" fill="#f5f3b3"/>
<polygon points="1749.3,643.9 1728.1,670.3 1706.1,660.4 1696.7,635.5 1712.9,620.1 1736.7,619.2" fill="#a8dcf5"/>
<polygon points="1756.8,627.1 1764.0,639.9 1758.1,647.9 1745.4,647.0 1742.4,637.5 1746.4,626.8" fill="#b7e4c7"/>
<polygon points="1738.2,670.4 1735.8,664.5 1737.6,652.7 1743.0,647.9 1753.3,649.0 1759.5,656.8 1757.5,668.1 1751.5,671.5" fill="#f9b8d4"/>
<polygon points="1789.6,677.7 1777.5,684.5 1766.6,689.2 1757.8,683.6 1751.1,674.6 1756.6,661.8 1771.2,650.7 1777.6,653.1 1787.9,668.4" fill="#a8dcf5"/>
<polygon points="1825.9,666.8 1829.0,689.2 1817.1,706.1 1798.2,704.0 1787.0,697.4 1790.7,672.2 1809.8,658.5" fill="#b5e5e0"/>
<polygon points="1556.4,631.9 1573.2,631.2 1584.5,643.2 1583.7,666.2 1556.8,665.6 1544.4,651.7" fill="#b7e4c7"/>
<polygon points="1537.9,661.1 1537.7,652.4 1542.2,648.6 1547.1,649.4 1551.6,653.4 1554.4,658.1 1552.3,663.5 1544.9,665.0 1541.8,663.8" fill="#d5e8b0"/>
<polygon points="1554.8,677.8 1547.0,681.4 1542.0,677.5 1538.0,672.5 1542.0,663.4 1544.8,661.2 1554.2,662.3 1557.2,665.3 1557.5,676.1" fill="#a8dcf5"/>
<polygon points="1531.9,639.8 1535.9,640.4 1539.4,645.6 1536.4,651.9 1530.8,653.7 1526.5,650.0 1526.7,643.8" fill="#cbb8e6"/>
<polygon points="1612.5,658.2 1623.6,644.1 1642.9,647.8 1647.0,667.6 1631.7,680.6 1619.8,676.1" fill="#f9b8d4"/>
<polygon points="1635.7,678.4 1634.8,691.7 1626.1,700.3 1616.8,701.5 1604.3,693.6 1601.3,683.7 1603.8,675.4 1618.3,668.1 1627.1,669.5" fill="#b5e5e0"/>
<polygon points="1589.9,684.3 1597.9,675.3 1603.7,674.8 1611.1,681.6 1607.7,691.7 1597.9,691.5" fill="#cbb8e6"/>
<polygon points="1707.8,657.3 1718.9,657.3 1727.9,667.8 1728.8,681.8 1712.1,697.2 1701.1,693.4 1692.4,684.0 1690.0,672.6 1693.5,659.3" fill="#d5e8b0"/>
<polygon points="1692.9,685.4 1696.7,688.1 1696.7,699.0 1689.5,703.9 1679.3,704.4 1673.6,703.1 1673.2,690.6 1676.7,684.0 1685.7,681.3" fill="#b3c7ee"/>
<polygon points="1709.9,710.3 1700.3,714.2 1690.5,712.3 1684.4,703.2 1688.4,689.7 1696.1,686.7 1709.4,688.0 1710.6,697.8" fill="#cbb8e6"/>
<polygon points="1713.0,722.0 1702.6,727.2 1692.1,727.9 1685.9,717.4 1686.2,705.6 1695.1,700.3 1708.9,703.1 1716.2,711.5" fill="#c8e6a8"/>
<polygon points="1664.8,718.3 1667.0,709.8 1674.4,706.5 1683.3,710.7 1681.9,719.3 1677.6,722.7 1668.1,723.5" fill="#cbb8e6"/>
<polygon points="1668.5,699.6 1667.2,717.4 1655.4,732.9 1632.3,721.5 1633.6,702.7 1646.4,689.5" fill="#f5f3b3"/>
<polygon points="1617.5,697.8 1624.1,692.7 1632.4,692.8 1636.5,701.4 1634.1,709.4 1624.5,712.2 1618.7,704.3" fill="#a8dcf5"/>
<polygon points="1596.6,701.8 1604.2,696.5 1609.9,701.8 1610.3,708.7 1601.0,712.9 1595.6,706.1" fill="#ffb3ba"/>
<polygon points="1559.5,708.0 1553.9,696.1 1554.0,683.5 1574.4,669.4 1592.6,678.3 1602.3,694.3 1594.7,712.4 1582.0,712.8" fill="#b5e5e0"/>
<polygon points="1529.8,688.7 1521.2,698.8 1511.3,704.3 1501.1,699.2 1495.4,692.3 1498.1,680.8 1511.9,671.3 1521.8,679.3" fill="#b5e5e0"/>
<polygon points="1588.1,715.3 1599.9,713.7 1618.6,719.6 1621.5,731.4 1615.3,746.0 1602.2,749.5 1589.4,746.4 1581.1,731.4" fill="#f5f3b3"/>
<polygon points="1582.2,716.7 1590.5,726.6 1592.1,735.8 1584.6,747.1 1571.8,747.3 1559.9,737.5 1557.8,727.1 1563.6,719.5 1577.6,713.4" fill="#fcd5b5"/>
<polygon points="1588.8,725.8 1580.7,717.4 1583.2,706.2 1591.3,705.3 1599.6,713.3 1595.5,723.6" fill="#b5e5e0"/>
<polygon points="1718.6,748.1 1713.9,754.2 1697.4,753.8 1695.5,743.2 1693.5,732.9 1698.9,730.1 1709.6,727.7 1716.2,730.9 1722.4,742.6" fill="#ffb3ba"/>
<polygon points="1681.6,736.3 1677.0,745.9 1667.5,753.3 1658.1,742.4 1657.2,730.6 1674.5,725.4" fill="#b3c7ee"/>
<polygon points="1672.4,725.8 1675.4,723.6 1680.8,722.8 1686.0,728.9 1687.3,732.4 1684.6,737.2 1676.8,738.3 1672.1,735.0 1670.2,732.3" fill="#a7d8a8"/>
<polygon points="1726.1,716.7 1724.4,711.2 1724.8,707.7 1726.2,703.0 1733.2,701.5 1737.6,703.9 1738.2,707.6 1737.2,715.3 1734.5,717.0" fill="#b5e5e0"/>
<polygon points="1754.5,690.9 1775.0,688.5 1794.1,699.5 1795.0,730.8 1778.2,748.4 1753.6,748.7 1739.3,733.4 1732.9,714.6" fill="#b7e4c7"/>
<polygon points="1788.0,705.3 1787.5,713.2 1786.5,719.9 1777.2,724.7 1767.6,720.1 1763.7,716.8 1764.6,708.7 1772.8,699.7 1779.3,698.7" fill="#a8dcf5"/>
<polygon points="1751.3,745.6 1741.9,750.4 1733.4,751.0 1727.4,748.5 1722.8,739.2 1728.8,725.6 1737.0,721.8 1746.0,727.3 1750.8,737.1" fill="#e0c8e8"/>
<polygon points="1775.4,733.1 1780.3,725.3 1791.1,719.2 1799.5,726.0 1803.0,737.9 1793.4,743.5 1784.7,745.8" fill="#b7e4c7"/>
<polygon points="1511.5,753.9 1506.7,740.6 1520.9,712.9 1539.8,714.6 1557.8,734.1 1560.8,750.5 1533.7,762.3" fill="#f9b8d4"/>
<polygon points="1548.9,760.4 1563.2,740.1 1583.2,734.1 1592.8,754.0 1581.5,780.1 1566.4,779.6" fill="#cbb8e6"/>
<polygon points="1527.4,761.1 1514.1,774.7 1493.6,771.5 1487.7,754.7 1499.6,741.0 1520.8,742.5" fill="#b7e4c7"/>
<polygon points="1509.0,775.0 1508.8,763.5 1508.9,755.6 1521.5,751.6 1532.4,757.0 1535.4,760.9 1534.9,774.5 1523.8,779.6" fill="#b5e5e0"/>
<polygon points="1646.2,759.7 1628.6,775.2 1612.3,773.8 1606.5,762.2 1605.9,745.8 1613.5,740.1 1628.7,735.1 1639.6,744.3" fill="#a8dcf5"/>
<polygon points="1656.5,755.7 1665.0,766.5 1654.2,785.2 1640.8,782.2 1632.8,773.9 1642.5,755.4" fill="#fcd5b5"/>
<polygon points="1706.8,759.3 1706.7,783.0 1694.0,789.8 1681.9,792.4 1664.5,778.5 1665.4,764.0 1674.9,749.4 1697.0,751.2" fill="#cbb8e6"/>
<polygon points="1675.1,789.0 1672.9,783.6 1675.1,779.1 1681.3,778.5 1684.8,783.1 1685.0,786.2 1679.1,790.4" fill="#a8dcf5"/>
<polygon points="1713.0,759.8 1719.4,764.9 1723.9,772.6 1719.0,783.6 1707.8,783.3 1702.1,775.2 1702.8,767.6" fill="#f9b8d4"/>
<polygon points="1766.1,795.7 1747.7,790.2 1745.2,781.8 1749.5,764.6 1764.6,757.8 1776.2,773.6 1775.8,785.7" fill="#cbb8e6"/>
<polygon points="1793.0,732.8 1807.8,743.1 1818.1,753.3 1814.6,768.3 1794.7,778.9 1786.6,773.0 1771.6,758.4 1779.2,745.2" fill="#c6d2f0"/>
<polygon points="1813.6,789.5 1806.0,786.4 1802.4,781.1 1803.5,770.5 1810.1,767.9 1818.4,767.7 1822.2,773.8 1820.6,785.2" fill="#d5e8b0"/>
<polygon points="1784.5,803.6 1781.4,793.5 1785.3,785.8 1800.2,778.0 1808.4,779.2 1814.5,793.1 1816.9,802.9 1807.2,812.6 1794.4,811.8" fill="#f7c6e0"/>
<polygon points="1821.2,801.0 1807.3,801.0 1803.5,787.5 1812.4,775.2 1821.0,774.1 1830.3,782.4 1828.4,795.2" fill="#cbb8e6"/>
<polygon points="1513.3,808.5 1494.6,809.0 1486.6,787.1 1501.9,774.7 1513.1,773.3 1526.5,786.0 1521.7,805.6" fill="#d5e8b0"/>
<polygon points="1542.7,820.5 1522.5,819.0 1519.9,791.4 1533.2,779.1 1557.9,789.1 1558.5,811.3" fill="#f9b8d4"/>
<polygon points="1544.0,792.6 1555.9,768.7 1576.0,769.6 1585.6,779.1 1593.7,794.8 1582.4,808.3 1560.9,809.7 1555.3,805.5" fill="#f5f3b3"/>
<polygon points="1534.5,803.7 1535.1,815.0 1523.5,828.3 1511.6,821.9 1509.0,812.2 1517.2,802.1" fill="#c8e6a8"/>
<polygon points="1599.9,799.9 1584.4,787.6 1585.7,774.8 1605.2,766.3 1618.5,765.4 1622.4,778.8 1620.4,793.3 1616.2,802.0" fill="#f7c6e0"/>
<polygon points="1620.9,791.4 1630.7,793.7 1633.2,798.1 1630.2,805.4 1622.1,806.7 1616.8,804.0 1617.0,796.8" fill="#cbb8e6"/>
<polygon points="1645.9,817.3 1638.0,813.7 1627.7,800.3 1639.8,784.7 1654.0,782.2 1666.3,794.6 1664.4,808.7" fill="#a8dcf5"/>
<polygon points="1686.9,811.4 1681.2,817.2 1670.8,821.2 1657.5,815.9 1657.3,803.9 1660.4,795.0 1668.7,790.5 1674.8,793.6 1682.5,801.1" fill="#c8e6a8"/>
<polygon points="1681.6,810.5 1676.5,802.9 1686.5,791.4 1697.2,789.6 1706.1,798.4 1706.4,810.3 1698.0,818.9 1685.5,817.8" fill="#d5e8b0"/>
<polygon points="1717.9,823.6 1701.3,808.6 1700.4,796.2 1711.2,783.3 1724.6,779.9 1741.9,788.6 1745.0,807.9 1734.6,820.5" fill="#d5e8b0"/>
<polygon points="1697.2,816.5 1700.7,811.4 1707.8,810.8 1715.3,817.2 1713.4,823.3 1710.8,829.0 1702.1,829.0 1696.9,821.8" fill="#b7e4c7"/>
<polygon points="1764.2,795.0 1765.0,798.6 1761.6,811.9 1756.5,813.7 1747.2,815.5 1739.3,808.6 1740.7,795.6 1744.1,790.3 1754.6,786.7" fill="#b5e5e0"/>
<polygon points="1767.2,801.5 1779.7,801.3 1787.6,807.8 1787.3,823.6 1773.0,827.5 1758.5,821.3 1761.5,811.1" fill="#b3c7ee"/>
<polygon points="1774.8,829.5 1776.6,824.1 1778.2,816.1 1786.5,812.2 1793.7,817.2 1797.5,827.2 1796.9,830.8 1789.2,836.5 1782.8,835.5" fill="#a8dcf5"/>
<polygon points="1789.2,812.7 1796.4,807.5 1807.8,807.3 1813.4,823.9 1808.6,830.3 1795.5,832.5 1788.0,822.3" fill="#f5f3b3"/>
<polygon points="1827.8,820.3 1823.5,823.7 1815.4,821.8 1812.0,819.8 1812.9,814.0 1820.0,808.4 1824.0,810.1 1829.6,816.9" fill="#f7c6e0"/>
<polygon points="1495.9,863.1 1488.8,849.0 1499.3,829.2 1511.4,824.1 1526.0,831.9 1530.6,852.2 1521.3,863.1" fill="#b7e4c7"/>
<polygon points="1504.5,829.7 1508.8,822.4 1514.9,822.4 1527.8,826.4 1530.9,831.8 1527.9,843.2 1517.5,845.9 1509.8,844.8 1502.7,838.2" fill="#fcd5b5"/>
<polygon points="1552.4,863.7 1546.9,867.3 1535.3,863.9 1526.8,857.1 1529.5,850.3 1534.5,844.3 1546.3,841.6 1554.2,848.1 1558.3,854.3" fill="#f7c6e0"/>
<polygon points="1549.3,832.3 1548.6,839.5 1543.2,843.3 1534.8,839.6 1535.9,832.2 1538.3,828.8 1546.3,829.3" fill="#c6d2f0"/>
<polygon points="1548.3,835.1 1549.2,829.4 1555.1,823.6 1562.8,825.8 1563.6,836.7 1557.8,839.1" fill="#a7d8a8"/>
<polygon points="1562.5,850.5 1561.0,835.3 1571.9,829.6 1580.2,831.4 1585.2,843.5 1573.2,855.1" fill="#cbb8e6"/>
<polygon points="1585.8,833.4 1592.2,828.9 1604.8,836.7 1609.5,841.0 1607.7,854.7 1600.6,860.6 1583.9,860.6 1576.1,850.3 1576.5,838.4" fill="#a8dcf5"/>
<polygon points="1602.2,832.1 1605.9,831.2 1609.5,831.8 1610.5,833.4 1610.0,838.6 1607.4,839.5 1603.2,839.7 1600.5,836.8" fill="#f9b8d4"/>
<polygon points="1625.5,831.5 1623.2,836.2 1620.3,837.2 1611.1,837.7 1609.3,831.7 1607.4,829.2 1612.3,824.0 1616.4,822.1 1622.2,825.8" fill="#d5e8b0"/>
<polygon points="1670.9,834.9 1687.9,833.2 1698.8,855.6 1684.7,870.7 1665.8,862.2 1660.1,851.0" fill="#f9b8d4"/>
<polygon points="1673.4,836.9 1677.4,824.2 1682.1,822.6 1693.8,827.8 1694.0,836.5 1688.2,842.8 1679.9,843.3" fill="#b3c7ee"/>
<polygon points="1691.6,841.7 1693.9,833.1 1712.3,831.7 1722.9,844.0 1720.8,852.8 1707.2,862.9 1695.3,859.3" fill="#f7c6e0"/>
<polygon points="1732.3,825.8 1728.8,836.3 1715.7,840.4 1705.1,828.3 1712.8,816.0 1720.4,812.7" fill="#fcd5b5"/>
<polygon points="1739.8,833.5 1738.4,840.7 1736.3,845.4 1727.0,842.6 1723.2,839.4 1721.3,833.8 1724.6,829.4 1729.5,825.5 1736.4,828.5" fill="#e0c8e8"/>
<polygon points="1768.3,857.8 1769.7,839.3 1784.0,832.9 1795.4,838.8 1796.6,857.1 1783.7,865.9" fill="#a7d8a8"/>
<polygon points="1800.6,852.5 1792.4,841.9 1796.5,831.8 1806.1,829.4 1813.7,835.8 1809.2,850.3" fill="#a8dcf5"/>
<polygon points="1828.6,845.1 1829.3,849.2 1825.1,855.8 1815.7,856.6 1812.5,851.5 1811.7,842.0 1822.1,838.3" fill="#f7c6e0"/>
<polygon points="1769.0,827.4 1767.2,835.5 1763.2,838.2 1755.1,837.0 1753.7,832.6 1752.8,825.1 1757.9,821.3 1764.1,822.8" fill="#fcd5b5"/>
<rect x="1726.5" y="617.0" width="3.2" height="3.5" fill="#6f6f6f" stroke="none"/>
<rect x="1804.3" y="779.6" width="3.1" height="5.1" fill="#6f6f6f" stroke="none"/>
<rect x="1536.7" y="784.7" width="4.6" height="2.8" fill="#6f6f6f" stroke="none"/>
<rect x="1597.1" y="853.4" width="5.4" height="3.1" fill="#6f6f6f" stroke="none"/>
<rect x="1748.1" y="644.3" width="4.0" height="5.1" fill="#6f6f6f" stroke="none"/>
<rect x="1564.6" y="632.2" width="5.4" height="3.1" fill="#6f6f6f" stroke="none"/>
<rect x="1605.2" y="790.5" width="5.1" height="4.9" fill="#6f6f6f" stroke="none"/>
<rect x="1514.8" y="565.7" width="5.0" height="4.0" fill="#6f6f6f" stroke="none"/>
<rect x="1652.3" y="690.2" width="5.3" height="3.3" fill="#6f6f6f" stroke="none"/>
<rect x="1679.7" y="819.9" width="4.5" height="5.4" fill="#6f6f6f" stroke="none"/>
<rect x="1549.3" y="601.1" width="2.5" height="3.3" fill="#6f6f6f" stroke="none"/>
<rect x="1688.3" y="619.2" width="5.4" height="4.1" fill="#6f6f6f" stroke="none"/>
<rect x="1787.6" y="765.3" width="3.1" height="4.3" fill="#6f6f6f" stroke="none"/>
<rect x="1817.2" y="783.3" width="3.5" height="5.4" fill="#6f6f6f" stroke="none"/>
<rect x="1801.7" y="794.1" width="3.8" height="3.5" fill="#6f6f6f" stroke="none"/>
<rect x="1778.4" y="692.9" width="3.8" height="2.5" fill="#6f6f6f" stroke="none"/>
<rect x="1551.0" y="582.6" width="4.6" height="3.3" fill="#6f6f6f" stroke="none"/>
<rect x="1616.7" y="550.8" width="4.4" height="5.3" fill="#6f6f6f" stroke="none"/>
<rect x="1778.6" y="836.8" width="5.0" height="3.0" fill="#6f6f6f" stroke="none"/>
<rect x="1602.5" y="599.7" width="5.5" height="3.2" fill="#6f6f6f" stroke="none"/>
<rect x="1683.8" y="682.7" width="5.0" height="4.5" fill="#6f6f6f" stroke="none"/>
<rect x="1819.1" y="652.4" width="4.5" height="5.1" fill="#6f6f6f" stroke="none"/>
<rect x="1509.0" y="765.1" width="3.7" height="3.9" fill="#6f6f6f" stroke="none"/>
<rect x="1610.1" y="680.2" width="5.4" height="4.3" fill="#6f6f6f" stroke="none"/>
<rect x="1513.0" y="637.4" width="4.3" height="3.4" fill="#6f6f6f" stroke="none"/>
<rect x="1665.8" y="680.8" width="4.1" height="2.7" fill="#6f6f6f" stroke="none"/>
<rect x="1603.6" y="768.6" width="4.0" height="5.1" fill="#6f6f6f" stroke="none"/>
<rect x="1791.3" y="582.1" width="5.4" height="3.6" fill="#6f6f6f" stroke="none"/>
<rect x="1652.7" y="818.4" width="5.0" height="3.4" fill="#6f6f6f" stroke="none"/>
<rect x="1772.6" y="579.5" width="4.9" height="4.3" fill="#6f6f6f" stroke="none"/>
<rect x="1532.1" y="759.4" width="5.2" height="3.2" fill="#6f6f6f" stroke="none"/>
<rect x="1780.6" y="598.0" width="4.3" height="4.7" fill="#6f6f6f" stroke="none"/>
<rect x="1652.4" y="758.7" width="5.1" height="4.6" fill="#6f6f6f" stroke="none"/>
<rect x="1792.3" y="611.6" width="4.8" height="3.8" fill="#6f6f6f" stroke="none"/>
<rect x="1531.4" y="798.7" width="2.5" height="3.5" fill="#6f6f6f" stroke="none"/>
<rect x="1542.4" y="690.3" width="5.1" height="3.9" fill="#6f6f6f" stroke="none"/>
<rect x="1768.9" y="683.0" width="4.4" height="3.1" fill="#6f6f6f" stroke="none"/>
<rect x="1547.8" y="709.5" width="3.2" height="4.8" fill="#6f6f6f" stroke="none"/>
<rect x="1556.3" y="651.8" width="4.3" height="3.7" fill="#6f6f6f" stroke="none"/>
<rect x="1538.4" y="751.3" width="3.4" height="5.3" fill="#6f6f6f" stroke="none"/>
<rect x="1770.5" y="582.0" width="2.7" height="2.9" fill="#6f6f6f" stroke="none"/>
<rect x="1609.8" y="682.3" width="4.5" height="4.1" fill="#6f6f6f" stroke="none"/>
<rect x="1652.5" y="794.0" width="5.2" height="2.8" fill="#6f6f6f" stroke="none"/>
<rect x="1648.8" y="652.8" width="5.1" height="5.3" fill="#6f6f6f" stroke="none"/>
<rect x="1680.9" y="662.9" width="4.3" height="4.6" fill="#6f6f6f" stroke="none"/>
<rect x="1794.0" y="667.5" width="3.2" height="5.3" fill="#6f6f6f" stroke="none"/>
<rect x="1714.1" y="712.2" width="2.5" height="4.4" fill="#6f6f6f" stroke="none"/>
<rect x="1511.3" y="558.2" width="3.7" height="5.1" fill="#6f6f6f" stroke="none"/>
<rect x="1791.2" y="823.8" width="4.4" height="3.9" fill="#6f6f6f" stroke="none"/>
<rect x="1621.8" y="592.1" width="4.2" height="3.8" fill="#6f6f6f" stroke="none"/>
<rect x="2109.4" y="697.7" width="4.8" height="5.5" fill="#6f6f6f" stroke="none"/>
<rect x="2206.4" y="642.3" width="5.0" height="5.4" fill="#6f6f6f" stroke="none"/>
<rect x="2084.4" y="565.9" width="3.7" height="4.7" fill="#6f6f6f" stroke="none"/>
<rect x="2172.7" y="685.8" width="4.2" height="2.8" fill="#6f6f6f" stroke="none"/>
<rect x="2076.1" y="591.1" width="2.9" height="5.1" fill="#6f6f6f" stroke="none"/>
<rect x="2059.6" y="658.4" width="5.4" height="3.3" fill="#6f6f6f" stroke="none"/>
<rect x="2213.4" y="657.6" width="3.4" height="4.0" fill="#6f6f6f" stroke="none"/>
<rect x="2092.7" y="611.8" width="2.5" height="4.8" fill="#6f6f6f" stroke="none"/>
<rect x="2226.8" y="628.9" width="5.3" height="5.0" fill="#6f6f6f" stroke="none"/>
<rect x="2079.0" y="586.4" width="3.3" height="4.0" fill="#6f6f6f" stroke="none"/>
<rect x="2185.0" y="659.8" width="2.9" height="4.7" fill="#6f6f6f" stroke="none"/>
<rect x="2237.0" y="575.9" width="2.9" height="4.0" fill="#6f6f6f" stroke="none"/>
<rect x="2062.7" y="651.1" width="3.0" height="5.2" fill="#6f6f6f" stroke="none"/>
<rect x="2059.7" y="555.1" width="5.4" height="3.8" fill="#6f6f6f" stroke="none"/>
<rect x="2160.5" y="687.5" width="5.4" height="5.2" fill="#6f6f6f" stroke="none"/>
<rect x="2107.6" y="662.6" width="2.8" height="4.1" fill="#6f6f6f" stroke="none"/>
<rect x="2185.7" y="671.3" width="2.6" height="4.1" fill="#6f6f6f" stroke="none"/>
<rect x="2139.4" y="677.5" width="3.8" height="2.6" fill="#6f6f6f" stroke="none"/>
<rect x="2110.7" y="713.1" width="3.8" height="3.1" fill="#6f6f6f" stroke="none"/>
<rect x="2165.7" y="710.7" width="2.9" height="3.4" fill="#6f6f6f" stroke="none"/>
<rect x="2076.9" y="683.9" width="3.1" height="3.6" fill="#6f6f6f" stroke="none"/>
<rect x="2088.0" y="634.7" width="3.4" height="4.9" fill="#6f6f6f" stroke="none"/>
<rect x="2216.5" y="713.0" width="3.9" height="3.5" fill="#6f6f6f" stroke="none"/>
<rect x="2115.0" y="601.7" width="2.5" height="2.9" fill="#6f6f6f" stroke="none"/>
<rect x="2121.4" y="579.6" width="3.1" height="4.3" fill="#6f6f6f" stroke="none"/>
<rect x="2135.3" y="715.3" width="3.7" height="3.5" fill="#6f6f6f" stroke="none"/>
<rect x="2163.5" y="559.0" width="4.4" height="3.2" fill="#6f6f6f" stroke="none"/>
<rect x="2166.8" y="668.9" width="3.6" height="5.0" fill="#6f6f6f" stroke="none"/>
<rect x="2022.3" y="691.4" width="3.4" height="5.5" fill="#6f6f6f" stroke="none"/>
<rect x="2192.6" y="573.1" width="3.9" height="5.4" fill="#6f6f6f" stroke="none"/>
<rect x="2245.6" y="604.5" width="3.0" height="2.7" fill="#6f6f6f" stroke="none"/>
<rect x="2078.3" y="582.3" width="4.4" height="2.8" fill="#6f6f6f" stroke="none"/>
<rect x="2188.8" y="638.7" width="5.3" height="4.3" fill="#6f6f6f" stroke="none"/>
<rect x="2099.7" y="597.4" width="5.2" height="4.9" fill="#6f6f6f" stroke="none"/>
<rect x="2139.1" y="582.8" width="3.6" height="2.5" fill="#6f6f6f" stroke="none"/>
<rect x="2180.6" y="671.6" width="3.6" height="4.7" fill="#6f6f6f" stroke="none"/>
<rect x="2010.1" y="650.8" width="4.7" height="2.7" fill="#6f6f6f" stroke="none"/>
<rect x="2232.1" y="612.8" width="5.2" height="5.0" fill="#6f6f6f" stroke="none"/>
<rect x="2201.4" y="596.1" width="2.7" height="4.1" fill="#6f6f6f" stroke="none"/>
<rect x="2238.3" y="603.0" width="3.9" height="3.8" fill="#6f6f6f" stroke="none"/>
<rect x="2045.4" y="688.0" width="4.3" height="3.8" fill="#6f6f6f" stroke="none"/>
<rect x="2174.8" y="574.6" width="4.0" height="4.7" fill="#6f6f6f" stroke="none"/>
<rect x="2069.0" y="612.2" width="5.4" height="4.0" fill="#6f6f6f" stroke="none"/>
<rect x="2206.1" y="679.4" width="4.9" height="3.4" fill="#6f6f6f" stroke="none"/>
<rect x="2037.1" y="693.4" width="3.5" height="4.2" fill="#6f6f6f" stroke="none"/>
<rect x="2061.7" y="717.3" width="2.6" height="4.2" fill="#6f6f6f" stroke="none"/>
<rect x="2248.4" y="648.7" width="3.3" height="5.0" fill="#6f6f6f" stroke="none"/>
<rect x="2113.4" y="635.1" width="5.0" height="3.0" fill="#6f6f6f" stroke="none"/>
<rect x="2073.3" y="562.2" width="4.3" height="3.2" fill="#6f6f6f" stroke="none"/>
<rect x="2119.7" y="686.8" width="5.1" height="2.6" fill="#6f6f6f" stroke="none"/>
<rect x="2229.6" y="671.8" width="2.9" height="4.6" fill="#6f6f6f" stroke="none"/>
<rect x="2131.6" y="698.8" width="3.3" height="4.9" fill="#6f6f6f" stroke="none"/>
<rect x="2177.6" y="566.5" width="4.1" height="2.7" fill="#6f6f6f" stroke="none"/>
<rect x="2132.6" y="553.6" width="3.4" height="3.0" fill="#6f6f6f" stroke="none"/>
<rect x="2125.4" y="682.0" width="4.2" height="2.9" fill="#6f6f6f" stroke="none"/>
<rect x="2017.7" y="554.0" width="5.2" height="4.2" fill="#6f6f6f" stroke="none"/>
<rect x="2144.3" y="592.8" width="5.2" height="5.3" fill="#6f6f6f" stroke="none"/>
<rect x="2085.1" y="607.9" width="4.2" height="3.1" fill="#6f6f6f" stroke="none"/>
<rect x="2030.0" y="630.0" width="2.9" height="2.8" fill="#6f6f6f" stroke="none"/>
<rect x="2230.4" y="691.2" width="3.0" height="4.7" fill="#6f6f6f" stroke="none"/>
<rect x="2163.6" y="689.4" width="4.1" height="5.1" fill="#6f6f6f" stroke="none"/>
<rect x="2027.9" y="577.6" width="4.2" height="2.9" fill="#6f6f6f" stroke="none"/>
<rect x="2061.8" y="677.2" width="4.7" height="3.2" fill="#6f6f6f" stroke="none"/>
<rect x="2131.7" y="550.3" width="3.8" height="5.2" fill="#6f6f6f" stroke="none"/>
<rect x="2216.4" y="556.4" width="4.2" height="3.0" fill="#6f6f6f" stroke="none"/>
<rect x="2039.2" y="707.4" width="5.1" height="2.7" fill="#6f6f6f" stroke="none"/>
<rect x="2149.8" y="654.6" width="2.5" height="4.0" fill="#6f6f6f" stroke="none"/>
<rect x="2091.8" y="567.8" width="3.8" height="3.3" fill="#6f6f6f" stroke="none"/>
<rect x="2145.3" y="628.3" width="2.7" height="5.3" fill="#6f6f6f" stroke="none"/>
<rect x="2169.8" y="585.8" width="3.5" height="2.8" fill="#6f6f6f" stroke="none"/>
<rect x="2182.9" y="613.0" width="5.2" height="3.5" fill="#6f6f6f" stroke="none"/>
<rect x="2125.1" y="608.7" width="2.8" height="3.5" fill="#6f6f6f" stroke="none"/>
<rect x="2232.7" y="594.8" width="4.9" height="2.9" fill="#6f6f6f" stroke="none"/>
<rect x="2108.8" y="644.6" width="4.8" height="2.6" fill="#6f6f6f" stroke="none"/>
<rect x="2100.1" y="589.6" width="4.9" height="5.1" fill="#6f6f6f" stroke="none"/>
<rect x="2031.4" y="671.1" width="3.4" height="3.0" fill="#6f6f6f" stroke="none"/>
<rect x="2038.8" y="650.6" width="2.6" height="3.3" fill="#6f6f6f" stroke="none"/>
<rect x="2013.3" y="718.2" width="3.4" height="4.4" fill="#6f6f6f" stroke="none"/>
<rect x="2086.9" y="663.0" width="2.9" height="5.0" fill="#6f6f6f" stroke="none"/>
<rect x="2061.3" y="597.1" width="4.7" height="4.6" fill="#6f6f6f" stroke="none"/>
<rect x="2028.5" y="766.9" width="3.0" height="3.3" fill="#6f6f6f" stroke="none"/>
<rect x="1954.4" y="686.6" width="3.2" height="3.6" fill="#6f6f6f" stroke="none"/>
<rect x="2055.1" y="773.9" width="3.1" height="3.3" fill="#6f6f6f" stroke="none"/>
<rect x="1944.5" y="806.1" width="4.2" height="5.1" fill="#6f6f6f" stroke="none"/>
<rect x="2033.2" y="760.4" width="3.7" height="3.0" fill="#6f6f6f" stroke="none"/>
<rect x="1926.8" y="779.0" width="3.6" height="4.2" fill="#6f6f6f" stroke="none"/>
<rect x="1970.4" y="696.9" width="3.5" height="2.8" fill="#6f6f6f" stroke="none"/>
<rect x="2021.6" y="767.4" width="5.3" height="3.8" fill="#6f6f6f" stroke="none"/>
<rect x="1995.5" y="750.6" width="4.0" height="5.3" fill="#6f6f6f" stroke="none"/>
<rect x="2032.1" y="714.2" width="3.7" height="4.2" fill="#6f6f6f" stroke="none"/>
<rect x="1981.5" y="841.2" width="3.6" height="5.1" fill="#6f6f6f" stroke="none"/>
<rect x="2032.6" y="687.0" width="3.1" height="4.2" fill="#6f6f6f" stroke="none"/>
<rect x="2033.0" y="736.1" width="3.3" height="3.9" fill="#6f6f6f" stroke="none"/>
<rect x="1949.0" y="730.6" width="5.2" height="2.7" fill="#6f6f6f" stroke="none"/>
<rect x="1992.1" y="744.7" width="2.7" height="4.0" fill="#6f6f6f" stroke="none"/>
<rect x="2035.1" y="768.5" width="5.3" height="3.2" fill="#6f6f6f" stroke="none"/>
<rect x="2051.4" y="690.0" width="4.4" height="2.5" fill="#6f6f6f" stroke="none"/>
<rect x="2058.1" y="840.0" width="3.4" height="2.6" fill="#6f6f6f" stroke="none"/>
<rect x="1954.2" y="760.5" width="5.3" height="5.2" fill="#6f6f6f" stroke="none"/>
<rect x="2061.3" y="701.6" width="4.7" height="3.5" fill="#6f6f6f" stroke="none"/>
<rect x="1936.1" y="789.6" width="3.7" height="5.5" fill="#6f6f6f" stroke="none"/>
<rect x="1989.4" y="727.3" width="3.7" height="2.9" fill="#6f6f6f" stroke="none"/>
<rect x="1996.9" y="847.4" width="5.3" height="4.9" fill="#6f6f6f" stroke="none"/>
<rect x="1951.9" y="724.6" width="3.5" height="2.7" fill="#6f6f6f" stroke="none"/>
<rect x="1958.8" y="834.3" width="3.9" height="3.7" fill="#6f6f6f" stroke="none"/>
<rect x="1950.3" y="801.9" width="5.4" height="3.1" fill="#6f6f6f" stroke="none"/>
<rect x="1986.8" y="796.7" width="4.9" height="2.6" fill="#6f6f6f" stroke="none"/>
<rect x="2023.5" y="692.1" width="2.7" height="4.9" fill="#6f6f6f" stroke="none"/>
<rect x="1962.7" y="729.8" width="3.0" height="4.2" fill="#6f6f6f" stroke="none"/>
<rect x="1961.3" y="845.5" width="3.0" height="4.7" fill="#6f6f6f" stroke="none"/>
<rect x="1951.5" y="837.4" width="4.3" height="4.4" fill="#6f6f6f" stroke="none"/>
<rect x="2064.8" y="822.3" width="2.6" height="3.0" fill="#6f6f6f" stroke="none"/>
<rect x="1935.4" y="699.7" width="4.8" height="4.6" fill="#6f6f6f" stroke="none"/>
<rect x="1946.0" y="732.6" width="4.6" height="4.0" fill="#6f6f6f" stroke="none"/>
<rect x="2078.9" y="829.7" width="5.3" height="3.9" fill="#6f6f6f" stroke="none"/>
<rect x="1964.5" y="692.7" width="4.1" height="3.7" fill="#6f6f6f" stroke="none"/>
<rect x="1950.6" y="838.6" width="2.8" height="5.0" fill="#6f6f6f" stroke="none"/>
<rect x="1946.8" y="717.9" width="2.6" height="5.2" fill="#6f6f6f" stroke="none"/>
<rect x="1985.3" y="709.4" width="2.6" height="3.8" fill="#6f6f6f" stroke="none"/>
<rect x="1947.1" y="727.7" width="3.0" height="3.3" fill="#6f6f6f" stroke="none"/>
<rect x="1939.9" y="772.2" width="2.8" height="4.4" fill="#6f6f6f" stroke="none"/>
<rect x="2068.1" y="689.5" width="5.3" height="3.5" fill="#6f6f6f" stroke="none"/>
<rect x="1971.3" y="753.1" width="5.3" height="4.6" fill="#6f6f6f" stroke="none"/>
<rect x="1999.6" y="694.1" width="4.2" height="3.7" fill="#6f6f6f" stroke="none"/>
<rect x="1939.1" y="806.4" width="4.2" height="4.5" fill="#6f6f6f" stroke="none"/>
<rect x="2068.4" y="773.6" width="3.6" height="4.4" fill="#6f6f6f" stroke="none"/>
<rect x="2004.0" y="693.4" width="2.5" height="4.6" fill="#6f6f6f" stroke="none"/>
<rect x="1929.3" y="792.4" width="3.4" height="5.5" fill="#6f6f6f" stroke="none"/>
<rect x="2046.9" y="702.9" width="3.7" height="4.1" fill="#6f6f6f" stroke="none"/>
<rect x="2020.1" y="839.9" width="3.4" height="2.9" fill="#6f6f6f" stroke="none"/>
<rect x="1995.8" y="711.2" width="4.1" height="5.5" fill="#6f6f6f" stroke="none"/>
<rect x="2010.0" y="689.0" width="4.6" height="4.7" fill="#6f6f6f" stroke="none"/>
<rect x="2009.3" y="702.1" width="3.3" height="4.4" fill="#6f6f6f" stroke="none"/>
<rect x="2043.8" y="697.1" width="3.5" height="2.7" fill="#6f6f6f" stroke="none"/>
<rect x="1927.5" y="776.9" width="3.0" height="5.1" fill="#6f6f6f" stroke="none"/>
<rect x="2073.8" y="737.4" width="4.1" height="2.5" fill="#6f6f6f" stroke="none"/>
<rect x="1959.7" y="736.0" width="2.8" height="5.4" fill="#6f6f6f" stroke="none"/>
<rect x="1932.3" y="771.6" width="3.5" height="5.4" fill="#6f6f6f" stroke="none"/>
<rect x="2082.2" y="848.6" width="5.4" height="3.0" fill="#6f6f6f" stroke="none"/>
<rect x="1953.8" y="747.8" width="3.3" height="5.1" fill="#6f6f6f" stroke="none"/>
<polygon points="1989.7,532.6 1999.8,533.9 2009.8,537.2 2012.3,545.2 2008.0,559.2 2002.0,559.2 1992.4,561.5 1986.4,550.7 1986.0,543.7" fill="#b5e5e0"/>
<polygon points="2005.5,548.7 2005.0,546.2 2010.0,543.6 2013.2,543.9 2014.8,545.7 2013.9,550.2 2011.1,553.3 2007.2,552.7" fill="#fcd5b5"/>
<polygon points="2062.2,541.4 2071.4,542.7 2075.5,553.8 2072.8,566.4 2055.9,566.1 2047.1,560.4 2050.4,545.9" fill="#cbb8e6"/>
<polygon points="2078.3,541.5 2085.9,532.4 2100.3,527.6 2105.4,536.4 2105.6,547.9 2099.9,555.0 2090.3,557.2 2082.8,551.8" fill="#a8dcf5"/>
<polygon points="2105.7,537.2 2118.4,534.9 2127.4,538.3 2132.6,551.4 2132.7,559.9 2116.5,563.4 2105.9,562.4 2103.3,545.3" fill="#e0c8e8"/>
<polygon points="2208.3,543.7 2208.8,550.1 2205.1,555.3 2201.4,556.4 2196.3,555.8 2193.0,551.2 2193.7,545.3 2199.9,539.5 2204.1,541.0" fill="#d5e8b0"/>
<polygon points="2222.5,542.6 2226.0,544.0 2229.2,555.3 2226.3,560.1 2220.4,563.7 2211.5,559.1 2207.3,554.1 2208.6,545.8 2211.5,540.9" fill="#b3c7ee"/>
<polygon points="2209.4,577.6 2207.6,566.1 2212.2,563.4 2220.3,561.8 2225.8,570.5 2225.9,575.2 2214.7,578.4" fill="#c6d2f0"/>
<polygon points="2232.3,559.3 2235.4,564.3 2233.3,569.5 2225.2,568.1 2223.4,563.1 2225.6,559.0" fill="#b5e5e0"/>
<polygon points="2197.3,573.5 2193.9,571.3 2193.2,567.1 2195.9,564.6 2201.4,567.1 2202.5,569.6" fill="#cbb8e6"/>
<polygon points="2053.5,574.3 2052.4,569.5 2054.6,567.6 2056.1,566.3 2059.4,567.9 2062.0,570.0 2060.7,574.4 2059.5,575.8 2055.4,575.8" fill="#b3c7ee"/>
<polygon points="1994.5,550.0 2006.0,556.7 2006.7,563.4 2004.1,575.9 1993.8,579.7 1981.0,577.4 1976.9,565.3 1983.4,557.8" fill="#f5f3b3"/>
<polygon points="2002.2,567.7 2006.9,567.2 2009.4,571.3 2011.6,576.0 2008.0,583.3 2004.4,583.2 1998.9,582.4 1996.4,575.2 1996.5,570.4" fill="#b5e5e0"/>
<polygon points="1964.5,560.4 1971.6,562.9 1973.7,566.9 1971.5,573.8 1962.1,573.9 1958.3,570.5 1958.9,565.4" fill="#b7e4c7"/>
<polygon points="1932.7,571.2 1944.9,565.6 1959.1,566.0 1962.7,578.2 1961.4,587.4 1952.6,594.0 1938.3,589.4 1933.4,577.9" fill="#c8e6a8"/>
<polygon points="1974.4,572.1 1983.4,572.4 1989.3,584.0 1989.0,589.1 1975.8,597.3 1970.0,594.3 1962.7,589.6 1965.2,576.9" fill="#d5e8b0"/>
<polygon points="1999.5,579.8 2001.8,586.7 1998.7,592.3 1994.9,592.6 1986.8,591.7 1983.1,586.6 1980.9,582.9 1985.7,577.9 1993.3,574.5" fill="#b7e4c7"/>
<polygon points="2007.6,596.6 1998.4,594.0 1998.6,584.5 2001.6,580.2 2011.6,583.5 2010.6,592.8" fill="#f5f3b3"/>
<polygon points="1923.6,595.2 1928.6,585.1 1933.7,584.7 1945.0,592.4 1942.4,602.4 1934.9,607.8 1925.7,603.3" fill="#fcd5b5"/>
<polygon points="1940.8,602.6 1949.0,598.6 1957.8,599.1 1963.2,604.6 1960.5,618.4 1953.3,620.5 1942.8,614.7" fill="#b5e5e0"/>
<polygon points="2007.8,610.6 2000.8,602.1 2004.0,594.2 2012.3,584.9 2019.7,585.1 2030.7,594.2 2033.6,598.0 2029.7,612.0 2020.0,616.7" fill="#ffb3ba"/>
<polygon points="1994.1,606.6 1984.4,608.6 1980.2,608.2 1979.1,600.3 1982.7,594.9 1990.0,595.0 1993.8,602.6" fill="#a8dcf5"/>
<polygon points="1976.0,611.9 1970.3,609.6 1970.4,605.4 1971.5,600.7 1975.3,599.3 1978.4,599.8 1982.4,602.4 1981.2,608.7 1978.2,611.4" fill="#f9b8d4"/>
<polygon points="1946.2,630.3 1936.5,639.1 1927.0,640.6 1911.2,628.5 1916.4,615.9 1920.7,610.4 1937.1,609.0 1944.2,618.8" fill="#b7e4c7"/>
<polygon points="1981.6,635.5 1974.4,645.2 1960.4,645.8 1949.1,633.1 1953.2,619.6 1965.7,610.8 1976.9,619.3" fill="#e0c8e8"/>
<polygon points="1978.4,622.4 1981.0,615.4 1984.5,613.6 1991.5,615.1 1995.2,619.6 1991.8,626.0 1989.2,629.8 1979.3,626.8" fill="#b7e4c7"/>
<polygon points="2008.9,605.5 2015.2,605.6 2025.2,613.3 2025.5,628.3 2014.9,633.9 2003.7,633.1 1997.0,625.6 2000.1,610.1" fill="#c8e6a8"/>
<polygon points="2019.8,619.2 2023.7,615.1 2030.3,616.0 2032.8,622.7 2028.1,627.1 2024.5,628.2 2020.2,622.2" fill="#b7e4c7"/>
<polygon points="1993.4,638.9 1991.9,634.2 1995.1,630.8 1997.9,631.1 2000.9,632.5 2002.1,636.3 2000.0,638.9 1996.0,640.8" fill="#b3c7ee"/>
<polygon points="1980.6,623.4 1986.2,622.6 1989.0,624.8 1989.7,629.2 1987.8,633.8 1984.4,636.2 1978.8,633.5 1976.9,629.2 1977.3,625.8" fill="#f9b8d4"/>
<polygon points="2018.8,649.3 2017.1,646.6 2015.8,639.4 2019.5,638.3 2024.4,638.1 2028.6,641.3 2026.3,647.1 2022.7,649.4" fill="#fcd5b5"/>
<polygon points="1955.4,643.7 1956.3,654.1 1950.9,659.1 1939.5,658.2 1936.5,647.1 1942.8,641.0" fill="#f9b8d4"/>
<polygon points="1962.6,643.4 1970.5,645.6 1974.0,650.0 1976.6,659.1 1970.7,664.0 1960.4,667.7 1954.7,663.2 1952.9,658.1 1953.2,650.3" fill="#f9b8d4"/>
<polygon points="1969.1,657.0 1972.9,646.2 1991.4,638.0 1999.4,646.0 2003.8,660.1 1994.3,669.8 1977.0,673.9" fill="#ffb3ba"/>
<polygon points="1934.8,653.3 1941.8,653.3 1948.0,659.8 1949.3,663.1 1944.5,671.8 1939.0,674.0 1933.0,671.1 1930.2,667.1 1932.1,658.2" fill="#fcd5b5"/>
<polygon points="1957.6,669.0 1953.9,671.7 1944.6,670.3 1943.3,663.5 1945.8,659.3 1951.9,656.4 1958.6,659.4" fill="#cbb8e6"/>
<polygon points="1986.2,692.8 1970.7,694.6 1965.6,689.4 1959.6,678.6 1973.2,666.6 1982.7,668.7 1991.0,678.6" fill="#c8e6a8"/>
<polygon points="1973.7,684.8 1981.7,691.7 1979.9,705.6 1971.3,710.0 1962.0,709.0 1954.8,700.6 1961.9,686.3" fill="#f5f3b3"/>
<polygon points="1981.0,708.6 1972.2,701.7 1974.0,693.9 1977.7,689.0 1986.1,691.5 1990.6,700.1 1986.1,707.6" fill="#f5f3b3"/>
<polygon points="1988.8,712.1 1984.2,725.7 1971.4,730.8 1965.8,724.7 1958.4,712.3 1963.9,702.0 1973.1,701.0 1982.4,704.3" fill="#e0c8e8"/>
<polygon points="1975.2,713.7 1982.1,718.2 1982.8,725.0 1982.2,730.2 1976.0,733.1 1969.2,729.0 1964.4,722.9 1965.9,717.4 1969.4,715.3" fill="#cbb8e6"/>
<polygon points="1991.3,712.5 1992.7,716.6 1992.1,721.3 1988.8,724.0 1982.4,722.9 1980.3,719.3 1982.3,713.2 1986.5,710.7" fill="#b7e4c7"/>
<polygon points="1990.5,724.5 1998.9,720.4 2016.5,724.9 2019.9,741.4 2014.5,749.7 2002.0,759.2 1990.3,753.1 1982.9,738.4" fill="#b7e4c7"/>
<polygon points="1981.6,760.6 1971.9,753.9 1971.9,742.7 1980.1,734.9 1994.9,740.3 1998.2,752.2 1988.6,759.2" fill="#a8dcf5"/>
<polygon points="1975.2,755.2 1970.3,762.3 1957.8,763.1 1951.5,756.7 1951.8,747.0 1959.2,742.9 1968.8,741.0 1973.0,745.3" fill="#b5e5e0"/>
<polygon points="1965.4,758.6 1965.2,750.1 1969.6,744.8 1977.5,745.1 1982.7,747.3 1985.1,755.4 1981.9,760.1 1972.3,762.3" fill="#b3c7ee"/>
<polygon points="1955.1,748.7 1948.7,747.9 1946.1,744.8 1946.0,740.7 1950.6,736.3 1956.8,737.3 1958.8,740.1 1958.0,745.5" fill="#f9b8d4"/>
<polygon points="1936.6,740.8 1943.4,743.2 1941.7,753.5 1937.6,755.4 1928.5,751.1 1928.5,745.1" fill="#cbb8e6"/>
<polygon points="2005.3,655.2 2012.5,648.7 2022.6,656.1 2021.5,664.2 2012.0,668.4 2005.1,664.3" fill="#cbb8e6"/>
<polygon points="2017.0,660.7 2023.3,661.8 2029.5,667.4 2028.3,677.1 2020.4,678.6 2014.0,675.5 2010.9,667.7" fill="#f9b8d4"/>
<polygon points="2032.6,662.9 2028.9,659.5 2027.9,654.7 2031.1,650.4 2036.9,646.6 2041.0,649.9 2042.7,653.0 2043.5,659.1 2040.8,663.5" fill="#cbb8e6"/>
<polygon points="2051.7,659.7 2045.6,664.8 2040.1,662.9 2037.4,660.2 2037.4,653.1 2043.7,648.3 2049.7,650.5 2053.2,656.1" fill="#a8dcf5"/>
<polygon points="2033.8,678.3 2041.5,684.5 2039.4,695.0 2028.8,699.3 2019.0,687.6 2021.3,680.2" fill="#b5e5e0"/>
<polygon points="2034.2,685.0 2034.8,678.0 2037.7,674.0 2048.6,673.6 2053.4,677.3 2053.9,684.0 2050.7,690.5 2042.3,693.8 2040.1,691.3" fill="#f9b8d4"/>
<polygon points="2049.2,701.6 2045.3,710.3 2043.1,713.6 2032.4,711.6 2027.6,707.0 2029.4,697.0 2037.0,692.2 2043.6,692.0" fill="#ffb3ba"/>
<polygon points="2023.1,700.6 2027.1,706.1 2023.5,711.5 2019.3,712.1 2014.3,709.6 2013.8,705.3 2018.3,699.7" fill="#b7e4c7"/>
<polygon points="2023.5,729.9 2017.0,729.4 2013.7,724.4 2014.8,717.9 2018.2,715.7 2025.7,716.8 2029.5,721.5 2026.1,727.2" fill="#a8dcf5"/>
<polygon points="2036.4,723.0 2039.3,724.8 2043.3,726.4 2043.8,732.8 2039.3,735.7 2033.3,735.5 2031.6,733.1 2030.9,727.0" fill="#a8dcf5"/>
<polygon points="2063.8,620.4 2063.7,631.3 2056.4,634.0 2050.2,633.6 2045.3,628.4 2045.2,622.8 2051.2,617.2 2055.9,617.1" fill="#a8dcf5"/>
<polygon points="2066.5,640.8 2060.9,636.7 2061.0,628.3 2065.3,624.3 2069.2,626.4 2076.3,630.7 2075.0,635.6 2072.1,640.1" fill="#c8e6a8"/>
<polygon points="2064.3,626.3 2059.9,623.8 2058.4,620.2 2060.4,614.9 2063.6,613.6 2067.3,615.0 2071.7,617.7 2071.1,621.8 2066.5,626.1" fill="#b5e5e0"/>
<polygon points="2090.1,636.8 2093.5,646.5 2084.9,657.5 2074.7,654.5 2071.3,644.6 2077.4,636.0" fill="#f9b8d4"/>
<polygon points="2095.5,646.2 2103.1,650.0 2103.4,658.9 2097.8,661.6 2089.7,656.6 2088.5,651.2" fill="#cbb8e6"/>
<polygon points="2067.0,631.6 2068.0,637.0 2065.5,641.6 2057.8,641.0 2057.2,634.2 2061.8,629.4" fill="#b7e4c7"/>
<polygon points="2116.9,660.3 2123.9,664.9 2124.4,674.2 2116.1,681.4 2107.1,680.4 2102.9,668.3 2106.8,661.6" fill="#a8dcf5"/>
<polygon points="2110.3,675.3 2115.0,680.9 2113.3,686.8 2109.5,691.0 2105.1,691.4 2097.9,684.7 2101.1,679.1 2102.1,675.9" fill="#b5e5e0"/>
<polygon points="2074.6,698.9 2063.3,693.7 2064.8,686.3 2073.2,677.5 2081.0,683.2 2083.0,690.4" fill="#f9b8d4"/>
<polygon points="2079.5,691.5 2077.9,690.4 2075.0,686.0 2076.3,682.0 2078.2,679.0 2083.3,680.5 2087.3,682.7 2087.4,686.7 2085.3,690.2" fill="#c8e6a8"/>
<polygon points="2122.8,710.5 2113.1,710.6 2104.3,708.2 2103.7,699.5 2106.7,687.6 2111.4,686.0 2123.3,690.6 2127.7,693.3 2126.6,706.0" fill="#f9b8d4"/>
<polygon points="2131.0,677.3 2142.4,690.0 2141.6,700.0 2132.8,709.0 2119.2,706.2 2115.1,689.4 2121.9,681.7" fill="#c8e6a8"/>
<polygon points="2076.7,707.5 2072.1,710.5 2067.1,710.4 2064.6,705.2 2065.0,700.3 2070.1,697.9 2073.0,698.1 2076.2,700.8" fill="#a8dcf5"/>
<polygon points="2105.7,742.3 2101.4,744.7 2093.7,747.8 2087.9,740.6 2089.0,730.3 2097.4,727.3 2105.3,733.1" fill="#e0c8e8"/>
<polygon points="2147.2,624.4 2120.4,628.3 2112.6,615.9 2109.3,588.4 2128.4,580.7 2144.3,581.7 2157.7,601.0" fill="#f5f3b3"/>
<polygon points="2130.6,597.4 2127.6,601.9 2118.6,603.0 2113.4,596.0 2113.1,591.2 2121.1,584.3 2126.2,584.3 2131.0,592.2" fill="#cbb8e6"/>
<polygon points="2153.5,581.4 2170.9,581.6 2181.5,595.3 2180.7,605.4 2171.6,621.1 2154.2,615.5 2147.0,604.5 2147.6,591.9" fill="#d5e8b0"/>
<polygon points="2159.8,581.7 2160.9,573.8 2166.2,570.3 2172.2,572.8 2175.2,577.6 2171.7,584.7 2167.9,586.1" fill="#f5f3b3"/>
<polygon points="2185.9,616.2 2186.6,625.1 2179.7,629.9 2170.5,625.5 2168.1,617.7 2174.5,612.3 2181.1,610.7" fill="#c8e6a8"/>
<polygon points="2177.5,590.3 2180.6,588.0 2185.5,588.9 2187.6,595.4 2185.7,599.1 2183.6,601.9 2178.8,600.0 2174.3,595.5" fill="#f9b8d4"/>
<polygon points="2178.6,609.6 2183.4,607.9 2186.6,606.8 2190.0,609.6 2189.8,616.1 2188.8,618.5 2184.5,620.7 2178.7,617.3 2178.4,613.6" fill="#cbb8e6"/>
<polygon points="2201.5,606.3 2215.1,617.9 2222.3,631.8 2211.7,646.0 2200.6,648.0 2186.2,645.6 2177.3,629.9 2181.0,622.3 2185.3,611.1" fill="#b5e5e0"/>
<polygon points="2214.3,616.8 2215.7,609.8 2222.4,603.1 2227.3,606.9 2230.9,612.4 2226.9,618.1 2218.3,618.6" fill="#ffb3ba"/>
<polygon points="2247.5,655.3 2242.2,660.8 2226.7,662.9 2218.8,654.1 2216.3,644.9 2222.9,636.9 2233.2,632.1 2245.5,634.7 2249.6,645.1" fill="#e0c8e8"/>
<polygon points="2212.5,651.3 2219.7,659.8 2219.7,663.0 2216.0,671.3 2205.6,672.7 2198.6,668.3 2200.8,657.0 2205.6,652.9" fill="#a8dcf5"/>
<polygon points="2193.2,673.1 2198.1,670.5 2202.2,672.2 2205.2,678.4 2202.2,683.2 2197.2,683.6 2192.5,679.4" fill="#c8e6a8"/>
<polygon points="2200.8,697.0 2195.8,687.2 2200.3,682.7 2208.6,678.9 2214.7,681.6 2215.3,690.6 2214.3,694.2 2207.1,698.8" fill="#b5e5e0"/>
<polygon points="2220.8,678.3 2226.9,668.1 2238.7,660.2 2246.2,662.7 2254.9,669.3 2255.4,688.5 2247.4,694.3 2232.1,695.6 2222.7,690.5" fill="#b5e5e0"/>
<polygon points="2231.8,692.0 2232.1,681.2 2244.5,679.9 2249.1,685.8 2248.7,693.6 2238.0,696.4" fill="#f9b8d4"/>
<polygon points="2159.9,669.6 2161.4,665.2 2170.4,662.6 2174.9,665.5 2178.2,676.0 2172.9,682.4 2168.8,681.5 2162.4,678.2" fill="#a8dcf5"/>
<polygon points="2176.6,666.8 2180.6,666.1 2183.1,670.8 2182.6,676.6 2177.9,678.6 2171.4,674.9 2170.8,670.3" fill="#cbb8e6"/>
<polygon points="2180.3,631.1 2184.1,631.4 2187.2,636.9 2184.4,644.7 2177.9,647.4 2172.3,644.4 2171.0,636.9 2174.2,633.1" fill="#f9b8d4"/>
<polygon points="2157.4,633.6 2157.0,639.0 2150.8,641.5 2146.3,638.1 2147.1,631.3 2151.6,628.5" fill="#f9b8d4"/>
<polygon points="2133.6,652.9 2138.5,652.1 2142.3,655.0 2143.4,661.2 2140.3,663.0 2136.0,663.9 2130.0,659.9 2130.9,655.3" fill="#f9b8d4"/>
<polygon points="2112.6,628.9 2114.6,627.9 2121.9,631.3 2122.5,635.7 2121.8,640.9 2116.5,644.8 2111.4,642.7 2106.1,636.9 2108.1,631.6" fill="#f9b8d4"/>
<polygon points="2148.2,700.0 2148.7,690.3 2161.4,687.1 2166.4,693.4 2162.8,703.2 2153.3,703.8" fill="#fcd5b5"/>
<polygon points="2161.5,707.7 2161.5,711.3 2154.6,713.3 2150.6,712.4 2149.1,708.0 2150.5,702.4 2154.9,700.7 2160.9,704.2" fill="#f5f3b3"/>
<polygon points="2164.1,695.9 2174.6,678.3 2190.2,680.1 2201.4,689.5 2202.7,705.4 2198.5,714.7 2179.5,718.4 2165.8,709.0" fill="#b7e4c7"/>
<polygon points="2165.2,718.5 2171.4,709.1 2185.0,707.6 2188.6,717.3 2181.7,728.6 2171.1,726.6" fill="#b7e4c7"/>
<polygon points="2205.1,723.8 2193.6,731.1 2184.2,725.5 2184.3,719.6 2187.7,708.9 2199.6,706.3 2204.7,715.1" fill="#f9b8d4"/>
<polygon points="2145.7,719.8 2154.4,712.9 2163.7,721.1 2165.3,729.8 2162.7,738.3 2148.7,738.9 2140.2,729.4" fill="#d5e8b0"/>
<polygon points="2156.5,747.5 2159.1,751.1 2160.2,760.2 2155.3,765.1 2147.8,762.9 2144.0,758.8 2143.5,749.3 2150.2,745.9" fill="#f9b8d4"/>
<polygon points="2107.9,769.8 2106.4,767.4 2106.7,759.5 2110.7,755.9 2114.2,754.7 2119.3,755.7 2121.4,761.2 2120.2,767.4 2116.5,770.3" fill="#cbb8e6"/>
<polygon points="2072.4,756.0 2075.4,765.3 2068.6,775.6 2063.2,777.3 2050.7,774.0 2048.4,768.6 2054.8,755.5 2060.6,754.5" fill="#a8dcf5"/>
<polygon points="2039.0,783.5 2034.4,787.0 2032.4,787.0 2028.3,784.8 2027.6,779.5 2029.7,777.3 2033.6,775.6 2038.3,777.3 2039.3,779.2" fill="#c8e6a8"/>
<polygon points="2048.5,786.9 2047.2,781.6 2050.6,776.1 2055.1,775.5 2058.7,776.8 2063.2,781.4 2061.4,787.0 2059.7,789.0 2050.8,790.9" fill="#b7e4c7"/>
<polygon points="2053.2,799.9 2052.4,785.7 2060.8,776.9 2075.9,780.4 2083.5,795.7 2072.2,807.6 2060.9,804.8" fill="#f5f3b3"/>
<polygon points="2088.6,798.4 2091.8,800.9 2087.5,809.2 2085.0,812.2 2078.4,810.0 2075.6,804.7 2079.1,798.1 2081.9,795.6" fill="#f9b8d4"/>
<polygon points="2132.1,786.3 2117.9,797.7 2104.1,801.1 2090.1,787.5 2095.3,770.2 2107.3,758.8 2127.8,762.1 2135.0,771.1" fill="#b5e5e0"/>
<polygon points="2086.5,815.5 2085.9,798.1 2096.9,781.1 2107.4,777.7 2124.6,782.9 2133.1,795.8 2130.1,814.7 2110.5,825.8 2099.5,822.3" fill="#b7e4c7"/>
<polygon points="2142.7,781.3 2148.4,789.7 2142.3,800.7 2130.8,802.2 2125.6,789.6 2132.0,783.2" fill="#b7e4c7"/>
<polygon points="2157.9,778.4 2163.5,779.9 2167.6,786.3 2167.8,793.2 2165.2,797.5 2154.8,798.9 2151.3,792.8 2151.2,786.4 2152.1,781.4" fill="#f5f3b3"/>
<polygon points="2159.7,818.1 2143.7,832.9 2126.1,825.7 2118.3,807.1 2131.1,799.0 2151.4,799.5" fill="#f5f3b3"/>
<polygon points="2145.2,826.9 2141.9,818.0 2155.6,806.0 2165.9,809.6 2173.4,817.5 2172.8,828.3 2163.1,835.1 2153.0,834.4" fill="#fcd5b5"/>
<polygon points="2164.7,825.5 2168.5,824.3 2176.3,827.1 2177.5,833.1 2171.8,839.1 2165.9,838.8 2160.7,833.1" fill="#ffb3ba"/>
<polygon points="2171.2,810.1 2171.3,816.8 2163.4,822.2 2158.1,819.1 2157.9,812.0 2163.5,805.4" fill="#b5e5e0"/>
<polygon points="2054.5,815.4 2065.2,810.5 2077.4,809.4 2086.6,825.7 2085.3,833.4 2074.3,846.9 2062.2,845.1 2055.2,834.6" fill="#ffb3ba"/>
<polygon points="2077.4,806.0 2089.7,809.1 2097.5,822.9 2091.5,828.0 2078.9,830.6 2072.2,825.4 2072.9,813.0" fill="#ffb3ba"/>
<polygon points="2096.5,818.4 2102.3,821.9 2105.5,825.4 2102.7,830.8 2095.6,835.0 2093.5,833.6 2089.8,829.5 2090.3,821.5" fill="#f5f3b3"/>
<polygon points="2111.8,838.0 2102.4,832.7 2101.6,820.6 2108.2,815.4 2117.6,816.2 2124.6,821.4 2125.7,835.5 2116.6,839.5" fill="#a8dcf5"/>
<polygon points="2082.1,832.6 2090.9,834.0 2098.4,843.4 2094.1,857.0 2076.6,853.5 2070.2,846.4" fill="#d5e8b0"/>
<polygon points="2065.7,851.6 2069.4,849.9 2074.7,850.3 2082.7,854.9 2082.1,858.8 2077.8,867.7 2071.5,868.6 2067.2,865.4 2062.2,860.2" fill="#a8dcf5"/>
<polygon points="2113.3,838.3 2115.7,842.8 2115.0,847.5 2110.4,849.5 2104.1,846.3 2103.4,839.6 2105.2,837.2" fill="#fcd5b5"/>
<polygon points="2046.8,808.2 2054.8,821.5 2052.9,838.7 2045.3,846.0 2032.1,845.0 2020.7,840.0 2008.3,827.8 2017.4,809.4 2027.1,805.4" fill="#a7d8a8"/>
<polygon points="2038.7,819.3 2032.0,822.8 2027.0,822.8 2020.9,817.6 2024.3,808.1 2029.2,805.1 2035.0,805.2 2039.7,814.0" fill="#b5e5e0"/>
<polygon points="2029.3,833.6 2041.5,830.7 2054.6,844.6 2051.3,856.8 2045.5,865.6 2026.0,863.9 2019.2,855.1 2023.0,835.6" fill="#cbb8e6"/>
<polygon points="2024.6,836.1 2021.8,845.7 2018.3,847.7 2011.2,847.3 2006.2,839.6 2006.6,835.4 2012.9,829.4 2019.2,828.3 2023.7,833.0" fill="#a8dcf5"/>
<polygon points="2052.5,817.0 2044.1,810.4 2045.3,802.5 2054.0,800.2 2058.7,804.5 2059.0,813.9" fill="#cbb8e6"/>
<polygon points="1994.7,818.9 2006.9,820.2 2007.9,831.9 1997.9,842.1 1990.2,839.2 1985.1,827.9" fill="#fcd5b5"/>
<polygon points="1991.2,826.6 1981.7,833.3 1975.5,828.2 1971.7,825.5 1971.7,815.8 1977.4,811.3 1984.3,809.1 1991.1,812.5 1993.6,818.4" fill="#cbb8e6"/>
<polygon points="1963.2,822.3 1964.8,815.7 1966.9,813.1 1975.3,814.7 1975.7,819.3 1973.5,823.1 1967.2,824.6" fill="#f9b8d4"/>
<polygon points="1978.0,824.1 1981.6,826.0 1981.9,829.5 1980.9,835.3 1973.9,835.8 1971.4,834.2 1969.6,827.3 1973.9,823.7" fill="#c8e6a8"/>
<polygon points="2002.0,807.0 2001.9,812.9 1998.2,818.5 1992.7,817.5 1987.5,813.2 1986.1,810.1 1987.4,804.6 1993.5,801.0 1998.9,802.5" fill="#f9b8d4"/>
<polygon points="2011.4,796.1 2000.8,801.3 1989.9,796.7 1988.9,778.5 1996.5,776.1 2008.3,780.1" fill="#b3c7ee"/>
<polygon points="1964.4,765.5 1974.4,766.3 1981.3,770.3 1983.6,776.0 1982.3,783.1 1973.1,788.6 1964.7,790.0 1960.7,783.5 1958.1,776.8" fill="#f5f3b3"/>
<polygon points="1982.4,780.3 1985.2,785.8 1983.6,793.3 1978.2,796.9 1973.7,794.1 1971.0,791.5 1970.6,786.0 1973.1,781.7 1977.8,780.3" fill="#c8e6a8"/>
<polygon points="1963.9,774.2 1963.6,765.4 1965.8,761.8 1972.1,759.3 1978.0,762.7 1979.2,765.0 1977.4,774.6 1974.2,775.9 1966.2,774.7" fill="#fcd5b5"/>
<polygon points="1957.3,804.0 1955.3,796.1 1962.0,793.6 1966.1,794.4 1967.5,803.8 1962.3,805.4" fill="#e0c8e8"/>
<polygon points="1939.1,841.2 1933.4,840.2 1932.2,836.6 1932.9,833.0 1937.7,831.4 1940.4,832.3 1940.8,837.4" fill="#f7c6e0"/>
<polygon points="1941.4,851.1 1947.5,851.1 1950.8,859.3 1945.3,866.6 1938.0,863.4 1936.0,858.7" fill="#c8e6a8"/>
<polygon points="1970.1,851.9 1966.6,859.5 1960.0,858.0 1956.6,855.1 1958.3,847.6 1966.6,848.1" fill="#c8e6a8"/>
<polygon points="2129.2,863.6 2122.7,857.4 2127.9,847.6 2138.7,840.9 2148.3,849.7 2149.2,857.3 2139.0,868.7" fill="#f5f3b3"/>
<polygon points="2213.2,844.9 2197.0,856.3 2184.6,853.9 2176.6,847.0 2179.0,827.7 2187.4,816.9 2194.3,815.1 2215.5,822.7 2215.3,830.2" fill="#d5e8b0"/>
<polygon points="2197.4,768.2 2182.7,763.1 2182.1,751.3 2187.4,738.9 2206.4,734.9 2209.6,741.0 2215.2,755.1 2210.5,763.6" fill="#c8e6a8"/>
<polygon points="2211.8,749.0 2208.2,747.7 2203.9,746.4 2200.3,739.0 2202.3,735.6 2207.2,733.5 2212.1,733.4 2217.4,737.7 2215.1,744.2" fill="#b3c7ee"/>
<polygon points="2208.4,751.4 2216.4,741.5 2226.6,742.7 2233.7,753.9 2225.8,763.0 2215.8,763.9" fill="#f9b8d4"/>
<polygon points="2224.8,751.4 2234.3,744.9 2241.5,743.4 2251.2,747.4 2254.5,758.5 2248.4,769.9 2235.6,770.0 2226.7,763.2" fill="#ffb3ba"/>
<polygon points="2244.3,767.1 2251.0,789.6 2235.0,803.6 2228.9,809.1 2209.9,799.6 2207.8,781.2 2218.0,766.9 2227.1,764.6" fill="#a7d8a8"/>
<polygon points="2194.6,789.7 2182.3,788.0 2179.3,772.3 2184.6,767.6 2200.3,767.3 2202.9,779.8" fill="#b7e4c7"/>
<polygon points="2220.6,803.1 2218.9,808.3 2211.8,813.9 2208.3,810.9 2204.9,809.3 2203.3,804.3 2208.0,797.4 2214.2,797.8 2216.9,798.0" fill="#fcd5b5"/>
<polygon points="2245.9,822.4 2241.7,823.6 2236.2,815.5 2241.1,811.1 2246.9,811.2 2249.6,816.9" fill="#a8dcf5"/>
<polygon points="2206.9,811.0 2211.0,816.4 2209.1,820.8 2204.3,822.3 2197.6,819.6 2197.7,815.3 2202.4,809.9" fill="#b7e4c7"/>
<polygon points="2228.3,845.5 2229.7,842.1 2232.3,840.9 2236.2,842.8 2237.5,845.9 2234.7,849.4 2230.1,849.1" fill="#b7e4c7"/>
<polygon points="1937.4,702.1 1931.9,702.4 1928.7,698.7 1928.8,692.6 1933.0,689.3 1937.7,690.8 1940.2,693.4 1939.5,698.5" fill="#cbb8e6"/>
<polygon points="1937.9,744.5 1938.4,749.4 1935.3,752.8 1931.0,753.1 1929.6,746.9 1932.4,743.6" fill="#cbb8e6"/>
<rect x="2201.8" y="805.2" width="4.5" height="3.5" fill="#6f6f6f" stroke="none"/>
<rect x="2048.8" y="739.2" width="2.8" height="4.2" fill="#6f6f6f" stroke="none"/>
<rect x="2029.7" y="576.8" width="3.2" height="5.3" fill="#6f6f6f" stroke="none"/>
<rect x="1997.8" y="628.1" width="2.6" height="4.7" fill="#6f6f6f" stroke="none"/>
<rect x="2123.2" y="602.1" width="3.2" height="3.8" fill="#6f6f6f" stroke="none"/>
<rect x="2206.2" y="696.3" width="4.9" height="3.3" fill="#6f6f6f" stroke="none"/>
<rect x="2167.0" y="839.2" width="5.3" height="4.2" fill="#6f6f6f" stroke="none"/>
<rect x="2076.5" y="822.2" width="2.8" height="2.8" fill="#6f6f6f" stroke="none"/>
<rect x="2176.9" y="696.9" width="3.0" height="3.7" fill="#6f6f6f" stroke="none"/>
<rect x="2084.8" y="580.5" width="2.7" height="5.4" fill="#6f6f6f" stroke="none"/>
<rect x="1940.9" y="838.9" width="3.6" height="4.9" fill="#6f6f6f" stroke="none"/>
<rect x="1997.4" y="628.0" width="3.1" height="4.4" fill="#6f6f6f" stroke="none"/>
<rect x="2213.3" y="799.7" width="4.0" height="3.4" fill="#6f6f6f" stroke="none"/>
<rect x="1967.6" y="731.1" width="3.1" height="4.3" fill="#6f6f6f" stroke="none"/>
<rect x="2073.1" y="573.9" width="3.9" height="2.8" fill="#6f6f6f" stroke="none"/>
<rect x="2126.4" y="551.6" width="4.3" height="5.3" fill="#6f6f6f" stroke="none"/>
<rect x="1998.3" y="613.4" width="3.4" height="4.2" fill="#6f6f6f" stroke="none"/>
<rect x="1998.4" y="613.7" width="4.5" height="2.5" fill="#6f6f6f" stroke="none"/>
<rect x="1995.0" y="664.8" width="5.1" height="4.6" fill="#6f6f6f" stroke="none"/>
<rect x="2195.4" y="754.1" width="2.8" height="4.8" fill="#6f6f6f" stroke="none"/>
<rect x="1991.2" y="790.2" width="3.6" height="3.8" fill="#6f6f6f" stroke="none"/>
<rect x="2018.1" y="642.5" width="4.6" height="4.8" fill="#6f6f6f" stroke="none"/>
<rect x="2149.9" y="763.9" width="4.7" height="4.7" fill="#6f6f6f" stroke="none"/>
<rect x="1942.4" y="549.3" width="2.6" height="5.1" fill="#6f6f6f" stroke="none"/>
<rect x="2156.5" y="654.4" width="4.6" height="4.6" fill="#6f6f6f" stroke="none"/>
<rect x="2033.1" y="740.4" width="3.6" height="3.2" fill="#6f6f6f" stroke="none"/>
<rect x="2177.3" y="558.7" width="5.3" height="5.3" fill="#6f6f6f" stroke="none"/>
<rect x="2013.0" y="667.9" width="4.0" height="4.3" fill="#6f6f6f" stroke="none"/>
<rect x="1940.6" y="794.6" width="5.1" height="4.7" fill="#6f6f6f" stroke="none"/>
<rect x="2096.6" y="603.1" width="3.6" height="5.0" fill="#6f6f6f" stroke="none"/>
<rect x="1988.1" y="559.7" width="3.5" height="5.3" fill="#6f6f6f" stroke="none"/>
<rect x="1999.5" y="775.1" width="2.6" height="5.2" fill="#6f6f6f" stroke="none"/>
<rect x="2090.4" y="636.6" width="2.6" height="5.2" fill="#6f6f6f" stroke="none"/>
<rect x="2069.6" y="731.2" width="2.7" height="3.1" fill="#6f6f6f" stroke="none"/>
<rect x="2016.5" y="727.0" width="5.5" height="4.9" fill="#6f6f6f" stroke="none"/>
<rect x="2221.4" y="679.9" width="4.4" height="3.0" fill="#6f6f6f" stroke="none"/>
<rect x="1975.2" y="784.8" width="3.1" height="5.2" fill="#6f6f6f" stroke="none"/>
<rect x="2176.6" y="801.3" width="3.5" height="3.1" fill="#6f6f6f" stroke="none"/>
<rect x="2145.0" y="833.3" width="5.4" height="5.5" fill="#6f6f6f" stroke="none"/>
<rect x="2014.6" y="779.3" width="5.5" height="5.0" fill="#6f6f6f" stroke="none"/>
<rect x="2083.7" y="727.6" width="4.3" height="3.5" fill="#6f6f6f" stroke="none"/>
<rect x="2231.8" y="782.3" width="2.7" height="3.6" fill="#6f6f6f" stroke="none"/>
<rect x="2104.9" y="844.1" width="3.8" height="3.3" fill="#6f6f6f" stroke="none"/>
<rect x="1997.4" y="702.2" width="5.2" height="4.0" fill="#6f6f6f" stroke="none"/>
<rect x="2131.5" y="752.4" width="2.8" height="5.4" fill="#6f6f6f" stroke="none"/>
<rect x="2238.6" y="599.9" width="4.5" height="5.1" fill="#6f6f6f" stroke="none"/>
<rect x="2084.1" y="814.8" width="4.1" height="3.7" fill="#6f6f6f" stroke="none"/>
<rect x="2086.9" y="807.9" width="3.8" height="2.7" fill="#6f6f6f" stroke="none"/>
<rect x="2014.3" y="725.6" width="4.8" height="5.5" fill="#6f6f6f" stroke="none"/>
<rect x="2126.8" y="858.9" width="3.1" height="5.4" fill="#6f6f6f" stroke="none"/>
<rect x="2005.2" y="602.0" width="4.7" height="4.5" fill="#6f6f6f" stroke="none"/>
<rect x="1932.3" y="748.8" width="4.1" height="5.3" fill="#6f6f6f" stroke="none"/>
<rect x="2159.5" y="575.1" width="4.8" height="4.6" fill="#6f6f6f" stroke="none"/>
<rect x="1995.0" y="609.2" width="4.2" height="5.3" fill="#6f6f6f" stroke="none"/>
<rect x="2074.1" y="717.9" width="2.6" height="2.7" fill="#6f6f6f" stroke="none"/>
<rect x="2221.8" y="685.8" width="5.1" height="4.3" fill="#6f6f6f" stroke="none"/>
<rect x="2205.7" y="817.1" width="4.3" height="3.8" fill="#6f6f6f" stroke="none"/>
<rect x="2172.2" y="756.5" width="2.7" height="3.5" fill="#6f6f6f" stroke="none"/>
<rect x="2060.4" y="588.0" width="4.7" height="3.9" fill="#6f6f6f" stroke="none"/>
<rect x="2055.8" y="646.3" width="3.2" height="5.4" fill="#6f6f6f" stroke="none"/>
<rect x="2119.5" y="662.0" width="3.8" height="4.1" fill="#6f6f6f" stroke="none"/>
<rect x="1935.2" y="746.0" width="4.5" height="4.0" fill="#6f6f6f" stroke="none"/>
<rect x="2116.8" y="573.9" width="4.4" height="4.0" fill="#6f6f6f" stroke="none"/>
<rect x="2099.5" y="583.7" width="3.3" height="3.5" fill="#6f6f6f" stroke="none"/>
<rect x="2106.0" y="802.6" width="4.5" height="4.0" fill="#6f6f6f" stroke="none"/>
<rect x="1939.7" y="769.0" width="3.9" height="5.0" fill="#6f6f6f" stroke="none"/>
<rect x="2134.1" y="702.3" width="4.4" height="4.8" fill="#6f6f6f" stroke="none"/>
<rect x="2137.8" y="829.2" width="5.2" height="3.6" fill="#6f6f6f" stroke="none"/>
<rect x="2199.7" y="646.5" width="4.9" height="4.0" fill="#6f6f6f" stroke="none"/>
<rect x="2180.7" y="843.8" width="3.9" height="3.8" fill="#6f6f6f" stroke="none"/>
<rect x="2163.0" y="840.2" width="4.8" height="5.0" fill="#6f6f6f" stroke="none"/>
<rect x="2220.8" y="741.1" width="5.1" height="3.1" fill="#6f6f6f" stroke="none"/>
<rect x="2034.4" y="733.8" width="4.1" height="3.9" fill="#6f6f6f" stroke="none"/>
<rect x="2132.7" y="743.5" width="3.5" height="3.0" fill="#6f6f6f" stroke="none"/>
<rect x="2235.4" y="651.2" width="3.9" height="2.9" fill="#6f6f6f" stroke="none"/>
<rect x="2026.5" y="730.7" width="3.1" height="5.0" fill="#6f6f6f" stroke="none"/>
<rect x="2238.9" y="719.1" width="2.8" height="2.9" fill="#6f6f6f" stroke="none"/>
<rect x="2154.6" y="767.6" width="4.3" height="4.4" fill="#6f6f6f" stroke="none"/>
<rect x="1936.7" y="656.4" width="5.0" height="5.1" fill="#6f6f6f" stroke="none"/>
<rect x="1938.2" y="670.3" width="4.4" height="4.4" fill="#6f6f6f" stroke="none"/>
</g>
<polygon points="241.4,117.0 560.0,117.0 560.0,436.0 241.4,436.0" fill="none" stroke="#000" stroke-width="3.0"/>
<polygon points="669.0,128.0 987.0,116.0 994.0,432.0 677.0,446.0" fill="none" stroke="#000" stroke-width="2.6"/>
<polygon points="1105.0,123.0 1423.0,120.0 1425.0,440.0 1107.5,442.5" fill="none" stroke="#000" stroke-width="2.8"/>
<polygon points="1515.0,115.7 1834.0,115.7 1834.0,433.3 1515.0,433.3" fill="none" stroke="#000" stroke-width="3.0"/>
<polygon points="1939.0,122.0 2258.0,122.0 2258.0,441.0 1939.0,441.0" fill="none" stroke="#000" stroke-width="2.0"/>
<polygon points="231.7,536.4 550.0,536.4 550.0,856.7 231.7,856.7" fill="none" stroke="#000" stroke-width="3.0"/>
<polygon points="660.0,548.0 978.0,536.0 984.3,853.3 666.7,867.0" fill="none" stroke="#000" stroke-width="2.6"/>
<polygon points="1095.0,543.0 1413.8,540.0 1416.0,861.0 1097.5,862.5" fill="none" stroke="#000" stroke-width="2.6"/>
<polygon points="1506.0,537.0 1825.0,536.0 1825.0,855.0 1506.0,855.0" fill="none" stroke="#000" stroke-width="2.8"/>
<polygon points="1929.0,543.0 2247.0,543.0 2248.5,861.0 1929.0,861.0" fill="none" stroke="#000" stroke-width="2.8"/>
<polyline points="231.7,1054.8 254.9,1145.3 278.0,1179.0 301.1,1206.3 324.3,1225.2 349.5,1237.8 372.6,1242.0 397.9,1242.0 416.8,1243.0" fill="none" stroke="#1f77b4" stroke-width="5.2" stroke-linejoin="round" stroke-linecap="round"/>
<polyline points="231.7,968.6 254.9,1120.0 276.9,1187.3 301.1,1201.0 322.2,1227.3 349.5,1242.0 370.5,1246.2 513.5,1246.6" fill="none" stroke="#ff7f0e" stroke-width="5.7" stroke-linejoin="round" stroke-linecap="butt"/>
<rect x="217.2" y="956.2" width="309.4" height="304.7" fill="none" stroke="#231f20" stroke-width="3.4"/>
<line x1="205.2" y1="992.8" x2="217.2" y2="992.8" stroke="#231f20" stroke-width="2.2"/>
<text transform="matrix(0.3494,0,0,0.3257,194.91,1004.85)" font-size="100" text-anchor="end" style="font-family:'DejaVu Sans', sans-serif" fill="#231f20">300</text>
<line x1="205.2" y1="1077.6" x2="217.2" y2="1077.6" stroke="#231f20" stroke-width="2.2"/>
<text transform="matrix(0.3494,0,0,0.3257,194.91,1089.65)" font-size="100" text-anchor="end" style="font-family:'DejaVu Sans', sans-serif" fill="#231f20">200</text>
<line x1="205.2" y1="1162.5" x2="217.2" y2="1162.5" stroke="#231f20" stroke-width="2.2"/>
<text transform="matrix(0.3494,0,0,0.3257,194.91,1174.55)" font-size="100" text-anchor="end" style="font-family:'DejaVu Sans', sans-serif" fill="#231f20">100</text>
<line x1="205.2" y1="1247.3" x2="217.2" y2="1247.3" stroke="#231f20" stroke-width="2.2"/>
<text transform="matrix(0.3494,0,0,0.3257,194.91,1259.35)" font-size="100" text-anchor="end" style="font-family:'DejaVu Sans', sans-serif" fill="#231f20">0</text>
<line x1="322.9" y1="1260.9" x2="322.9" y2="1272.4" stroke="#231f20" stroke-width="3.6"/>
<text transform="matrix(0.3494,0,0,0.3257,322.90,1310.52)" font-size="100" text-anchor="middle" style="font-family:'DejaVu Sans', sans-serif" fill="#231f20">25</text>
<line x1="439.9" y1="1260.9" x2="439.9" y2="1272.4" stroke="#231f20" stroke-width="3.6"/>
<text transform="matrix(0.3494,0,0,0.3257,439.90,1310.52)" font-size="100" text-anchor="middle" style="font-family:'DejaVu Sans', sans-serif" fill="#231f20">50</text>
<polyline points="666.7,968.6 689.9,1187.3 713.0,1235.7 744.5,1237.8 771.9,1239.9 797.1,1242.0 818.1,1243.0" fill="none" stroke="#1f77b4" stroke-width="5.2" stroke-linejoin="round" stroke-linecap="round"/>
<polyline points="665.7,986.5 688.8,1208.4 711.9,1237.8 735.1,1242.0 757.2,1246.2 948.5,1246.6" fill="none" stroke="#ff7f0e" stroke-width="5.7" stroke-linejoin="round" stroke-linecap="butt"/>
<rect x="652.2" y="956.2" width="308.2" height="304.7" fill="none" stroke="#231f20" stroke-width="3.4"/>
<line x1="640.2" y1="1036.0" x2="652.2" y2="1036.0" stroke="#231f20" stroke-width="2.2"/>
<text transform="matrix(0.3494,0,0,0.3257,629.91,1048.05)" font-size="100" text-anchor="end" style="font-family:'DejaVu Sans', sans-serif" fill="#231f20">400</text>
<line x1="640.2" y1="1141.5" x2="652.2" y2="1141.5" stroke="#231f20" stroke-width="2.2"/>
<text transform="matrix(0.3494,0,0,0.3257,629.91,1153.55)" font-size="100" text-anchor="end" style="font-family:'DejaVu Sans', sans-serif" fill="#231f20">200</text>
<line x1="640.2" y1="1247.2" x2="652.2" y2="1247.2" stroke="#231f20" stroke-width="2.2"/>
<text transform="matrix(0.3494,0,0,0.3257,629.91,1259.25)" font-size="100" text-anchor="end" style="font-family:'DejaVu Sans', sans-serif" fill="#231f20">0</text>
<line x1="757.1" y1="1260.9" x2="757.1" y2="1272.4" stroke="#231f20" stroke-width="3.6"/>
<text transform="matrix(0.3494,0,0,0.3257,757.10,1310.52)" font-size="100" text-anchor="middle" style="font-family:'DejaVu Sans', sans-serif" fill="#231f20">25</text>
<line x1="874.2" y1="1260.9" x2="874.2" y2="1272.4" stroke="#231f20" stroke-width="3.6"/>
<text transform="matrix(0.3494,0,0,0.3257,874.20,1310.52)" font-size="100" text-anchor="middle" style="font-family:'DejaVu Sans', sans-serif" fill="#231f20">50</text>
<polyline points="1100.2,1084.9 1124.2,1004.9 1146.8,1120.8 1170.0,1130.7 1194.9,1177.4 1217.5,1216.1 1240.1,1225.4 1263.6,1242.4 1286.8,1243.8 1296.7,1246.1 1322.1,1246.1 1336.2,1243.3 1382.9,1243.3" fill="none" stroke="#1f77b4" stroke-width="5.2" stroke-linejoin="round" stroke-linecap="round"/>
<polyline points="1100.2,966.8 1124.2,1137.8 1146.8,1161.8 1170.0,1200.0 1194.0,1182.5 1217.5,1203.7 1240.1,1216.1 1263.6,1221.2 1286.8,1242.4 1298.0,1243.8 1322.0,1244.4 1333.4,1242.4 1347.5,1245.2 1382.9,1246.1" fill="none" stroke="#ff7f0e" stroke-width="5.7" stroke-linejoin="round" stroke-linecap="butt"/>
<rect x="1086.0" y="956.2" width="309.0" height="304.7" fill="none" stroke="#231f20" stroke-width="3.4"/>
<line x1="1074.0" y1="1042.5" x2="1086.0" y2="1042.5" stroke="#231f20" stroke-width="2.2"/>
<text transform="matrix(0.3494,0,0,0.3257,1063.71,1054.55)" font-size="100" text-anchor="end" style="font-family:'DejaVu Sans', sans-serif" fill="#231f20">100</text>
<line x1="1074.0" y1="1144.9" x2="1086.0" y2="1144.9" stroke="#231f20" stroke-width="2.2"/>
<text transform="matrix(0.3494,0,0,0.3257,1063.71,1156.95)" font-size="100" text-anchor="end" style="font-family:'DejaVu Sans', sans-serif" fill="#231f20">50</text>
<line x1="1074.0" y1="1247.2" x2="1086.0" y2="1247.2" stroke="#231f20" stroke-width="2.2"/>
<text transform="matrix(0.3494,0,0,0.3257,1063.71,1259.25)" font-size="100" text-anchor="end" style="font-family:'DejaVu Sans', sans-serif" fill="#231f20">0</text>
<line x1="1191.5" y1="1260.9" x2="1191.5" y2="1272.4" stroke="#231f20" stroke-width="3.6"/>
<text transform="matrix(0.3494,0,0,0.3257,1191.50,1310.52)" font-size="100" text-anchor="middle" style="font-family:'DejaVu Sans', sans-serif" fill="#231f20">25</text>
<line x1="1308.0" y1="1260.9" x2="1308.0" y2="1272.4" stroke="#231f20" stroke-width="3.6"/>
<text transform="matrix(0.3494,0,0,0.3257,1308.00,1310.52)" font-size="100" text-anchor="middle" style="font-family:'DejaVu Sans', sans-serif" fill="#231f20">50</text>
<polyline points="1533.0,983.7 1551.4,1139.2 1555.6,1188.7 1579.6,1217.0 1602.3,1221.2 1626.3,1228.3 1650.3,1219.8 1672.9,1217.0 1695.5,1234.0 1718.2,1241.0 1742.2,1243.8 1766.2,1245.2 1817.0,1246.0" fill="none" stroke="#1f77b4" stroke-width="5.2" stroke-linejoin="round" stroke-linecap="round"/>
<polyline points="1534.4,968.2 1557.0,1140.6 1581.0,1188.7 1605.1,1218.4 1629.1,1218.4 1651.7,1218.4 1674.3,1221.2 1696.9,1231.1 1719.6,1240.4 1742.2,1241.0 1764.8,1246.0 1783.2,1243.8 1800.2,1244.4 1817.0,1246.6" fill="none" stroke="#ff7f0e" stroke-width="5.7" stroke-linejoin="round" stroke-linecap="butt"/>
<rect x="1520.3" y="956.2" width="308.1" height="304.7" fill="none" stroke="#231f20" stroke-width="3.4"/>
<line x1="1508.3" y1="1012.0" x2="1520.3" y2="1012.0" stroke="#231f20" stroke-width="2.2"/>
<text transform="matrix(0.3494,0,0,0.3257,1498.01,1024.05)" font-size="100" text-anchor="end" style="font-family:'DejaVu Sans', sans-serif" fill="#231f20">200</text>
<line x1="1508.3" y1="1129.3" x2="1520.3" y2="1129.3" stroke="#231f20" stroke-width="2.2"/>
<text transform="matrix(0.3494,0,0,0.3257,1498.01,1141.35)" font-size="100" text-anchor="end" style="font-family:'DejaVu Sans', sans-serif" fill="#231f20">100</text>
<line x1="1508.3" y1="1247.2" x2="1520.3" y2="1247.2" stroke="#231f20" stroke-width="2.2"/>
<text transform="matrix(0.3494,0,0,0.3257,1498.01,1259.25)" font-size="100" text-anchor="end" style="font-family:'DejaVu Sans', sans-serif" fill="#231f20">0</text>
<line x1="1625.7" y1="1260.9" x2="1625.7" y2="1272.4" stroke="#231f20" stroke-width="3.6"/>
<text transform="matrix(0.3494,0,0,0.3257,1625.70,1310.52)" font-size="100" text-anchor="middle" style="font-family:'DejaVu Sans', sans-serif" fill="#231f20">25</text>
<line x1="1741.6" y1="1260.9" x2="1741.6" y2="1272.4" stroke="#231f20" stroke-width="3.6"/>
<text transform="matrix(0.3494,0,0,0.3257,1741.60,1310.52)" font-size="100" text-anchor="middle" style="font-family:'DejaVu Sans', sans-serif" fill="#231f20">50</text>
<polyline points="1968.5,968.2 1992.0,1167.5 2016.0,1190.1 2038.6,1228.3 2061.2,1230.3 2083.9,1234.0 2106.5,1239.6 2129.1,1241.0 2151.7,1242.4 2189.9,1243.8" fill="none" stroke="#1f77b4" stroke-width="5.2" stroke-linejoin="round" stroke-linecap="round"/>
<polyline points="1968.5,1062.9 1991.1,1173.1 2014.6,1204.2 2037.2,1219.8 2059.8,1232.5 2083.9,1229.7 2106.5,1239.6 2129.1,1243.3 2151.7,1246.1 2252.0,1246.1" fill="none" stroke="#ff7f0e" stroke-width="5.7" stroke-linejoin="round" stroke-linecap="butt"/>
<rect x="1954.4" y="956.2" width="309.6" height="304.7" fill="none" stroke="#231f20" stroke-width="3.4"/>
<line x1="1942.4" y1="1012.0" x2="1954.4" y2="1012.0" stroke="#231f20" stroke-width="2.2"/>
<text transform="matrix(0.3494,0,0,0.3257,1932.11,1024.05)" font-size="100" text-anchor="end" style="font-family:'DejaVu Sans', sans-serif" fill="#231f20">300</text>
<line x1="1942.4" y1="1090.3" x2="1954.4" y2="1090.3" stroke="#231f20" stroke-width="2.2"/>
<text transform="matrix(0.3494,0,0,0.3257,1932.11,1102.35)" font-size="100" text-anchor="end" style="font-family:'DejaVu Sans', sans-serif" fill="#231f20">200</text>
<line x1="1942.4" y1="1168.9" x2="1954.4" y2="1168.9" stroke="#231f20" stroke-width="2.2"/>
<text transform="matrix(0.3494,0,0,0.3257,1932.11,1180.95)" font-size="100" text-anchor="end" style="font-family:'DejaVu Sans', sans-serif" fill="#231f20">100</text>
<line x1="1942.4" y1="1247.2" x2="1954.4" y2="1247.2" stroke="#231f20" stroke-width="2.2"/>
<text transform="matrix(0.3494,0,0,0.3257,1932.11,1259.25)" font-size="100" text-anchor="end" style="font-family:'DejaVu Sans', sans-serif" fill="#231f20">0</text>
<line x1="2060.4" y1="1260.9" x2="2060.4" y2="1272.4" stroke="#231f20" stroke-width="3.6"/>
<text transform="matrix(0.3494,0,0,0.3257,2060.40,1310.52)" font-size="100" text-anchor="middle" style="font-family:'DejaVu Sans', sans-serif" fill="#231f20">25</text>
<line x1="2177.2" y1="1260.9" x2="2177.2" y2="1272.4" stroke="#231f20" stroke-width="3.6"/>
<text transform="matrix(0.3494,0,0,0.3257,2177.20,1310.52)" font-size="100" text-anchor="middle" style="font-family:'DejaVu Sans', sans-serif" fill="#231f20">50</text>
<line x1="1732.4" y1="1360.8" x2="1941" y2="1360.8" stroke="#ff8a00" stroke-width="3.6"/><line x1="1732.4" y1="1405.7" x2="1941" y2="1405.7" stroke="#00aeef" stroke-width="5"/>
<text transform="matrix(0.3407,0.0000,0.0000,0.4039,359.1559,57.8961)" font-size="100" style="font-family:'DejaVu Sans', sans-serif;font-stretch:normal" fill="#000">C1</text>
<text transform="matrix(0.3761,0.0000,0.0000,0.4039,787.7436,57.8961)" font-size="100" style="font-family:'DejaVu Sans', sans-serif;font-stretch:normal" fill="#000">C2</text>
<text transform="matrix(0.3443,0.0000,0.0000,0.4205,1218.6557,58.3000)" font-size="100" style="font-family:'DejaVu Sans', sans-serif;font-stretch:normal" fill="#000">V1</text>
<text transform="matrix(0.3430,0.0000,0.0000,0.4149,1633.1570,58.3000)" font-size="100" style="font-family:'DejaVu Sans', sans-serif;font-stretch:normal" fill="#000">V2</text>
<text transform="matrix(0.3382,0.0000,0.0000,0.4093,2049.6618,57.8907)" font-size="100" style="font-family:'DejaVu Sans', sans-serif;font-stretch:normal" fill="#000">V3</text>
<text transform="matrix(0.3663,0.0000,0.0000,0.4348,27.1023,273.0472)" font-size="100" style="font-family:'DejaVu Sans', sans-serif;font-stretch:normal" fill="#000">a)</text>
<text transform="matrix(0.3871,0.0000,0.0000,0.4337,27.6165,698.7618)" font-size="100" style="font-family:'DejaVu Sans', sans-serif;font-stretch:normal" fill="#000">b)</text>
<text transform="matrix(0.3937,0.0000,0.0000,0.4281,26.1380,1109.3348)" font-size="100" style="font-family:'DejaVu Sans', sans-serif;font-stretch:normal" fill="#000">c)</text>
<text transform="matrix(0.0000,-0.3465,0.3124,0.0000,150.3402,382.4652)" font-size="100" style="font-family:'DejaVu Sans', sans-serif;font-stretch:normal" fill="#000">Field surveyed</text>
<text transform="matrix(0.0000,-0.3552,0.3973,0.0000,202.0000,289.5522)" font-size="100" style="font-family:'DejaVu Sans', sans-serif;font-stretch:normal" fill="#000">DBH</text>
<text transform="matrix(0.0000,-0.3638,0.3776,0.0000,143.0224,802.7743)" font-size="100" style="font-family:'DejaVu Sans', sans-serif;font-stretch:normal" fill="#000">UAV-LS tree</text>
<text transform="matrix(0.0000,-0.3426,0.3608,0.0000,190.0227,808.3131)" font-size="100" style="font-family:'DejaVu Sans', sans-serif;font-stretch:normal" fill="#000">segmentation</text>
<text transform="matrix(0.0000,-0.3516,0.4070,0.0000,113.7930,1168.5648)" font-size="100" style="font-family:'DejaVu Sans', sans-serif;font-stretch:normal" fill="#231f20">no. trees</text>
<text transform="matrix(0.4200,0.0000,0.0000,0.4074,1151.7400,1406.0436)" font-size="100" style="font-family:'Liberation Sans', sans-serif;font-stretch:normal" fill="#231f20">DBH (cm)</text>
<text transform="matrix(0.3641,0.0000,0.0000,0.3757,1970.2868,1368.6243)" font-size="100" style="font-family:'Liberation Sans', sans-serif;font-stretch:normal" fill="#231f20">UAV-LS modelled</text>
<text transform="matrix(0.3691,0.0000,0.0000,0.3702,1970.7471,1416.0255)" font-size="100" style="font-family:'Liberation Sans', sans-serif;font-stretch:normal" fill="#231f20">Field-surveyed</text>
</svg></body></html>
